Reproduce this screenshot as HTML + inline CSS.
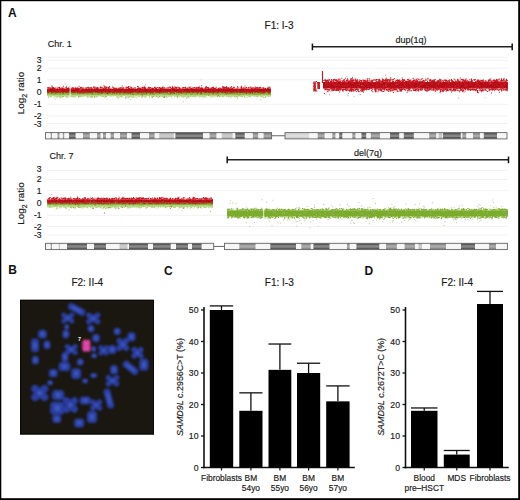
<!DOCTYPE html>
<html><head><meta charset="utf-8"><style>
html,body{margin:0;padding:0;background:#fff;width:520px;height:500px;overflow:hidden;}
svg{display:block;font-family:"Liberation Sans",sans-serif;}
text{stroke:#1a1a1a;stroke-width:0.16px;}
</style></head><body>
<svg width="520" height="500" viewBox="0 0 520 500" font-family="Liberation Sans, sans-serif">
<rect width="520" height="500" fill="#fff"/>
<text x="8" y="17.4" font-size="12" text-anchor="start" font-weight="bold" font-style="normal" fill="#111" style="stroke:none">A</text>
<text x="264.6" y="29" font-size="10" text-anchor="start" font-weight="normal" font-style="normal" fill="#1a1a1a" >F1: I-3</text>
<text x="47.8" y="47" font-size="9" text-anchor="start" font-weight="normal" font-style="normal" fill="#1a1a1a" >Chr. 1</text>
<line x1="312.4" y1="46.8" x2="512.2" y2="46.8" stroke="#222" stroke-width="1.4"/>
<line x1="312.4" y1="43.599999999999994" x2="312.4" y2="50.199999999999996" stroke="#111" stroke-width="1.5"/>
<line x1="512.2" y1="43.599999999999994" x2="512.2" y2="50.199999999999996" stroke="#111" stroke-width="1.5"/>
<text x="395.6" y="43" font-size="9" text-anchor="start" font-weight="normal" font-style="normal" fill="#1a1a1a" >dup(1q)</text>
<line x1="47" y1="57.2" x2="508" y2="57.2" stroke="#eeeeee" stroke-width="0.7"/>
<line x1="47" y1="60.2" x2="508" y2="60.2" stroke="#eeeeee" stroke-width="0.7"/>
<line x1="47" y1="68.2" x2="508" y2="68.2" stroke="#eeeeee" stroke-width="0.7"/>
<line x1="47" y1="79.8" x2="508" y2="79.8" stroke="#eeeeee" stroke-width="0.7"/>
<line x1="47" y1="104.3" x2="508" y2="104.3" stroke="#eeeeee" stroke-width="0.7"/>
<line x1="47" y1="116" x2="508" y2="116" stroke="#eeeeee" stroke-width="0.7"/>
<line x1="47" y1="123.5" x2="508" y2="123.5" stroke="#eeeeee" stroke-width="0.7"/>
<text x="41.6" y="63.25" font-size="8.6" text-anchor="end" font-weight="normal" font-style="normal" fill="#1a1a1a" >3</text>
<text x="41.6" y="71.25" font-size="8.6" text-anchor="end" font-weight="normal" font-style="normal" fill="#1a1a1a" >2</text>
<text x="41.6" y="82.85" font-size="8.6" text-anchor="end" font-weight="normal" font-style="normal" fill="#1a1a1a" >1</text>
<text x="41.6" y="95.25" font-size="8.6" text-anchor="end" font-weight="normal" font-style="normal" fill="#1a1a1a" >0</text>
<text x="41.6" y="107.35" font-size="8.6" text-anchor="end" font-weight="normal" font-style="normal" fill="#1a1a1a" >-1</text>
<text x="41.6" y="119.05" font-size="8.6" text-anchor="end" font-weight="normal" font-style="normal" fill="#1a1a1a" >-2</text>
<text x="41.6" y="126.55" font-size="8.6" text-anchor="end" font-weight="normal" font-style="normal" fill="#1a1a1a" >-3</text>
<text transform="translate(23.6,93) rotate(-90)" font-size="9.9" text-anchor="middle" fill="#1a1a1a">Log<tspan font-size="7" dy="3.0">2</tspan><tspan dy="-3.0"> ratio</tspan></text>
<rect x="47" y="92.4" width="224" height="2.799999999999997" fill="#86b034"/>
<path d="M119.2 91.9h1.0v1.0h-1.0zM166.5 91.8h1.0v1.0h-1.0zM59.9 95.7h1.0v1.0h-1.0zM62.6 91.9h1.0v1.0h-1.0zM141.7 95.2h1.0v1.0h-1.0zM186.9 95.2h1.0v1.0h-1.0zM175.7 91.8h1.0v1.0h-1.0zM238.4 91.9h1.0v1.0h-1.0zM79.2 91.8h1.0v1.0h-1.0zM87.3 96.4h1.0v1.0h-1.0zM189.5 91.8h1.0v1.0h-1.0zM60.3 91.9h1.0v1.0h-1.0zM198.7 91.8h1.0v1.0h-1.0zM148.1 91.7h1.0v1.0h-1.0zM224.1 94.7h1.0v1.0h-1.0zM164.1 96.0h1.0v1.0h-1.0zM209.7 91.8h1.0v1.0h-1.0zM140.2 94.8h1.0v1.0h-1.0zM80.9 91.6h1.0v1.0h-1.0zM217.5 95.1h1.0v1.0h-1.0zM242.2 91.8h1.0v1.0h-1.0zM176.3 91.6h1.0v1.0h-1.0zM234.3 96.2h1.0v1.0h-1.0zM60.5 94.9h1.0v1.0h-1.0zM191.3 95.1h1.0v1.0h-1.0zM133.0 95.4h1.0v1.0h-1.0zM52.0 91.9h1.0v1.0h-1.0zM60.1 95.1h1.0v1.0h-1.0zM75.8 91.6h1.0v1.0h-1.0zM65.0 91.6h1.0v1.0h-1.0zM169.5 95.5h1.0v1.0h-1.0zM109.1 91.5h1.0v1.0h-1.0zM127.0 95.3h1.0v1.0h-1.0zM86.3 91.9h1.0v1.0h-1.0zM99.0 91.8h1.0v1.0h-1.0zM47.9 91.8h1.0v1.0h-1.0zM129.3 96.2h1.0v1.0h-1.0zM162.0 95.1h1.0v1.0h-1.0zM197.8 91.6h1.0v1.0h-1.0zM242.0 95.7h1.0v1.0h-1.0zM134.5 91.7h1.0v1.0h-1.0zM60.9 91.7h1.0v1.0h-1.0zM93.6 91.9h1.0v1.0h-1.0zM47.1 91.8h1.0v1.0h-1.0zM69.6 91.5h1.0v1.0h-1.0zM183.9 91.8h1.0v1.0h-1.0zM103.3 91.8h1.0v1.0h-1.0zM236.3 95.1h1.0v1.0h-1.0zM150.9 91.8h1.0v1.0h-1.0zM123.4 91.9h1.0v1.0h-1.0zM231.8 91.4h1.0v1.0h-1.0zM164.8 91.8h1.0v1.0h-1.0zM168.1 91.4h1.0v1.0h-1.0zM239.5 95.2h1.0v1.0h-1.0zM105.2 91.7h1.0v1.0h-1.0zM165.8 96.2h1.0v1.0h-1.0zM120.5 91.7h1.0v1.0h-1.0zM237.1 97.4h1.0v1.0h-1.0zM229.5 94.9h1.0v1.0h-1.0zM126.3 91.7h1.0v1.0h-1.0zM53.2 91.9h1.0v1.0h-1.0zM260.3 91.6h1.0v1.0h-1.0zM256.0 95.6h1.0v1.0h-1.0zM96.2 91.8h1.0v1.0h-1.0zM90.9 91.6h1.0v1.0h-1.0zM234.4 91.6h1.0v1.0h-1.0zM192.6 96.0h1.0v1.0h-1.0zM249.9 95.4h1.0v1.0h-1.0zM214.3 91.7h1.0v1.0h-1.0zM121.2 96.3h1.0v1.0h-1.0zM263.7 91.5h1.0v1.0h-1.0zM208.6 91.6h1.0v1.0h-1.0zM75.3 91.6h1.0v1.0h-1.0zM79.6 95.7h1.0v1.0h-1.0zM265.6 95.4h1.0v1.0h-1.0zM76.2 91.7h1.0v1.0h-1.0zM263.5 97.0h1.0v1.0h-1.0zM143.7 95.1h1.0v1.0h-1.0zM231.2 91.9h1.0v1.0h-1.0zM100.6 95.5h1.0v1.0h-1.0zM104.8 91.6h1.0v1.0h-1.0zM125.9 91.6h1.0v1.0h-1.0zM177.1 96.7h1.0v1.0h-1.0zM158.9 95.8h1.0v1.0h-1.0zM163.7 91.8h1.0v1.0h-1.0zM47.9 94.9h1.0v1.0h-1.0zM85.4 91.9h1.0v1.0h-1.0zM119.7 96.0h1.0v1.0h-1.0zM170.9 95.7h1.0v1.0h-1.0zM102.4 91.7h1.0v1.0h-1.0zM219.2 96.3h1.0v1.0h-1.0zM250.5 91.8h1.0v1.0h-1.0zM183.6 96.2h1.0v1.0h-1.0zM147.9 94.8h1.0v1.0h-1.0zM153.6 95.3h1.0v1.0h-1.0zM257.1 91.5h1.0v1.0h-1.0zM171.8 95.0h1.0v1.0h-1.0zM74.1 91.8h1.0v1.0h-1.0zM63.2 91.6h1.0v1.0h-1.0zM221.8 95.4h1.0v1.0h-1.0zM81.4 95.0h1.0v1.0h-1.0zM243.9 95.2h1.0v1.0h-1.0zM96.0 95.6h1.0v1.0h-1.0zM267.7 95.4h1.0v1.0h-1.0zM83.0 91.7h1.0v1.0h-1.0zM90.7 91.9h1.0v1.0h-1.0zM208.0 91.7h1.0v1.0h-1.0zM51.0 91.8h1.0v1.0h-1.0zM186.1 97.4h1.0v1.0h-1.0zM222.8 95.8h1.0v1.0h-1.0zM70.4 91.6h1.0v1.0h-1.0zM107.3 91.8h1.0v1.0h-1.0zM141.2 95.0h1.0v1.0h-1.0zM80.3 95.4h1.0v1.0h-1.0zM174.2 95.0h1.0v1.0h-1.0zM200.5 91.9h1.0v1.0h-1.0zM63.1 95.9h1.0v1.0h-1.0zM65.7 96.0h1.0v1.0h-1.0zM61.9 95.6h1.0v1.0h-1.0zM170.3 95.0h1.0v1.0h-1.0zM106.7 91.8h1.0v1.0h-1.0zM71.4 91.9h1.0v1.0h-1.0zM58.2 91.8h1.0v1.0h-1.0zM216.4 91.7h1.0v1.0h-1.0zM158.5 91.9h1.0v1.0h-1.0zM102.9 91.9h1.0v1.0h-1.0zM210.5 95.1h1.0v1.0h-1.0zM255.4 91.7h1.0v1.0h-1.0zM229.6 91.5h1.0v1.0h-1.0zM134.7 94.8h1.0v1.0h-1.0zM200.4 95.7h1.0v1.0h-1.0zM204.6 96.3h1.0v1.0h-1.0zM137.2 91.8h1.0v1.0h-1.0zM62.8 94.9h1.0v1.0h-1.0zM104.0 91.6h1.0v1.0h-1.0zM241.1 95.7h1.0v1.0h-1.0zM109.9 91.8h1.0v1.0h-1.0zM82.1 91.7h1.0v1.0h-1.0zM105.7 95.9h1.0v1.0h-1.0zM101.5 94.9h1.0v1.0h-1.0zM116.0 91.7h1.0v1.0h-1.0zM152.8 94.7h1.0v1.0h-1.0zM91.8 95.5h1.0v1.0h-1.0zM67.0 91.9h1.0v1.0h-1.0zM56.3 91.9h1.0v1.0h-1.0zM177.6 95.4h1.0v1.0h-1.0zM214.4 95.1h1.0v1.0h-1.0zM133.9 91.5h1.0v1.0h-1.0zM266.6 91.9h1.0v1.0h-1.0zM56.8 96.1h1.0v1.0h-1.0zM245.9 94.9h1.0v1.0h-1.0zM78.1 96.5h1.0v1.0h-1.0zM159.5 95.3h1.0v1.0h-1.0zM177.2 96.5h1.0v1.0h-1.0zM199.3 94.7h1.0v1.0h-1.0zM76.7 91.9h1.0v1.0h-1.0zM70.4 96.0h1.0v1.0h-1.0zM186.6 95.2h1.0v1.0h-1.0zM156.1 91.8h1.0v1.0h-1.0zM159.2 96.3h1.0v1.0h-1.0zM194.0 91.9h1.0v1.0h-1.0zM63.6 91.7h1.0v1.0h-1.0zM209.6 91.9h1.0v1.0h-1.0zM157.2 91.4h1.0v1.0h-1.0zM153.8 94.8h1.0v1.0h-1.0zM190.3 91.6h1.0v1.0h-1.0zM79.9 91.9h1.0v1.0h-1.0zM173.6 91.7h1.0v1.0h-1.0zM60.5 91.8h1.0v1.0h-1.0zM197.7 91.6h1.0v1.0h-1.0zM162.2 91.8h1.0v1.0h-1.0zM246.3 91.9h1.0v1.0h-1.0zM265.1 95.8h1.0v1.0h-1.0zM229.8 94.8h1.0v1.0h-1.0zM147.2 91.8h1.0v1.0h-1.0zM94.0 97.0h1.0v1.0h-1.0zM78.6 95.2h1.0v1.0h-1.0zM229.9 94.9h1.0v1.0h-1.0zM244.8 94.9h1.0v1.0h-1.0zM155.4 91.5h1.0v1.0h-1.0zM47.8 91.7h1.0v1.0h-1.0zM78.4 91.8h1.0v1.0h-1.0zM117.5 96.4h1.0v1.0h-1.0zM234.1 91.9h1.0v1.0h-1.0zM253.6 95.4h1.0v1.0h-1.0zM130.0 91.8h1.0v1.0h-1.0zM269.7 95.4h1.0v1.0h-1.0zM108.4 91.7h1.0v1.0h-1.0zM69.7 95.2h1.0v1.0h-1.0zM102.6 91.4h1.0v1.0h-1.0zM160.9 91.6h1.0v1.0h-1.0zM244.2 96.5h1.0v1.0h-1.0zM187.7 95.9h1.0v1.0h-1.0zM207.5 91.8h1.0v1.0h-1.0zM210.3 91.9h1.0v1.0h-1.0zM110.8 91.6h1.0v1.0h-1.0zM253.7 91.7h1.0v1.0h-1.0zM113.4 94.9h1.0v1.0h-1.0zM264.7 91.8h1.0v1.0h-1.0zM171.3 91.8h1.0v1.0h-1.0zM84.3 91.8h1.0v1.0h-1.0zM157.8 91.5h1.0v1.0h-1.0zM249.1 95.2h1.0v1.0h-1.0zM89.9 91.9h1.0v1.0h-1.0zM123.3 91.9h1.0v1.0h-1.0zM174.0 95.5h1.0v1.0h-1.0zM214.2 91.7h1.0v1.0h-1.0zM131.0 91.8h1.0v1.0h-1.0zM60.8 91.8h1.0v1.0h-1.0zM159.3 94.8h1.0v1.0h-1.0zM239.4 91.9h1.0v1.0h-1.0zM136.1 91.8h1.0v1.0h-1.0zM259.7 94.8h1.0v1.0h-1.0zM54.2 94.9h1.0v1.0h-1.0zM246.7 91.9h1.0v1.0h-1.0zM134.3 94.7h1.0v1.0h-1.0zM231.1 95.4h1.0v1.0h-1.0zM71.3 91.9h1.0v1.0h-1.0zM163.5 96.2h1.0v1.0h-1.0zM191.4 95.3h1.0v1.0h-1.0zM149.0 96.4h1.0v1.0h-1.0zM98.9 95.1h1.0v1.0h-1.0zM190.9 91.8h1.0v1.0h-1.0zM188.9 95.2h1.0v1.0h-1.0zM72.0 91.6h1.0v1.0h-1.0zM133.5 91.9h1.0v1.0h-1.0zM181.0 91.8h1.0v1.0h-1.0zM260.8 95.8h1.0v1.0h-1.0zM244.1 91.9h1.0v1.0h-1.0zM261.2 95.4h1.0v1.0h-1.0zM115.5 91.6h1.0v1.0h-1.0zM140.7 91.9h1.0v1.0h-1.0zM195.8 94.7h1.0v1.0h-1.0zM122.4 91.8h1.0v1.0h-1.0zM199.2 91.8h1.0v1.0h-1.0zM159.6 91.6h1.0v1.0h-1.0zM263.3 91.8h1.0v1.0h-1.0zM96.4 95.4h1.0v1.0h-1.0zM112.8 95.3h1.0v1.0h-1.0zM96.8 91.9h1.0v1.0h-1.0zM195.4 95.3h1.0v1.0h-1.0zM94.5 95.5h1.0v1.0h-1.0zM78.6 91.7h1.0v1.0h-1.0zM247.3 95.1h1.0v1.0h-1.0zM210.4 95.5h1.0v1.0h-1.0zM88.4 95.1h1.0v1.0h-1.0zM213.4 91.8h1.0v1.0h-1.0zM130.4 91.7h1.0v1.0h-1.0zM84.7 91.9h1.0v1.0h-1.0zM260.1 91.7h1.0v1.0h-1.0zM262.0 91.7h1.0v1.0h-1.0zM230.3 91.6h1.0v1.0h-1.0zM58.0 91.6h1.0v1.0h-1.0zM90.0 91.6h1.0v1.0h-1.0zM247.0 91.6h1.0v1.0h-1.0zM218.0 91.7h1.0v1.0h-1.0zM54.8 91.8h1.0v1.0h-1.0zM213.6 95.1h1.0v1.0h-1.0zM122.6 91.6h1.0v1.0h-1.0zM105.5 95.1h1.0v1.0h-1.0zM117.6 91.6h1.0v1.0h-1.0zM251.4 94.7h1.0v1.0h-1.0zM257.3 91.9h1.0v1.0h-1.0zM260.4 95.8h1.0v1.0h-1.0zM133.2 91.7h1.0v1.0h-1.0zM254.0 91.8h1.0v1.0h-1.0zM226.0 95.5h1.0v1.0h-1.0zM182.4 91.6h1.0v1.0h-1.0zM118.3 91.9h1.0v1.0h-1.0zM91.0 95.1h1.0v1.0h-1.0zM102.1 91.7h1.0v1.0h-1.0zM119.6 95.0h1.0v1.0h-1.0zM244.0 94.7h1.0v1.0h-1.0zM68.5 91.8h1.0v1.0h-1.0zM205.3 91.9h1.0v1.0h-1.0zM185.3 95.7h1.0v1.0h-1.0zM213.8 95.0h1.0v1.0h-1.0zM234.5 91.8h1.0v1.0h-1.0zM173.4 91.9h1.0v1.0h-1.0zM102.2 91.8h1.0v1.0h-1.0zM81.2 95.5h1.0v1.0h-1.0zM135.3 95.1h1.0v1.0h-1.0zM160.1 91.8h1.0v1.0h-1.0zM268.0 91.6h1.0v1.0h-1.0zM152.9 95.9h1.0v1.0h-1.0zM56.0 91.5h1.0v1.0h-1.0zM73.6 91.6h1.0v1.0h-1.0zM254.4 91.9h1.0v1.0h-1.0zM240.1 91.9h1.0v1.0h-1.0zM257.9 91.6h1.0v1.0h-1.0zM179.9 94.9h1.0v1.0h-1.0zM78.5 91.7h1.0v1.0h-1.0zM103.8 95.1h1.0v1.0h-1.0zM49.5 91.8h1.0v1.0h-1.0zM198.3 91.8h1.0v1.0h-1.0zM224.3 95.3h1.0v1.0h-1.0zM61.1 91.7h1.0v1.0h-1.0zM189.5 91.7h1.0v1.0h-1.0zM83.5 95.4h1.0v1.0h-1.0zM115.6 95.1h1.0v1.0h-1.0zM116.7 95.3h1.0v1.0h-1.0zM239.7 95.5h1.0v1.0h-1.0zM128.1 91.9h1.0v1.0h-1.0zM48.3 95.4h1.0v1.0h-1.0zM141.5 96.4h1.0v1.0h-1.0zM149.8 91.7h1.0v1.0h-1.0zM50.3 96.1h1.0v1.0h-1.0zM66.9 96.4h1.0v1.0h-1.0zM129.7 95.2h1.0v1.0h-1.0zM163.2 95.3h1.0v1.0h-1.0zM71.3 91.7h1.0v1.0h-1.0zM91.0 91.4h1.0v1.0h-1.0zM257.3 95.0h1.0v1.0h-1.0zM253.5 91.9h1.0v1.0h-1.0zM248.6 95.0h1.0v1.0h-1.0zM222.2 91.8h1.0v1.0h-1.0zM137.2 95.0h1.0v1.0h-1.0zM95.6 91.8h1.0v1.0h-1.0zM162.5 91.8h1.0v1.0h-1.0zM208.6 95.2h1.0v1.0h-1.0zM56.2 94.7h1.0v1.0h-1.0zM233.9 91.8h1.0v1.0h-1.0zM180.7 95.3h1.0v1.0h-1.0zM140.7 95.3h1.0v1.0h-1.0zM141.9 95.7h1.0v1.0h-1.0zM52.2 95.1h1.0v1.0h-1.0zM156.2 91.9h1.0v1.0h-1.0zM149.2 91.6h1.0v1.0h-1.0zM152.5 91.8h1.0v1.0h-1.0zM67.5 91.7h1.0v1.0h-1.0zM160.8 91.8h1.0v1.0h-1.0zM210.6 95.0h1.0v1.0h-1.0zM161.1 91.7h1.0v1.0h-1.0zM259.0 91.9h1.0v1.0h-1.0zM238.1 94.9h1.0v1.0h-1.0zM90.2 96.5h1.0v1.0h-1.0zM156.7 95.2h1.0v1.0h-1.0zM222.8 95.0h1.0v1.0h-1.0zM61.6 91.9h1.0v1.0h-1.0zM246.9 91.8h1.0v1.0h-1.0zM228.9 91.5h1.0v1.0h-1.0zM93.5 91.9h1.0v1.0h-1.0zM159.8 91.8h1.0v1.0h-1.0zM83.0 94.8h1.0v1.0h-1.0zM198.6 95.6h1.0v1.0h-1.0zM72.7 96.2h1.0v1.0h-1.0zM188.9 91.7h1.0v1.0h-1.0zM176.3 95.6h1.0v1.0h-1.0zM70.3 95.4h1.0v1.0h-1.0zM224.9 91.8h1.0v1.0h-1.0zM267.9 95.8h1.0v1.0h-1.0zM145.6 91.6h1.0v1.0h-1.0zM212.8 91.8h1.0v1.0h-1.0zM189.6 95.4h1.0v1.0h-1.0zM177.6 94.7h1.0v1.0h-1.0zM54.5 91.9h1.0v1.0h-1.0zM184.4 91.5h1.0v1.0h-1.0zM76.4 91.9h1.0v1.0h-1.0zM192.6 91.7h1.0v1.0h-1.0zM70.7 91.9h1.0v1.0h-1.0zM97.0 95.3h1.0v1.0h-1.0zM186.1 91.8h1.0v1.0h-1.0zM77.0 94.7h1.0v1.0h-1.0zM68.4 95.3h1.0v1.0h-1.0zM241.3 95.3h1.0v1.0h-1.0zM49.6 95.2h1.0v1.0h-1.0zM172.4 91.8h1.0v1.0h-1.0zM256.0 95.6h1.0v1.0h-1.0zM102.4 95.9h1.0v1.0h-1.0zM137.5 91.8h1.0v1.0h-1.0zM60.0 96.0h1.0v1.0h-1.0zM256.8 91.9h1.0v1.0h-1.0zM91.5 96.1h1.0v1.0h-1.0zM228.4 91.9h1.0v1.0h-1.0zM116.0 91.5h1.0v1.0h-1.0zM221.6 95.3h1.0v1.0h-1.0zM48.4 94.7h1.0v1.0h-1.0zM212.4 91.7h1.0v1.0h-1.0zM97.4 91.9h1.0v1.0h-1.0zM121.8 95.0h1.0v1.0h-1.0zM202.0 94.9h1.0v1.0h-1.0zM170.5 91.7h1.0v1.0h-1.0zM222.8 94.8h1.0v1.0h-1.0zM262.2 91.6h1.0v1.0h-1.0zM243.3 91.9h1.0v1.0h-1.0zM212.9 95.4h1.0v1.0h-1.0zM213.4 91.8h1.0v1.0h-1.0zM100.3 95.3h1.0v1.0h-1.0zM187.6 96.1h1.0v1.0h-1.0zM151.7 97.1h1.0v1.0h-1.0zM202.6 96.2h1.0v1.0h-1.0zM174.2 91.8h1.0v1.0h-1.0zM94.3 96.6h1.0v1.0h-1.0zM79.2 91.7h1.0v1.0h-1.0zM70.8 95.0h1.0v1.0h-1.0zM53.4 91.8h1.0v1.0h-1.0zM201.5 95.2h1.0v1.0h-1.0zM61.7 96.2h1.0v1.0h-1.0zM128.0 95.6h1.0v1.0h-1.0zM61.7 96.6h1.0v1.0h-1.0zM250.9 95.2h1.0v1.0h-1.0zM72.0 91.8h1.0v1.0h-1.0zM236.0 95.9h1.0v1.0h-1.0zM187.8 91.6h1.0v1.0h-1.0zM69.3 91.9h1.0v1.0h-1.0zM118.2 91.8h1.0v1.0h-1.0zM51.7 91.8h1.0v1.0h-1.0zM129.1 91.6h1.0v1.0h-1.0zM262.0 95.5h1.0v1.0h-1.0zM53.9 91.7h1.0v1.0h-1.0zM144.3 95.6h1.0v1.0h-1.0zM166.9 91.6h1.0v1.0h-1.0zM239.3 91.8h1.0v1.0h-1.0zM47.3 91.8h1.0v1.0h-1.0zM217.0 95.9h1.0v1.0h-1.0zM156.6 94.7h1.0v1.0h-1.0zM88.1 91.7h1.0v1.0h-1.0zM105.1 96.2h1.0v1.0h-1.0zM110.3 91.8h1.0v1.0h-1.0zM71.5 95.8h1.0v1.0h-1.0zM65.0 95.3h1.0v1.0h-1.0zM187.0 91.6h1.0v1.0h-1.0zM136.5 91.8h1.0v1.0h-1.0zM245.1 91.8h1.0v1.0h-1.0zM93.0 91.7h1.0v1.0h-1.0zM131.6 95.4h1.0v1.0h-1.0zM99.1 91.6h1.0v1.0h-1.0zM214.9 95.0h1.0v1.0h-1.0zM124.7 91.7h1.0v1.0h-1.0zM194.6 96.3h1.0v1.0h-1.0zM84.8 91.9h1.0v1.0h-1.0zM75.1 91.6h1.0v1.0h-1.0zM244.4 91.8h1.0v1.0h-1.0zM203.8 95.5h1.0v1.0h-1.0zM81.5 91.9h1.0v1.0h-1.0zM163.4 91.7h1.0v1.0h-1.0zM120.2 91.6h1.0v1.0h-1.0zM69.7 95.0h1.0v1.0h-1.0zM69.7 91.5h1.0v1.0h-1.0zM210.5 91.9h1.0v1.0h-1.0zM90.8 95.2h1.0v1.0h-1.0zM133.6 91.8h1.0v1.0h-1.0zM136.0 95.1h1.0v1.0h-1.0zM188.0 91.7h1.0v1.0h-1.0zM78.6 96.1h1.0v1.0h-1.0zM249.5 91.7h1.0v1.0h-1.0zM175.0 95.3h1.0v1.0h-1.0zM208.1 95.0h1.0v1.0h-1.0zM219.6 95.6h1.0v1.0h-1.0zM190.1 91.7h1.0v1.0h-1.0zM116.8 95.6h1.0v1.0h-1.0zM221.5 95.3h1.0v1.0h-1.0zM187.4 91.7h1.0v1.0h-1.0zM185.6 91.8h1.0v1.0h-1.0zM197.6 95.3h1.0v1.0h-1.0zM220.5 91.6h1.0v1.0h-1.0zM156.2 95.9h1.0v1.0h-1.0zM82.9 95.0h1.0v1.0h-1.0zM256.8 95.8h1.0v1.0h-1.0zM167.7 95.5h1.0v1.0h-1.0zM161.2 95.3h1.0v1.0h-1.0zM138.5 95.8h1.0v1.0h-1.0zM93.8 96.0h1.0v1.0h-1.0zM74.3 95.8h1.0v1.0h-1.0zM126.3 91.9h1.0v1.0h-1.0zM50.0 91.7h1.0v1.0h-1.0zM140.8 95.2h1.0v1.0h-1.0zM97.0 95.3h1.0v1.0h-1.0zM256.6 95.0h1.0v1.0h-1.0zM134.4 91.5h1.0v1.0h-1.0zM75.8 95.2h1.0v1.0h-1.0zM151.6 96.0h1.0v1.0h-1.0zM97.4 95.6h1.0v1.0h-1.0zM229.6 95.8h1.0v1.0h-1.0zM151.4 91.8h1.0v1.0h-1.0zM232.9 91.9h1.0v1.0h-1.0zM236.7 91.8h1.0v1.0h-1.0zM142.0 91.8h1.0v1.0h-1.0zM47.6 94.8h1.0v1.0h-1.0zM114.3 91.8h1.0v1.0h-1.0zM142.6 95.2h1.0v1.0h-1.0zM254.1 95.5h1.0v1.0h-1.0zM59.7 96.2h1.0v1.0h-1.0zM78.3 95.7h1.0v1.0h-1.0zM188.2 91.4h1.0v1.0h-1.0zM193.3 91.9h1.0v1.0h-1.0zM69.6 91.9h1.0v1.0h-1.0zM124.3 91.6h1.0v1.0h-1.0zM248.6 95.7h1.0v1.0h-1.0zM182.7 96.5h1.0v1.0h-1.0zM196.1 95.2h1.0v1.0h-1.0zM91.0 96.6h1.0v1.0h-1.0zM165.4 96.6h1.0v1.0h-1.0zM170.8 91.7h1.0v1.0h-1.0zM99.2 91.8h1.0v1.0h-1.0zM151.2 91.9h1.0v1.0h-1.0zM156.6 91.5h1.0v1.0h-1.0zM48.5 95.2h1.0v1.0h-1.0zM151.4 95.7h1.0v1.0h-1.0zM130.6 91.6h1.0v1.0h-1.0z" fill="#86b034" opacity="1.0"/>
<rect x="47" y="95.0" width="224" height="1.2000000000000028" fill="#b8d888"/>
<path d="M261.2 94.4h1.0v1.0h-1.0zM53.4 96.6h1.0v1.0h-1.0zM199.2 96.8h1.0v1.0h-1.0zM160.9 94.3h1.0v1.0h-1.0zM247.2 94.5h1.0v1.0h-1.0zM122.5 96.8h1.0v1.0h-1.0zM128.7 94.3h1.0v1.0h-1.0zM94.0 94.5h1.0v1.0h-1.0zM141.2 96.0h1.0v1.0h-1.0zM231.6 94.4h1.0v1.0h-1.0zM159.3 94.2h1.0v1.0h-1.0zM193.0 95.8h1.0v1.0h-1.0zM120.8 94.5h1.0v1.0h-1.0zM188.6 96.7h1.0v1.0h-1.0zM55.9 96.5h1.0v1.0h-1.0zM58.1 94.4h1.0v1.0h-1.0zM48.4 94.4h1.0v1.0h-1.0zM193.7 96.2h1.0v1.0h-1.0zM249.9 96.5h1.0v1.0h-1.0zM202.3 96.5h1.0v1.0h-1.0zM198.9 94.4h1.0v1.0h-1.0zM217.1 94.4h1.0v1.0h-1.0zM87.4 94.5h1.0v1.0h-1.0zM193.2 94.3h1.0v1.0h-1.0zM230.4 96.3h1.0v1.0h-1.0zM114.4 94.5h1.0v1.0h-1.0zM118.0 94.4h1.0v1.0h-1.0zM59.2 97.1h1.0v1.0h-1.0zM55.8 94.5h1.0v1.0h-1.0zM251.9 94.4h1.0v1.0h-1.0zM50.2 94.3h1.0v1.0h-1.0zM265.7 94.4h1.0v1.0h-1.0zM139.0 94.5h1.0v1.0h-1.0zM80.8 94.4h1.0v1.0h-1.0zM48.1 97.2h1.0v1.0h-1.0zM66.7 97.1h1.0v1.0h-1.0zM75.8 94.5h1.0v1.0h-1.0zM210.6 94.4h1.0v1.0h-1.0zM58.2 96.1h1.0v1.0h-1.0zM209.7 94.3h1.0v1.0h-1.0zM187.2 97.5h1.0v1.0h-1.0zM103.7 96.2h1.0v1.0h-1.0zM206.9 94.4h1.0v1.0h-1.0zM229.3 94.5h1.0v1.0h-1.0zM116.4 96.5h1.0v1.0h-1.0zM155.5 94.3h1.0v1.0h-1.0zM129.0 96.8h1.0v1.0h-1.0zM79.3 96.2h1.0v1.0h-1.0zM128.0 96.3h1.0v1.0h-1.0zM133.0 96.3h1.0v1.0h-1.0zM257.7 96.3h1.0v1.0h-1.0zM60.5 96.0h1.0v1.0h-1.0zM203.8 96.2h1.0v1.0h-1.0zM265.0 96.6h1.0v1.0h-1.0zM181.1 94.3h1.0v1.0h-1.0zM131.0 96.4h1.0v1.0h-1.0zM181.2 95.9h1.0v1.0h-1.0zM47.4 94.4h1.0v1.0h-1.0zM141.2 96.4h1.0v1.0h-1.0zM56.4 97.2h1.0v1.0h-1.0zM228.0 96.3h1.0v1.0h-1.0zM236.8 96.0h1.0v1.0h-1.0zM199.7 95.9h1.0v1.0h-1.0zM170.5 96.0h1.0v1.0h-1.0zM91.7 96.2h1.0v1.0h-1.0zM182.3 95.9h1.0v1.0h-1.0zM150.8 94.5h1.0v1.0h-1.0zM223.5 94.3h1.0v1.0h-1.0zM66.6 95.8h1.0v1.0h-1.0zM176.2 96.3h1.0v1.0h-1.0zM244.4 96.8h1.0v1.0h-1.0zM89.2 94.5h1.0v1.0h-1.0zM87.3 96.4h1.0v1.0h-1.0zM136.8 96.5h1.0v1.0h-1.0zM80.2 94.4h1.0v1.0h-1.0zM70.7 95.7h1.0v1.0h-1.0zM222.6 94.4h1.0v1.0h-1.0zM162.8 94.4h1.0v1.0h-1.0zM54.5 96.3h1.0v1.0h-1.0zM173.5 94.4h1.0v1.0h-1.0zM220.8 94.3h1.0v1.0h-1.0zM229.6 96.2h1.0v1.0h-1.0zM103.6 94.5h1.0v1.0h-1.0zM65.7 94.4h1.0v1.0h-1.0zM171.3 97.6h1.0v1.0h-1.0zM249.9 94.4h1.0v1.0h-1.0zM180.4 94.3h1.0v1.0h-1.0zM104.4 97.1h1.0v1.0h-1.0zM189.9 96.1h1.0v1.0h-1.0zM147.0 94.4h1.0v1.0h-1.0zM262.4 95.7h1.0v1.0h-1.0zM104.1 94.5h1.0v1.0h-1.0zM248.3 95.8h1.0v1.0h-1.0zM222.4 95.9h1.0v1.0h-1.0zM191.2 96.1h1.0v1.0h-1.0zM215.4 95.9h1.0v1.0h-1.0zM197.9 94.4h1.0v1.0h-1.0zM70.5 94.4h1.0v1.0h-1.0zM104.3 94.4h1.0v1.0h-1.0zM100.2 94.5h1.0v1.0h-1.0zM198.1 94.5h1.0v1.0h-1.0zM55.0 96.2h1.0v1.0h-1.0zM96.2 96.8h1.0v1.0h-1.0zM78.2 94.3h1.0v1.0h-1.0zM68.6 96.3h1.0v1.0h-1.0zM147.9 94.4h1.0v1.0h-1.0zM230.5 94.5h1.0v1.0h-1.0zM96.4 94.5h1.0v1.0h-1.0zM206.2 96.7h1.0v1.0h-1.0zM106.4 94.3h1.0v1.0h-1.0zM81.7 94.5h1.0v1.0h-1.0zM84.4 94.4h1.0v1.0h-1.0zM117.9 97.4h1.0v1.0h-1.0zM59.7 97.2h1.0v1.0h-1.0zM196.0 94.4h1.0v1.0h-1.0zM104.5 94.5h1.0v1.0h-1.0zM128.2 97.5h1.0v1.0h-1.0zM68.8 94.5h1.0v1.0h-1.0zM246.9 94.5h1.0v1.0h-1.0zM265.2 94.4h1.0v1.0h-1.0zM227.0 94.5h1.0v1.0h-1.0zM232.6 95.7h1.0v1.0h-1.0zM88.4 94.4h1.0v1.0h-1.0zM174.4 94.5h1.0v1.0h-1.0zM87.2 95.8h1.0v1.0h-1.0zM64.7 94.4h1.0v1.0h-1.0zM182.7 94.5h1.0v1.0h-1.0zM183.6 96.2h1.0v1.0h-1.0zM228.0 95.8h1.0v1.0h-1.0zM210.4 94.5h1.0v1.0h-1.0zM207.9 94.5h1.0v1.0h-1.0zM234.7 96.4h1.0v1.0h-1.0zM156.9 94.4h1.0v1.0h-1.0zM241.5 94.4h1.0v1.0h-1.0zM88.5 96.0h1.0v1.0h-1.0zM129.8 96.1h1.0v1.0h-1.0zM48.0 96.6h1.0v1.0h-1.0zM73.9 96.0h1.0v1.0h-1.0zM229.1 96.2h1.0v1.0h-1.0zM132.0 96.8h1.0v1.0h-1.0zM60.6 96.6h1.0v1.0h-1.0zM161.5 96.0h1.0v1.0h-1.0zM166.8 94.4h1.0v1.0h-1.0zM87.7 94.5h1.0v1.0h-1.0zM102.9 96.1h1.0v1.0h-1.0zM202.9 94.5h1.0v1.0h-1.0zM50.9 96.6h1.0v1.0h-1.0zM203.7 94.4h1.0v1.0h-1.0zM240.9 96.1h1.0v1.0h-1.0zM157.1 95.8h1.0v1.0h-1.0zM109.4 94.5h1.0v1.0h-1.0zM179.0 95.9h1.0v1.0h-1.0zM79.8 95.7h1.0v1.0h-1.0zM231.2 96.2h1.0v1.0h-1.0zM133.7 94.4h1.0v1.0h-1.0zM135.2 96.5h1.0v1.0h-1.0zM220.3 94.5h1.0v1.0h-1.0zM144.1 96.4h1.0v1.0h-1.0zM226.4 96.3h1.0v1.0h-1.0zM58.9 97.1h1.0v1.0h-1.0zM260.6 95.7h1.0v1.0h-1.0zM188.1 94.4h1.0v1.0h-1.0zM165.4 94.4h1.0v1.0h-1.0zM51.6 94.5h1.0v1.0h-1.0zM263.2 96.7h1.0v1.0h-1.0zM227.5 96.1h1.0v1.0h-1.0zM244.3 94.5h1.0v1.0h-1.0zM198.3 94.4h1.0v1.0h-1.0zM167.9 96.1h1.0v1.0h-1.0zM163.0 94.4h1.0v1.0h-1.0zM259.0 94.5h1.0v1.0h-1.0zM73.8 96.8h1.0v1.0h-1.0zM260.2 95.8h1.0v1.0h-1.0zM166.0 94.4h1.0v1.0h-1.0zM74.6 94.5h1.0v1.0h-1.0zM111.3 94.4h1.0v1.0h-1.0zM66.6 96.3h1.0v1.0h-1.0zM174.1 96.6h1.0v1.0h-1.0zM91.9 96.7h1.0v1.0h-1.0zM183.7 94.5h1.0v1.0h-1.0zM116.2 94.5h1.0v1.0h-1.0zM132.4 96.6h1.0v1.0h-1.0zM49.6 94.5h1.0v1.0h-1.0zM171.1 94.4h1.0v1.0h-1.0zM110.5 96.1h1.0v1.0h-1.0zM82.4 94.3h1.0v1.0h-1.0zM241.3 94.4h1.0v1.0h-1.0zM145.1 96.0h1.0v1.0h-1.0zM71.4 94.3h1.0v1.0h-1.0zM81.5 94.5h1.0v1.0h-1.0zM125.6 96.9h1.0v1.0h-1.0zM230.1 96.7h1.0v1.0h-1.0zM211.7 95.8h1.0v1.0h-1.0zM222.0 96.6h1.0v1.0h-1.0zM251.0 94.5h1.0v1.0h-1.0zM217.7 95.8h1.0v1.0h-1.0zM158.0 96.4h1.0v1.0h-1.0zM221.8 96.1h1.0v1.0h-1.0zM182.4 94.4h1.0v1.0h-1.0zM208.2 94.5h1.0v1.0h-1.0zM134.1 96.2h1.0v1.0h-1.0zM222.5 96.2h1.0v1.0h-1.0zM158.4 94.5h1.0v1.0h-1.0zM79.3 96.3h1.0v1.0h-1.0zM176.7 94.4h1.0v1.0h-1.0zM235.1 96.0h1.0v1.0h-1.0zM260.8 94.3h1.0v1.0h-1.0zM49.4 94.4h1.0v1.0h-1.0zM173.0 94.3h1.0v1.0h-1.0zM167.1 96.4h1.0v1.0h-1.0zM162.4 96.0h1.0v1.0h-1.0zM126.8 96.4h1.0v1.0h-1.0zM125.3 96.1h1.0v1.0h-1.0zM69.1 94.4h1.0v1.0h-1.0zM136.4 97.2h1.0v1.0h-1.0zM262.1 94.4h1.0v1.0h-1.0zM145.2 96.4h1.0v1.0h-1.0zM165.2 95.7h1.0v1.0h-1.0zM85.1 94.3h1.0v1.0h-1.0zM161.3 94.5h1.0v1.0h-1.0zM246.5 96.7h1.0v1.0h-1.0zM245.1 94.2h1.0v1.0h-1.0zM81.9 94.4h1.0v1.0h-1.0zM88.9 94.5h1.0v1.0h-1.0zM187.5 97.2h1.0v1.0h-1.0zM188.9 94.2h1.0v1.0h-1.0zM138.7 96.1h1.0v1.0h-1.0zM47.9 94.4h1.0v1.0h-1.0zM234.8 96.0h1.0v1.0h-1.0zM158.0 96.2h1.0v1.0h-1.0zM106.3 98.4h1.0v1.0h-1.0zM175.1 94.4h1.0v1.0h-1.0zM74.1 94.5h1.0v1.0h-1.0zM69.3 94.5h1.0v1.0h-1.0zM163.5 96.8h1.0v1.0h-1.0zM60.9 94.4h1.0v1.0h-1.0zM218.8 94.5h1.0v1.0h-1.0zM84.8 94.4h1.0v1.0h-1.0zM69.2 96.3h1.0v1.0h-1.0zM147.3 94.5h1.0v1.0h-1.0zM59.2 97.5h1.0v1.0h-1.0zM145.0 96.7h1.0v1.0h-1.0zM102.6 94.3h1.0v1.0h-1.0zM117.2 96.4h1.0v1.0h-1.0zM228.9 94.3h1.0v1.0h-1.0zM157.5 96.9h1.0v1.0h-1.0zM101.2 94.5h1.0v1.0h-1.0zM115.9 96.3h1.0v1.0h-1.0zM155.0 95.7h1.0v1.0h-1.0zM126.9 94.4h1.0v1.0h-1.0zM263.7 94.5h1.0v1.0h-1.0zM166.0 94.5h1.0v1.0h-1.0zM136.9 94.4h1.0v1.0h-1.0zM125.3 94.4h1.0v1.0h-1.0zM89.6 94.5h1.0v1.0h-1.0zM195.1 94.5h1.0v1.0h-1.0zM81.8 96.2h1.0v1.0h-1.0zM233.2 94.5h1.0v1.0h-1.0zM145.9 95.9h1.0v1.0h-1.0zM125.7 96.1h1.0v1.0h-1.0zM131.0 96.2h1.0v1.0h-1.0zM159.6 94.3h1.0v1.0h-1.0zM148.0 94.5h1.0v1.0h-1.0zM247.6 96.3h1.0v1.0h-1.0zM129.1 94.4h1.0v1.0h-1.0zM241.5 94.5h1.0v1.0h-1.0zM161.4 95.9h1.0v1.0h-1.0zM132.8 97.1h1.0v1.0h-1.0zM173.6 94.5h1.0v1.0h-1.0zM86.5 95.9h1.0v1.0h-1.0zM118.6 96.5h1.0v1.0h-1.0zM127.6 96.4h1.0v1.0h-1.0zM113.2 94.5h1.0v1.0h-1.0zM75.1 96.2h1.0v1.0h-1.0zM110.0 94.4h1.0v1.0h-1.0zM243.9 96.4h1.0v1.0h-1.0zM76.5 94.4h1.0v1.0h-1.0zM195.0 94.5h1.0v1.0h-1.0zM139.0 95.9h1.0v1.0h-1.0zM235.8 94.4h1.0v1.0h-1.0zM187.2 94.3h1.0v1.0h-1.0zM210.7 96.9h1.0v1.0h-1.0zM56.0 94.5h1.0v1.0h-1.0zM114.6 94.4h1.0v1.0h-1.0zM55.7 94.5h1.0v1.0h-1.0zM234.2 96.1h1.0v1.0h-1.0zM206.8 94.4h1.0v1.0h-1.0zM124.8 94.4h1.0v1.0h-1.0zM233.0 95.8h1.0v1.0h-1.0zM237.5 95.9h1.0v1.0h-1.0zM57.6 94.4h1.0v1.0h-1.0zM93.9 96.6h1.0v1.0h-1.0zM214.1 94.5h1.0v1.0h-1.0zM213.7 96.5h1.0v1.0h-1.0zM109.7 94.4h1.0v1.0h-1.0zM254.4 96.0h1.0v1.0h-1.0zM211.7 96.3h1.0v1.0h-1.0zM59.1 96.3h1.0v1.0h-1.0zM142.5 96.1h1.0v1.0h-1.0zM216.9 94.5h1.0v1.0h-1.0z" fill="#b8d888" opacity="1.0"/>
<rect x="47" y="88.6" width="224" height="3.4000000000000057" fill="#cc1420"/>
<path d="M203.7 91.5h1.0v1.0h-1.0zM263.2 92.1h1.0v1.0h-1.0zM168.3 87.3h1.0v1.0h-1.0zM138.8 87.8h1.0v1.0h-1.0zM116.3 87.7h1.0v1.0h-1.0zM100.0 86.8h1.0v1.0h-1.0zM161.9 87.3h1.0v1.0h-1.0zM113.8 91.7h1.0v1.0h-1.0zM78.6 92.0h1.0v1.0h-1.0zM169.3 92.3h1.0v1.0h-1.0zM84.7 92.0h1.0v1.0h-1.0zM217.9 91.8h1.0v1.0h-1.0zM72.5 87.7h1.0v1.0h-1.0zM60.5 87.6h1.0v1.0h-1.0zM91.0 91.7h1.0v1.0h-1.0zM119.4 88.0h1.0v1.0h-1.0zM127.9 88.0h1.0v1.0h-1.0zM268.2 91.5h1.0v1.0h-1.0zM65.7 92.1h1.0v1.0h-1.0zM71.3 88.0h1.0v1.0h-1.0zM143.8 88.0h1.0v1.0h-1.0zM252.1 91.5h1.0v1.0h-1.0zM187.0 91.7h1.0v1.0h-1.0zM101.9 87.5h1.0v1.0h-1.0zM53.2 91.7h1.0v1.0h-1.0zM88.4 91.9h1.0v1.0h-1.0zM235.6 91.9h1.0v1.0h-1.0zM232.2 92.3h1.0v1.0h-1.0zM119.8 87.7h1.0v1.0h-1.0zM129.2 91.9h1.0v1.0h-1.0zM129.3 91.5h1.0v1.0h-1.0zM173.4 91.6h1.0v1.0h-1.0zM229.8 92.5h1.0v1.0h-1.0zM157.2 86.9h1.0v1.0h-1.0zM82.1 87.8h1.0v1.0h-1.0zM200.4 87.9h1.0v1.0h-1.0zM145.8 91.6h1.0v1.0h-1.0zM145.0 88.0h1.0v1.0h-1.0zM208.2 87.1h1.0v1.0h-1.0zM222.5 86.6h1.0v1.0h-1.0zM110.2 92.0h1.0v1.0h-1.0zM122.5 88.0h1.0v1.0h-1.0zM195.5 91.7h1.0v1.0h-1.0zM113.0 87.8h1.0v1.0h-1.0zM172.6 88.0h1.0v1.0h-1.0zM119.2 87.7h1.0v1.0h-1.0zM263.6 92.4h1.0v1.0h-1.0zM261.5 92.5h1.0v1.0h-1.0zM227.9 87.5h1.0v1.0h-1.0zM113.2 92.1h1.0v1.0h-1.0zM259.5 87.6h1.0v1.0h-1.0zM123.6 91.8h1.0v1.0h-1.0zM53.2 87.7h1.0v1.0h-1.0zM66.0 92.0h1.0v1.0h-1.0zM130.0 92.0h1.0v1.0h-1.0zM173.0 87.5h1.0v1.0h-1.0zM72.5 87.2h1.0v1.0h-1.0zM72.0 91.9h1.0v1.0h-1.0zM103.5 87.4h1.0v1.0h-1.0zM156.1 91.6h1.0v1.0h-1.0zM97.5 92.0h1.0v1.0h-1.0zM178.2 87.4h1.0v1.0h-1.0zM138.0 86.4h1.0v1.0h-1.0zM169.8 91.9h1.0v1.0h-1.0zM215.8 86.7h1.0v1.0h-1.0zM232.1 88.0h1.0v1.0h-1.0zM85.2 92.3h1.0v1.0h-1.0zM77.5 91.8h1.0v1.0h-1.0zM59.8 88.0h1.0v1.0h-1.0zM179.5 88.0h1.0v1.0h-1.0zM113.9 92.4h1.0v1.0h-1.0zM185.5 92.0h1.0v1.0h-1.0zM172.5 91.7h1.0v1.0h-1.0zM213.2 87.7h1.0v1.0h-1.0zM217.3 91.6h1.0v1.0h-1.0zM130.2 91.7h1.0v1.0h-1.0zM258.4 92.2h1.0v1.0h-1.0zM69.2 91.7h1.0v1.0h-1.0zM226.1 86.9h1.0v1.0h-1.0zM103.8 87.5h1.0v1.0h-1.0zM146.6 91.7h1.0v1.0h-1.0zM51.7 87.9h1.0v1.0h-1.0zM225.6 87.4h1.0v1.0h-1.0zM200.2 87.9h1.0v1.0h-1.0zM79.2 92.2h1.0v1.0h-1.0zM227.2 91.7h1.0v1.0h-1.0zM50.1 87.5h1.0v1.0h-1.0zM241.7 92.0h1.0v1.0h-1.0zM54.9 87.5h1.0v1.0h-1.0zM134.5 86.9h1.0v1.0h-1.0zM82.3 92.3h1.0v1.0h-1.0zM183.2 87.0h1.0v1.0h-1.0zM120.4 87.2h1.0v1.0h-1.0zM56.7 87.4h1.0v1.0h-1.0zM127.5 87.3h1.0v1.0h-1.0zM125.9 87.7h1.0v1.0h-1.0zM176.2 87.1h1.0v1.0h-1.0zM267.0 88.0h1.0v1.0h-1.0zM79.5 91.6h1.0v1.0h-1.0zM158.5 87.4h1.0v1.0h-1.0zM173.9 93.0h1.0v1.0h-1.0zM54.6 91.9h1.0v1.0h-1.0zM218.9 91.6h1.0v1.0h-1.0zM188.5 86.8h1.0v1.0h-1.0zM109.8 92.3h1.0v1.0h-1.0zM198.9 86.6h1.0v1.0h-1.0zM217.2 92.2h1.0v1.0h-1.0zM125.1 91.5h1.0v1.0h-1.0zM137.5 87.7h1.0v1.0h-1.0zM267.4 87.4h1.0v1.0h-1.0zM128.9 88.0h1.0v1.0h-1.0zM77.2 87.3h1.0v1.0h-1.0zM241.2 87.0h1.0v1.0h-1.0zM114.4 87.7h1.0v1.0h-1.0zM61.8 87.6h1.0v1.0h-1.0zM169.9 92.3h1.0v1.0h-1.0zM122.9 91.7h1.0v1.0h-1.0zM86.9 91.6h1.0v1.0h-1.0zM267.2 88.0h1.0v1.0h-1.0zM240.6 87.2h1.0v1.0h-1.0zM155.0 91.6h1.0v1.0h-1.0zM52.1 87.4h1.0v1.0h-1.0zM106.8 91.6h1.0v1.0h-1.0zM91.7 92.0h1.0v1.0h-1.0zM239.7 91.8h1.0v1.0h-1.0zM261.8 92.3h1.0v1.0h-1.0zM64.7 91.8h1.0v1.0h-1.0zM77.5 87.5h1.0v1.0h-1.0zM166.7 92.2h1.0v1.0h-1.0zM94.3 86.5h1.0v1.0h-1.0zM214.1 92.1h1.0v1.0h-1.0zM122.3 87.3h1.0v1.0h-1.0zM139.4 87.5h1.0v1.0h-1.0zM157.2 91.8h1.0v1.0h-1.0zM104.3 86.1h1.0v1.0h-1.0zM172.8 91.6h1.0v1.0h-1.0zM59.5 91.6h1.0v1.0h-1.0zM67.8 87.3h1.0v1.0h-1.0zM78.8 92.3h1.0v1.0h-1.0zM141.4 92.0h1.0v1.0h-1.0zM178.2 91.9h1.0v1.0h-1.0zM120.8 92.1h1.0v1.0h-1.0zM104.5 91.6h1.0v1.0h-1.0zM116.0 92.4h1.0v1.0h-1.0zM265.0 87.9h1.0v1.0h-1.0zM256.8 87.0h1.0v1.0h-1.0zM49.0 87.2h1.0v1.0h-1.0zM127.8 92.2h1.0v1.0h-1.0zM97.9 91.6h1.0v1.0h-1.0zM76.9 88.0h1.0v1.0h-1.0zM158.9 92.0h1.0v1.0h-1.0zM128.5 86.2h1.0v1.0h-1.0zM86.6 91.8h1.0v1.0h-1.0zM53.5 91.6h1.0v1.0h-1.0zM101.1 92.2h1.0v1.0h-1.0zM123.8 91.5h1.0v1.0h-1.0zM149.6 87.7h1.0v1.0h-1.0zM210.5 87.9h1.0v1.0h-1.0zM190.9 87.9h1.0v1.0h-1.0zM172.8 87.9h1.0v1.0h-1.0zM252.0 91.7h1.0v1.0h-1.0zM103.2 87.6h1.0v1.0h-1.0zM143.7 87.7h1.0v1.0h-1.0zM190.3 86.6h1.0v1.0h-1.0zM268.7 87.6h1.0v1.0h-1.0zM239.5 91.6h1.0v1.0h-1.0zM106.6 91.7h1.0v1.0h-1.0zM120.9 87.4h1.0v1.0h-1.0zM245.7 87.6h1.0v1.0h-1.0zM148.0 92.1h1.0v1.0h-1.0zM243.9 87.5h1.0v1.0h-1.0zM220.9 91.8h1.0v1.0h-1.0zM87.7 91.9h1.0v1.0h-1.0zM52.4 88.1h1.0v1.0h-1.0zM264.3 87.7h1.0v1.0h-1.0zM211.1 87.8h1.0v1.0h-1.0zM84.6 91.9h1.0v1.0h-1.0zM251.8 91.7h1.0v1.0h-1.0zM243.7 91.9h1.0v1.0h-1.0zM223.6 91.6h1.0v1.0h-1.0zM55.4 91.6h1.0v1.0h-1.0zM51.4 92.0h1.0v1.0h-1.0zM117.6 91.9h1.0v1.0h-1.0zM77.3 87.4h1.0v1.0h-1.0zM86.9 92.0h1.0v1.0h-1.0zM158.7 86.9h1.0v1.0h-1.0zM125.8 87.4h1.0v1.0h-1.0zM95.0 91.7h1.0v1.0h-1.0zM243.9 91.5h1.0v1.0h-1.0zM106.0 87.5h1.0v1.0h-1.0zM56.6 92.0h1.0v1.0h-1.0zM127.9 87.5h1.0v1.0h-1.0zM200.5 92.1h1.0v1.0h-1.0zM200.9 91.7h1.0v1.0h-1.0zM241.9 91.9h1.0v1.0h-1.0zM140.5 91.8h1.0v1.0h-1.0zM133.3 87.7h1.0v1.0h-1.0zM269.6 87.8h1.0v1.0h-1.0zM182.5 91.5h1.0v1.0h-1.0zM131.1 86.9h1.0v1.0h-1.0zM91.2 87.2h1.0v1.0h-1.0zM249.6 86.8h1.0v1.0h-1.0zM201.8 87.4h1.0v1.0h-1.0zM117.4 92.0h1.0v1.0h-1.0zM47.2 91.9h1.0v1.0h-1.0zM179.1 92.0h1.0v1.0h-1.0zM99.3 91.5h1.0v1.0h-1.0zM205.8 87.2h1.0v1.0h-1.0zM164.4 91.7h1.0v1.0h-1.0zM187.2 91.9h1.0v1.0h-1.0zM96.8 91.6h1.0v1.0h-1.0zM152.5 92.6h1.0v1.0h-1.0zM163.4 88.0h1.0v1.0h-1.0zM253.8 91.8h1.0v1.0h-1.0zM163.8 91.6h1.0v1.0h-1.0zM85.4 91.8h1.0v1.0h-1.0zM149.6 92.0h1.0v1.0h-1.0zM240.5 86.4h1.0v1.0h-1.0zM132.0 91.6h1.0v1.0h-1.0zM81.3 87.7h1.0v1.0h-1.0zM126.5 92.0h1.0v1.0h-1.0zM66.6 88.0h1.0v1.0h-1.0zM269.3 92.0h1.0v1.0h-1.0zM225.0 91.7h1.0v1.0h-1.0zM80.4 91.9h1.0v1.0h-1.0zM100.0 87.3h1.0v1.0h-1.0zM122.8 87.5h1.0v1.0h-1.0zM174.2 88.0h1.0v1.0h-1.0zM86.8 91.6h1.0v1.0h-1.0zM100.9 91.9h1.0v1.0h-1.0zM67.4 91.7h1.0v1.0h-1.0zM141.4 91.8h1.0v1.0h-1.0zM184.8 87.2h1.0v1.0h-1.0zM128.9 91.6h1.0v1.0h-1.0zM112.8 87.1h1.0v1.0h-1.0zM125.6 86.8h1.0v1.0h-1.0zM176.1 92.0h1.0v1.0h-1.0zM205.8 85.9h1.0v1.0h-1.0zM195.4 86.7h1.0v1.0h-1.0zM131.6 91.9h1.0v1.0h-1.0zM157.7 91.5h1.0v1.0h-1.0zM179.2 87.9h1.0v1.0h-1.0zM150.1 92.0h1.0v1.0h-1.0zM245.5 87.6h1.0v1.0h-1.0zM156.6 91.8h1.0v1.0h-1.0zM212.1 86.9h1.0v1.0h-1.0zM56.1 92.3h1.0v1.0h-1.0zM218.7 87.6h1.0v1.0h-1.0zM96.2 87.9h1.0v1.0h-1.0zM66.7 91.7h1.0v1.0h-1.0zM172.9 87.5h1.0v1.0h-1.0zM154.7 86.8h1.0v1.0h-1.0zM201.1 85.3h1.0v1.0h-1.0zM229.2 92.4h1.0v1.0h-1.0zM79.5 88.0h1.0v1.0h-1.0zM267.5 88.1h1.0v1.0h-1.0zM105.5 88.0h1.0v1.0h-1.0zM170.9 92.5h1.0v1.0h-1.0zM140.7 87.5h1.0v1.0h-1.0zM225.8 92.4h1.0v1.0h-1.0zM104.3 87.0h1.0v1.0h-1.0zM130.4 87.7h1.0v1.0h-1.0zM156.0 92.1h1.0v1.0h-1.0zM91.7 92.2h1.0v1.0h-1.0zM171.0 87.7h1.0v1.0h-1.0zM138.2 92.1h1.0v1.0h-1.0zM119.2 87.9h1.0v1.0h-1.0zM205.5 91.9h1.0v1.0h-1.0zM179.0 87.2h1.0v1.0h-1.0zM242.8 87.7h1.0v1.0h-1.0zM143.7 92.4h1.0v1.0h-1.0zM63.0 91.8h1.0v1.0h-1.0zM87.2 92.3h1.0v1.0h-1.0zM158.1 91.8h1.0v1.0h-1.0zM197.5 87.7h1.0v1.0h-1.0zM79.5 92.4h1.0v1.0h-1.0zM93.1 86.8h1.0v1.0h-1.0zM259.0 87.2h1.0v1.0h-1.0zM193.9 87.0h1.0v1.0h-1.0zM81.5 87.3h1.0v1.0h-1.0zM202.1 87.7h1.0v1.0h-1.0zM98.9 91.9h1.0v1.0h-1.0zM118.1 92.1h1.0v1.0h-1.0zM119.3 92.4h1.0v1.0h-1.0zM80.9 92.0h1.0v1.0h-1.0zM54.3 88.0h1.0v1.0h-1.0zM189.9 87.7h1.0v1.0h-1.0zM150.6 91.6h1.0v1.0h-1.0zM142.9 92.2h1.0v1.0h-1.0zM74.2 92.1h1.0v1.0h-1.0zM269.1 91.9h1.0v1.0h-1.0zM124.6 91.6h1.0v1.0h-1.0zM157.7 92.0h1.0v1.0h-1.0zM239.7 91.8h1.0v1.0h-1.0zM167.6 87.6h1.0v1.0h-1.0zM246.2 91.8h1.0v1.0h-1.0zM97.7 92.2h1.0v1.0h-1.0zM262.7 87.9h1.0v1.0h-1.0zM257.6 91.9h1.0v1.0h-1.0zM147.3 87.8h1.0v1.0h-1.0zM212.5 87.9h1.0v1.0h-1.0zM62.5 91.9h1.0v1.0h-1.0zM68.3 91.7h1.0v1.0h-1.0zM149.9 86.9h1.0v1.0h-1.0zM161.5 87.8h1.0v1.0h-1.0zM175.9 87.7h1.0v1.0h-1.0zM130.6 91.7h1.0v1.0h-1.0zM257.0 87.6h1.0v1.0h-1.0zM234.8 91.8h1.0v1.0h-1.0zM68.0 91.5h1.0v1.0h-1.0zM73.1 87.7h1.0v1.0h-1.0zM151.3 88.0h1.0v1.0h-1.0zM166.4 91.7h1.0v1.0h-1.0zM137.0 87.7h1.0v1.0h-1.0zM75.3 87.4h1.0v1.0h-1.0zM245.6 87.3h1.0v1.0h-1.0zM257.4 87.8h1.0v1.0h-1.0zM200.6 87.0h1.0v1.0h-1.0zM214.3 88.1h1.0v1.0h-1.0zM134.7 91.6h1.0v1.0h-1.0zM112.1 92.1h1.0v1.0h-1.0zM99.2 91.8h1.0v1.0h-1.0zM221.8 91.8h1.0v1.0h-1.0zM180.6 91.6h1.0v1.0h-1.0zM56.2 91.8h1.0v1.0h-1.0zM123.3 92.4h1.0v1.0h-1.0zM150.0 92.7h1.0v1.0h-1.0zM138.9 88.0h1.0v1.0h-1.0zM66.6 88.0h1.0v1.0h-1.0zM80.7 86.8h1.0v1.0h-1.0zM78.3 87.9h1.0v1.0h-1.0zM264.6 91.9h1.0v1.0h-1.0zM223.5 86.5h1.0v1.0h-1.0zM249.5 91.5h1.0v1.0h-1.0zM188.9 86.9h1.0v1.0h-1.0zM222.4 86.9h1.0v1.0h-1.0zM207.0 86.9h1.0v1.0h-1.0zM197.0 92.6h1.0v1.0h-1.0zM77.1 92.5h1.0v1.0h-1.0zM213.1 91.9h1.0v1.0h-1.0zM225.9 92.4h1.0v1.0h-1.0zM221.9 91.9h1.0v1.0h-1.0zM113.7 92.7h1.0v1.0h-1.0zM72.8 91.7h1.0v1.0h-1.0zM222.6 87.8h1.0v1.0h-1.0zM91.2 87.5h1.0v1.0h-1.0zM99.8 87.0h1.0v1.0h-1.0zM205.4 87.4h1.0v1.0h-1.0zM221.8 92.0h1.0v1.0h-1.0zM231.1 86.1h1.0v1.0h-1.0zM66.4 91.7h1.0v1.0h-1.0zM179.7 91.9h1.0v1.0h-1.0zM223.8 87.9h1.0v1.0h-1.0zM71.7 91.5h1.0v1.0h-1.0zM140.4 91.9h1.0v1.0h-1.0zM94.6 87.9h1.0v1.0h-1.0zM235.3 91.6h1.0v1.0h-1.0zM107.4 91.7h1.0v1.0h-1.0zM145.6 91.6h1.0v1.0h-1.0zM199.3 87.7h1.0v1.0h-1.0zM230.5 87.8h1.0v1.0h-1.0zM127.8 85.9h1.0v1.0h-1.0zM245.4 91.9h1.0v1.0h-1.0zM158.4 91.8h1.0v1.0h-1.0zM160.0 91.8h1.0v1.0h-1.0zM83.2 92.4h1.0v1.0h-1.0zM47.1 87.2h1.0v1.0h-1.0zM227.5 87.8h1.0v1.0h-1.0zM125.6 86.4h1.0v1.0h-1.0zM161.6 87.5h1.0v1.0h-1.0zM254.1 91.6h1.0v1.0h-1.0zM186.2 87.8h1.0v1.0h-1.0zM260.6 87.4h1.0v1.0h-1.0zM130.8 92.1h1.0v1.0h-1.0zM197.9 92.0h1.0v1.0h-1.0zM264.7 88.1h1.0v1.0h-1.0zM233.2 92.0h1.0v1.0h-1.0zM214.5 91.7h1.0v1.0h-1.0zM209.5 91.9h1.0v1.0h-1.0zM77.5 91.6h1.0v1.0h-1.0zM245.8 87.1h1.0v1.0h-1.0zM57.4 87.5h1.0v1.0h-1.0zM213.7 91.7h1.0v1.0h-1.0zM111.9 92.3h1.0v1.0h-1.0zM140.8 92.0h1.0v1.0h-1.0zM197.9 86.8h1.0v1.0h-1.0zM261.8 91.6h1.0v1.0h-1.0zM83.1 91.9h1.0v1.0h-1.0zM231.2 91.7h1.0v1.0h-1.0zM162.1 91.7h1.0v1.0h-1.0zM83.2 91.7h1.0v1.0h-1.0zM58.9 87.4h1.0v1.0h-1.0zM132.4 91.8h1.0v1.0h-1.0zM116.0 91.6h1.0v1.0h-1.0zM91.0 87.7h1.0v1.0h-1.0zM105.0 87.9h1.0v1.0h-1.0zM133.0 91.5h1.0v1.0h-1.0zM249.7 87.5h1.0v1.0h-1.0zM233.7 91.6h1.0v1.0h-1.0zM80.9 91.9h1.0v1.0h-1.0zM151.9 91.9h1.0v1.0h-1.0zM108.4 86.8h1.0v1.0h-1.0zM251.6 91.7h1.0v1.0h-1.0zM104.9 92.2h1.0v1.0h-1.0zM56.2 91.9h1.0v1.0h-1.0zM256.6 87.8h1.0v1.0h-1.0zM101.3 86.7h1.0v1.0h-1.0zM198.2 87.6h1.0v1.0h-1.0zM227.1 87.6h1.0v1.0h-1.0zM262.7 92.2h1.0v1.0h-1.0zM201.3 92.4h1.0v1.0h-1.0zM212.6 86.8h1.0v1.0h-1.0zM134.5 91.7h1.0v1.0h-1.0zM241.4 91.8h1.0v1.0h-1.0zM163.2 91.7h1.0v1.0h-1.0zM122.5 87.8h1.0v1.0h-1.0zM139.1 91.9h1.0v1.0h-1.0zM175.9 87.0h1.0v1.0h-1.0zM174.9 87.2h1.0v1.0h-1.0zM234.0 86.8h1.0v1.0h-1.0zM196.8 92.6h1.0v1.0h-1.0zM247.4 91.5h1.0v1.0h-1.0zM230.1 91.7h1.0v1.0h-1.0zM204.0 91.7h1.0v1.0h-1.0zM183.6 87.0h1.0v1.0h-1.0zM230.8 87.6h1.0v1.0h-1.0zM94.5 87.0h1.0v1.0h-1.0zM264.4 91.9h1.0v1.0h-1.0zM127.2 92.4h1.0v1.0h-1.0zM119.5 87.3h1.0v1.0h-1.0zM187.3 88.1h1.0v1.0h-1.0zM146.4 91.7h1.0v1.0h-1.0zM227.0 87.9h1.0v1.0h-1.0zM97.1 91.7h1.0v1.0h-1.0zM122.8 87.5h1.0v1.0h-1.0zM223.9 87.8h1.0v1.0h-1.0zM234.2 91.6h1.0v1.0h-1.0zM220.5 88.0h1.0v1.0h-1.0zM159.5 86.9h1.0v1.0h-1.0zM208.6 91.8h1.0v1.0h-1.0zM136.2 91.8h1.0v1.0h-1.0zM240.5 91.7h1.0v1.0h-1.0zM226.3 92.2h1.0v1.0h-1.0zM62.9 85.8h1.0v1.0h-1.0zM76.8 87.5h1.0v1.0h-1.0zM148.4 86.8h1.0v1.0h-1.0zM89.4 88.0h1.0v1.0h-1.0zM211.1 91.8h1.0v1.0h-1.0zM144.8 87.9h1.0v1.0h-1.0zM106.2 91.8h1.0v1.0h-1.0zM203.4 91.5h1.0v1.0h-1.0zM252.1 92.7h1.0v1.0h-1.0zM207.5 88.1h1.0v1.0h-1.0zM239.6 91.6h1.0v1.0h-1.0zM187.5 87.8h1.0v1.0h-1.0zM188.0 91.7h1.0v1.0h-1.0zM115.2 87.7h1.0v1.0h-1.0zM247.5 91.9h1.0v1.0h-1.0zM148.5 87.7h1.0v1.0h-1.0zM220.4 87.8h1.0v1.0h-1.0zM267.9 91.7h1.0v1.0h-1.0zM230.3 87.1h1.0v1.0h-1.0zM71.3 91.8h1.0v1.0h-1.0zM103.2 88.1h1.0v1.0h-1.0zM249.7 92.8h1.0v1.0h-1.0zM144.4 92.0h1.0v1.0h-1.0zM132.7 91.6h1.0v1.0h-1.0zM49.9 87.7h1.0v1.0h-1.0zM177.5 86.4h1.0v1.0h-1.0zM222.3 88.0h1.0v1.0h-1.0zM56.6 91.7h1.0v1.0h-1.0zM119.1 91.5h1.0v1.0h-1.0zM244.4 87.7h1.0v1.0h-1.0zM101.3 91.8h1.0v1.0h-1.0zM132.3 87.7h1.0v1.0h-1.0zM91.6 87.8h1.0v1.0h-1.0zM177.6 91.6h1.0v1.0h-1.0zM62.1 92.0h1.0v1.0h-1.0zM59.0 87.0h1.0v1.0h-1.0zM206.2 87.3h1.0v1.0h-1.0zM191.8 91.8h1.0v1.0h-1.0zM249.7 91.5h1.0v1.0h-1.0zM61.0 87.5h1.0v1.0h-1.0zM134.5 91.5h1.0v1.0h-1.0zM230.7 91.5h1.0v1.0h-1.0zM67.9 91.6h1.0v1.0h-1.0zM226.0 87.5h1.0v1.0h-1.0zM254.5 87.9h1.0v1.0h-1.0zM196.8 92.2h1.0v1.0h-1.0zM105.6 86.6h1.0v1.0h-1.0zM51.1 92.6h1.0v1.0h-1.0zM205.3 86.6h1.0v1.0h-1.0zM227.0 87.7h1.0v1.0h-1.0zM222.5 91.5h1.0v1.0h-1.0zM251.3 87.4h1.0v1.0h-1.0zM230.2 92.0h1.0v1.0h-1.0zM185.2 91.6h1.0v1.0h-1.0zM59.1 91.7h1.0v1.0h-1.0zM111.9 86.6h1.0v1.0h-1.0zM52.4 91.5h1.0v1.0h-1.0zM228.0 87.2h1.0v1.0h-1.0zM93.2 87.2h1.0v1.0h-1.0zM71.6 91.9h1.0v1.0h-1.0zM68.0 91.6h1.0v1.0h-1.0zM236.5 91.9h1.0v1.0h-1.0zM114.5 91.8h1.0v1.0h-1.0zM80.0 92.3h1.0v1.0h-1.0zM48.5 87.9h1.0v1.0h-1.0zM72.3 92.0h1.0v1.0h-1.0zM148.6 87.5h1.0v1.0h-1.0zM183.3 92.2h1.0v1.0h-1.0zM224.6 91.9h1.0v1.0h-1.0zM233.7 92.2h1.0v1.0h-1.0zM236.5 87.8h1.0v1.0h-1.0zM242.8 87.2h1.0v1.0h-1.0zM204.5 87.8h1.0v1.0h-1.0zM114.0 87.9h1.0v1.0h-1.0zM145.8 91.7h1.0v1.0h-1.0zM192.8 91.6h1.0v1.0h-1.0zM268.7 92.4h1.0v1.0h-1.0zM108.1 87.9h1.0v1.0h-1.0zM98.5 91.6h1.0v1.0h-1.0zM252.4 87.9h1.0v1.0h-1.0zM245.4 92.4h1.0v1.0h-1.0zM165.6 87.7h1.0v1.0h-1.0zM186.8 87.4h1.0v1.0h-1.0zM166.8 91.8h1.0v1.0h-1.0zM191.9 92.0h1.0v1.0h-1.0zM256.2 86.9h1.0v1.0h-1.0zM262.7 87.4h1.0v1.0h-1.0zM94.4 88.0h1.0v1.0h-1.0zM105.0 91.5h1.0v1.0h-1.0zM267.7 86.8h1.0v1.0h-1.0zM201.0 91.8h1.0v1.0h-1.0zM214.9 88.1h1.0v1.0h-1.0zM201.1 87.9h1.0v1.0h-1.0zM104.9 91.9h1.0v1.0h-1.0zM193.3 92.0h1.0v1.0h-1.0zM202.0 87.8h1.0v1.0h-1.0zM50.2 88.0h1.0v1.0h-1.0zM78.7 85.7h1.0v1.0h-1.0zM200.3 88.0h1.0v1.0h-1.0zM218.6 87.5h1.0v1.0h-1.0zM138.2 91.7h1.0v1.0h-1.0zM146.2 92.5h1.0v1.0h-1.0zM123.3 92.2h1.0v1.0h-1.0zM53.8 91.6h1.0v1.0h-1.0zM226.0 92.5h1.0v1.0h-1.0zM108.9 87.4h1.0v1.0h-1.0zM82.2 92.5h1.0v1.0h-1.0zM177.9 91.6h1.0v1.0h-1.0zM68.7 91.8h1.0v1.0h-1.0zM132.4 91.8h1.0v1.0h-1.0zM61.5 87.8h1.0v1.0h-1.0zM237.1 87.3h1.0v1.0h-1.0zM208.1 87.9h1.0v1.0h-1.0zM222.7 87.4h1.0v1.0h-1.0zM71.9 87.3h1.0v1.0h-1.0zM224.5 87.0h1.0v1.0h-1.0zM96.9 87.1h1.0v1.0h-1.0zM95.8 87.2h1.0v1.0h-1.0zM152.2 92.0h1.0v1.0h-1.0zM58.3 91.7h1.0v1.0h-1.0zM53.6 87.5h1.0v1.0h-1.0zM72.8 88.0h1.0v1.0h-1.0zM73.3 87.7h1.0v1.0h-1.0zM85.8 87.7h1.0v1.0h-1.0zM62.1 87.9h1.0v1.0h-1.0zM151.6 91.7h1.0v1.0h-1.0zM96.6 91.6h1.0v1.0h-1.0zM172.5 92.5h1.0v1.0h-1.0zM71.5 91.7h1.0v1.0h-1.0zM164.0 87.2h1.0v1.0h-1.0zM94.4 86.5h1.0v1.0h-1.0zM106.2 92.3h1.0v1.0h-1.0zM63.6 87.7h1.0v1.0h-1.0zM117.9 87.7h1.0v1.0h-1.0zM73.7 91.9h1.0v1.0h-1.0zM154.4 86.8h1.0v1.0h-1.0zM161.8 88.0h1.0v1.0h-1.0zM151.9 91.9h1.0v1.0h-1.0zM158.3 91.6h1.0v1.0h-1.0zM192.2 87.4h1.0v1.0h-1.0zM212.1 92.6h1.0v1.0h-1.0zM129.0 91.6h1.0v1.0h-1.0zM180.3 91.8h1.0v1.0h-1.0zM65.3 87.2h1.0v1.0h-1.0zM78.3 87.9h1.0v1.0h-1.0zM214.0 92.0h1.0v1.0h-1.0zM198.4 87.8h1.0v1.0h-1.0zM258.5 87.0h1.0v1.0h-1.0zM258.5 87.9h1.0v1.0h-1.0zM268.2 91.7h1.0v1.0h-1.0zM92.0 92.4h1.0v1.0h-1.0zM148.8 87.3h1.0v1.0h-1.0zM137.8 87.9h1.0v1.0h-1.0zM196.1 87.7h1.0v1.0h-1.0zM231.7 87.7h1.0v1.0h-1.0zM182.5 87.0h1.0v1.0h-1.0zM205.7 87.8h1.0v1.0h-1.0zM100.6 87.6h1.0v1.0h-1.0zM77.6 91.6h1.0v1.0h-1.0zM176.7 91.8h1.0v1.0h-1.0zM84.4 91.6h1.0v1.0h-1.0zM147.9 87.1h1.0v1.0h-1.0zM238.8 92.0h1.0v1.0h-1.0zM107.0 91.6h1.0v1.0h-1.0zM251.0 87.9h1.0v1.0h-1.0zM50.9 87.5h1.0v1.0h-1.0zM241.1 85.8h1.0v1.0h-1.0zM165.1 91.8h1.0v1.0h-1.0zM161.4 86.9h1.0v1.0h-1.0zM101.4 92.3h1.0v1.0h-1.0zM247.4 92.0h1.0v1.0h-1.0zM90.0 87.2h1.0v1.0h-1.0zM87.5 91.9h1.0v1.0h-1.0zM104.0 87.4h1.0v1.0h-1.0zM198.1 87.3h1.0v1.0h-1.0zM212.3 92.2h1.0v1.0h-1.0zM225.3 87.9h1.0v1.0h-1.0zM153.0 91.7h1.0v1.0h-1.0zM87.2 92.2h1.0v1.0h-1.0zM222.2 86.0h1.0v1.0h-1.0zM93.2 87.1h1.0v1.0h-1.0zM261.4 91.6h1.0v1.0h-1.0zM127.2 92.3h1.0v1.0h-1.0zM218.0 88.0h1.0v1.0h-1.0zM106.3 87.5h1.0v1.0h-1.0zM77.3 87.8h1.0v1.0h-1.0zM176.9 91.6h1.0v1.0h-1.0zM175.7 87.8h1.0v1.0h-1.0zM86.1 87.2h1.0v1.0h-1.0zM50.9 91.8h1.0v1.0h-1.0zM261.6 91.9h1.0v1.0h-1.0zM233.3 92.0h1.0v1.0h-1.0zM262.5 87.0h1.0v1.0h-1.0zM217.9 88.0h1.0v1.0h-1.0zM181.1 92.4h1.0v1.0h-1.0zM242.2 91.5h1.0v1.0h-1.0zM166.3 91.6h1.0v1.0h-1.0zM107.8 87.5h1.0v1.0h-1.0zM202.2 88.1h1.0v1.0h-1.0zM98.3 87.5h1.0v1.0h-1.0zM51.3 85.5h1.0v1.0h-1.0zM255.4 91.8h1.0v1.0h-1.0zM163.5 87.4h1.0v1.0h-1.0zM140.1 88.1h1.0v1.0h-1.0zM65.7 87.8h1.0v1.0h-1.0zM67.4 91.6h1.0v1.0h-1.0zM223.6 91.9h1.0v1.0h-1.0zM123.2 87.3h1.0v1.0h-1.0zM172.0 86.2h1.0v1.0h-1.0zM81.3 92.1h1.0v1.0h-1.0zM98.2 92.0h1.0v1.0h-1.0zM225.8 87.6h1.0v1.0h-1.0zM204.8 91.7h1.0v1.0h-1.0zM223.5 87.0h1.0v1.0h-1.0zM173.0 87.4h1.0v1.0h-1.0zM90.0 92.1h1.0v1.0h-1.0zM100.7 87.3h1.0v1.0h-1.0zM141.4 91.5h1.0v1.0h-1.0zM208.5 87.9h1.0v1.0h-1.0zM111.8 91.7h1.0v1.0h-1.0zM248.1 86.9h1.0v1.0h-1.0zM116.4 91.5h1.0v1.0h-1.0zM97.5 91.8h1.0v1.0h-1.0zM231.4 92.4h1.0v1.0h-1.0zM116.1 87.7h1.0v1.0h-1.0zM207.8 87.8h1.0v1.0h-1.0zM57.9 91.6h1.0v1.0h-1.0zM80.7 91.9h1.0v1.0h-1.0zM91.1 87.4h1.0v1.0h-1.0zM160.0 92.0h1.0v1.0h-1.0zM165.0 92.1h1.0v1.0h-1.0zM62.6 87.4h1.0v1.0h-1.0zM196.1 88.0h1.0v1.0h-1.0zM118.0 87.7h1.0v1.0h-1.0zM129.9 86.6h1.0v1.0h-1.0zM253.8 91.7h1.0v1.0h-1.0zM148.6 91.7h1.0v1.0h-1.0zM109.1 86.1h1.0v1.0h-1.0zM75.8 87.9h1.0v1.0h-1.0zM185.1 86.7h1.0v1.0h-1.0zM218.9 87.5h1.0v1.0h-1.0zM66.1 86.2h1.0v1.0h-1.0zM58.4 86.8h1.0v1.0h-1.0zM218.2 87.8h1.0v1.0h-1.0zM83.6 91.6h1.0v1.0h-1.0zM232.8 87.4h1.0v1.0h-1.0zM141.9 86.7h1.0v1.0h-1.0zM74.5 87.7h1.0v1.0h-1.0zM104.9 91.5h1.0v1.0h-1.0zM245.9 92.7h1.0v1.0h-1.0zM181.7 87.7h1.0v1.0h-1.0zM150.7 91.5h1.0v1.0h-1.0zM90.2 91.8h1.0v1.0h-1.0zM228.4 88.1h1.0v1.0h-1.0zM151.6 91.9h1.0v1.0h-1.0zM80.1 91.6h1.0v1.0h-1.0zM213.1 87.6h1.0v1.0h-1.0zM88.8 87.3h1.0v1.0h-1.0zM175.2 86.5h1.0v1.0h-1.0zM217.2 92.5h1.0v1.0h-1.0zM119.9 92.2h1.0v1.0h-1.0zM229.6 87.5h1.0v1.0h-1.0zM125.7 87.4h1.0v1.0h-1.0zM71.6 87.3h1.0v1.0h-1.0zM188.8 91.8h1.0v1.0h-1.0zM215.5 86.7h1.0v1.0h-1.0zM267.9 91.9h1.0v1.0h-1.0zM215.3 91.5h1.0v1.0h-1.0zM131.9 92.2h1.0v1.0h-1.0zM76.8 92.0h1.0v1.0h-1.0zM124.0 92.3h1.0v1.0h-1.0zM236.1 92.3h1.0v1.0h-1.0zM213.0 92.4h1.0v1.0h-1.0zM192.5 87.3h1.0v1.0h-1.0zM148.6 87.3h1.0v1.0h-1.0zM221.6 91.7h1.0v1.0h-1.0zM122.9 87.6h1.0v1.0h-1.0zM69.4 86.5h1.0v1.0h-1.0zM97.6 87.8h1.0v1.0h-1.0zM62.1 91.7h1.0v1.0h-1.0zM136.6 92.0h1.0v1.0h-1.0zM259.8 86.8h1.0v1.0h-1.0zM151.9 92.3h1.0v1.0h-1.0zM210.6 87.3h1.0v1.0h-1.0zM178.0 92.0h1.0v1.0h-1.0zM162.6 86.5h1.0v1.0h-1.0zM195.4 87.2h1.0v1.0h-1.0zM127.8 86.8h1.0v1.0h-1.0zM74.8 91.7h1.0v1.0h-1.0zM54.8 92.2h1.0v1.0h-1.0zM142.7 87.5h1.0v1.0h-1.0zM163.8 91.6h1.0v1.0h-1.0zM96.6 92.0h1.0v1.0h-1.0zM225.8 86.0h1.0v1.0h-1.0zM143.7 86.2h1.0v1.0h-1.0zM205.3 91.6h1.0v1.0h-1.0zM120.4 91.9h1.0v1.0h-1.0zM88.7 92.2h1.0v1.0h-1.0zM78.9 91.5h1.0v1.0h-1.0zM270.0 91.6h1.0v1.0h-1.0zM250.0 91.8h1.0v1.0h-1.0zM216.4 92.2h1.0v1.0h-1.0zM93.2 86.5h1.0v1.0h-1.0zM159.0 92.5h1.0v1.0h-1.0zM160.9 92.2h1.0v1.0h-1.0zM171.9 87.0h1.0v1.0h-1.0zM141.5 92.2h1.0v1.0h-1.0zM104.8 87.2h1.0v1.0h-1.0zM151.4 87.6h1.0v1.0h-1.0zM48.3 87.8h1.0v1.0h-1.0zM99.9 86.6h1.0v1.0h-1.0zM162.2 86.5h1.0v1.0h-1.0zM92.0 92.2h1.0v1.0h-1.0zM207.7 91.7h1.0v1.0h-1.0zM107.8 92.3h1.0v1.0h-1.0zM253.3 87.2h1.0v1.0h-1.0zM66.3 87.8h1.0v1.0h-1.0zM224.7 91.8h1.0v1.0h-1.0zM189.4 91.9h1.0v1.0h-1.0zM121.9 91.5h1.0v1.0h-1.0zM83.0 87.5h1.0v1.0h-1.0zM184.9 87.8h1.0v1.0h-1.0zM66.0 87.6h1.0v1.0h-1.0zM117.4 91.7h1.0v1.0h-1.0zM145.1 92.0h1.0v1.0h-1.0zM155.4 91.8h1.0v1.0h-1.0zM179.0 88.0h1.0v1.0h-1.0zM84.7 87.4h1.0v1.0h-1.0zM137.0 85.9h1.0v1.0h-1.0zM141.8 87.8h1.0v1.0h-1.0zM81.0 92.0h1.0v1.0h-1.0zM174.7 87.2h1.0v1.0h-1.0zM126.0 92.2h1.0v1.0h-1.0zM252.2 87.4h1.0v1.0h-1.0zM170.6 91.7h1.0v1.0h-1.0zM210.9 91.8h1.0v1.0h-1.0zM236.9 91.9h1.0v1.0h-1.0zM178.6 92.1h1.0v1.0h-1.0zM169.5 86.3h1.0v1.0h-1.0zM87.7 86.8h1.0v1.0h-1.0zM53.0 87.1h1.0v1.0h-1.0zM154.0 86.9h1.0v1.0h-1.0zM125.0 92.3h1.0v1.0h-1.0zM254.3 91.9h1.0v1.0h-1.0zM133.3 91.6h1.0v1.0h-1.0zM222.3 87.5h1.0v1.0h-1.0zM127.9 91.9h1.0v1.0h-1.0zM167.2 87.3h1.0v1.0h-1.0zM82.7 92.3h1.0v1.0h-1.0zM51.9 86.6h1.0v1.0h-1.0zM79.8 87.5h1.0v1.0h-1.0zM59.8 88.0h1.0v1.0h-1.0zM250.0 92.3h1.0v1.0h-1.0zM169.8 92.5h1.0v1.0h-1.0zM143.8 87.0h1.0v1.0h-1.0zM213.8 91.7h1.0v1.0h-1.0zM241.7 91.6h1.0v1.0h-1.0zM180.1 91.7h1.0v1.0h-1.0zM74.7 88.0h1.0v1.0h-1.0zM204.9 91.7h1.0v1.0h-1.0zM87.3 91.7h1.0v1.0h-1.0zM197.0 92.4h1.0v1.0h-1.0zM143.9 86.2h1.0v1.0h-1.0zM103.5 85.2h1.0v1.0h-1.0zM204.4 87.6h1.0v1.0h-1.0zM87.1 87.2h1.0v1.0h-1.0zM60.1 92.2h1.0v1.0h-1.0zM198.8 86.6h1.0v1.0h-1.0zM175.4 87.5h1.0v1.0h-1.0zM243.5 91.8h1.0v1.0h-1.0zM257.4 91.9h1.0v1.0h-1.0zM251.0 91.7h1.0v1.0h-1.0zM132.5 91.7h1.0v1.0h-1.0zM48.0 91.6h1.0v1.0h-1.0zM48.3 92.1h1.0v1.0h-1.0zM139.3 92.2h1.0v1.0h-1.0zM138.2 91.8h1.0v1.0h-1.0zM260.1 91.8h1.0v1.0h-1.0zM131.0 87.6h1.0v1.0h-1.0zM248.5 91.7h1.0v1.0h-1.0zM267.9 92.4h1.0v1.0h-1.0zM118.0 91.6h1.0v1.0h-1.0zM82.3 92.2h1.0v1.0h-1.0zM156.0 87.8h1.0v1.0h-1.0zM254.4 91.6h1.0v1.0h-1.0zM80.2 92.5h1.0v1.0h-1.0zM177.8 87.2h1.0v1.0h-1.0zM255.1 88.0h1.0v1.0h-1.0zM108.7 87.7h1.0v1.0h-1.0zM241.3 88.0h1.0v1.0h-1.0zM209.9 91.9h1.0v1.0h-1.0zM68.8 88.0h1.0v1.0h-1.0zM192.9 87.5h1.0v1.0h-1.0zM129.6 93.1h1.0v1.0h-1.0zM142.2 92.1h1.0v1.0h-1.0zM227.3 92.5h1.0v1.0h-1.0zM136.5 91.8h1.0v1.0h-1.0zM152.4 88.1h1.0v1.0h-1.0zM198.5 87.6h1.0v1.0h-1.0zM267.4 91.5h1.0v1.0h-1.0zM189.0 87.6h1.0v1.0h-1.0zM102.5 92.1h1.0v1.0h-1.0zM66.4 91.6h1.0v1.0h-1.0zM246.2 87.1h1.0v1.0h-1.0zM207.3 91.6h1.0v1.0h-1.0zM123.5 91.6h1.0v1.0h-1.0zM228.7 87.7h1.0v1.0h-1.0zM88.5 91.7h1.0v1.0h-1.0zM254.4 87.6h1.0v1.0h-1.0zM222.2 87.6h1.0v1.0h-1.0zM249.1 91.7h1.0v1.0h-1.0zM263.5 91.9h1.0v1.0h-1.0zM237.6 87.3h1.0v1.0h-1.0zM68.9 91.8h1.0v1.0h-1.0zM213.1 86.8h1.0v1.0h-1.0zM150.3 92.6h1.0v1.0h-1.0zM82.8 91.8h1.0v1.0h-1.0zM170.6 87.9h1.0v1.0h-1.0zM151.9 87.7h1.0v1.0h-1.0zM106.7 86.7h1.0v1.0h-1.0zM178.4 87.6h1.0v1.0h-1.0zM244.6 85.6h1.0v1.0h-1.0zM78.3 91.9h1.0v1.0h-1.0zM262.6 87.4h1.0v1.0h-1.0zM53.4 87.9h1.0v1.0h-1.0zM74.7 87.3h1.0v1.0h-1.0zM258.5 92.0h1.0v1.0h-1.0zM127.8 91.9h1.0v1.0h-1.0zM239.4 92.0h1.0v1.0h-1.0zM127.4 91.9h1.0v1.0h-1.0zM101.5 92.8h1.0v1.0h-1.0zM61.4 87.5h1.0v1.0h-1.0zM160.2 87.9h1.0v1.0h-1.0zM233.6 92.0h1.0v1.0h-1.0zM268.2 92.5h1.0v1.0h-1.0zM206.0 87.2h1.0v1.0h-1.0zM263.1 87.8h1.0v1.0h-1.0zM173.8 86.4h1.0v1.0h-1.0zM178.5 92.0h1.0v1.0h-1.0zM49.9 87.4h1.0v1.0h-1.0zM254.9 86.6h1.0v1.0h-1.0zM243.3 92.1h1.0v1.0h-1.0zM137.3 92.7h1.0v1.0h-1.0zM62.0 91.7h1.0v1.0h-1.0zM213.4 88.0h1.0v1.0h-1.0zM80.0 86.9h1.0v1.0h-1.0zM268.6 92.6h1.0v1.0h-1.0zM186.0 91.9h1.0v1.0h-1.0zM169.9 86.9h1.0v1.0h-1.0zM247.7 87.8h1.0v1.0h-1.0zM80.3 91.7h1.0v1.0h-1.0zM225.6 86.9h1.0v1.0h-1.0zM172.0 88.1h1.0v1.0h-1.0zM168.2 87.2h1.0v1.0h-1.0zM99.8 91.7h1.0v1.0h-1.0zM100.9 91.5h1.0v1.0h-1.0zM153.5 87.7h1.0v1.0h-1.0zM121.8 91.6h1.0v1.0h-1.0zM233.1 86.8h1.0v1.0h-1.0zM159.2 91.8h1.0v1.0h-1.0zM62.5 87.8h1.0v1.0h-1.0zM121.0 87.5h1.0v1.0h-1.0zM115.8 91.9h1.0v1.0h-1.0zM255.9 87.7h1.0v1.0h-1.0zM119.3 91.9h1.0v1.0h-1.0zM204.5 88.0h1.0v1.0h-1.0zM74.3 91.6h1.0v1.0h-1.0zM191.5 87.9h1.0v1.0h-1.0zM160.0 87.9h1.0v1.0h-1.0zM212.6 91.8h1.0v1.0h-1.0zM196.3 88.1h1.0v1.0h-1.0zM194.5 88.0h1.0v1.0h-1.0zM96.7 88.1h1.0v1.0h-1.0zM91.2 87.0h1.0v1.0h-1.0zM121.7 85.4h1.0v1.0h-1.0zM196.6 87.0h1.0v1.0h-1.0zM143.0 87.3h1.0v1.0h-1.0zM62.7 92.6h1.0v1.0h-1.0zM69.3 91.6h1.0v1.0h-1.0zM155.9 87.6h1.0v1.0h-1.0zM227.4 87.2h1.0v1.0h-1.0zM255.3 91.8h1.0v1.0h-1.0zM154.9 88.0h1.0v1.0h-1.0zM199.9 92.7h1.0v1.0h-1.0zM57.1 92.1h1.0v1.0h-1.0zM225.6 88.0h1.0v1.0h-1.0zM177.0 91.6h1.0v1.0h-1.0zM124.6 92.0h1.0v1.0h-1.0zM108.8 92.1h1.0v1.0h-1.0zM144.7 86.9h1.0v1.0h-1.0zM239.8 91.9h1.0v1.0h-1.0zM81.6 91.6h1.0v1.0h-1.0zM131.9 91.7h1.0v1.0h-1.0zM47.8 87.0h1.0v1.0h-1.0zM269.2 86.6h1.0v1.0h-1.0zM249.7 91.9h1.0v1.0h-1.0zM263.2 92.0h1.0v1.0h-1.0zM258.4 91.7h1.0v1.0h-1.0zM154.7 87.1h1.0v1.0h-1.0zM130.3 91.8h1.0v1.0h-1.0zM108.9 91.7h1.0v1.0h-1.0zM159.4 87.8h1.0v1.0h-1.0zM165.6 87.6h1.0v1.0h-1.0zM218.7 91.6h1.0v1.0h-1.0zM102.5 92.1h1.0v1.0h-1.0zM160.9 87.9h1.0v1.0h-1.0zM205.0 92.0h1.0v1.0h-1.0zM154.6 91.6h1.0v1.0h-1.0zM126.8 87.1h1.0v1.0h-1.0zM127.2 91.5h1.0v1.0h-1.0zM99.1 91.8h1.0v1.0h-1.0zM193.0 92.0h1.0v1.0h-1.0zM107.8 87.1h1.0v1.0h-1.0zM127.4 87.0h1.0v1.0h-1.0zM196.5 91.6h1.0v1.0h-1.0zM226.4 87.9h1.0v1.0h-1.0zM224.4 91.7h1.0v1.0h-1.0zM155.7 88.0h1.0v1.0h-1.0zM205.8 92.1h1.0v1.0h-1.0zM236.3 92.0h1.0v1.0h-1.0zM117.0 91.7h1.0v1.0h-1.0zM87.9 87.7h1.0v1.0h-1.0zM237.2 86.1h1.0v1.0h-1.0zM236.9 91.8h1.0v1.0h-1.0zM219.3 87.8h1.0v1.0h-1.0zM73.6 92.0h1.0v1.0h-1.0zM179.7 87.8h1.0v1.0h-1.0zM51.5 88.0h1.0v1.0h-1.0zM129.9 91.6h1.0v1.0h-1.0zM121.2 91.7h1.0v1.0h-1.0zM51.5 91.7h1.0v1.0h-1.0zM183.3 87.6h1.0v1.0h-1.0zM249.8 86.4h1.0v1.0h-1.0zM177.7 91.6h1.0v1.0h-1.0zM119.5 91.6h1.0v1.0h-1.0zM181.2 91.7h1.0v1.0h-1.0zM116.4 87.7h1.0v1.0h-1.0zM128.0 92.6h1.0v1.0h-1.0zM100.6 92.5h1.0v1.0h-1.0zM101.3 91.6h1.0v1.0h-1.0zM224.6 91.6h1.0v1.0h-1.0zM107.0 93.0h1.0v1.0h-1.0zM59.1 87.8h1.0v1.0h-1.0zM97.8 91.7h1.0v1.0h-1.0zM169.3 86.4h1.0v1.0h-1.0zM225.3 88.0h1.0v1.0h-1.0zM145.2 92.3h1.0v1.0h-1.0zM67.3 88.1h1.0v1.0h-1.0zM67.9 88.0h1.0v1.0h-1.0z" fill="#cc1420" opacity="1.0"/>
<path d="M129.3 89.6h1.0v1.0h-1.0zM160.2 89.3h1.0v1.0h-1.0zM203.5 89.8h1.0v1.0h-1.0zM265.9 89.0h1.0v1.0h-1.0zM160.9 89.8h1.0v1.0h-1.0zM129.9 90.7h1.0v1.0h-1.0zM93.7 90.7h1.0v1.0h-1.0zM126.8 89.4h1.0v1.0h-1.0zM184.1 90.0h1.0v1.0h-1.0zM110.3 88.8h1.0v1.0h-1.0zM260.0 89.5h1.0v1.0h-1.0zM72.5 90.2h1.0v1.0h-1.0zM165.6 89.4h1.0v1.0h-1.0zM120.2 90.6h1.0v1.0h-1.0zM122.5 89.6h1.0v1.0h-1.0zM260.4 89.5h1.0v1.0h-1.0zM136.7 89.0h1.0v1.0h-1.0zM194.7 90.2h1.0v1.0h-1.0zM146.5 89.6h1.0v1.0h-1.0zM98.9 90.5h1.0v1.0h-1.0zM149.0 90.6h1.0v1.0h-1.0zM130.6 90.4h1.0v1.0h-1.0zM53.4 89.1h1.0v1.0h-1.0zM261.2 90.2h1.0v1.0h-1.0zM197.7 89.8h1.0v1.0h-1.0zM152.3 89.1h1.0v1.0h-1.0zM85.6 90.1h1.0v1.0h-1.0zM201.7 89.2h1.0v1.0h-1.0zM190.7 88.9h1.0v1.0h-1.0zM183.7 89.0h1.0v1.0h-1.0zM160.6 89.4h1.0v1.0h-1.0zM169.8 88.9h1.0v1.0h-1.0zM154.8 90.1h1.0v1.0h-1.0zM77.1 89.3h1.0v1.0h-1.0zM198.3 89.9h1.0v1.0h-1.0zM184.5 90.5h1.0v1.0h-1.0zM174.4 89.1h1.0v1.0h-1.0zM145.7 90.6h1.0v1.0h-1.0zM173.4 90.4h1.0v1.0h-1.0zM128.2 89.7h1.0v1.0h-1.0zM263.3 90.6h1.0v1.0h-1.0zM192.6 88.9h1.0v1.0h-1.0zM183.4 88.7h1.0v1.0h-1.0zM255.3 90.9h1.0v1.0h-1.0zM209.4 89.2h1.0v1.0h-1.0zM235.6 89.0h1.0v1.0h-1.0zM231.6 89.8h1.0v1.0h-1.0zM50.5 90.7h1.0v1.0h-1.0zM145.1 90.6h1.0v1.0h-1.0zM200.5 89.9h1.0v1.0h-1.0zM239.3 89.1h1.0v1.0h-1.0zM247.4 89.4h1.0v1.0h-1.0zM52.8 89.4h1.0v1.0h-1.0zM61.7 88.8h1.0v1.0h-1.0zM186.2 88.9h1.0v1.0h-1.0zM82.6 89.3h1.0v1.0h-1.0zM109.2 90.8h1.0v1.0h-1.0zM248.9 90.7h1.0v1.0h-1.0zM267.7 89.7h1.0v1.0h-1.0zM224.5 89.3h1.0v1.0h-1.0zM253.6 90.5h1.0v1.0h-1.0zM210.3 89.1h1.0v1.0h-1.0zM67.4 90.8h1.0v1.0h-1.0zM170.1 90.1h1.0v1.0h-1.0zM239.2 88.9h1.0v1.0h-1.0zM202.9 89.7h1.0v1.0h-1.0zM222.3 89.7h1.0v1.0h-1.0zM90.9 90.9h1.0v1.0h-1.0zM109.7 90.4h1.0v1.0h-1.0zM232.4 89.2h1.0v1.0h-1.0zM202.0 89.6h1.0v1.0h-1.0zM97.0 89.1h1.0v1.0h-1.0zM259.8 89.5h1.0v1.0h-1.0zM160.7 89.8h1.0v1.0h-1.0zM52.9 90.4h1.0v1.0h-1.0zM213.2 90.7h1.0v1.0h-1.0zM126.6 89.1h1.0v1.0h-1.0zM124.5 90.4h1.0v1.0h-1.0zM193.7 89.6h1.0v1.0h-1.0zM164.0 89.0h1.0v1.0h-1.0zM251.8 89.7h1.0v1.0h-1.0zM160.0 90.5h1.0v1.0h-1.0zM91.1 90.3h1.0v1.0h-1.0zM125.8 90.5h1.0v1.0h-1.0zM68.0 89.3h1.0v1.0h-1.0zM188.7 89.8h1.0v1.0h-1.0zM131.0 90.0h1.0v1.0h-1.0zM95.6 89.6h1.0v1.0h-1.0zM47.4 90.5h1.0v1.0h-1.0zM103.6 90.6h1.0v1.0h-1.0zM170.1 90.0h1.0v1.0h-1.0zM186.6 88.9h1.0v1.0h-1.0zM220.3 89.3h1.0v1.0h-1.0zM239.4 90.5h1.0v1.0h-1.0zM198.2 90.6h1.0v1.0h-1.0zM144.4 90.2h1.0v1.0h-1.0zM259.5 89.1h1.0v1.0h-1.0zM69.5 89.6h1.0v1.0h-1.0zM160.6 89.0h1.0v1.0h-1.0zM96.3 90.7h1.0v1.0h-1.0zM133.5 89.0h1.0v1.0h-1.0zM87.8 90.0h1.0v1.0h-1.0zM89.4 89.7h1.0v1.0h-1.0zM166.9 89.7h1.0v1.0h-1.0zM159.3 90.6h1.0v1.0h-1.0zM50.7 90.8h1.0v1.0h-1.0zM91.4 88.7h1.0v1.0h-1.0zM218.2 90.0h1.0v1.0h-1.0zM167.0 89.1h1.0v1.0h-1.0zM221.2 89.3h1.0v1.0h-1.0zM209.1 89.1h1.0v1.0h-1.0zM174.7 90.2h1.0v1.0h-1.0zM129.9 89.8h1.0v1.0h-1.0zM61.5 90.1h1.0v1.0h-1.0zM201.2 89.0h1.0v1.0h-1.0zM169.8 90.4h1.0v1.0h-1.0zM69.5 90.6h1.0v1.0h-1.0zM241.1 88.7h1.0v1.0h-1.0zM102.4 88.8h1.0v1.0h-1.0zM103.3 88.8h1.0v1.0h-1.0zM156.1 89.2h1.0v1.0h-1.0zM113.9 89.7h1.0v1.0h-1.0zM129.9 90.5h1.0v1.0h-1.0zM208.2 88.9h1.0v1.0h-1.0zM96.8 88.6h1.0v1.0h-1.0zM120.4 88.9h1.0v1.0h-1.0zM202.5 90.5h1.0v1.0h-1.0zM269.1 89.1h1.0v1.0h-1.0zM55.2 90.4h1.0v1.0h-1.0zM138.8 90.8h1.0v1.0h-1.0zM134.5 89.3h1.0v1.0h-1.0zM63.2 90.9h1.0v1.0h-1.0zM161.2 89.7h1.0v1.0h-1.0zM144.5 90.4h1.0v1.0h-1.0zM232.3 89.7h1.0v1.0h-1.0zM86.7 89.6h1.0v1.0h-1.0zM245.8 89.6h1.0v1.0h-1.0zM194.4 89.9h1.0v1.0h-1.0zM149.9 90.0h1.0v1.0h-1.0zM101.7 89.9h1.0v1.0h-1.0zM239.8 88.8h1.0v1.0h-1.0zM129.3 90.7h1.0v1.0h-1.0zM265.1 88.6h1.0v1.0h-1.0zM186.8 90.1h1.0v1.0h-1.0zM235.0 89.7h1.0v1.0h-1.0zM76.2 89.3h1.0v1.0h-1.0zM205.9 90.3h1.0v1.0h-1.0zM92.6 90.1h1.0v1.0h-1.0zM193.5 90.2h1.0v1.0h-1.0zM51.9 89.7h1.0v1.0h-1.0zM119.5 90.0h1.0v1.0h-1.0zM122.1 88.9h1.0v1.0h-1.0zM196.5 89.3h1.0v1.0h-1.0zM223.3 89.3h1.0v1.0h-1.0zM168.7 90.5h1.0v1.0h-1.0zM72.8 90.4h1.0v1.0h-1.0zM62.2 90.8h1.0v1.0h-1.0zM52.6 90.3h1.0v1.0h-1.0zM129.2 89.0h1.0v1.0h-1.0zM135.1 89.8h1.0v1.0h-1.0zM139.5 88.9h1.0v1.0h-1.0zM163.6 89.3h1.0v1.0h-1.0zM262.7 89.5h1.0v1.0h-1.0zM144.1 89.1h1.0v1.0h-1.0zM263.0 89.4h1.0v1.0h-1.0zM191.1 90.6h1.0v1.0h-1.0zM134.7 90.4h1.0v1.0h-1.0zM109.2 88.9h1.0v1.0h-1.0zM56.4 89.7h1.0v1.0h-1.0zM241.9 89.1h1.0v1.0h-1.0zM145.2 90.4h1.0v1.0h-1.0zM108.6 89.0h1.0v1.0h-1.0zM162.8 89.6h1.0v1.0h-1.0zM256.3 90.8h1.0v1.0h-1.0zM100.1 89.9h1.0v1.0h-1.0zM139.8 88.7h1.0v1.0h-1.0zM146.1 90.8h1.0v1.0h-1.0zM114.5 90.0h1.0v1.0h-1.0zM205.4 88.8h1.0v1.0h-1.0zM253.1 88.9h1.0v1.0h-1.0zM114.2 90.3h1.0v1.0h-1.0zM51.3 89.5h1.0v1.0h-1.0zM75.2 89.7h1.0v1.0h-1.0zM50.5 89.0h1.0v1.0h-1.0zM96.6 88.8h1.0v1.0h-1.0zM67.2 89.1h1.0v1.0h-1.0zM162.4 88.9h1.0v1.0h-1.0zM230.1 89.6h1.0v1.0h-1.0zM103.2 89.2h1.0v1.0h-1.0zM234.2 88.7h1.0v1.0h-1.0zM212.5 88.8h1.0v1.0h-1.0zM257.6 89.6h1.0v1.0h-1.0zM180.3 90.7h1.0v1.0h-1.0zM69.4 88.8h1.0v1.0h-1.0zM201.7 90.0h1.0v1.0h-1.0zM207.8 89.3h1.0v1.0h-1.0zM157.8 89.0h1.0v1.0h-1.0zM144.5 89.3h1.0v1.0h-1.0zM177.6 89.3h1.0v1.0h-1.0zM108.3 90.1h1.0v1.0h-1.0zM66.1 90.5h1.0v1.0h-1.0zM157.6 89.1h1.0v1.0h-1.0zM72.6 89.8h1.0v1.0h-1.0zM159.4 90.3h1.0v1.0h-1.0zM130.4 89.6h1.0v1.0h-1.0zM246.0 89.3h1.0v1.0h-1.0zM265.8 90.7h1.0v1.0h-1.0zM267.8 90.9h1.0v1.0h-1.0zM104.4 90.6h1.0v1.0h-1.0zM183.5 89.1h1.0v1.0h-1.0zM269.4 90.2h1.0v1.0h-1.0zM227.6 89.9h1.0v1.0h-1.0zM64.7 90.7h1.0v1.0h-1.0zM86.1 89.2h1.0v1.0h-1.0zM184.4 89.1h1.0v1.0h-1.0zM150.1 90.3h1.0v1.0h-1.0zM68.4 90.2h1.0v1.0h-1.0zM70.3 89.7h1.0v1.0h-1.0zM191.8 90.2h1.0v1.0h-1.0zM56.6 89.1h1.0v1.0h-1.0zM261.1 89.5h1.0v1.0h-1.0zM141.7 89.5h1.0v1.0h-1.0zM202.2 90.4h1.0v1.0h-1.0zM192.0 89.6h1.0v1.0h-1.0zM174.0 89.8h1.0v1.0h-1.0zM88.9 90.9h1.0v1.0h-1.0zM262.2 90.5h1.0v1.0h-1.0zM268.3 89.7h1.0v1.0h-1.0zM234.1 89.2h1.0v1.0h-1.0zM212.6 90.3h1.0v1.0h-1.0zM256.3 90.6h1.0v1.0h-1.0zM243.1 89.2h1.0v1.0h-1.0zM222.6 89.7h1.0v1.0h-1.0zM116.7 89.5h1.0v1.0h-1.0zM225.2 90.6h1.0v1.0h-1.0zM235.4 90.2h1.0v1.0h-1.0zM85.0 89.0h1.0v1.0h-1.0zM173.7 89.1h1.0v1.0h-1.0zM122.1 88.8h1.0v1.0h-1.0zM81.5 90.3h1.0v1.0h-1.0zM96.9 90.6h1.0v1.0h-1.0zM120.4 90.6h1.0v1.0h-1.0zM114.5 89.2h1.0v1.0h-1.0zM135.0 88.6h1.0v1.0h-1.0zM144.1 89.5h1.0v1.0h-1.0zM49.8 90.7h1.0v1.0h-1.0zM130.7 88.6h1.0v1.0h-1.0zM261.2 89.1h1.0v1.0h-1.0zM103.4 88.7h1.0v1.0h-1.0zM69.2 90.3h1.0v1.0h-1.0zM176.8 89.8h1.0v1.0h-1.0zM101.9 89.3h1.0v1.0h-1.0zM263.3 89.5h1.0v1.0h-1.0zM267.6 90.7h1.0v1.0h-1.0zM74.8 90.6h1.0v1.0h-1.0zM51.7 90.3h1.0v1.0h-1.0zM227.5 90.3h1.0v1.0h-1.0zM169.6 90.6h1.0v1.0h-1.0zM81.4 89.9h1.0v1.0h-1.0zM106.3 89.6h1.0v1.0h-1.0zM89.7 90.3h1.0v1.0h-1.0zM174.8 90.5h1.0v1.0h-1.0zM187.1 90.0h1.0v1.0h-1.0zM252.6 90.5h1.0v1.0h-1.0zM173.4 89.4h1.0v1.0h-1.0zM253.9 89.5h1.0v1.0h-1.0zM69.8 89.4h1.0v1.0h-1.0zM204.5 90.8h1.0v1.0h-1.0zM191.0 90.2h1.0v1.0h-1.0zM256.0 90.5h1.0v1.0h-1.0zM146.3 89.7h1.0v1.0h-1.0zM216.4 89.4h1.0v1.0h-1.0zM71.5 90.1h1.0v1.0h-1.0zM227.4 89.2h1.0v1.0h-1.0zM199.5 90.7h1.0v1.0h-1.0zM75.5 88.9h1.0v1.0h-1.0zM156.9 89.4h1.0v1.0h-1.0zM258.7 91.0h1.0v1.0h-1.0zM146.4 90.5h1.0v1.0h-1.0zM187.9 89.0h1.0v1.0h-1.0zM263.7 89.0h1.0v1.0h-1.0zM63.9 89.7h1.0v1.0h-1.0zM51.0 89.8h1.0v1.0h-1.0zM138.9 90.9h1.0v1.0h-1.0zM139.2 90.6h1.0v1.0h-1.0zM220.9 90.0h1.0v1.0h-1.0zM100.0 89.3h1.0v1.0h-1.0zM156.6 89.5h1.0v1.0h-1.0zM191.0 89.8h1.0v1.0h-1.0zM119.0 90.1h1.0v1.0h-1.0zM269.2 89.1h1.0v1.0h-1.0zM121.9 88.6h1.0v1.0h-1.0zM67.9 88.7h1.0v1.0h-1.0zM141.3 90.6h1.0v1.0h-1.0zM202.6 90.9h1.0v1.0h-1.0zM233.6 90.0h1.0v1.0h-1.0zM176.4 88.6h1.0v1.0h-1.0zM132.5 89.2h1.0v1.0h-1.0zM185.4 88.8h1.0v1.0h-1.0zM167.9 89.5h1.0v1.0h-1.0zM156.7 89.6h1.0v1.0h-1.0zM69.8 90.4h1.0v1.0h-1.0zM225.5 90.0h1.0v1.0h-1.0zM72.8 90.0h1.0v1.0h-1.0zM241.2 91.0h1.0v1.0h-1.0zM216.1 88.7h1.0v1.0h-1.0zM242.9 90.2h1.0v1.0h-1.0zM108.7 90.8h1.0v1.0h-1.0zM231.2 90.7h1.0v1.0h-1.0zM102.2 90.0h1.0v1.0h-1.0zM131.5 89.3h1.0v1.0h-1.0zM216.8 90.1h1.0v1.0h-1.0zM121.0 89.9h1.0v1.0h-1.0zM254.0 90.0h1.0v1.0h-1.0zM250.7 90.0h1.0v1.0h-1.0zM268.3 88.7h1.0v1.0h-1.0zM149.6 89.9h1.0v1.0h-1.0zM209.1 90.9h1.0v1.0h-1.0zM186.0 89.7h1.0v1.0h-1.0zM188.4 89.9h1.0v1.0h-1.0zM204.2 90.9h1.0v1.0h-1.0zM50.1 89.4h1.0v1.0h-1.0zM242.4 88.7h1.0v1.0h-1.0zM223.2 88.7h1.0v1.0h-1.0zM191.5 90.5h1.0v1.0h-1.0zM100.1 89.5h1.0v1.0h-1.0zM97.5 90.3h1.0v1.0h-1.0zM164.9 90.1h1.0v1.0h-1.0zM119.6 90.0h1.0v1.0h-1.0zM259.8 90.5h1.0v1.0h-1.0zM259.2 89.2h1.0v1.0h-1.0zM162.1 89.5h1.0v1.0h-1.0zM124.2 90.5h1.0v1.0h-1.0zM86.0 89.9h1.0v1.0h-1.0zM219.6 90.8h1.0v1.0h-1.0zM51.2 89.2h1.0v1.0h-1.0zM157.0 90.8h1.0v1.0h-1.0zM83.4 90.6h1.0v1.0h-1.0zM135.6 89.9h1.0v1.0h-1.0zM253.9 88.8h1.0v1.0h-1.0zM120.5 89.0h1.0v1.0h-1.0zM76.8 89.3h1.0v1.0h-1.0zM203.3 90.0h1.0v1.0h-1.0zM74.2 90.5h1.0v1.0h-1.0zM160.1 88.9h1.0v1.0h-1.0zM230.0 90.6h1.0v1.0h-1.0zM95.3 90.9h1.0v1.0h-1.0zM227.7 89.1h1.0v1.0h-1.0zM47.2 90.7h1.0v1.0h-1.0zM231.2 88.8h1.0v1.0h-1.0zM217.9 90.5h1.0v1.0h-1.0zM188.3 90.6h1.0v1.0h-1.0zM266.6 89.4h1.0v1.0h-1.0zM233.0 90.8h1.0v1.0h-1.0zM116.9 90.2h1.0v1.0h-1.0zM199.6 90.6h1.0v1.0h-1.0zM173.4 89.3h1.0v1.0h-1.0zM103.1 89.9h1.0v1.0h-1.0zM77.2 90.7h1.0v1.0h-1.0zM245.3 89.2h1.0v1.0h-1.0zM202.5 90.2h1.0v1.0h-1.0zM74.2 90.5h1.0v1.0h-1.0zM217.9 89.3h1.0v1.0h-1.0zM68.9 89.3h1.0v1.0h-1.0zM219.1 89.7h1.0v1.0h-1.0zM228.8 89.0h1.0v1.0h-1.0zM70.8 89.4h1.0v1.0h-1.0zM243.2 89.0h1.0v1.0h-1.0zM63.4 90.4h1.0v1.0h-1.0zM67.4 90.2h1.0v1.0h-1.0zM65.6 89.2h1.0v1.0h-1.0zM195.0 90.7h1.0v1.0h-1.0zM138.3 89.7h1.0v1.0h-1.0zM53.9 89.4h1.0v1.0h-1.0zM101.0 90.5h1.0v1.0h-1.0zM206.3 90.5h1.0v1.0h-1.0zM165.6 90.3h1.0v1.0h-1.0zM75.4 89.5h1.0v1.0h-1.0zM112.3 89.3h1.0v1.0h-1.0zM211.8 89.1h1.0v1.0h-1.0zM119.6 89.3h1.0v1.0h-1.0zM239.7 90.1h1.0v1.0h-1.0zM154.2 89.5h1.0v1.0h-1.0zM252.5 90.9h1.0v1.0h-1.0zM147.3 90.0h1.0v1.0h-1.0zM239.3 89.2h1.0v1.0h-1.0zM104.7 88.8h1.0v1.0h-1.0zM158.9 90.4h1.0v1.0h-1.0zM81.9 89.6h1.0v1.0h-1.0zM267.9 89.8h1.0v1.0h-1.0zM132.3 90.6h1.0v1.0h-1.0zM245.9 89.5h1.0v1.0h-1.0zM74.5 90.1h1.0v1.0h-1.0zM212.1 90.8h1.0v1.0h-1.0zM194.2 89.3h1.0v1.0h-1.0zM161.8 89.3h1.0v1.0h-1.0zM146.5 89.7h1.0v1.0h-1.0zM250.4 90.8h1.0v1.0h-1.0zM253.6 89.7h1.0v1.0h-1.0zM262.1 88.9h1.0v1.0h-1.0zM252.4 90.1h1.0v1.0h-1.0zM241.6 89.6h1.0v1.0h-1.0zM268.0 88.7h1.0v1.0h-1.0zM236.1 90.6h1.0v1.0h-1.0zM130.5 90.6h1.0v1.0h-1.0zM94.6 90.4h1.0v1.0h-1.0zM151.5 89.6h1.0v1.0h-1.0zM90.8 90.5h1.0v1.0h-1.0zM210.0 88.8h1.0v1.0h-1.0zM265.1 89.1h1.0v1.0h-1.0zM130.7 89.6h1.0v1.0h-1.0zM175.6 90.7h1.0v1.0h-1.0zM257.8 90.1h1.0v1.0h-1.0zM128.5 88.9h1.0v1.0h-1.0zM62.3 89.8h1.0v1.0h-1.0zM177.1 89.7h1.0v1.0h-1.0zM266.1 89.6h1.0v1.0h-1.0zM125.3 89.6h1.0v1.0h-1.0zM85.3 90.9h1.0v1.0h-1.0zM178.8 89.9h1.0v1.0h-1.0zM142.0 89.2h1.0v1.0h-1.0zM117.3 89.8h1.0v1.0h-1.0zM146.5 91.0h1.0v1.0h-1.0zM172.6 89.1h1.0v1.0h-1.0zM59.0 89.0h1.0v1.0h-1.0zM124.1 90.5h1.0v1.0h-1.0zM245.3 89.2h1.0v1.0h-1.0zM221.0 89.7h1.0v1.0h-1.0zM166.9 89.9h1.0v1.0h-1.0zM56.5 88.8h1.0v1.0h-1.0zM195.9 90.3h1.0v1.0h-1.0zM131.8 90.8h1.0v1.0h-1.0zM229.9 89.3h1.0v1.0h-1.0zM61.9 89.9h1.0v1.0h-1.0zM192.9 89.1h1.0v1.0h-1.0zM56.8 89.8h1.0v1.0h-1.0zM54.6 90.4h1.0v1.0h-1.0zM186.5 89.3h1.0v1.0h-1.0zM146.4 89.2h1.0v1.0h-1.0zM88.5 89.0h1.0v1.0h-1.0zM228.9 89.7h1.0v1.0h-1.0zM206.6 89.4h1.0v1.0h-1.0zM226.9 90.0h1.0v1.0h-1.0zM192.9 89.5h1.0v1.0h-1.0zM172.3 89.1h1.0v1.0h-1.0zM264.1 90.2h1.0v1.0h-1.0zM165.7 90.1h1.0v1.0h-1.0zM69.3 89.4h1.0v1.0h-1.0zM98.4 90.6h1.0v1.0h-1.0zM49.9 89.7h1.0v1.0h-1.0zM240.7 90.5h1.0v1.0h-1.0zM207.3 89.3h1.0v1.0h-1.0zM98.8 90.3h1.0v1.0h-1.0zM113.6 90.3h1.0v1.0h-1.0zM125.0 90.4h1.0v1.0h-1.0zM174.8 90.6h1.0v1.0h-1.0zM266.8 89.5h1.0v1.0h-1.0zM267.0 88.6h1.0v1.0h-1.0zM242.6 88.7h1.0v1.0h-1.0zM168.6 89.5h1.0v1.0h-1.0zM218.7 89.4h1.0v1.0h-1.0zM93.4 90.5h1.0v1.0h-1.0zM169.7 90.4h1.0v1.0h-1.0zM156.1 88.7h1.0v1.0h-1.0zM219.0 89.1h1.0v1.0h-1.0zM152.2 88.6h1.0v1.0h-1.0zM104.8 90.2h1.0v1.0h-1.0zM217.4 90.1h1.0v1.0h-1.0zM145.8 90.4h1.0v1.0h-1.0zM196.2 89.1h1.0v1.0h-1.0zM166.3 90.0h1.0v1.0h-1.0zM209.5 89.1h1.0v1.0h-1.0zM116.3 89.4h1.0v1.0h-1.0zM68.4 89.4h1.0v1.0h-1.0zM209.7 90.0h1.0v1.0h-1.0zM85.6 90.4h1.0v1.0h-1.0zM73.0 90.4h1.0v1.0h-1.0zM79.9 88.8h1.0v1.0h-1.0zM103.1 89.8h1.0v1.0h-1.0zM107.2 90.7h1.0v1.0h-1.0zM256.3 89.3h1.0v1.0h-1.0zM214.2 90.3h1.0v1.0h-1.0zM172.1 89.2h1.0v1.0h-1.0zM258.8 90.9h1.0v1.0h-1.0zM49.9 89.4h1.0v1.0h-1.0zM118.6 89.1h1.0v1.0h-1.0zM142.9 90.8h1.0v1.0h-1.0zM52.3 90.6h1.0v1.0h-1.0zM115.9 88.6h1.0v1.0h-1.0zM247.6 89.3h1.0v1.0h-1.0zM94.3 88.9h1.0v1.0h-1.0zM128.9 88.9h1.0v1.0h-1.0zM87.1 89.2h1.0v1.0h-1.0zM176.0 89.7h1.0v1.0h-1.0zM115.0 89.9h1.0v1.0h-1.0zM219.6 90.3h1.0v1.0h-1.0zM123.6 90.8h1.0v1.0h-1.0zM223.5 89.9h1.0v1.0h-1.0zM153.0 89.4h1.0v1.0h-1.0zM76.9 90.7h1.0v1.0h-1.0z" fill="#9a0c12" opacity="0.8"/>
<rect x="47" y="91.8" width="224" height="1" fill="#7c5a1c" opacity="0.55"/>
<rect x="69.6" y="84" width="1" height="16" fill="#fff" opacity="0.85"/>
<path d="M182.7 101.3h1.0v1.0h-1.0zM130.3 98.9h1.0v1.0h-1.0zM64.6 83.3h1.0v1.0h-1.0zM51.5 86.2h1.0v1.0h-1.0zM168.7 92.3h1.0v1.0h-1.0zM200.7 79.4h1.0v1.0h-1.0zM181.0 95.2h1.0v1.0h-1.0zM232.3 93.2h1.0v1.0h-1.0zM176.7 95.1h1.0v1.0h-1.0zM260.3 99.5h1.0v1.0h-1.0zM164.9 92.8h1.0v1.0h-1.0zM252.9 91.8h1.0v1.0h-1.0zM149.9 93.4h1.0v1.0h-1.0zM107.1 87.3h1.0v1.0h-1.0z" fill="#a0a0a0" opacity="0.7"/>
<path d="M163.7 97.1h1.0v1.0h-1.0zM125.2 97.5h1.0v1.0h-1.0zM141.8 94.6h1.0v1.0h-1.0zM88.9 91.6h1.0v1.0h-1.0zM124.9 90.6h1.0v1.0h-1.0zM217.6 95.0h1.0v1.0h-1.0zM260.5 93.2h1.0v1.0h-1.0zM208.3 94.6h1.0v1.0h-1.0zM132.7 93.9h1.0v1.0h-1.0zM50.5 90.8h1.0v1.0h-1.0zM144.8 84.4h1.0v1.0h-1.0zM251.3 86.8h1.0v1.0h-1.0z" fill="#cc1420" opacity="0.7"/>
<path d="M54.5 98.6h1.0v1.0h-1.0zM80.2 89.0h1.0v1.0h-1.0zM68.5 91.5h1.0v1.0h-1.0zM80.1 89.0h1.0v1.0h-1.0zM122.2 93.9h1.0v1.0h-1.0zM127.7 94.1h1.0v1.0h-1.0zM56.7 93.1h1.0v1.0h-1.0zM114.2 86.7h1.0v1.0h-1.0zM238.6 94.9h1.0v1.0h-1.0zM212.0 92.7h1.0v1.0h-1.0zM195.3 94.7h1.0v1.0h-1.0zM143.9 92.4h1.0v1.0h-1.0zM59.7 94.3h1.0v1.0h-1.0zM234.6 92.0h1.0v1.0h-1.0z" fill="#86b034" opacity="0.7"/>
<rect x="313.5" y="82.5" width="2.3" height="8.5" fill="#cc1420"/>
<rect x="317.4" y="82" width="2.5" height="7" fill="#cc1420"/>
<path d="M319.0 85.0h1.0v1.0h-1.0zM313.5 89.0h1.0v1.0h-1.0zM313.8 89.1h1.0v1.0h-1.0zM315.5 90.1h1.0v1.0h-1.0zM316.3 90.7h1.0v1.0h-1.0zM314.6 81.4h1.0v1.0h-1.0zM313.4 90.7h1.0v1.0h-1.0zM315.2 81.6h1.0v1.0h-1.0zM318.9 86.4h1.0v1.0h-1.0zM313.9 86.2h1.0v1.0h-1.0zM313.5 81.5h1.0v1.0h-1.0zM314.2 83.0h1.0v1.0h-1.0zM312.9 82.5h1.0v1.0h-1.0zM313.2 85.8h1.0v1.0h-1.0zM319.0 87.7h1.0v1.0h-1.0zM319.1 82.8h1.0v1.0h-1.0zM315.6 88.8h1.0v1.0h-1.0zM317.2 82.1h1.0v1.0h-1.0zM317.6 85.6h1.0v1.0h-1.0zM316.0 81.0h1.0v1.0h-1.0zM316.7 82.8h1.0v1.0h-1.0zM315.0 90.5h1.0v1.0h-1.0zM318.0 85.3h1.0v1.0h-1.0zM313.4 88.7h1.0v1.0h-1.0zM315.0 86.2h1.0v1.0h-1.0z" fill="#cc1420" opacity="1.0"/>
<rect x="323" y="82" width="185" height="6.5" fill="#cc1420"/>
<path d="M496.7 89.3h1.0v1.0h-1.0zM331.8 79.7h1.0v1.0h-1.0zM324.3 88.4h1.0v1.0h-1.0zM383.7 88.2h1.0v1.0h-1.0zM335.3 79.7h1.0v1.0h-1.0zM350.1 81.3h1.0v1.0h-1.0zM377.7 89.2h1.0v1.0h-1.0zM344.0 81.0h1.0v1.0h-1.0zM355.2 79.6h1.0v1.0h-1.0zM350.8 81.1h1.0v1.0h-1.0zM453.6 89.4h1.0v1.0h-1.0zM490.2 78.6h1.0v1.0h-1.0zM446.1 80.1h1.0v1.0h-1.0zM489.2 78.8h1.0v1.0h-1.0zM344.5 80.6h1.0v1.0h-1.0zM390.2 79.0h1.0v1.0h-1.0zM473.4 88.7h1.0v1.0h-1.0zM501.1 78.3h1.0v1.0h-1.0zM362.7 89.7h1.0v1.0h-1.0zM468.0 88.6h1.0v1.0h-1.0zM463.7 81.4h1.0v1.0h-1.0zM398.2 88.2h1.0v1.0h-1.0zM455.1 89.3h1.0v1.0h-1.0zM363.0 88.8h1.0v1.0h-1.0zM339.6 89.3h1.0v1.0h-1.0zM418.3 89.9h1.0v1.0h-1.0zM456.7 81.3h1.0v1.0h-1.0zM369.1 88.2h1.0v1.0h-1.0zM355.2 88.8h1.0v1.0h-1.0zM382.3 80.1h1.0v1.0h-1.0zM481.9 90.3h1.0v1.0h-1.0zM372.2 91.2h1.0v1.0h-1.0zM448.8 81.3h1.0v1.0h-1.0zM452.0 80.3h1.0v1.0h-1.0zM434.9 90.7h1.0v1.0h-1.0zM456.4 80.4h1.0v1.0h-1.0zM473.6 79.0h1.0v1.0h-1.0zM351.5 78.1h1.0v1.0h-1.0zM331.9 88.5h1.0v1.0h-1.0zM491.6 80.8h1.0v1.0h-1.0zM361.1 88.3h1.0v1.0h-1.0zM491.1 88.7h1.0v1.0h-1.0zM473.7 88.6h1.0v1.0h-1.0zM441.5 88.4h1.0v1.0h-1.0zM464.7 80.4h1.0v1.0h-1.0zM357.3 90.1h1.0v1.0h-1.0zM339.8 81.0h1.0v1.0h-1.0zM433.1 89.6h1.0v1.0h-1.0zM474.8 89.0h1.0v1.0h-1.0zM333.0 89.9h1.0v1.0h-1.0zM427.1 88.3h1.0v1.0h-1.0zM427.2 88.1h1.0v1.0h-1.0zM337.4 88.6h1.0v1.0h-1.0zM412.9 88.7h1.0v1.0h-1.0zM471.4 80.8h1.0v1.0h-1.0zM505.4 89.0h1.0v1.0h-1.0zM396.2 88.4h1.0v1.0h-1.0zM453.5 89.7h1.0v1.0h-1.0zM498.2 89.7h1.0v1.0h-1.0zM382.6 80.0h1.0v1.0h-1.0zM435.3 81.4h1.0v1.0h-1.0zM393.3 88.6h1.0v1.0h-1.0zM443.4 81.2h1.0v1.0h-1.0zM482.3 89.9h1.0v1.0h-1.0zM418.0 78.7h1.0v1.0h-1.0zM424.7 80.0h1.0v1.0h-1.0zM390.7 90.3h1.0v1.0h-1.0zM400.2 90.6h1.0v1.0h-1.0zM353.4 79.6h1.0v1.0h-1.0zM476.9 80.4h1.0v1.0h-1.0zM334.0 80.6h1.0v1.0h-1.0zM482.6 90.4h1.0v1.0h-1.0zM416.2 79.8h1.0v1.0h-1.0zM422.8 80.1h1.0v1.0h-1.0zM355.3 80.6h1.0v1.0h-1.0zM378.8 81.2h1.0v1.0h-1.0zM382.6 79.7h1.0v1.0h-1.0zM420.4 89.8h1.0v1.0h-1.0zM407.1 89.9h1.0v1.0h-1.0zM424.9 89.3h1.0v1.0h-1.0zM482.7 88.6h1.0v1.0h-1.0zM383.4 88.5h1.0v1.0h-1.0zM326.5 80.0h1.0v1.0h-1.0zM400.6 91.0h1.0v1.0h-1.0zM370.8 81.5h1.0v1.0h-1.0zM346.0 80.3h1.0v1.0h-1.0zM442.9 90.0h1.0v1.0h-1.0zM331.0 80.9h1.0v1.0h-1.0zM453.5 81.3h1.0v1.0h-1.0zM453.9 88.4h1.0v1.0h-1.0zM448.8 79.6h1.0v1.0h-1.0zM405.7 80.8h1.0v1.0h-1.0zM335.9 89.5h1.0v1.0h-1.0zM443.9 79.8h1.0v1.0h-1.0zM330.4 88.6h1.0v1.0h-1.0zM356.2 91.1h1.0v1.0h-1.0zM422.1 81.5h1.0v1.0h-1.0zM498.5 79.2h1.0v1.0h-1.0zM437.7 89.0h1.0v1.0h-1.0zM364.5 88.0h1.0v1.0h-1.0zM461.8 90.1h1.0v1.0h-1.0zM350.4 90.0h1.0v1.0h-1.0zM480.9 91.3h1.0v1.0h-1.0zM471.8 79.7h1.0v1.0h-1.0zM476.9 80.7h1.0v1.0h-1.0zM467.2 89.6h1.0v1.0h-1.0zM329.4 80.0h1.0v1.0h-1.0zM346.8 89.4h1.0v1.0h-1.0zM444.6 80.1h1.0v1.0h-1.0zM501.5 89.8h1.0v1.0h-1.0zM424.5 89.6h1.0v1.0h-1.0zM475.4 81.4h1.0v1.0h-1.0zM427.3 78.2h1.0v1.0h-1.0zM409.3 81.4h1.0v1.0h-1.0zM396.6 80.3h1.0v1.0h-1.0zM404.8 89.7h1.0v1.0h-1.0zM478.5 89.5h1.0v1.0h-1.0zM422.2 80.6h1.0v1.0h-1.0zM479.1 88.3h1.0v1.0h-1.0zM399.1 89.5h1.0v1.0h-1.0zM454.1 89.8h1.0v1.0h-1.0zM361.4 80.4h1.0v1.0h-1.0zM367.2 80.5h1.0v1.0h-1.0zM325.8 80.8h1.0v1.0h-1.0zM492.2 89.7h1.0v1.0h-1.0zM462.9 89.4h1.0v1.0h-1.0zM439.1 78.7h1.0v1.0h-1.0zM396.8 80.7h1.0v1.0h-1.0zM497.3 80.3h1.0v1.0h-1.0zM328.1 89.3h1.0v1.0h-1.0zM494.7 88.2h1.0v1.0h-1.0zM435.5 89.3h1.0v1.0h-1.0zM383.5 89.2h1.0v1.0h-1.0zM461.3 88.7h1.0v1.0h-1.0zM485.7 80.9h1.0v1.0h-1.0zM349.2 90.5h1.0v1.0h-1.0zM327.3 89.0h1.0v1.0h-1.0zM503.9 80.2h1.0v1.0h-1.0zM363.4 89.0h1.0v1.0h-1.0zM398.3 81.5h1.0v1.0h-1.0zM384.0 89.5h1.0v1.0h-1.0zM451.1 88.8h1.0v1.0h-1.0zM336.4 88.3h1.0v1.0h-1.0zM428.9 89.3h1.0v1.0h-1.0zM462.4 80.3h1.0v1.0h-1.0zM326.0 81.3h1.0v1.0h-1.0zM333.8 89.5h1.0v1.0h-1.0zM432.4 81.2h1.0v1.0h-1.0zM421.0 78.4h1.0v1.0h-1.0zM459.6 90.0h1.0v1.0h-1.0zM479.1 81.4h1.0v1.0h-1.0zM454.6 88.9h1.0v1.0h-1.0zM495.1 80.8h1.0v1.0h-1.0zM466.6 80.0h1.0v1.0h-1.0zM436.9 88.2h1.0v1.0h-1.0zM503.2 88.5h1.0v1.0h-1.0zM480.7 80.7h1.0v1.0h-1.0zM386.2 78.8h1.0v1.0h-1.0zM478.8 80.7h1.0v1.0h-1.0zM474.7 90.0h1.0v1.0h-1.0zM346.6 79.6h1.0v1.0h-1.0zM454.7 89.2h1.0v1.0h-1.0zM504.1 80.8h1.0v1.0h-1.0zM334.1 80.4h1.0v1.0h-1.0zM367.5 78.2h1.0v1.0h-1.0zM440.7 80.4h1.0v1.0h-1.0zM365.4 80.9h1.0v1.0h-1.0zM403.0 88.3h1.0v1.0h-1.0zM494.9 88.8h1.0v1.0h-1.0zM393.0 81.3h1.0v1.0h-1.0zM421.5 89.5h1.0v1.0h-1.0zM413.9 80.4h1.0v1.0h-1.0zM367.2 88.4h1.0v1.0h-1.0zM447.4 81.0h1.0v1.0h-1.0zM502.7 79.5h1.0v1.0h-1.0zM414.3 90.1h1.0v1.0h-1.0zM376.0 78.9h1.0v1.0h-1.0zM352.4 79.6h1.0v1.0h-1.0zM432.7 88.1h1.0v1.0h-1.0zM473.4 89.5h1.0v1.0h-1.0zM415.7 78.9h1.0v1.0h-1.0zM349.3 80.9h1.0v1.0h-1.0zM476.5 80.8h1.0v1.0h-1.0zM356.2 81.2h1.0v1.0h-1.0zM501.0 89.4h1.0v1.0h-1.0zM429.7 88.3h1.0v1.0h-1.0zM357.6 88.7h1.0v1.0h-1.0zM462.0 81.2h1.0v1.0h-1.0zM382.9 80.9h1.0v1.0h-1.0zM494.5 80.7h1.0v1.0h-1.0zM489.1 90.2h1.0v1.0h-1.0zM478.6 80.8h1.0v1.0h-1.0zM445.5 80.5h1.0v1.0h-1.0zM327.5 91.3h1.0v1.0h-1.0zM502.2 88.0h1.0v1.0h-1.0zM477.3 80.1h1.0v1.0h-1.0zM439.8 89.8h1.0v1.0h-1.0zM352.0 88.6h1.0v1.0h-1.0zM454.4 79.2h1.0v1.0h-1.0zM482.0 80.4h1.0v1.0h-1.0zM375.9 90.4h1.0v1.0h-1.0zM336.4 81.2h1.0v1.0h-1.0zM467.6 89.5h1.0v1.0h-1.0zM411.2 89.9h1.0v1.0h-1.0zM339.8 88.2h1.0v1.0h-1.0zM484.5 89.4h1.0v1.0h-1.0zM438.7 88.8h1.0v1.0h-1.0zM449.3 88.6h1.0v1.0h-1.0zM449.7 89.3h1.0v1.0h-1.0zM427.5 77.8h1.0v1.0h-1.0zM420.4 88.1h1.0v1.0h-1.0zM355.4 81.4h1.0v1.0h-1.0zM355.1 90.2h1.0v1.0h-1.0zM386.6 89.8h1.0v1.0h-1.0zM415.1 88.4h1.0v1.0h-1.0zM324.3 80.3h1.0v1.0h-1.0zM503.5 78.1h1.0v1.0h-1.0zM365.7 80.4h1.0v1.0h-1.0zM385.3 81.1h1.0v1.0h-1.0zM393.8 78.0h1.0v1.0h-1.0zM342.5 90.8h1.0v1.0h-1.0zM339.1 88.2h1.0v1.0h-1.0zM328.9 79.3h1.0v1.0h-1.0zM420.4 90.1h1.0v1.0h-1.0zM400.4 80.3h1.0v1.0h-1.0zM385.5 79.7h1.0v1.0h-1.0zM506.8 79.9h1.0v1.0h-1.0zM480.5 81.1h1.0v1.0h-1.0zM364.8 79.7h1.0v1.0h-1.0zM429.7 89.2h1.0v1.0h-1.0zM424.7 88.2h1.0v1.0h-1.0zM457.4 79.6h1.0v1.0h-1.0zM505.6 89.7h1.0v1.0h-1.0zM352.6 79.3h1.0v1.0h-1.0zM422.8 80.8h1.0v1.0h-1.0zM472.9 89.5h1.0v1.0h-1.0zM480.6 81.4h1.0v1.0h-1.0zM350.0 89.2h1.0v1.0h-1.0zM379.8 89.1h1.0v1.0h-1.0zM337.8 79.6h1.0v1.0h-1.0zM443.9 88.8h1.0v1.0h-1.0zM496.5 81.4h1.0v1.0h-1.0zM504.9 80.7h1.0v1.0h-1.0zM357.9 89.6h1.0v1.0h-1.0zM471.8 88.5h1.0v1.0h-1.0zM428.6 88.8h1.0v1.0h-1.0zM377.7 89.1h1.0v1.0h-1.0zM344.4 89.0h1.0v1.0h-1.0zM501.4 89.1h1.0v1.0h-1.0zM359.3 81.3h1.0v1.0h-1.0zM344.3 81.5h1.0v1.0h-1.0zM401.1 89.4h1.0v1.0h-1.0zM353.0 89.2h1.0v1.0h-1.0zM349.1 89.7h1.0v1.0h-1.0zM451.0 91.5h1.0v1.0h-1.0zM361.1 81.4h1.0v1.0h-1.0zM394.9 81.0h1.0v1.0h-1.0zM444.7 89.2h1.0v1.0h-1.0zM334.7 90.1h1.0v1.0h-1.0zM428.7 88.2h1.0v1.0h-1.0zM461.9 79.1h1.0v1.0h-1.0zM400.5 90.4h1.0v1.0h-1.0zM391.8 89.6h1.0v1.0h-1.0zM506.5 88.7h1.0v1.0h-1.0zM352.9 90.1h1.0v1.0h-1.0zM493.4 80.1h1.0v1.0h-1.0zM378.0 80.7h1.0v1.0h-1.0zM490.2 80.2h1.0v1.0h-1.0zM409.4 90.2h1.0v1.0h-1.0zM399.0 80.3h1.0v1.0h-1.0zM378.5 90.1h1.0v1.0h-1.0zM453.7 88.9h1.0v1.0h-1.0zM451.1 79.7h1.0v1.0h-1.0zM443.2 81.5h1.0v1.0h-1.0zM476.5 80.9h1.0v1.0h-1.0zM485.2 81.5h1.0v1.0h-1.0zM501.5 81.3h1.0v1.0h-1.0zM436.9 80.2h1.0v1.0h-1.0zM438.2 80.9h1.0v1.0h-1.0zM466.3 80.9h1.0v1.0h-1.0zM398.8 88.3h1.0v1.0h-1.0zM500.8 88.7h1.0v1.0h-1.0zM364.4 80.2h1.0v1.0h-1.0zM430.5 89.3h1.0v1.0h-1.0zM330.5 88.5h1.0v1.0h-1.0zM450.0 88.9h1.0v1.0h-1.0zM349.3 90.8h1.0v1.0h-1.0zM379.7 80.2h1.0v1.0h-1.0zM413.2 80.5h1.0v1.0h-1.0zM418.0 81.5h1.0v1.0h-1.0zM412.1 81.4h1.0v1.0h-1.0zM497.3 79.6h1.0v1.0h-1.0zM482.3 90.1h1.0v1.0h-1.0zM370.0 81.4h1.0v1.0h-1.0zM464.0 80.4h1.0v1.0h-1.0zM337.4 88.0h1.0v1.0h-1.0zM390.8 88.6h1.0v1.0h-1.0zM475.8 88.4h1.0v1.0h-1.0zM360.1 80.6h1.0v1.0h-1.0zM372.0 80.9h1.0v1.0h-1.0zM396.2 88.2h1.0v1.0h-1.0zM479.1 80.4h1.0v1.0h-1.0zM342.6 80.8h1.0v1.0h-1.0zM440.1 88.8h1.0v1.0h-1.0zM441.6 91.0h1.0v1.0h-1.0zM347.6 79.6h1.0v1.0h-1.0zM361.5 88.6h1.0v1.0h-1.0zM494.2 80.5h1.0v1.0h-1.0zM381.4 81.4h1.0v1.0h-1.0zM351.7 89.1h1.0v1.0h-1.0zM483.7 81.4h1.0v1.0h-1.0zM362.9 91.8h1.0v1.0h-1.0zM353.7 80.8h1.0v1.0h-1.0zM356.4 80.2h1.0v1.0h-1.0zM498.6 81.3h1.0v1.0h-1.0zM335.0 79.8h1.0v1.0h-1.0zM506.2 81.5h1.0v1.0h-1.0zM366.3 80.8h1.0v1.0h-1.0zM443.1 89.7h1.0v1.0h-1.0zM341.0 88.4h1.0v1.0h-1.0zM473.9 79.8h1.0v1.0h-1.0zM460.3 88.1h1.0v1.0h-1.0zM340.2 80.2h1.0v1.0h-1.0zM385.1 80.7h1.0v1.0h-1.0zM432.5 89.2h1.0v1.0h-1.0zM388.0 88.4h1.0v1.0h-1.0zM470.7 89.0h1.0v1.0h-1.0zM413.0 81.2h1.0v1.0h-1.0zM450.4 79.8h1.0v1.0h-1.0zM450.0 89.8h1.0v1.0h-1.0zM337.2 80.6h1.0v1.0h-1.0zM491.7 81.0h1.0v1.0h-1.0zM384.9 78.7h1.0v1.0h-1.0zM356.4 81.2h1.0v1.0h-1.0zM400.5 88.6h1.0v1.0h-1.0zM355.8 81.3h1.0v1.0h-1.0zM459.2 81.3h1.0v1.0h-1.0zM396.4 80.0h1.0v1.0h-1.0zM329.0 89.4h1.0v1.0h-1.0zM333.6 88.7h1.0v1.0h-1.0zM408.3 80.2h1.0v1.0h-1.0zM332.6 88.9h1.0v1.0h-1.0zM430.2 79.7h1.0v1.0h-1.0zM371.0 90.3h1.0v1.0h-1.0zM414.7 88.5h1.0v1.0h-1.0zM344.1 81.2h1.0v1.0h-1.0zM328.4 89.9h1.0v1.0h-1.0zM367.1 79.7h1.0v1.0h-1.0zM348.1 80.9h1.0v1.0h-1.0zM379.9 89.2h1.0v1.0h-1.0zM437.5 80.6h1.0v1.0h-1.0zM436.5 80.7h1.0v1.0h-1.0zM377.8 81.4h1.0v1.0h-1.0zM407.7 88.6h1.0v1.0h-1.0zM344.5 88.7h1.0v1.0h-1.0zM441.9 80.5h1.0v1.0h-1.0zM412.2 88.2h1.0v1.0h-1.0zM387.7 81.4h1.0v1.0h-1.0zM332.9 89.0h1.0v1.0h-1.0zM499.7 80.7h1.0v1.0h-1.0zM326.6 88.7h1.0v1.0h-1.0zM352.5 80.6h1.0v1.0h-1.0zM391.7 79.8h1.0v1.0h-1.0zM331.0 80.3h1.0v1.0h-1.0zM418.8 80.7h1.0v1.0h-1.0zM447.9 80.4h1.0v1.0h-1.0zM465.7 78.4h1.0v1.0h-1.0zM491.0 92.5h1.0v1.0h-1.0zM502.2 80.0h1.0v1.0h-1.0zM447.1 81.1h1.0v1.0h-1.0zM429.8 78.9h1.0v1.0h-1.0zM478.7 90.2h1.0v1.0h-1.0zM404.0 89.0h1.0v1.0h-1.0zM461.6 88.8h1.0v1.0h-1.0zM488.4 90.2h1.0v1.0h-1.0zM362.8 79.7h1.0v1.0h-1.0zM342.4 89.2h1.0v1.0h-1.0zM389.3 88.7h1.0v1.0h-1.0zM382.1 88.6h1.0v1.0h-1.0zM457.4 78.7h1.0v1.0h-1.0zM422.4 81.2h1.0v1.0h-1.0zM426.7 88.9h1.0v1.0h-1.0zM379.5 88.6h1.0v1.0h-1.0zM389.9 80.4h1.0v1.0h-1.0zM463.3 78.7h1.0v1.0h-1.0zM440.1 80.4h1.0v1.0h-1.0zM340.5 80.2h1.0v1.0h-1.0zM506.9 88.0h1.0v1.0h-1.0zM401.8 88.5h1.0v1.0h-1.0zM336.5 79.6h1.0v1.0h-1.0zM445.0 79.4h1.0v1.0h-1.0zM476.6 79.7h1.0v1.0h-1.0zM346.7 89.2h1.0v1.0h-1.0zM393.4 79.6h1.0v1.0h-1.0zM416.6 80.3h1.0v1.0h-1.0zM367.6 80.2h1.0v1.0h-1.0zM343.9 79.3h1.0v1.0h-1.0zM377.3 88.2h1.0v1.0h-1.0zM476.5 88.0h1.0v1.0h-1.0zM391.0 88.2h1.0v1.0h-1.0zM463.5 88.2h1.0v1.0h-1.0zM416.9 79.9h1.0v1.0h-1.0zM332.7 81.2h1.0v1.0h-1.0zM446.4 88.4h1.0v1.0h-1.0zM470.7 79.4h1.0v1.0h-1.0zM451.5 81.2h1.0v1.0h-1.0zM434.1 80.5h1.0v1.0h-1.0zM422.4 80.8h1.0v1.0h-1.0zM408.3 78.7h1.0v1.0h-1.0zM482.3 88.8h1.0v1.0h-1.0zM433.6 80.5h1.0v1.0h-1.0zM362.3 90.0h1.0v1.0h-1.0zM380.1 81.2h1.0v1.0h-1.0zM423.3 80.1h1.0v1.0h-1.0zM467.8 88.2h1.0v1.0h-1.0zM413.6 79.5h1.0v1.0h-1.0zM455.5 88.2h1.0v1.0h-1.0zM429.1 81.5h1.0v1.0h-1.0zM381.6 88.7h1.0v1.0h-1.0zM482.4 81.4h1.0v1.0h-1.0zM493.7 80.9h1.0v1.0h-1.0zM408.9 88.7h1.0v1.0h-1.0zM501.2 90.6h1.0v1.0h-1.0zM335.7 80.4h1.0v1.0h-1.0zM459.7 79.6h1.0v1.0h-1.0zM332.7 81.3h1.0v1.0h-1.0zM457.1 90.0h1.0v1.0h-1.0zM390.2 77.3h1.0v1.0h-1.0zM361.8 90.5h1.0v1.0h-1.0zM424.7 88.8h1.0v1.0h-1.0zM450.0 88.5h1.0v1.0h-1.0zM338.7 79.7h1.0v1.0h-1.0zM330.9 79.0h1.0v1.0h-1.0zM452.6 89.5h1.0v1.0h-1.0zM424.2 88.7h1.0v1.0h-1.0zM408.2 88.0h1.0v1.0h-1.0zM383.1 88.3h1.0v1.0h-1.0zM417.5 88.4h1.0v1.0h-1.0zM466.7 88.5h1.0v1.0h-1.0zM386.8 89.2h1.0v1.0h-1.0zM356.4 88.8h1.0v1.0h-1.0zM421.7 81.0h1.0v1.0h-1.0zM487.8 80.6h1.0v1.0h-1.0zM364.2 88.9h1.0v1.0h-1.0zM388.1 89.4h1.0v1.0h-1.0zM377.4 81.2h1.0v1.0h-1.0zM387.3 89.8h1.0v1.0h-1.0zM366.0 89.5h1.0v1.0h-1.0zM470.1 90.1h1.0v1.0h-1.0zM460.3 88.5h1.0v1.0h-1.0zM338.4 78.5h1.0v1.0h-1.0zM463.9 88.1h1.0v1.0h-1.0zM459.1 91.2h1.0v1.0h-1.0zM344.5 81.0h1.0v1.0h-1.0zM396.5 80.4h1.0v1.0h-1.0zM505.7 88.7h1.0v1.0h-1.0zM326.8 90.7h1.0v1.0h-1.0zM366.8 80.3h1.0v1.0h-1.0zM501.1 80.7h1.0v1.0h-1.0zM480.6 80.1h1.0v1.0h-1.0zM392.0 81.3h1.0v1.0h-1.0zM348.4 89.2h1.0v1.0h-1.0zM445.8 81.1h1.0v1.0h-1.0zM401.9 89.1h1.0v1.0h-1.0zM464.2 88.2h1.0v1.0h-1.0zM336.7 88.3h1.0v1.0h-1.0zM351.7 88.8h1.0v1.0h-1.0zM494.8 88.3h1.0v1.0h-1.0zM443.0 80.5h1.0v1.0h-1.0zM331.9 81.4h1.0v1.0h-1.0zM348.5 89.7h1.0v1.0h-1.0zM389.0 88.2h1.0v1.0h-1.0zM381.9 88.1h1.0v1.0h-1.0zM450.3 88.4h1.0v1.0h-1.0zM394.1 88.3h1.0v1.0h-1.0zM495.9 88.3h1.0v1.0h-1.0zM444.0 88.4h1.0v1.0h-1.0zM445.8 88.2h1.0v1.0h-1.0zM347.7 89.7h1.0v1.0h-1.0zM394.5 88.1h1.0v1.0h-1.0zM364.0 89.4h1.0v1.0h-1.0zM403.2 80.2h1.0v1.0h-1.0zM398.4 90.7h1.0v1.0h-1.0zM362.4 90.9h1.0v1.0h-1.0zM338.2 81.0h1.0v1.0h-1.0zM408.3 79.6h1.0v1.0h-1.0zM406.8 80.9h1.0v1.0h-1.0zM401.5 88.1h1.0v1.0h-1.0zM409.2 80.3h1.0v1.0h-1.0zM430.9 89.2h1.0v1.0h-1.0zM366.9 80.8h1.0v1.0h-1.0zM349.9 88.3h1.0v1.0h-1.0zM325.8 80.1h1.0v1.0h-1.0zM494.4 80.1h1.0v1.0h-1.0zM402.5 88.7h1.0v1.0h-1.0zM502.9 80.8h1.0v1.0h-1.0zM434.4 88.3h1.0v1.0h-1.0zM431.5 81.2h1.0v1.0h-1.0zM391.8 90.2h1.0v1.0h-1.0zM327.7 80.3h1.0v1.0h-1.0zM458.0 80.7h1.0v1.0h-1.0zM356.8 88.4h1.0v1.0h-1.0zM466.4 81.0h1.0v1.0h-1.0zM412.1 81.0h1.0v1.0h-1.0zM435.3 88.1h1.0v1.0h-1.0zM433.5 79.2h1.0v1.0h-1.0zM408.9 80.5h1.0v1.0h-1.0zM361.1 89.2h1.0v1.0h-1.0zM503.2 79.1h1.0v1.0h-1.0zM414.6 80.1h1.0v1.0h-1.0zM396.4 89.4h1.0v1.0h-1.0zM480.8 88.6h1.0v1.0h-1.0zM464.9 80.0h1.0v1.0h-1.0zM376.2 79.4h1.0v1.0h-1.0zM494.2 79.4h1.0v1.0h-1.0zM339.6 78.8h1.0v1.0h-1.0zM445.5 88.9h1.0v1.0h-1.0zM357.6 89.8h1.0v1.0h-1.0zM425.8 89.6h1.0v1.0h-1.0zM324.9 89.3h1.0v1.0h-1.0zM471.0 78.5h1.0v1.0h-1.0zM356.3 88.9h1.0v1.0h-1.0zM420.2 79.4h1.0v1.0h-1.0zM350.7 89.2h1.0v1.0h-1.0zM330.0 88.2h1.0v1.0h-1.0zM487.9 79.7h1.0v1.0h-1.0zM420.2 81.1h1.0v1.0h-1.0zM336.8 89.0h1.0v1.0h-1.0zM350.9 81.4h1.0v1.0h-1.0zM457.2 88.2h1.0v1.0h-1.0zM439.7 90.4h1.0v1.0h-1.0zM346.7 80.5h1.0v1.0h-1.0zM451.2 81.1h1.0v1.0h-1.0zM451.2 80.4h1.0v1.0h-1.0zM380.7 89.0h1.0v1.0h-1.0zM343.5 89.1h1.0v1.0h-1.0zM417.1 81.0h1.0v1.0h-1.0zM366.2 88.0h1.0v1.0h-1.0zM351.9 79.8h1.0v1.0h-1.0zM384.5 79.8h1.0v1.0h-1.0zM335.5 80.2h1.0v1.0h-1.0zM389.3 80.9h1.0v1.0h-1.0zM387.8 91.0h1.0v1.0h-1.0zM432.0 89.5h1.0v1.0h-1.0zM371.2 80.4h1.0v1.0h-1.0zM350.5 90.4h1.0v1.0h-1.0zM372.1 79.7h1.0v1.0h-1.0zM425.7 88.1h1.0v1.0h-1.0zM506.1 79.5h1.0v1.0h-1.0zM412.8 80.3h1.0v1.0h-1.0zM408.8 88.0h1.0v1.0h-1.0zM501.0 81.4h1.0v1.0h-1.0zM461.6 88.3h1.0v1.0h-1.0zM452.4 90.6h1.0v1.0h-1.0zM409.5 89.8h1.0v1.0h-1.0zM405.0 81.4h1.0v1.0h-1.0zM414.6 81.4h1.0v1.0h-1.0zM396.4 80.8h1.0v1.0h-1.0zM471.1 79.7h1.0v1.0h-1.0zM358.9 81.1h1.0v1.0h-1.0zM496.9 89.2h1.0v1.0h-1.0zM353.8 88.3h1.0v1.0h-1.0zM501.1 89.7h1.0v1.0h-1.0zM498.2 81.3h1.0v1.0h-1.0zM352.1 81.4h1.0v1.0h-1.0zM440.4 80.9h1.0v1.0h-1.0zM418.4 88.4h1.0v1.0h-1.0zM387.4 80.0h1.0v1.0h-1.0zM375.5 80.8h1.0v1.0h-1.0zM432.8 80.5h1.0v1.0h-1.0zM346.5 89.6h1.0v1.0h-1.0zM445.4 88.7h1.0v1.0h-1.0zM386.6 79.4h1.0v1.0h-1.0zM399.1 80.2h1.0v1.0h-1.0zM471.7 89.6h1.0v1.0h-1.0zM461.7 89.9h1.0v1.0h-1.0zM476.5 88.1h1.0v1.0h-1.0zM338.7 81.1h1.0v1.0h-1.0zM480.5 79.7h1.0v1.0h-1.0zM403.7 79.5h1.0v1.0h-1.0zM340.0 89.6h1.0v1.0h-1.0zM344.5 88.9h1.0v1.0h-1.0zM372.0 89.3h1.0v1.0h-1.0zM480.2 89.9h1.0v1.0h-1.0zM428.9 79.7h1.0v1.0h-1.0zM433.8 81.1h1.0v1.0h-1.0zM506.9 90.3h1.0v1.0h-1.0zM486.9 91.0h1.0v1.0h-1.0zM345.1 89.7h1.0v1.0h-1.0zM499.9 88.8h1.0v1.0h-1.0zM376.1 81.3h1.0v1.0h-1.0zM464.7 80.1h1.0v1.0h-1.0zM485.0 89.2h1.0v1.0h-1.0zM347.2 88.3h1.0v1.0h-1.0zM449.0 80.8h1.0v1.0h-1.0zM440.1 90.9h1.0v1.0h-1.0zM328.1 81.4h1.0v1.0h-1.0zM479.4 88.2h1.0v1.0h-1.0zM381.9 78.6h1.0v1.0h-1.0zM362.9 88.0h1.0v1.0h-1.0zM433.5 90.2h1.0v1.0h-1.0zM474.4 88.9h1.0v1.0h-1.0zM492.9 80.5h1.0v1.0h-1.0zM486.7 90.7h1.0v1.0h-1.0zM433.0 81.3h1.0v1.0h-1.0zM343.3 79.4h1.0v1.0h-1.0zM409.8 81.0h1.0v1.0h-1.0zM472.1 88.5h1.0v1.0h-1.0zM430.6 80.8h1.0v1.0h-1.0zM377.4 79.1h1.0v1.0h-1.0zM396.6 91.2h1.0v1.0h-1.0zM443.1 90.8h1.0v1.0h-1.0zM354.7 78.5h1.0v1.0h-1.0zM361.2 90.6h1.0v1.0h-1.0zM459.6 88.1h1.0v1.0h-1.0zM471.2 80.5h1.0v1.0h-1.0zM395.0 88.3h1.0v1.0h-1.0zM420.2 88.7h1.0v1.0h-1.0zM453.5 78.4h1.0v1.0h-1.0zM407.1 79.4h1.0v1.0h-1.0zM324.6 79.3h1.0v1.0h-1.0zM398.5 80.4h1.0v1.0h-1.0zM362.6 89.0h1.0v1.0h-1.0zM380.2 88.2h1.0v1.0h-1.0zM415.1 81.3h1.0v1.0h-1.0zM476.0 89.2h1.0v1.0h-1.0zM343.2 88.5h1.0v1.0h-1.0zM433.5 79.9h1.0v1.0h-1.0zM389.6 89.2h1.0v1.0h-1.0zM415.5 80.7h1.0v1.0h-1.0zM488.5 80.3h1.0v1.0h-1.0zM491.2 88.4h1.0v1.0h-1.0zM413.7 88.5h1.0v1.0h-1.0zM381.6 80.6h1.0v1.0h-1.0zM373.9 88.6h1.0v1.0h-1.0zM461.8 90.2h1.0v1.0h-1.0zM369.0 78.4h1.0v1.0h-1.0zM326.7 81.5h1.0v1.0h-1.0zM337.9 89.5h1.0v1.0h-1.0zM436.8 89.7h1.0v1.0h-1.0zM464.8 80.5h1.0v1.0h-1.0zM352.0 77.3h1.0v1.0h-1.0zM336.6 88.2h1.0v1.0h-1.0zM479.8 80.5h1.0v1.0h-1.0zM505.4 81.2h1.0v1.0h-1.0zM445.4 81.0h1.0v1.0h-1.0zM437.4 81.5h1.0v1.0h-1.0zM375.8 88.1h1.0v1.0h-1.0zM460.8 80.8h1.0v1.0h-1.0zM458.5 88.2h1.0v1.0h-1.0zM392.3 88.7h1.0v1.0h-1.0zM344.0 79.3h1.0v1.0h-1.0zM465.6 88.1h1.0v1.0h-1.0zM422.1 88.8h1.0v1.0h-1.0zM327.4 80.1h1.0v1.0h-1.0zM406.4 81.3h1.0v1.0h-1.0zM469.9 88.5h1.0v1.0h-1.0zM399.8 88.5h1.0v1.0h-1.0zM459.8 77.6h1.0v1.0h-1.0zM357.6 81.3h1.0v1.0h-1.0zM361.2 90.7h1.0v1.0h-1.0zM469.8 81.0h1.0v1.0h-1.0zM447.9 80.9h1.0v1.0h-1.0zM362.8 81.4h1.0v1.0h-1.0zM488.6 79.5h1.0v1.0h-1.0zM414.6 80.3h1.0v1.0h-1.0zM478.3 80.3h1.0v1.0h-1.0zM379.0 78.9h1.0v1.0h-1.0zM424.6 90.1h1.0v1.0h-1.0zM349.6 89.5h1.0v1.0h-1.0zM347.4 88.2h1.0v1.0h-1.0zM464.7 90.4h1.0v1.0h-1.0zM494.7 88.5h1.0v1.0h-1.0zM500.4 80.1h1.0v1.0h-1.0zM333.2 89.2h1.0v1.0h-1.0zM374.9 90.8h1.0v1.0h-1.0zM338.3 89.5h1.0v1.0h-1.0zM489.9 89.1h1.0v1.0h-1.0zM461.9 90.5h1.0v1.0h-1.0zM355.6 88.4h1.0v1.0h-1.0zM349.3 80.6h1.0v1.0h-1.0zM393.2 88.1h1.0v1.0h-1.0zM467.3 80.8h1.0v1.0h-1.0zM494.7 81.2h1.0v1.0h-1.0zM505.5 88.5h1.0v1.0h-1.0zM418.7 80.5h1.0v1.0h-1.0zM358.6 79.4h1.0v1.0h-1.0zM469.7 89.1h1.0v1.0h-1.0zM433.9 79.9h1.0v1.0h-1.0zM327.9 80.5h1.0v1.0h-1.0zM367.3 89.0h1.0v1.0h-1.0zM327.5 81.0h1.0v1.0h-1.0zM453.0 81.0h1.0v1.0h-1.0zM395.5 88.2h1.0v1.0h-1.0zM347.1 80.7h1.0v1.0h-1.0zM374.5 79.7h1.0v1.0h-1.0zM325.1 81.4h1.0v1.0h-1.0zM365.5 89.0h1.0v1.0h-1.0zM500.0 80.8h1.0v1.0h-1.0zM484.5 88.3h1.0v1.0h-1.0zM341.3 77.7h1.0v1.0h-1.0zM335.4 89.1h1.0v1.0h-1.0zM477.9 80.7h1.0v1.0h-1.0zM383.2 79.5h1.0v1.0h-1.0zM324.8 80.0h1.0v1.0h-1.0zM399.9 89.0h1.0v1.0h-1.0zM387.2 81.0h1.0v1.0h-1.0zM461.6 89.2h1.0v1.0h-1.0zM497.2 88.7h1.0v1.0h-1.0zM427.9 88.7h1.0v1.0h-1.0zM493.5 79.9h1.0v1.0h-1.0zM453.6 88.5h1.0v1.0h-1.0zM490.7 88.1h1.0v1.0h-1.0zM487.6 81.5h1.0v1.0h-1.0zM480.5 80.4h1.0v1.0h-1.0zM458.3 81.1h1.0v1.0h-1.0zM483.5 89.5h1.0v1.0h-1.0zM349.9 88.8h1.0v1.0h-1.0zM389.0 88.3h1.0v1.0h-1.0zM461.9 80.2h1.0v1.0h-1.0zM385.5 81.0h1.0v1.0h-1.0zM445.4 79.6h1.0v1.0h-1.0zM493.6 88.6h1.0v1.0h-1.0zM389.6 90.7h1.0v1.0h-1.0zM370.4 88.1h1.0v1.0h-1.0zM469.1 89.2h1.0v1.0h-1.0zM470.2 81.4h1.0v1.0h-1.0zM451.6 80.2h1.0v1.0h-1.0zM413.1 79.8h1.0v1.0h-1.0zM356.3 79.9h1.0v1.0h-1.0zM382.0 78.4h1.0v1.0h-1.0zM400.0 88.4h1.0v1.0h-1.0zM448.1 80.2h1.0v1.0h-1.0zM460.7 89.4h1.0v1.0h-1.0zM336.3 89.2h1.0v1.0h-1.0zM436.2 89.5h1.0v1.0h-1.0zM403.2 80.9h1.0v1.0h-1.0zM468.6 88.6h1.0v1.0h-1.0zM381.2 89.9h1.0v1.0h-1.0zM339.2 91.6h1.0v1.0h-1.0zM383.1 79.2h1.0v1.0h-1.0zM368.4 89.0h1.0v1.0h-1.0zM463.0 80.8h1.0v1.0h-1.0zM400.2 89.4h1.0v1.0h-1.0zM430.3 79.9h1.0v1.0h-1.0zM498.6 89.7h1.0v1.0h-1.0zM327.5 79.3h1.0v1.0h-1.0zM502.9 80.8h1.0v1.0h-1.0zM408.8 88.6h1.0v1.0h-1.0zM332.3 88.7h1.0v1.0h-1.0zM497.2 81.0h1.0v1.0h-1.0zM436.7 81.0h1.0v1.0h-1.0zM327.4 81.5h1.0v1.0h-1.0zM495.1 80.5h1.0v1.0h-1.0zM506.8 88.6h1.0v1.0h-1.0zM385.8 88.9h1.0v1.0h-1.0zM453.4 81.0h1.0v1.0h-1.0zM366.8 79.8h1.0v1.0h-1.0zM388.8 80.4h1.0v1.0h-1.0zM409.3 81.0h1.0v1.0h-1.0zM343.7 80.7h1.0v1.0h-1.0zM446.8 89.1h1.0v1.0h-1.0zM424.1 81.2h1.0v1.0h-1.0zM384.8 80.4h1.0v1.0h-1.0zM394.3 88.5h1.0v1.0h-1.0zM355.0 80.6h1.0v1.0h-1.0zM351.4 79.3h1.0v1.0h-1.0zM442.4 88.8h1.0v1.0h-1.0zM498.7 78.7h1.0v1.0h-1.0zM442.8 90.8h1.0v1.0h-1.0zM350.8 89.9h1.0v1.0h-1.0zM425.8 89.4h1.0v1.0h-1.0zM340.1 88.7h1.0v1.0h-1.0zM496.7 81.2h1.0v1.0h-1.0zM372.9 79.8h1.0v1.0h-1.0zM412.7 81.2h1.0v1.0h-1.0zM435.0 89.4h1.0v1.0h-1.0zM384.5 80.4h1.0v1.0h-1.0zM470.0 89.5h1.0v1.0h-1.0zM402.6 79.4h1.0v1.0h-1.0zM344.8 77.7h1.0v1.0h-1.0zM451.3 90.1h1.0v1.0h-1.0zM333.1 80.6h1.0v1.0h-1.0zM456.9 80.5h1.0v1.0h-1.0zM481.3 88.3h1.0v1.0h-1.0zM378.2 89.2h1.0v1.0h-1.0zM325.8 80.5h1.0v1.0h-1.0zM464.8 89.0h1.0v1.0h-1.0zM395.6 89.3h1.0v1.0h-1.0zM365.4 81.3h1.0v1.0h-1.0zM350.9 88.2h1.0v1.0h-1.0zM473.5 79.4h1.0v1.0h-1.0zM360.8 88.2h1.0v1.0h-1.0zM449.6 88.5h1.0v1.0h-1.0zM350.3 79.3h1.0v1.0h-1.0zM382.3 79.0h1.0v1.0h-1.0zM348.9 80.7h1.0v1.0h-1.0zM453.1 89.3h1.0v1.0h-1.0zM380.1 81.3h1.0v1.0h-1.0zM413.4 88.2h1.0v1.0h-1.0zM414.3 79.5h1.0v1.0h-1.0zM505.7 80.2h1.0v1.0h-1.0zM408.1 80.9h1.0v1.0h-1.0zM394.9 89.0h1.0v1.0h-1.0zM410.3 79.6h1.0v1.0h-1.0zM352.0 80.9h1.0v1.0h-1.0zM390.3 78.6h1.0v1.0h-1.0zM430.6 88.1h1.0v1.0h-1.0zM506.1 89.5h1.0v1.0h-1.0zM412.0 81.3h1.0v1.0h-1.0zM365.6 80.9h1.0v1.0h-1.0zM336.0 90.0h1.0v1.0h-1.0zM495.3 81.3h1.0v1.0h-1.0zM374.8 88.2h1.0v1.0h-1.0zM350.9 90.7h1.0v1.0h-1.0zM459.2 80.7h1.0v1.0h-1.0zM342.8 80.2h1.0v1.0h-1.0zM376.8 81.3h1.0v1.0h-1.0zM452.0 80.6h1.0v1.0h-1.0zM471.8 80.9h1.0v1.0h-1.0zM468.6 81.1h1.0v1.0h-1.0zM409.6 89.8h1.0v1.0h-1.0zM350.7 88.1h1.0v1.0h-1.0zM371.4 88.6h1.0v1.0h-1.0zM477.1 79.5h1.0v1.0h-1.0zM349.0 89.9h1.0v1.0h-1.0zM457.1 88.5h1.0v1.0h-1.0zM380.1 89.2h1.0v1.0h-1.0zM351.6 80.3h1.0v1.0h-1.0zM453.0 88.3h1.0v1.0h-1.0zM324.6 89.3h1.0v1.0h-1.0zM351.6 90.1h1.0v1.0h-1.0zM449.7 88.8h1.0v1.0h-1.0zM380.7 89.2h1.0v1.0h-1.0zM448.0 89.8h1.0v1.0h-1.0zM361.7 88.2h1.0v1.0h-1.0zM474.9 80.7h1.0v1.0h-1.0zM342.7 90.2h1.0v1.0h-1.0zM481.1 90.1h1.0v1.0h-1.0zM375.2 89.0h1.0v1.0h-1.0zM493.4 88.3h1.0v1.0h-1.0zM397.4 80.1h1.0v1.0h-1.0zM405.5 88.6h1.0v1.0h-1.0zM351.7 89.7h1.0v1.0h-1.0zM434.7 78.9h1.0v1.0h-1.0zM471.1 81.1h1.0v1.0h-1.0zM412.5 80.9h1.0v1.0h-1.0zM366.8 78.5h1.0v1.0h-1.0zM436.3 88.7h1.0v1.0h-1.0zM433.2 80.4h1.0v1.0h-1.0zM477.0 90.0h1.0v1.0h-1.0zM342.3 80.2h1.0v1.0h-1.0zM380.1 80.6h1.0v1.0h-1.0zM464.1 88.5h1.0v1.0h-1.0zM412.7 78.1h1.0v1.0h-1.0zM368.0 89.1h1.0v1.0h-1.0zM376.1 88.5h1.0v1.0h-1.0zM445.7 80.7h1.0v1.0h-1.0zM337.7 89.8h1.0v1.0h-1.0zM496.0 81.4h1.0v1.0h-1.0zM471.9 88.6h1.0v1.0h-1.0zM345.9 90.3h1.0v1.0h-1.0zM415.1 90.1h1.0v1.0h-1.0zM462.4 91.2h1.0v1.0h-1.0zM374.7 79.2h1.0v1.0h-1.0zM433.7 88.7h1.0v1.0h-1.0zM496.4 80.9h1.0v1.0h-1.0zM430.8 80.7h1.0v1.0h-1.0zM451.3 81.2h1.0v1.0h-1.0zM401.0 90.1h1.0v1.0h-1.0zM400.2 88.6h1.0v1.0h-1.0zM398.1 80.6h1.0v1.0h-1.0zM474.8 78.9h1.0v1.0h-1.0zM478.3 81.4h1.0v1.0h-1.0zM362.4 79.4h1.0v1.0h-1.0zM378.8 79.8h1.0v1.0h-1.0zM482.3 88.5h1.0v1.0h-1.0zM336.8 81.3h1.0v1.0h-1.0zM467.8 88.4h1.0v1.0h-1.0zM414.6 80.0h1.0v1.0h-1.0zM478.6 80.9h1.0v1.0h-1.0zM351.7 80.5h1.0v1.0h-1.0zM397.1 90.6h1.0v1.0h-1.0zM484.5 80.2h1.0v1.0h-1.0zM495.2 89.2h1.0v1.0h-1.0zM415.9 88.4h1.0v1.0h-1.0zM505.3 88.8h1.0v1.0h-1.0zM426.6 90.8h1.0v1.0h-1.0zM386.5 79.3h1.0v1.0h-1.0zM338.3 90.2h1.0v1.0h-1.0zM456.4 88.1h1.0v1.0h-1.0zM432.7 80.8h1.0v1.0h-1.0zM437.6 88.1h1.0v1.0h-1.0zM478.2 79.4h1.0v1.0h-1.0zM426.1 90.6h1.0v1.0h-1.0zM496.7 80.7h1.0v1.0h-1.0zM494.3 88.3h1.0v1.0h-1.0zM413.2 89.9h1.0v1.0h-1.0zM420.1 88.6h1.0v1.0h-1.0zM429.6 79.8h1.0v1.0h-1.0zM439.8 79.8h1.0v1.0h-1.0zM487.3 81.3h1.0v1.0h-1.0zM375.3 91.4h1.0v1.0h-1.0zM368.9 88.6h1.0v1.0h-1.0zM491.4 88.4h1.0v1.0h-1.0zM432.7 88.4h1.0v1.0h-1.0zM498.8 91.8h1.0v1.0h-1.0zM341.7 89.1h1.0v1.0h-1.0zM360.9 90.4h1.0v1.0h-1.0zM494.1 79.9h1.0v1.0h-1.0zM443.9 79.4h1.0v1.0h-1.0zM479.7 80.8h1.0v1.0h-1.0zM357.7 88.6h1.0v1.0h-1.0zM433.7 81.1h1.0v1.0h-1.0zM362.4 88.5h1.0v1.0h-1.0zM492.1 88.3h1.0v1.0h-1.0zM393.4 90.2h1.0v1.0h-1.0zM502.6 79.8h1.0v1.0h-1.0zM385.6 89.5h1.0v1.0h-1.0zM390.2 89.8h1.0v1.0h-1.0zM323.9 92.9h1.0v1.0h-1.0zM471.5 79.9h1.0v1.0h-1.0zM417.7 90.3h1.0v1.0h-1.0zM498.5 79.1h1.0v1.0h-1.0zM477.0 91.9h1.0v1.0h-1.0zM433.4 89.0h1.0v1.0h-1.0zM344.3 81.3h1.0v1.0h-1.0zM413.0 81.2h1.0v1.0h-1.0zM332.3 81.4h1.0v1.0h-1.0zM495.7 79.7h1.0v1.0h-1.0zM361.6 88.1h1.0v1.0h-1.0zM418.3 88.6h1.0v1.0h-1.0zM375.2 90.0h1.0v1.0h-1.0zM415.6 90.5h1.0v1.0h-1.0zM438.8 81.2h1.0v1.0h-1.0zM332.9 80.8h1.0v1.0h-1.0zM464.7 81.0h1.0v1.0h-1.0zM342.5 89.0h1.0v1.0h-1.0zM425.2 78.4h1.0v1.0h-1.0zM478.6 80.4h1.0v1.0h-1.0zM355.3 89.0h1.0v1.0h-1.0zM477.6 80.7h1.0v1.0h-1.0zM393.2 81.1h1.0v1.0h-1.0zM326.8 90.8h1.0v1.0h-1.0zM493.1 89.1h1.0v1.0h-1.0zM331.5 89.6h1.0v1.0h-1.0zM378.2 79.4h1.0v1.0h-1.0zM351.5 90.8h1.0v1.0h-1.0zM374.2 88.8h1.0v1.0h-1.0zM380.9 90.4h1.0v1.0h-1.0zM339.8 89.0h1.0v1.0h-1.0zM432.4 80.4h1.0v1.0h-1.0zM333.0 89.1h1.0v1.0h-1.0zM490.4 80.2h1.0v1.0h-1.0zM360.2 90.1h1.0v1.0h-1.0zM328.9 78.9h1.0v1.0h-1.0zM350.7 88.1h1.0v1.0h-1.0zM396.4 88.2h1.0v1.0h-1.0zM337.2 89.6h1.0v1.0h-1.0zM503.0 89.4h1.0v1.0h-1.0zM426.9 88.2h1.0v1.0h-1.0zM389.5 90.2h1.0v1.0h-1.0zM407.1 79.1h1.0v1.0h-1.0zM445.6 90.7h1.0v1.0h-1.0zM478.5 80.8h1.0v1.0h-1.0zM401.3 89.6h1.0v1.0h-1.0zM416.2 81.1h1.0v1.0h-1.0zM443.8 88.4h1.0v1.0h-1.0zM424.1 88.2h1.0v1.0h-1.0zM403.3 88.3h1.0v1.0h-1.0zM350.2 88.8h1.0v1.0h-1.0zM418.5 79.1h1.0v1.0h-1.0zM463.0 90.2h1.0v1.0h-1.0zM448.1 89.7h1.0v1.0h-1.0zM394.7 89.4h1.0v1.0h-1.0zM489.0 88.9h1.0v1.0h-1.0zM494.2 88.4h1.0v1.0h-1.0zM397.1 79.2h1.0v1.0h-1.0zM400.8 89.0h1.0v1.0h-1.0zM468.3 80.7h1.0v1.0h-1.0zM370.7 79.7h1.0v1.0h-1.0zM358.8 81.5h1.0v1.0h-1.0zM455.6 89.8h1.0v1.0h-1.0zM412.8 80.3h1.0v1.0h-1.0zM461.8 88.1h1.0v1.0h-1.0zM357.5 89.1h1.0v1.0h-1.0zM378.9 80.1h1.0v1.0h-1.0zM385.3 80.8h1.0v1.0h-1.0zM340.3 88.3h1.0v1.0h-1.0zM349.7 89.0h1.0v1.0h-1.0zM492.1 89.3h1.0v1.0h-1.0zM345.4 89.4h1.0v1.0h-1.0zM504.1 89.3h1.0v1.0h-1.0zM429.5 80.8h1.0v1.0h-1.0zM482.0 89.8h1.0v1.0h-1.0zM352.2 89.1h1.0v1.0h-1.0zM332.3 89.7h1.0v1.0h-1.0zM458.3 90.3h1.0v1.0h-1.0zM447.0 90.0h1.0v1.0h-1.0zM441.1 89.2h1.0v1.0h-1.0zM370.7 81.3h1.0v1.0h-1.0zM347.1 78.2h1.0v1.0h-1.0zM400.7 88.9h1.0v1.0h-1.0zM325.5 88.0h1.0v1.0h-1.0zM477.1 80.1h1.0v1.0h-1.0zM448.9 89.6h1.0v1.0h-1.0zM410.1 88.3h1.0v1.0h-1.0zM389.0 79.6h1.0v1.0h-1.0zM350.3 78.3h1.0v1.0h-1.0zM338.0 88.3h1.0v1.0h-1.0zM359.7 80.0h1.0v1.0h-1.0zM465.3 88.1h1.0v1.0h-1.0zM422.0 81.5h1.0v1.0h-1.0zM343.0 79.5h1.0v1.0h-1.0zM447.0 89.5h1.0v1.0h-1.0zM341.2 88.4h1.0v1.0h-1.0zM428.9 88.6h1.0v1.0h-1.0zM349.5 80.4h1.0v1.0h-1.0zM337.8 88.1h1.0v1.0h-1.0zM503.9 80.5h1.0v1.0h-1.0zM428.8 79.4h1.0v1.0h-1.0zM409.0 80.0h1.0v1.0h-1.0zM431.4 80.5h1.0v1.0h-1.0zM454.0 89.2h1.0v1.0h-1.0zM371.4 88.4h1.0v1.0h-1.0zM491.3 80.6h1.0v1.0h-1.0zM479.2 80.8h1.0v1.0h-1.0zM452.7 81.3h1.0v1.0h-1.0zM371.9 80.2h1.0v1.0h-1.0zM358.8 91.3h1.0v1.0h-1.0zM360.1 88.4h1.0v1.0h-1.0zM336.6 89.1h1.0v1.0h-1.0zM444.0 79.6h1.0v1.0h-1.0zM456.8 81.1h1.0v1.0h-1.0zM378.9 80.4h1.0v1.0h-1.0zM443.6 90.0h1.0v1.0h-1.0zM406.4 88.1h1.0v1.0h-1.0zM336.0 79.8h1.0v1.0h-1.0zM400.4 89.3h1.0v1.0h-1.0zM401.7 88.9h1.0v1.0h-1.0zM386.1 80.7h1.0v1.0h-1.0zM404.6 89.3h1.0v1.0h-1.0zM496.1 80.4h1.0v1.0h-1.0zM506.7 88.7h1.0v1.0h-1.0zM416.0 88.6h1.0v1.0h-1.0zM403.8 79.7h1.0v1.0h-1.0zM351.3 80.1h1.0v1.0h-1.0zM460.4 89.1h1.0v1.0h-1.0zM404.0 80.3h1.0v1.0h-1.0zM325.3 79.3h1.0v1.0h-1.0zM496.0 79.0h1.0v1.0h-1.0zM488.7 81.4h1.0v1.0h-1.0zM341.9 80.7h1.0v1.0h-1.0zM335.4 79.8h1.0v1.0h-1.0zM458.1 81.4h1.0v1.0h-1.0zM363.3 80.5h1.0v1.0h-1.0zM461.6 90.1h1.0v1.0h-1.0zM346.5 89.6h1.0v1.0h-1.0zM361.8 88.2h1.0v1.0h-1.0zM386.5 88.4h1.0v1.0h-1.0zM398.4 81.3h1.0v1.0h-1.0zM483.0 79.4h1.0v1.0h-1.0zM354.1 90.2h1.0v1.0h-1.0zM447.0 88.3h1.0v1.0h-1.0zM402.0 78.9h1.0v1.0h-1.0zM416.6 81.4h1.0v1.0h-1.0zM392.5 79.1h1.0v1.0h-1.0zM364.0 80.0h1.0v1.0h-1.0zM395.7 79.7h1.0v1.0h-1.0zM442.1 80.3h1.0v1.0h-1.0zM402.9 81.1h1.0v1.0h-1.0zM415.9 89.3h1.0v1.0h-1.0zM345.4 89.2h1.0v1.0h-1.0zM325.8 81.1h1.0v1.0h-1.0zM447.6 88.4h1.0v1.0h-1.0zM360.9 80.1h1.0v1.0h-1.0zM439.3 80.4h1.0v1.0h-1.0zM502.5 80.2h1.0v1.0h-1.0zM436.6 80.8h1.0v1.0h-1.0zM323.4 80.1h1.0v1.0h-1.0zM404.9 80.6h1.0v1.0h-1.0zM493.7 88.8h1.0v1.0h-1.0zM411.2 90.2h1.0v1.0h-1.0zM333.9 88.1h1.0v1.0h-1.0zM459.8 81.4h1.0v1.0h-1.0zM506.5 89.5h1.0v1.0h-1.0zM403.1 80.4h1.0v1.0h-1.0zM374.7 89.8h1.0v1.0h-1.0zM409.4 81.4h1.0v1.0h-1.0zM332.9 79.3h1.0v1.0h-1.0zM495.5 88.5h1.0v1.0h-1.0zM336.8 81.1h1.0v1.0h-1.0zM465.2 88.5h1.0v1.0h-1.0zM409.0 81.1h1.0v1.0h-1.0zM355.4 78.7h1.0v1.0h-1.0zM407.9 88.6h1.0v1.0h-1.0zM401.9 80.9h1.0v1.0h-1.0zM485.1 80.7h1.0v1.0h-1.0zM376.3 88.4h1.0v1.0h-1.0zM384.1 88.0h1.0v1.0h-1.0zM481.2 88.3h1.0v1.0h-1.0zM365.0 88.5h1.0v1.0h-1.0zM469.2 79.3h1.0v1.0h-1.0zM457.7 79.8h1.0v1.0h-1.0zM455.1 81.2h1.0v1.0h-1.0zM403.7 78.9h1.0v1.0h-1.0zM343.3 88.8h1.0v1.0h-1.0zM335.5 79.1h1.0v1.0h-1.0zM345.5 88.7h1.0v1.0h-1.0zM402.0 80.6h1.0v1.0h-1.0zM393.9 88.9h1.0v1.0h-1.0zM427.0 81.0h1.0v1.0h-1.0zM462.2 88.3h1.0v1.0h-1.0zM386.4 88.6h1.0v1.0h-1.0zM331.3 90.2h1.0v1.0h-1.0zM378.5 88.3h1.0v1.0h-1.0zM417.9 89.1h1.0v1.0h-1.0zM496.2 79.1h1.0v1.0h-1.0zM402.9 88.4h1.0v1.0h-1.0zM438.2 80.0h1.0v1.0h-1.0zM493.9 90.3h1.0v1.0h-1.0zM382.3 90.9h1.0v1.0h-1.0zM391.4 79.4h1.0v1.0h-1.0zM419.4 88.8h1.0v1.0h-1.0zM472.0 88.1h1.0v1.0h-1.0zM422.2 78.3h1.0v1.0h-1.0zM493.4 79.5h1.0v1.0h-1.0zM505.9 78.7h1.0v1.0h-1.0zM499.2 88.9h1.0v1.0h-1.0zM351.5 88.7h1.0v1.0h-1.0zM418.2 90.5h1.0v1.0h-1.0zM503.5 78.7h1.0v1.0h-1.0zM419.1 81.5h1.0v1.0h-1.0zM388.8 80.7h1.0v1.0h-1.0zM455.6 81.4h1.0v1.0h-1.0zM482.6 79.5h1.0v1.0h-1.0zM381.1 81.1h1.0v1.0h-1.0zM408.3 89.5h1.0v1.0h-1.0zM359.6 79.7h1.0v1.0h-1.0zM421.4 88.6h1.0v1.0h-1.0zM405.3 81.1h1.0v1.0h-1.0zM400.4 88.8h1.0v1.0h-1.0zM390.0 80.2h1.0v1.0h-1.0zM327.4 80.2h1.0v1.0h-1.0zM388.7 89.0h1.0v1.0h-1.0zM406.8 88.3h1.0v1.0h-1.0zM475.5 90.2h1.0v1.0h-1.0zM447.5 88.3h1.0v1.0h-1.0zM463.2 79.8h1.0v1.0h-1.0zM374.5 90.4h1.0v1.0h-1.0zM462.2 81.4h1.0v1.0h-1.0zM380.1 89.9h1.0v1.0h-1.0zM356.7 88.7h1.0v1.0h-1.0zM477.6 81.0h1.0v1.0h-1.0zM339.2 81.5h1.0v1.0h-1.0zM356.9 79.2h1.0v1.0h-1.0zM365.4 81.4h1.0v1.0h-1.0zM325.5 89.0h1.0v1.0h-1.0zM352.2 89.0h1.0v1.0h-1.0zM361.8 88.1h1.0v1.0h-1.0zM342.1 89.9h1.0v1.0h-1.0zM454.5 88.7h1.0v1.0h-1.0zM382.4 81.3h1.0v1.0h-1.0zM413.5 89.7h1.0v1.0h-1.0zM356.2 81.4h1.0v1.0h-1.0zM451.8 81.1h1.0v1.0h-1.0zM362.2 89.2h1.0v1.0h-1.0zM411.8 80.6h1.0v1.0h-1.0zM341.8 81.1h1.0v1.0h-1.0zM401.7 77.6h1.0v1.0h-1.0zM363.7 80.7h1.0v1.0h-1.0zM373.6 79.3h1.0v1.0h-1.0zM495.1 81.3h1.0v1.0h-1.0zM460.0 89.4h1.0v1.0h-1.0zM364.7 79.9h1.0v1.0h-1.0zM333.0 88.3h1.0v1.0h-1.0zM354.3 88.8h1.0v1.0h-1.0zM492.6 79.8h1.0v1.0h-1.0zM432.7 81.1h1.0v1.0h-1.0zM330.9 88.1h1.0v1.0h-1.0zM398.8 79.6h1.0v1.0h-1.0zM328.7 89.0h1.0v1.0h-1.0zM386.6 80.6h1.0v1.0h-1.0zM346.1 80.1h1.0v1.0h-1.0zM454.7 90.1h1.0v1.0h-1.0zM384.2 80.5h1.0v1.0h-1.0zM440.5 81.4h1.0v1.0h-1.0zM439.8 88.5h1.0v1.0h-1.0zM482.2 81.4h1.0v1.0h-1.0zM415.0 89.1h1.0v1.0h-1.0zM457.0 79.2h1.0v1.0h-1.0zM369.4 80.2h1.0v1.0h-1.0zM409.4 81.1h1.0v1.0h-1.0zM452.4 89.6h1.0v1.0h-1.0zM338.3 89.2h1.0v1.0h-1.0zM442.3 80.5h1.0v1.0h-1.0zM337.2 90.0h1.0v1.0h-1.0zM498.6 78.4h1.0v1.0h-1.0zM448.3 80.6h1.0v1.0h-1.0zM392.9 92.0h1.0v1.0h-1.0zM455.0 80.5h1.0v1.0h-1.0zM382.4 88.6h1.0v1.0h-1.0zM398.4 79.7h1.0v1.0h-1.0zM395.5 80.5h1.0v1.0h-1.0zM379.1 88.5h1.0v1.0h-1.0zM493.6 81.1h1.0v1.0h-1.0zM430.4 89.3h1.0v1.0h-1.0zM427.1 89.7h1.0v1.0h-1.0zM399.3 89.5h1.0v1.0h-1.0zM435.9 88.0h1.0v1.0h-1.0zM356.7 80.7h1.0v1.0h-1.0zM506.4 89.6h1.0v1.0h-1.0zM398.9 81.4h1.0v1.0h-1.0zM392.8 79.0h1.0v1.0h-1.0zM467.9 89.4h1.0v1.0h-1.0zM441.8 90.0h1.0v1.0h-1.0zM496.2 79.7h1.0v1.0h-1.0zM389.1 88.9h1.0v1.0h-1.0zM413.3 79.9h1.0v1.0h-1.0zM490.5 81.2h1.0v1.0h-1.0zM440.4 79.1h1.0v1.0h-1.0zM332.9 88.4h1.0v1.0h-1.0zM343.8 81.2h1.0v1.0h-1.0zM453.9 89.6h1.0v1.0h-1.0zM410.4 80.5h1.0v1.0h-1.0zM489.3 80.2h1.0v1.0h-1.0zM490.6 89.6h1.0v1.0h-1.0zM391.8 80.9h1.0v1.0h-1.0zM432.2 80.1h1.0v1.0h-1.0zM497.9 89.4h1.0v1.0h-1.0zM407.6 90.4h1.0v1.0h-1.0zM385.7 77.5h1.0v1.0h-1.0zM391.3 88.1h1.0v1.0h-1.0zM478.0 80.6h1.0v1.0h-1.0zM402.7 79.5h1.0v1.0h-1.0zM405.8 81.0h1.0v1.0h-1.0zM326.7 89.2h1.0v1.0h-1.0zM447.4 80.2h1.0v1.0h-1.0zM462.0 81.1h1.0v1.0h-1.0zM341.7 89.2h1.0v1.0h-1.0zM498.6 78.5h1.0v1.0h-1.0zM480.2 89.3h1.0v1.0h-1.0zM471.0 88.7h1.0v1.0h-1.0zM400.2 80.9h1.0v1.0h-1.0zM383.0 79.8h1.0v1.0h-1.0zM407.1 81.2h1.0v1.0h-1.0zM330.7 88.6h1.0v1.0h-1.0zM363.8 88.1h1.0v1.0h-1.0zM338.5 89.3h1.0v1.0h-1.0zM358.1 90.9h1.0v1.0h-1.0zM384.2 88.6h1.0v1.0h-1.0zM465.2 79.3h1.0v1.0h-1.0zM494.5 80.1h1.0v1.0h-1.0zM349.8 88.3h1.0v1.0h-1.0zM399.5 88.6h1.0v1.0h-1.0zM401.5 80.2h1.0v1.0h-1.0zM335.9 80.3h1.0v1.0h-1.0zM336.2 80.2h1.0v1.0h-1.0zM383.6 79.8h1.0v1.0h-1.0zM465.3 80.8h1.0v1.0h-1.0zM503.4 89.6h1.0v1.0h-1.0zM444.5 88.1h1.0v1.0h-1.0zM434.5 81.2h1.0v1.0h-1.0zM335.6 80.7h1.0v1.0h-1.0zM423.4 80.5h1.0v1.0h-1.0zM415.5 81.0h1.0v1.0h-1.0zM327.1 88.7h1.0v1.0h-1.0zM485.6 89.8h1.0v1.0h-1.0zM348.6 80.3h1.0v1.0h-1.0zM445.3 80.7h1.0v1.0h-1.0zM461.8 90.1h1.0v1.0h-1.0zM379.1 79.6h1.0v1.0h-1.0zM451.0 79.0h1.0v1.0h-1.0zM364.5 81.2h1.0v1.0h-1.0zM420.2 88.5h1.0v1.0h-1.0zM368.8 80.8h1.0v1.0h-1.0zM471.0 80.7h1.0v1.0h-1.0zM456.1 88.3h1.0v1.0h-1.0zM431.5 89.6h1.0v1.0h-1.0zM375.5 80.4h1.0v1.0h-1.0zM431.0 81.3h1.0v1.0h-1.0zM363.1 79.8h1.0v1.0h-1.0zM369.2 88.5h1.0v1.0h-1.0zM411.2 81.3h1.0v1.0h-1.0zM506.4 88.3h1.0v1.0h-1.0zM485.5 80.4h1.0v1.0h-1.0zM442.8 88.4h1.0v1.0h-1.0zM377.6 91.3h1.0v1.0h-1.0zM493.7 79.6h1.0v1.0h-1.0zM426.3 79.6h1.0v1.0h-1.0zM506.1 88.2h1.0v1.0h-1.0zM333.5 79.0h1.0v1.0h-1.0zM330.0 88.5h1.0v1.0h-1.0zM496.7 81.4h1.0v1.0h-1.0zM471.2 89.1h1.0v1.0h-1.0zM451.5 79.9h1.0v1.0h-1.0zM419.8 89.0h1.0v1.0h-1.0zM384.1 80.7h1.0v1.0h-1.0zM400.6 81.4h1.0v1.0h-1.0zM353.7 80.3h1.0v1.0h-1.0zM394.6 88.2h1.0v1.0h-1.0zM473.1 89.4h1.0v1.0h-1.0zM386.2 80.8h1.0v1.0h-1.0zM356.9 80.2h1.0v1.0h-1.0zM442.6 88.1h1.0v1.0h-1.0zM417.0 89.7h1.0v1.0h-1.0zM356.0 80.9h1.0v1.0h-1.0zM388.1 79.5h1.0v1.0h-1.0zM384.5 88.0h1.0v1.0h-1.0zM501.1 79.2h1.0v1.0h-1.0zM345.4 88.1h1.0v1.0h-1.0zM380.5 88.7h1.0v1.0h-1.0zM359.7 80.0h1.0v1.0h-1.0zM487.7 88.5h1.0v1.0h-1.0zM425.8 90.5h1.0v1.0h-1.0zM345.8 81.5h1.0v1.0h-1.0zM477.9 92.2h1.0v1.0h-1.0zM362.8 90.0h1.0v1.0h-1.0zM335.8 88.5h1.0v1.0h-1.0zM381.8 79.8h1.0v1.0h-1.0zM440.2 89.7h1.0v1.0h-1.0zM389.9 88.1h1.0v1.0h-1.0zM347.4 88.3h1.0v1.0h-1.0zM401.6 88.8h1.0v1.0h-1.0zM336.1 80.5h1.0v1.0h-1.0zM480.8 81.4h1.0v1.0h-1.0zM334.5 88.4h1.0v1.0h-1.0zM416.6 78.3h1.0v1.0h-1.0zM438.9 88.1h1.0v1.0h-1.0zM490.2 80.6h1.0v1.0h-1.0zM330.0 80.9h1.0v1.0h-1.0zM346.2 79.8h1.0v1.0h-1.0zM381.8 80.7h1.0v1.0h-1.0zM472.3 88.6h1.0v1.0h-1.0zM428.2 89.9h1.0v1.0h-1.0zM461.0 78.9h1.0v1.0h-1.0zM367.4 81.4h1.0v1.0h-1.0zM388.8 79.2h1.0v1.0h-1.0zM472.0 88.7h1.0v1.0h-1.0zM378.1 81.3h1.0v1.0h-1.0zM406.6 91.8h1.0v1.0h-1.0zM481.6 79.9h1.0v1.0h-1.0zM460.2 89.0h1.0v1.0h-1.0zM420.6 80.9h1.0v1.0h-1.0zM467.2 88.0h1.0v1.0h-1.0zM374.6 88.1h1.0v1.0h-1.0zM488.0 88.2h1.0v1.0h-1.0zM351.4 88.3h1.0v1.0h-1.0zM495.0 80.4h1.0v1.0h-1.0zM483.1 80.8h1.0v1.0h-1.0zM352.7 80.2h1.0v1.0h-1.0zM466.4 80.2h1.0v1.0h-1.0zM361.2 80.9h1.0v1.0h-1.0zM399.4 81.1h1.0v1.0h-1.0zM477.0 90.9h1.0v1.0h-1.0zM439.6 92.2h1.0v1.0h-1.0zM463.5 80.1h1.0v1.0h-1.0zM430.3 79.9h1.0v1.0h-1.0zM375.7 81.3h1.0v1.0h-1.0zM449.0 79.5h1.0v1.0h-1.0zM396.3 88.8h1.0v1.0h-1.0zM385.4 89.3h1.0v1.0h-1.0zM363.9 89.0h1.0v1.0h-1.0zM416.9 88.2h1.0v1.0h-1.0zM343.3 89.1h1.0v1.0h-1.0zM339.0 88.0h1.0v1.0h-1.0zM383.4 91.0h1.0v1.0h-1.0zM386.0 89.0h1.0v1.0h-1.0zM431.9 80.0h1.0v1.0h-1.0zM444.9 88.5h1.0v1.0h-1.0zM446.1 89.9h1.0v1.0h-1.0zM397.4 81.0h1.0v1.0h-1.0zM325.3 80.9h1.0v1.0h-1.0zM446.0 88.2h1.0v1.0h-1.0zM505.5 79.5h1.0v1.0h-1.0zM501.2 79.8h1.0v1.0h-1.0zM455.4 89.3h1.0v1.0h-1.0zM408.6 81.2h1.0v1.0h-1.0zM335.0 80.0h1.0v1.0h-1.0zM403.1 81.1h1.0v1.0h-1.0zM421.8 88.2h1.0v1.0h-1.0zM392.5 89.2h1.0v1.0h-1.0zM386.3 79.2h1.0v1.0h-1.0zM424.8 80.1h1.0v1.0h-1.0zM377.7 89.0h1.0v1.0h-1.0zM361.8 88.7h1.0v1.0h-1.0zM468.0 88.5h1.0v1.0h-1.0zM339.5 88.5h1.0v1.0h-1.0zM463.4 79.5h1.0v1.0h-1.0zM379.0 78.7h1.0v1.0h-1.0zM439.4 79.7h1.0v1.0h-1.0zM499.1 88.9h1.0v1.0h-1.0zM437.2 80.8h1.0v1.0h-1.0zM456.9 80.9h1.0v1.0h-1.0zM440.5 80.3h1.0v1.0h-1.0zM334.1 79.1h1.0v1.0h-1.0zM387.6 78.9h1.0v1.0h-1.0zM350.3 79.9h1.0v1.0h-1.0zM505.1 89.5h1.0v1.0h-1.0zM402.3 81.4h1.0v1.0h-1.0z" fill="#cc1420" opacity="1.0"/>
<path d="M429.1 87.3h1.0v1.0h-1.0zM397.7 86.0h1.0v1.0h-1.0zM366.0 87.2h1.0v1.0h-1.0zM348.4 83.6h1.0v1.0h-1.0zM434.5 85.6h1.0v1.0h-1.0zM405.8 83.7h1.0v1.0h-1.0zM421.5 85.6h1.0v1.0h-1.0zM481.1 86.0h1.0v1.0h-1.0zM399.5 87.4h1.0v1.0h-1.0zM415.1 85.6h1.0v1.0h-1.0zM375.5 82.9h1.0v1.0h-1.0zM368.1 86.7h1.0v1.0h-1.0zM427.7 83.5h1.0v1.0h-1.0zM376.5 86.5h1.0v1.0h-1.0zM382.5 83.1h1.0v1.0h-1.0zM401.0 86.9h1.0v1.0h-1.0zM494.9 86.4h1.0v1.0h-1.0zM482.5 84.1h1.0v1.0h-1.0zM371.0 84.8h1.0v1.0h-1.0zM323.9 87.1h1.0v1.0h-1.0zM365.4 82.7h1.0v1.0h-1.0zM428.1 82.7h1.0v1.0h-1.0zM474.6 84.4h1.0v1.0h-1.0zM417.3 86.9h1.0v1.0h-1.0zM399.1 87.2h1.0v1.0h-1.0zM418.0 84.1h1.0v1.0h-1.0zM346.1 84.5h1.0v1.0h-1.0zM454.1 82.4h1.0v1.0h-1.0zM502.7 83.3h1.0v1.0h-1.0zM443.1 86.7h1.0v1.0h-1.0zM338.8 83.3h1.0v1.0h-1.0zM484.7 87.1h1.0v1.0h-1.0zM333.0 85.3h1.0v1.0h-1.0zM455.6 83.9h1.0v1.0h-1.0zM471.7 85.3h1.0v1.0h-1.0zM401.4 82.9h1.0v1.0h-1.0zM488.9 87.4h1.0v1.0h-1.0zM381.4 85.9h1.0v1.0h-1.0zM431.2 85.9h1.0v1.0h-1.0zM355.0 83.3h1.0v1.0h-1.0zM467.0 82.3h1.0v1.0h-1.0zM338.8 87.0h1.0v1.0h-1.0zM341.0 83.9h1.0v1.0h-1.0zM446.7 82.7h1.0v1.0h-1.0zM487.8 85.8h1.0v1.0h-1.0zM454.8 83.5h1.0v1.0h-1.0zM408.9 87.2h1.0v1.0h-1.0zM342.2 84.2h1.0v1.0h-1.0zM425.2 85.7h1.0v1.0h-1.0zM440.5 85.6h1.0v1.0h-1.0zM352.9 85.2h1.0v1.0h-1.0zM469.0 86.2h1.0v1.0h-1.0zM332.6 86.0h1.0v1.0h-1.0zM409.2 83.2h1.0v1.0h-1.0zM369.8 83.9h1.0v1.0h-1.0zM338.9 82.8h1.0v1.0h-1.0zM389.8 82.8h1.0v1.0h-1.0zM385.8 85.6h1.0v1.0h-1.0zM379.1 82.7h1.0v1.0h-1.0zM402.8 83.4h1.0v1.0h-1.0zM365.3 87.1h1.0v1.0h-1.0zM366.3 84.3h1.0v1.0h-1.0zM437.3 85.4h1.0v1.0h-1.0zM362.6 83.0h1.0v1.0h-1.0zM392.0 83.2h1.0v1.0h-1.0zM420.4 86.0h1.0v1.0h-1.0zM365.9 85.3h1.0v1.0h-1.0zM377.2 83.0h1.0v1.0h-1.0zM456.1 86.2h1.0v1.0h-1.0zM345.0 82.2h1.0v1.0h-1.0zM482.7 85.2h1.0v1.0h-1.0zM429.1 85.2h1.0v1.0h-1.0zM356.9 82.1h1.0v1.0h-1.0zM391.1 86.8h1.0v1.0h-1.0zM441.2 87.3h1.0v1.0h-1.0zM337.7 86.3h1.0v1.0h-1.0zM486.2 87.4h1.0v1.0h-1.0zM489.6 85.8h1.0v1.0h-1.0zM499.7 83.6h1.0v1.0h-1.0zM422.4 87.3h1.0v1.0h-1.0zM488.3 84.7h1.0v1.0h-1.0zM379.1 84.6h1.0v1.0h-1.0zM359.7 84.6h1.0v1.0h-1.0zM478.8 82.7h1.0v1.0h-1.0zM459.7 84.5h1.0v1.0h-1.0zM438.9 86.6h1.0v1.0h-1.0zM422.5 86.4h1.0v1.0h-1.0zM366.6 85.5h1.0v1.0h-1.0zM334.5 86.3h1.0v1.0h-1.0zM413.2 84.2h1.0v1.0h-1.0zM363.5 82.1h1.0v1.0h-1.0zM368.3 84.4h1.0v1.0h-1.0zM503.4 86.9h1.0v1.0h-1.0zM452.0 83.4h1.0v1.0h-1.0zM462.1 87.5h1.0v1.0h-1.0zM437.0 84.0h1.0v1.0h-1.0zM403.6 85.8h1.0v1.0h-1.0zM411.0 83.8h1.0v1.0h-1.0zM363.0 84.5h1.0v1.0h-1.0zM415.9 85.5h1.0v1.0h-1.0zM353.8 84.6h1.0v1.0h-1.0zM379.6 83.8h1.0v1.0h-1.0zM429.1 83.2h1.0v1.0h-1.0zM323.7 84.1h1.0v1.0h-1.0zM392.7 85.8h1.0v1.0h-1.0zM433.8 84.7h1.0v1.0h-1.0zM338.4 87.1h1.0v1.0h-1.0zM379.8 84.3h1.0v1.0h-1.0zM388.2 85.5h1.0v1.0h-1.0zM497.5 83.1h1.0v1.0h-1.0zM363.0 82.9h1.0v1.0h-1.0zM490.9 83.3h1.0v1.0h-1.0zM335.1 82.6h1.0v1.0h-1.0zM386.8 86.1h1.0v1.0h-1.0zM339.2 85.6h1.0v1.0h-1.0zM486.7 83.8h1.0v1.0h-1.0zM460.7 84.9h1.0v1.0h-1.0zM441.8 86.5h1.0v1.0h-1.0zM339.7 82.3h1.0v1.0h-1.0zM497.3 83.5h1.0v1.0h-1.0zM498.1 84.2h1.0v1.0h-1.0zM351.2 86.5h1.0v1.0h-1.0zM357.7 82.6h1.0v1.0h-1.0zM414.1 86.0h1.0v1.0h-1.0zM359.5 85.7h1.0v1.0h-1.0zM499.0 84.8h1.0v1.0h-1.0zM503.8 85.9h1.0v1.0h-1.0zM493.8 82.0h1.0v1.0h-1.0zM420.5 85.0h1.0v1.0h-1.0zM416.2 86.2h1.0v1.0h-1.0zM464.4 87.4h1.0v1.0h-1.0zM346.2 82.9h1.0v1.0h-1.0zM436.9 82.2h1.0v1.0h-1.0zM326.4 83.7h1.0v1.0h-1.0zM497.1 87.2h1.0v1.0h-1.0zM329.4 86.4h1.0v1.0h-1.0zM343.2 87.0h1.0v1.0h-1.0zM339.6 85.0h1.0v1.0h-1.0zM494.7 82.2h1.0v1.0h-1.0zM500.1 83.3h1.0v1.0h-1.0zM391.6 83.5h1.0v1.0h-1.0zM338.2 85.5h1.0v1.0h-1.0zM404.5 84.5h1.0v1.0h-1.0zM480.8 82.7h1.0v1.0h-1.0zM388.6 85.2h1.0v1.0h-1.0zM402.3 84.3h1.0v1.0h-1.0zM431.9 85.1h1.0v1.0h-1.0zM344.3 84.5h1.0v1.0h-1.0zM487.1 85.2h1.0v1.0h-1.0zM457.3 83.5h1.0v1.0h-1.0zM325.3 86.4h1.0v1.0h-1.0zM363.8 84.9h1.0v1.0h-1.0zM350.9 86.1h1.0v1.0h-1.0zM479.3 82.1h1.0v1.0h-1.0zM485.2 85.3h1.0v1.0h-1.0zM456.5 83.1h1.0v1.0h-1.0zM480.9 83.1h1.0v1.0h-1.0zM463.0 84.7h1.0v1.0h-1.0zM415.5 83.9h1.0v1.0h-1.0zM493.9 82.9h1.0v1.0h-1.0zM393.7 85.0h1.0v1.0h-1.0zM349.3 83.0h1.0v1.0h-1.0zM440.7 83.8h1.0v1.0h-1.0zM342.3 82.3h1.0v1.0h-1.0zM492.0 86.6h1.0v1.0h-1.0zM468.3 86.2h1.0v1.0h-1.0zM383.5 83.4h1.0v1.0h-1.0zM388.0 84.0h1.0v1.0h-1.0zM334.2 85.9h1.0v1.0h-1.0zM487.3 84.6h1.0v1.0h-1.0zM396.5 85.8h1.0v1.0h-1.0zM463.2 83.8h1.0v1.0h-1.0zM460.7 86.9h1.0v1.0h-1.0zM366.1 84.4h1.0v1.0h-1.0zM365.6 87.0h1.0v1.0h-1.0zM495.1 87.1h1.0v1.0h-1.0zM424.5 86.3h1.0v1.0h-1.0zM366.2 85.1h1.0v1.0h-1.0zM374.6 86.8h1.0v1.0h-1.0zM444.3 84.8h1.0v1.0h-1.0zM404.7 85.8h1.0v1.0h-1.0zM328.1 87.0h1.0v1.0h-1.0zM323.9 83.0h1.0v1.0h-1.0zM487.3 84.3h1.0v1.0h-1.0zM481.9 83.6h1.0v1.0h-1.0zM500.5 82.7h1.0v1.0h-1.0zM425.8 82.9h1.0v1.0h-1.0zM369.4 83.9h1.0v1.0h-1.0zM444.6 82.9h1.0v1.0h-1.0zM414.1 84.0h1.0v1.0h-1.0zM480.5 84.9h1.0v1.0h-1.0zM427.7 85.3h1.0v1.0h-1.0zM369.7 83.3h1.0v1.0h-1.0zM459.2 82.2h1.0v1.0h-1.0zM426.0 87.0h1.0v1.0h-1.0zM504.5 86.0h1.0v1.0h-1.0zM455.2 83.9h1.0v1.0h-1.0zM408.5 84.3h1.0v1.0h-1.0zM395.3 85.8h1.0v1.0h-1.0zM402.3 84.7h1.0v1.0h-1.0zM341.4 86.8h1.0v1.0h-1.0zM332.2 87.2h1.0v1.0h-1.0zM424.1 83.8h1.0v1.0h-1.0zM503.8 87.0h1.0v1.0h-1.0zM330.4 85.9h1.0v1.0h-1.0zM398.2 84.7h1.0v1.0h-1.0zM492.7 85.6h1.0v1.0h-1.0zM346.7 86.7h1.0v1.0h-1.0zM422.9 86.4h1.0v1.0h-1.0zM333.4 87.4h1.0v1.0h-1.0zM425.0 82.9h1.0v1.0h-1.0zM504.7 84.6h1.0v1.0h-1.0zM351.2 86.9h1.0v1.0h-1.0zM336.2 86.1h1.0v1.0h-1.0zM355.8 82.1h1.0v1.0h-1.0zM348.2 86.3h1.0v1.0h-1.0zM434.3 82.6h1.0v1.0h-1.0zM482.3 85.9h1.0v1.0h-1.0zM490.3 85.2h1.0v1.0h-1.0zM432.5 85.2h1.0v1.0h-1.0zM480.8 82.5h1.0v1.0h-1.0zM489.7 86.1h1.0v1.0h-1.0zM457.0 85.1h1.0v1.0h-1.0zM490.9 85.7h1.0v1.0h-1.0zM384.3 84.4h1.0v1.0h-1.0zM378.5 82.0h1.0v1.0h-1.0zM436.3 85.2h1.0v1.0h-1.0zM470.7 86.3h1.0v1.0h-1.0zM348.9 82.6h1.0v1.0h-1.0zM344.9 86.2h1.0v1.0h-1.0zM336.2 87.4h1.0v1.0h-1.0zM374.8 85.3h1.0v1.0h-1.0zM479.6 87.2h1.0v1.0h-1.0zM382.7 85.3h1.0v1.0h-1.0zM425.7 85.1h1.0v1.0h-1.0zM427.6 87.4h1.0v1.0h-1.0zM402.3 83.7h1.0v1.0h-1.0zM473.4 85.5h1.0v1.0h-1.0zM374.5 86.9h1.0v1.0h-1.0zM324.8 84.6h1.0v1.0h-1.0zM373.7 86.5h1.0v1.0h-1.0zM442.9 84.7h1.0v1.0h-1.0zM430.0 84.0h1.0v1.0h-1.0zM462.0 85.5h1.0v1.0h-1.0zM334.2 82.2h1.0v1.0h-1.0zM361.1 86.2h1.0v1.0h-1.0zM337.5 83.2h1.0v1.0h-1.0zM339.6 82.2h1.0v1.0h-1.0zM380.1 87.4h1.0v1.0h-1.0zM368.3 87.2h1.0v1.0h-1.0zM355.8 85.4h1.0v1.0h-1.0zM383.4 82.3h1.0v1.0h-1.0zM383.0 84.5h1.0v1.0h-1.0zM444.1 85.8h1.0v1.0h-1.0zM356.3 87.4h1.0v1.0h-1.0zM423.7 84.9h1.0v1.0h-1.0zM488.9 86.0h1.0v1.0h-1.0zM331.2 83.6h1.0v1.0h-1.0zM416.3 83.4h1.0v1.0h-1.0zM489.0 84.8h1.0v1.0h-1.0zM420.5 83.7h1.0v1.0h-1.0zM433.4 86.7h1.0v1.0h-1.0zM364.3 84.8h1.0v1.0h-1.0zM407.2 84.4h1.0v1.0h-1.0zM495.7 85.9h1.0v1.0h-1.0zM451.7 84.2h1.0v1.0h-1.0zM378.8 84.1h1.0v1.0h-1.0zM498.2 83.0h1.0v1.0h-1.0zM445.2 82.7h1.0v1.0h-1.0zM419.1 82.8h1.0v1.0h-1.0zM502.1 86.3h1.0v1.0h-1.0zM328.4 86.5h1.0v1.0h-1.0zM428.9 84.9h1.0v1.0h-1.0zM474.0 83.7h1.0v1.0h-1.0zM334.2 87.2h1.0v1.0h-1.0zM359.7 85.3h1.0v1.0h-1.0zM364.7 86.0h1.0v1.0h-1.0zM345.6 87.3h1.0v1.0h-1.0zM354.2 82.5h1.0v1.0h-1.0zM323.1 86.6h1.0v1.0h-1.0zM367.7 82.1h1.0v1.0h-1.0zM383.4 86.9h1.0v1.0h-1.0zM453.6 87.4h1.0v1.0h-1.0zM405.8 82.8h1.0v1.0h-1.0zM484.7 83.4h1.0v1.0h-1.0zM353.0 86.7h1.0v1.0h-1.0zM457.4 83.4h1.0v1.0h-1.0zM368.6 82.1h1.0v1.0h-1.0zM382.9 85.4h1.0v1.0h-1.0zM397.6 82.5h1.0v1.0h-1.0zM325.5 86.6h1.0v1.0h-1.0zM348.1 83.0h1.0v1.0h-1.0zM389.8 83.6h1.0v1.0h-1.0zM361.1 87.1h1.0v1.0h-1.0zM454.9 83.5h1.0v1.0h-1.0zM382.9 83.4h1.0v1.0h-1.0zM434.4 83.4h1.0v1.0h-1.0zM482.1 84.6h1.0v1.0h-1.0zM356.4 87.0h1.0v1.0h-1.0zM493.3 87.0h1.0v1.0h-1.0zM485.5 85.0h1.0v1.0h-1.0zM497.2 82.2h1.0v1.0h-1.0zM477.6 85.6h1.0v1.0h-1.0zM426.4 82.6h1.0v1.0h-1.0zM345.9 87.5h1.0v1.0h-1.0zM491.8 84.4h1.0v1.0h-1.0zM353.6 86.9h1.0v1.0h-1.0zM425.7 84.4h1.0v1.0h-1.0zM323.4 85.9h1.0v1.0h-1.0zM323.7 82.0h1.0v1.0h-1.0zM408.6 82.2h1.0v1.0h-1.0zM462.7 84.1h1.0v1.0h-1.0zM340.1 86.9h1.0v1.0h-1.0zM323.4 85.5h1.0v1.0h-1.0zM489.2 84.9h1.0v1.0h-1.0zM454.1 82.7h1.0v1.0h-1.0zM457.6 85.2h1.0v1.0h-1.0zM495.4 82.5h1.0v1.0h-1.0zM396.4 83.3h1.0v1.0h-1.0zM444.7 82.2h1.0v1.0h-1.0zM481.6 84.6h1.0v1.0h-1.0zM382.4 87.4h1.0v1.0h-1.0zM338.5 83.4h1.0v1.0h-1.0zM463.0 86.6h1.0v1.0h-1.0zM349.3 83.4h1.0v1.0h-1.0zM370.1 84.3h1.0v1.0h-1.0zM424.5 86.5h1.0v1.0h-1.0zM497.2 86.5h1.0v1.0h-1.0zM381.6 82.7h1.0v1.0h-1.0zM404.2 85.7h1.0v1.0h-1.0zM403.7 87.1h1.0v1.0h-1.0zM494.2 84.6h1.0v1.0h-1.0zM433.0 87.5h1.0v1.0h-1.0zM448.4 84.0h1.0v1.0h-1.0zM468.0 83.6h1.0v1.0h-1.0zM406.2 85.8h1.0v1.0h-1.0zM369.3 86.3h1.0v1.0h-1.0zM434.6 82.9h1.0v1.0h-1.0zM442.9 82.3h1.0v1.0h-1.0zM417.5 84.7h1.0v1.0h-1.0zM466.1 86.7h1.0v1.0h-1.0zM469.0 86.9h1.0v1.0h-1.0zM373.0 84.5h1.0v1.0h-1.0zM465.2 82.5h1.0v1.0h-1.0zM348.9 84.9h1.0v1.0h-1.0zM427.1 82.5h1.0v1.0h-1.0zM482.4 86.5h1.0v1.0h-1.0zM493.3 87.4h1.0v1.0h-1.0zM382.0 85.6h1.0v1.0h-1.0zM328.0 83.9h1.0v1.0h-1.0zM448.8 86.4h1.0v1.0h-1.0zM344.5 86.9h1.0v1.0h-1.0zM420.6 86.4h1.0v1.0h-1.0zM360.5 84.2h1.0v1.0h-1.0zM389.4 86.3h1.0v1.0h-1.0zM368.9 86.9h1.0v1.0h-1.0zM362.0 87.3h1.0v1.0h-1.0zM450.3 84.9h1.0v1.0h-1.0zM506.5 87.3h1.0v1.0h-1.0zM423.2 85.5h1.0v1.0h-1.0zM367.1 87.0h1.0v1.0h-1.0zM329.6 84.4h1.0v1.0h-1.0zM351.6 84.6h1.0v1.0h-1.0zM402.3 83.2h1.0v1.0h-1.0zM387.0 83.8h1.0v1.0h-1.0zM410.4 83.2h1.0v1.0h-1.0zM370.3 83.7h1.0v1.0h-1.0zM359.7 86.2h1.0v1.0h-1.0zM459.4 86.4h1.0v1.0h-1.0zM422.9 85.3h1.0v1.0h-1.0zM419.5 83.9h1.0v1.0h-1.0zM356.4 84.9h1.0v1.0h-1.0zM399.0 84.1h1.0v1.0h-1.0zM505.9 82.9h1.0v1.0h-1.0zM339.9 84.6h1.0v1.0h-1.0zM461.5 85.7h1.0v1.0h-1.0zM430.5 83.5h1.0v1.0h-1.0zM382.1 83.5h1.0v1.0h-1.0zM352.4 84.0h1.0v1.0h-1.0zM453.6 83.4h1.0v1.0h-1.0zM359.6 85.3h1.0v1.0h-1.0zM369.1 83.3h1.0v1.0h-1.0zM330.8 84.4h1.0v1.0h-1.0zM355.7 82.9h1.0v1.0h-1.0zM467.9 82.2h1.0v1.0h-1.0zM469.4 87.1h1.0v1.0h-1.0zM373.1 82.5h1.0v1.0h-1.0zM400.3 87.1h1.0v1.0h-1.0zM443.4 83.5h1.0v1.0h-1.0zM450.0 84.1h1.0v1.0h-1.0zM361.1 85.0h1.0v1.0h-1.0zM435.8 82.8h1.0v1.0h-1.0zM469.4 85.7h1.0v1.0h-1.0zM397.7 86.4h1.0v1.0h-1.0zM433.2 83.3h1.0v1.0h-1.0zM459.5 87.3h1.0v1.0h-1.0zM475.4 84.4h1.0v1.0h-1.0zM357.2 84.7h1.0v1.0h-1.0zM423.0 86.2h1.0v1.0h-1.0zM459.8 85.0h1.0v1.0h-1.0zM355.6 84.5h1.0v1.0h-1.0zM457.6 86.0h1.0v1.0h-1.0zM363.2 83.2h1.0v1.0h-1.0zM388.8 84.1h1.0v1.0h-1.0zM378.6 86.0h1.0v1.0h-1.0zM393.3 84.7h1.0v1.0h-1.0zM415.9 85.4h1.0v1.0h-1.0zM453.2 84.1h1.0v1.0h-1.0zM369.2 85.9h1.0v1.0h-1.0zM474.4 87.0h1.0v1.0h-1.0zM450.1 84.1h1.0v1.0h-1.0zM392.3 83.1h1.0v1.0h-1.0zM373.5 85.0h1.0v1.0h-1.0zM370.9 86.2h1.0v1.0h-1.0zM473.6 83.4h1.0v1.0h-1.0zM490.8 83.2h1.0v1.0h-1.0zM392.5 84.2h1.0v1.0h-1.0zM336.4 84.4h1.0v1.0h-1.0zM486.6 83.7h1.0v1.0h-1.0zM457.2 85.7h1.0v1.0h-1.0zM396.6 85.1h1.0v1.0h-1.0zM495.5 83.6h1.0v1.0h-1.0zM504.9 82.0h1.0v1.0h-1.0zM406.4 85.1h1.0v1.0h-1.0zM462.3 83.6h1.0v1.0h-1.0zM349.7 82.1h1.0v1.0h-1.0zM497.7 87.1h1.0v1.0h-1.0zM412.9 85.1h1.0v1.0h-1.0zM505.6 86.6h1.0v1.0h-1.0zM495.6 82.2h1.0v1.0h-1.0zM467.8 87.4h1.0v1.0h-1.0zM445.9 85.7h1.0v1.0h-1.0zM478.6 87.5h1.0v1.0h-1.0zM392.6 87.2h1.0v1.0h-1.0zM341.8 83.8h1.0v1.0h-1.0zM370.3 83.6h1.0v1.0h-1.0zM484.3 83.2h1.0v1.0h-1.0zM452.1 86.0h1.0v1.0h-1.0zM327.5 87.1h1.0v1.0h-1.0zM431.7 86.4h1.0v1.0h-1.0zM374.3 86.9h1.0v1.0h-1.0zM396.9 85.7h1.0v1.0h-1.0zM460.0 85.1h1.0v1.0h-1.0zM422.5 84.9h1.0v1.0h-1.0zM461.8 83.0h1.0v1.0h-1.0zM438.0 86.4h1.0v1.0h-1.0zM367.6 82.6h1.0v1.0h-1.0zM499.3 85.0h1.0v1.0h-1.0zM362.7 83.7h1.0v1.0h-1.0zM327.3 86.1h1.0v1.0h-1.0zM355.7 82.5h1.0v1.0h-1.0zM434.9 83.1h1.0v1.0h-1.0zM492.7 84.9h1.0v1.0h-1.0zM379.1 86.2h1.0v1.0h-1.0zM385.1 87.2h1.0v1.0h-1.0zM491.5 86.9h1.0v1.0h-1.0zM430.3 85.3h1.0v1.0h-1.0zM353.6 83.6h1.0v1.0h-1.0zM339.6 82.2h1.0v1.0h-1.0zM483.1 85.3h1.0v1.0h-1.0zM425.4 87.1h1.0v1.0h-1.0zM358.8 87.2h1.0v1.0h-1.0zM355.1 86.5h1.0v1.0h-1.0zM495.3 85.1h1.0v1.0h-1.0zM368.7 85.0h1.0v1.0h-1.0zM479.2 83.7h1.0v1.0h-1.0zM502.8 83.1h1.0v1.0h-1.0zM359.3 86.7h1.0v1.0h-1.0zM350.1 84.6h1.0v1.0h-1.0zM424.5 85.3h1.0v1.0h-1.0zM410.6 85.9h1.0v1.0h-1.0zM417.8 83.9h1.0v1.0h-1.0zM353.7 84.1h1.0v1.0h-1.0zM377.4 85.2h1.0v1.0h-1.0zM377.8 86.8h1.0v1.0h-1.0zM407.5 82.7h1.0v1.0h-1.0zM448.6 84.5h1.0v1.0h-1.0zM494.8 86.7h1.0v1.0h-1.0zM467.6 85.0h1.0v1.0h-1.0zM463.1 83.8h1.0v1.0h-1.0zM505.5 86.1h1.0v1.0h-1.0zM340.9 85.9h1.0v1.0h-1.0zM329.6 83.9h1.0v1.0h-1.0zM432.3 84.9h1.0v1.0h-1.0zM342.8 86.6h1.0v1.0h-1.0zM381.7 82.1h1.0v1.0h-1.0zM441.6 85.2h1.0v1.0h-1.0zM360.2 83.7h1.0v1.0h-1.0zM341.5 86.5h1.0v1.0h-1.0zM496.9 83.9h1.0v1.0h-1.0zM359.3 86.8h1.0v1.0h-1.0zM503.5 87.0h1.0v1.0h-1.0zM358.4 84.8h1.0v1.0h-1.0zM480.8 86.0h1.0v1.0h-1.0zM478.0 84.8h1.0v1.0h-1.0zM341.6 86.4h1.0v1.0h-1.0zM343.5 83.3h1.0v1.0h-1.0zM381.7 84.6h1.0v1.0h-1.0zM358.8 86.4h1.0v1.0h-1.0zM349.8 83.4h1.0v1.0h-1.0zM480.9 86.5h1.0v1.0h-1.0zM368.5 84.1h1.0v1.0h-1.0zM458.8 83.6h1.0v1.0h-1.0zM449.3 82.5h1.0v1.0h-1.0zM323.3 86.1h1.0v1.0h-1.0zM453.3 85.1h1.0v1.0h-1.0zM484.2 85.7h1.0v1.0h-1.0zM393.2 83.0h1.0v1.0h-1.0zM398.0 87.0h1.0v1.0h-1.0zM330.6 85.2h1.0v1.0h-1.0zM505.5 84.2h1.0v1.0h-1.0zM478.6 84.0h1.0v1.0h-1.0zM434.5 87.1h1.0v1.0h-1.0zM414.4 85.1h1.0v1.0h-1.0zM421.8 85.5h1.0v1.0h-1.0zM479.9 83.2h1.0v1.0h-1.0zM352.6 86.2h1.0v1.0h-1.0zM443.5 82.2h1.0v1.0h-1.0zM474.7 82.5h1.0v1.0h-1.0zM484.7 82.7h1.0v1.0h-1.0zM346.4 83.1h1.0v1.0h-1.0zM373.2 82.4h1.0v1.0h-1.0zM473.3 84.0h1.0v1.0h-1.0zM486.9 84.2h1.0v1.0h-1.0zM473.9 83.3h1.0v1.0h-1.0zM498.4 85.4h1.0v1.0h-1.0zM408.8 83.4h1.0v1.0h-1.0zM472.5 86.4h1.0v1.0h-1.0zM471.7 83.2h1.0v1.0h-1.0zM447.7 86.8h1.0v1.0h-1.0zM425.9 86.8h1.0v1.0h-1.0zM331.7 85.5h1.0v1.0h-1.0zM339.9 85.2h1.0v1.0h-1.0zM405.9 85.3h1.0v1.0h-1.0zM486.4 86.9h1.0v1.0h-1.0zM467.3 83.5h1.0v1.0h-1.0zM414.9 82.7h1.0v1.0h-1.0zM478.0 85.9h1.0v1.0h-1.0zM394.6 86.7h1.0v1.0h-1.0zM447.1 84.8h1.0v1.0h-1.0zM460.9 85.4h1.0v1.0h-1.0zM363.2 84.5h1.0v1.0h-1.0zM331.6 87.4h1.0v1.0h-1.0zM382.3 85.2h1.0v1.0h-1.0zM470.1 83.3h1.0v1.0h-1.0zM389.8 85.2h1.0v1.0h-1.0zM414.5 86.9h1.0v1.0h-1.0zM468.2 84.3h1.0v1.0h-1.0zM387.4 84.7h1.0v1.0h-1.0zM467.9 85.6h1.0v1.0h-1.0zM496.4 86.4h1.0v1.0h-1.0zM506.0 84.8h1.0v1.0h-1.0zM432.8 83.4h1.0v1.0h-1.0zM496.1 86.0h1.0v1.0h-1.0zM389.9 84.0h1.0v1.0h-1.0zM326.9 86.6h1.0v1.0h-1.0zM401.3 82.7h1.0v1.0h-1.0zM482.4 86.2h1.0v1.0h-1.0zM370.8 84.2h1.0v1.0h-1.0zM323.5 84.8h1.0v1.0h-1.0zM397.3 83.8h1.0v1.0h-1.0zM339.4 83.2h1.0v1.0h-1.0zM450.0 87.3h1.0v1.0h-1.0zM384.4 82.4h1.0v1.0h-1.0zM491.3 85.7h1.0v1.0h-1.0zM470.9 83.4h1.0v1.0h-1.0zM383.8 83.8h1.0v1.0h-1.0zM506.5 84.2h1.0v1.0h-1.0zM407.6 87.2h1.0v1.0h-1.0zM446.0 83.6h1.0v1.0h-1.0zM410.1 86.2h1.0v1.0h-1.0zM395.7 86.3h1.0v1.0h-1.0zM486.9 82.2h1.0v1.0h-1.0zM432.6 85.2h1.0v1.0h-1.0zM408.6 86.3h1.0v1.0h-1.0zM440.0 83.2h1.0v1.0h-1.0zM363.5 86.7h1.0v1.0h-1.0zM433.4 86.5h1.0v1.0h-1.0zM383.5 85.0h1.0v1.0h-1.0zM486.9 86.2h1.0v1.0h-1.0zM452.7 86.3h1.0v1.0h-1.0zM371.1 86.9h1.0v1.0h-1.0zM323.8 87.2h1.0v1.0h-1.0zM354.3 86.7h1.0v1.0h-1.0zM352.5 84.8h1.0v1.0h-1.0zM400.1 83.5h1.0v1.0h-1.0zM462.4 82.8h1.0v1.0h-1.0zM336.2 86.0h1.0v1.0h-1.0zM430.3 82.1h1.0v1.0h-1.0zM344.0 86.8h1.0v1.0h-1.0zM348.0 86.0h1.0v1.0h-1.0zM359.9 83.1h1.0v1.0h-1.0zM426.3 87.0h1.0v1.0h-1.0zM506.0 85.8h1.0v1.0h-1.0zM343.9 83.3h1.0v1.0h-1.0zM500.6 87.4h1.0v1.0h-1.0zM428.3 85.3h1.0v1.0h-1.0zM468.5 85.6h1.0v1.0h-1.0zM490.0 84.5h1.0v1.0h-1.0zM383.6 84.4h1.0v1.0h-1.0zM419.6 82.9h1.0v1.0h-1.0zM441.9 84.2h1.0v1.0h-1.0zM399.0 84.9h1.0v1.0h-1.0zM414.1 83.4h1.0v1.0h-1.0zM492.7 82.3h1.0v1.0h-1.0zM445.4 83.1h1.0v1.0h-1.0zM429.0 83.4h1.0v1.0h-1.0zM418.9 82.6h1.0v1.0h-1.0zM336.3 84.5h1.0v1.0h-1.0zM393.6 85.3h1.0v1.0h-1.0zM350.9 84.0h1.0v1.0h-1.0zM395.3 82.7h1.0v1.0h-1.0zM416.4 83.7h1.0v1.0h-1.0zM485.3 84.4h1.0v1.0h-1.0zM333.0 87.1h1.0v1.0h-1.0zM375.5 84.2h1.0v1.0h-1.0zM325.3 84.5h1.0v1.0h-1.0zM350.4 83.2h1.0v1.0h-1.0zM460.6 85.5h1.0v1.0h-1.0zM440.9 87.2h1.0v1.0h-1.0zM364.8 85.6h1.0v1.0h-1.0zM481.8 86.0h1.0v1.0h-1.0zM505.5 84.3h1.0v1.0h-1.0zM422.3 86.6h1.0v1.0h-1.0zM403.6 87.3h1.0v1.0h-1.0zM378.0 85.7h1.0v1.0h-1.0zM391.2 83.6h1.0v1.0h-1.0zM433.1 87.2h1.0v1.0h-1.0zM333.5 82.6h1.0v1.0h-1.0zM419.6 82.7h1.0v1.0h-1.0zM375.2 82.7h1.0v1.0h-1.0zM483.5 82.4h1.0v1.0h-1.0zM489.0 86.0h1.0v1.0h-1.0zM370.9 87.2h1.0v1.0h-1.0zM421.2 82.2h1.0v1.0h-1.0zM411.9 82.6h1.0v1.0h-1.0zM368.5 86.8h1.0v1.0h-1.0zM433.4 83.3h1.0v1.0h-1.0zM402.5 84.1h1.0v1.0h-1.0zM437.1 84.8h1.0v1.0h-1.0zM497.2 86.3h1.0v1.0h-1.0zM391.1 86.0h1.0v1.0h-1.0zM408.0 85.3h1.0v1.0h-1.0zM398.8 87.4h1.0v1.0h-1.0zM368.9 84.4h1.0v1.0h-1.0zM352.9 86.2h1.0v1.0h-1.0zM380.9 82.1h1.0v1.0h-1.0zM438.9 84.8h1.0v1.0h-1.0zM338.0 82.2h1.0v1.0h-1.0zM346.7 87.5h1.0v1.0h-1.0zM489.5 83.1h1.0v1.0h-1.0zM482.0 83.9h1.0v1.0h-1.0zM490.8 85.5h1.0v1.0h-1.0zM327.7 82.1h1.0v1.0h-1.0zM396.5 85.5h1.0v1.0h-1.0zM503.2 84.6h1.0v1.0h-1.0zM405.6 82.0h1.0v1.0h-1.0zM353.0 85.8h1.0v1.0h-1.0zM475.3 84.8h1.0v1.0h-1.0zM331.2 86.5h1.0v1.0h-1.0zM470.7 85.5h1.0v1.0h-1.0zM505.0 84.3h1.0v1.0h-1.0zM373.7 86.1h1.0v1.0h-1.0zM365.1 86.4h1.0v1.0h-1.0zM438.0 86.1h1.0v1.0h-1.0zM440.2 85.9h1.0v1.0h-1.0zM372.1 84.9h1.0v1.0h-1.0zM454.5 82.1h1.0v1.0h-1.0zM480.3 82.4h1.0v1.0h-1.0zM343.6 84.8h1.0v1.0h-1.0zM348.5 85.9h1.0v1.0h-1.0zM426.1 85.0h1.0v1.0h-1.0zM463.6 87.0h1.0v1.0h-1.0zM505.9 84.9h1.0v1.0h-1.0zM325.3 86.2h1.0v1.0h-1.0zM502.5 84.3h1.0v1.0h-1.0zM432.9 82.5h1.0v1.0h-1.0zM469.5 87.0h1.0v1.0h-1.0zM401.2 85.0h1.0v1.0h-1.0zM464.9 82.1h1.0v1.0h-1.0zM486.1 86.3h1.0v1.0h-1.0zM358.5 83.3h1.0v1.0h-1.0zM430.6 85.6h1.0v1.0h-1.0zM373.8 83.6h1.0v1.0h-1.0zM432.9 83.4h1.0v1.0h-1.0zM415.5 83.2h1.0v1.0h-1.0zM486.4 86.1h1.0v1.0h-1.0zM384.0 86.2h1.0v1.0h-1.0zM351.3 87.1h1.0v1.0h-1.0zM376.4 86.6h1.0v1.0h-1.0zM401.4 86.6h1.0v1.0h-1.0zM405.8 86.5h1.0v1.0h-1.0zM401.1 82.4h1.0v1.0h-1.0zM481.2 84.3h1.0v1.0h-1.0zM466.9 82.7h1.0v1.0h-1.0zM450.9 83.0h1.0v1.0h-1.0zM461.3 85.9h1.0v1.0h-1.0zM494.3 87.3h1.0v1.0h-1.0zM484.2 82.7h1.0v1.0h-1.0zM332.4 85.3h1.0v1.0h-1.0z" fill="#9a0c12" opacity="0.8"/>
<path d="M489.9 82.7h1.0v1.0h-1.0zM484.6 97.3h1.0v1.0h-1.0zM448.4 81.3h1.0v1.0h-1.0zM416.6 87.2h1.0v1.0h-1.0zM461.5 81.1h1.0v1.0h-1.0zM420.4 83.7h1.0v1.0h-1.0zM324.3 79.0h1.0v1.0h-1.0zM361.2 84.9h1.0v1.0h-1.0zM380.4 82.0h1.0v1.0h-1.0zM396.4 83.7h1.0v1.0h-1.0zM385.4 85.0h1.0v1.0h-1.0zM358.4 87.8h1.0v1.0h-1.0zM325.7 94.2h1.0v1.0h-1.0zM359.8 91.0h1.0v1.0h-1.0zM471.5 87.7h1.0v1.0h-1.0zM425.3 79.4h1.0v1.0h-1.0zM353.4 95.9h1.0v1.0h-1.0zM461.3 87.9h1.0v1.0h-1.0zM346.4 76.2h1.0v1.0h-1.0zM323.5 80.1h1.0v1.0h-1.0zM329.9 91.0h1.0v1.0h-1.0z" fill="#a0a0a0" opacity="0.7"/>
<path d="M445.0 88.6h1.0v1.0h-1.0zM346.8 83.8h1.0v1.0h-1.0zM364.8 87.4h1.0v1.0h-1.0zM347.8 93.1h1.0v1.0h-1.0zM424.5 83.6h1.0v1.0h-1.0zM485.1 86.7h1.0v1.0h-1.0zM454.4 91.0h1.0v1.0h-1.0zM366.2 88.4h1.0v1.0h-1.0zM380.8 82.7h1.0v1.0h-1.0zM452.4 82.5h1.0v1.0h-1.0zM431.5 79.6h1.0v1.0h-1.0zM359.7 93.9h1.0v1.0h-1.0zM365.9 87.5h1.0v1.0h-1.0zM458.4 84.1h1.0v1.0h-1.0zM333.2 80.3h1.0v1.0h-1.0zM504.6 87.2h1.0v1.0h-1.0z" fill="#cc1420" opacity="0.7"/>
<path d="M345.5 81.7h1.0v1.0h-1.0zM438.8 79.0h1.0v1.0h-1.0zM363.5 85.5h1.0v1.0h-1.0zM413.1 77.7h1.0v1.0h-1.0zM390.4 89.6h1.0v1.0h-1.0zM359.0 83.8h1.0v1.0h-1.0zM502.5 86.7h1.0v1.0h-1.0zM404.0 84.4h1.0v1.0h-1.0zM457.4 85.3h1.0v1.0h-1.0zM347.5 95.2h1.0v1.0h-1.0zM381.7 82.3h1.0v1.0h-1.0zM475.7 87.5h1.0v1.0h-1.0zM383.0 84.9h1.0v1.0h-1.0zM353.1 91.0h1.0v1.0h-1.0zM339.1 84.6h1.0v1.0h-1.0zM383.2 86.5h1.0v1.0h-1.0zM405.6 87.8h1.0v1.0h-1.0zM458.2 97.6h1.0v1.0h-1.0zM495.4 87.7h1.0v1.0h-1.0zM367.5 88.1h1.0v1.0h-1.0zM478.3 84.4h1.0v1.0h-1.0zM489.3 83.6h1.0v1.0h-1.0zM385.0 74.8h1.0v1.0h-1.0zM409.3 82.7h1.0v1.0h-1.0zM496.9 88.7h1.0v1.0h-1.0zM399.4 79.3h1.0v1.0h-1.0zM463.7 91.4h1.0v1.0h-1.0zM425.9 86.1h1.0v1.0h-1.0zM344.3 85.6h1.0v1.0h-1.0zM426.5 79.8h1.0v1.0h-1.0zM437.7 83.2h1.0v1.0h-1.0zM469.7 88.9h1.0v1.0h-1.0zM329.1 94.2h1.0v1.0h-1.0z" fill="#d04040" opacity="0.7"/>
<rect x="321.9" y="71" width="1.2" height="12" fill="#a82828"/>
<rect x="45.5" y="132.6" width="226.10000000000002" height="6.300000000000011" fill="#f4f4f4"/>
<rect x="50.7" y="132.6" width="1.2999999999999972" height="6.300000000000011" fill="#8a8a8a"/>
<rect x="57.5" y="132.6" width="2.0" height="6.300000000000011" fill="#8a8a8a"/>
<rect x="62.8" y="132.6" width="1.4000000000000057" height="6.300000000000011" fill="#8a8a8a"/>
<rect x="69" y="132.6" width="6.599999999999994" height="6.300000000000011" fill="#5a5a5a"/>
<rect x="83" y="132.6" width="6.799999999999997" height="6.300000000000011" fill="#8a8a8a"/>
<rect x="97" y="132.6" width="3.5" height="6.300000000000011" fill="#8a8a8a"/>
<rect x="103" y="132.6" width="3" height="6.300000000000011" fill="#8a8a8a"/>
<rect x="110.6" y="132.6" width="3.4000000000000057" height="6.300000000000011" fill="#8a8a8a"/>
<rect x="120" y="132.6" width="7" height="6.300000000000011" fill="#8a8a8a"/>
<rect x="131.5" y="132.6" width="8.5" height="6.300000000000011" fill="#5a5a5a"/>
<rect x="149" y="132.6" width="5.599999999999994" height="6.300000000000011" fill="#8a8a8a"/>
<rect x="159.2" y="132.6" width="14.600000000000023" height="6.300000000000011" fill="#b8b8b8"/>
<rect x="175.4" y="132.6" width="27.599999999999994" height="6.300000000000011" fill="#5a5a5a"/>
<rect x="209.6" y="132.6" width="6.800000000000011" height="6.300000000000011" fill="#8a8a8a"/>
<rect x="221.8" y="132.6" width="10.799999999999983" height="6.300000000000011" fill="#b8b8b8"/>
<rect x="235.3" y="132.6" width="9.399999999999977" height="6.300000000000011" fill="#5a5a5a"/>
<rect x="252.8" y="132.6" width="5.399999999999977" height="6.300000000000011" fill="#8a8a8a"/>
<rect x="263.6" y="132.6" width="8.0" height="6.300000000000011" fill="#8a8a8a"/>
<rect x="285" y="132.6" width="24.399999999999977" height="6.300000000000011" fill="#d0d0d0"/>
<rect x="309.4" y="132.6" width="197.60000000000002" height="6.300000000000011" fill="#f4f4f4"/>
<rect x="317.7" y="132.6" width="6.900000000000034" height="6.300000000000011" fill="#8a8a8a"/>
<rect x="332.3" y="132.6" width="3.099999999999966" height="6.300000000000011" fill="#8a8a8a"/>
<rect x="339.2" y="132.6" width="3.1000000000000227" height="6.300000000000011" fill="#5a5a5a"/>
<rect x="352.3" y="132.6" width="3.099999999999966" height="6.300000000000011" fill="#8a8a8a"/>
<rect x="361.5" y="132.6" width="4.699999999999989" height="6.300000000000011" fill="#5a5a5a"/>
<rect x="370.8" y="132.6" width="9.199999999999989" height="6.300000000000011" fill="#8a8a8a"/>
<rect x="390" y="132.6" width="9.199999999999989" height="6.300000000000011" fill="#5a5a5a"/>
<rect x="403.8" y="132.6" width="10.0" height="6.300000000000011" fill="#5a5a5a"/>
<rect x="429.2" y="132.6" width="7.0" height="6.300000000000011" fill="#8a8a8a"/>
<rect x="438.5" y="132.6" width="3.8000000000000114" height="6.300000000000011" fill="#b8b8b8"/>
<rect x="443" y="132.6" width="17.80000000000001" height="6.300000000000011" fill="#5a5a5a"/>
<rect x="462.3" y="132.6" width="3.8999999999999773" height="6.300000000000011" fill="#8a8a8a"/>
<rect x="473" y="132.6" width="7" height="6.300000000000011" fill="#8a8a8a"/>
<rect x="483.8" y="132.6" width="13.199999999999989" height="6.300000000000011" fill="#5a5a5a"/>
<rect x="45.5" y="134.49" width="226.10000000000002" height="2.52" fill="#fff" opacity="0.28"/>
<rect x="285" y="134.49" width="222" height="2.52" fill="#fff" opacity="0.28"/>
<rect x="45.5" y="132.6" width="226.10000000000002" height="6.300000000000011" fill="none" stroke="#666" stroke-width="0.9"/>
<rect x="285" y="132.6" width="222" height="6.300000000000011" fill="none" stroke="#666" stroke-width="0.9"/>
<line x1="271.6" y1="135.75" x2="285" y2="135.75" stroke="#666" stroke-width="1"/>
<text x="49.6" y="159.3" font-size="9" text-anchor="start" font-weight="normal" font-style="normal" fill="#1a1a1a" >Chr. 7</text>
<line x1="227.2" y1="159.8" x2="508.5" y2="159.8" stroke="#222" stroke-width="1.4"/>
<line x1="227.2" y1="156.60000000000002" x2="227.2" y2="163.20000000000002" stroke="#111" stroke-width="1.5"/>
<line x1="508.5" y1="156.60000000000002" x2="508.5" y2="163.20000000000002" stroke="#111" stroke-width="1.5"/>
<text x="354" y="156" font-size="9" text-anchor="start" font-weight="normal" font-style="normal" fill="#1a1a1a" >del(7q)</text>
<line x1="47" y1="170.5" x2="508" y2="170.5" stroke="#eeeeee" stroke-width="0.7"/>
<line x1="47" y1="179.5" x2="508" y2="179.5" stroke="#eeeeee" stroke-width="0.7"/>
<line x1="47" y1="190.6" x2="508" y2="190.6" stroke="#eeeeee" stroke-width="0.7"/>
<line x1="47" y1="215.3" x2="508" y2="215.3" stroke="#eeeeee" stroke-width="0.7"/>
<line x1="47" y1="226.5" x2="508" y2="226.5" stroke="#eeeeee" stroke-width="0.7"/>
<line x1="47" y1="235" x2="508" y2="235" stroke="#eeeeee" stroke-width="0.7"/>
<text x="41.6" y="172.05" font-size="8.6" text-anchor="end" font-weight="normal" font-style="normal" fill="#1a1a1a" >3</text>
<text x="41.6" y="182.25" font-size="8.6" text-anchor="end" font-weight="normal" font-style="normal" fill="#1a1a1a" >2</text>
<text x="41.6" y="193.65" font-size="8.6" text-anchor="end" font-weight="normal" font-style="normal" fill="#1a1a1a" >1</text>
<text x="41.6" y="206.35000000000002" font-size="8.6" text-anchor="end" font-weight="normal" font-style="normal" fill="#1a1a1a" >0</text>
<text x="41.6" y="218.35000000000002" font-size="8.6" text-anchor="end" font-weight="normal" font-style="normal" fill="#1a1a1a" >-1</text>
<text x="41.6" y="230.05" font-size="8.6" text-anchor="end" font-weight="normal" font-style="normal" fill="#1a1a1a" >-2</text>
<text x="41.6" y="237.75" font-size="8.6" text-anchor="end" font-weight="normal" font-style="normal" fill="#1a1a1a" >-3</text>
<text transform="translate(23.6,203.5) rotate(-90)" font-size="9.9" text-anchor="middle" fill="#1a1a1a">Log<tspan font-size="7" dy="3.0">2</tspan><tspan dy="-3.0"> ratio</tspan></text>
<rect x="47" y="202.8" width="166" height="3.0" fill="#86b034"/>
<path d="M66.7 201.9h1.0v1.0h-1.0zM204.0 202.2h1.0v1.0h-1.0zM129.4 202.1h1.0v1.0h-1.0zM210.9 202.2h1.0v1.0h-1.0zM155.4 202.2h1.0v1.0h-1.0zM161.5 205.4h1.0v1.0h-1.0zM80.9 202.2h1.0v1.0h-1.0zM112.4 202.2h1.0v1.0h-1.0zM163.8 206.3h1.0v1.0h-1.0zM131.8 202.2h1.0v1.0h-1.0zM168.9 206.1h1.0v1.0h-1.0zM67.2 205.9h1.0v1.0h-1.0zM49.5 207.0h1.0v1.0h-1.0zM78.7 206.1h1.0v1.0h-1.0zM164.4 205.7h1.0v1.0h-1.0zM165.1 202.2h1.0v1.0h-1.0zM74.6 202.3h1.0v1.0h-1.0zM162.3 205.4h1.0v1.0h-1.0zM192.6 202.3h1.0v1.0h-1.0zM64.9 207.3h1.0v1.0h-1.0zM95.5 202.1h1.0v1.0h-1.0zM72.9 207.0h1.0v1.0h-1.0zM71.3 206.7h1.0v1.0h-1.0zM135.1 205.8h1.0v1.0h-1.0zM199.7 202.0h1.0v1.0h-1.0zM180.5 202.3h1.0v1.0h-1.0zM211.5 206.0h1.0v1.0h-1.0zM192.0 205.4h1.0v1.0h-1.0zM210.3 205.3h1.0v1.0h-1.0zM74.7 206.9h1.0v1.0h-1.0zM164.9 202.2h1.0v1.0h-1.0zM83.1 205.5h1.0v1.0h-1.0zM173.6 206.9h1.0v1.0h-1.0zM72.0 202.0h1.0v1.0h-1.0zM119.8 202.3h1.0v1.0h-1.0zM169.7 201.9h1.0v1.0h-1.0zM142.7 202.1h1.0v1.0h-1.0zM72.2 205.7h1.0v1.0h-1.0zM181.1 205.9h1.0v1.0h-1.0zM170.6 205.7h1.0v1.0h-1.0zM148.9 205.9h1.0v1.0h-1.0zM125.3 202.2h1.0v1.0h-1.0zM109.8 206.0h1.0v1.0h-1.0zM144.9 202.0h1.0v1.0h-1.0zM131.2 206.5h1.0v1.0h-1.0zM152.4 206.9h1.0v1.0h-1.0zM53.4 202.2h1.0v1.0h-1.0zM95.5 206.9h1.0v1.0h-1.0zM155.1 202.2h1.0v1.0h-1.0zM88.7 205.9h1.0v1.0h-1.0zM151.3 202.3h1.0v1.0h-1.0zM56.1 205.7h1.0v1.0h-1.0zM200.2 206.9h1.0v1.0h-1.0zM140.9 205.4h1.0v1.0h-1.0zM135.3 206.3h1.0v1.0h-1.0zM80.3 205.5h1.0v1.0h-1.0zM116.8 206.5h1.0v1.0h-1.0zM60.5 206.0h1.0v1.0h-1.0zM68.2 205.9h1.0v1.0h-1.0zM124.2 202.0h1.0v1.0h-1.0zM200.6 205.6h1.0v1.0h-1.0zM158.6 202.3h1.0v1.0h-1.0zM112.6 202.3h1.0v1.0h-1.0zM154.3 205.8h1.0v1.0h-1.0zM118.1 205.9h1.0v1.0h-1.0zM91.2 205.3h1.0v1.0h-1.0zM156.9 205.3h1.0v1.0h-1.0zM173.5 206.2h1.0v1.0h-1.0zM89.0 202.0h1.0v1.0h-1.0zM203.9 206.7h1.0v1.0h-1.0zM182.8 205.3h1.0v1.0h-1.0zM189.2 202.1h1.0v1.0h-1.0zM126.9 205.8h1.0v1.0h-1.0zM80.0 205.4h1.0v1.0h-1.0zM176.6 202.0h1.0v1.0h-1.0zM74.4 207.8h1.0v1.0h-1.0zM143.8 205.3h1.0v1.0h-1.0zM173.9 205.8h1.0v1.0h-1.0zM53.9 205.6h1.0v1.0h-1.0zM133.6 206.4h1.0v1.0h-1.0zM141.1 202.2h1.0v1.0h-1.0zM63.2 206.3h1.0v1.0h-1.0zM78.2 202.2h1.0v1.0h-1.0zM73.7 202.0h1.0v1.0h-1.0zM206.8 205.8h1.0v1.0h-1.0zM87.9 202.0h1.0v1.0h-1.0zM155.6 202.1h1.0v1.0h-1.0zM206.5 202.1h1.0v1.0h-1.0zM170.6 202.3h1.0v1.0h-1.0zM50.3 205.4h1.0v1.0h-1.0zM196.7 202.3h1.0v1.0h-1.0zM114.2 202.2h1.0v1.0h-1.0zM78.7 206.4h1.0v1.0h-1.0zM70.7 206.2h1.0v1.0h-1.0zM68.3 202.1h1.0v1.0h-1.0zM121.4 205.4h1.0v1.0h-1.0zM211.8 206.4h1.0v1.0h-1.0zM159.8 206.3h1.0v1.0h-1.0zM110.5 206.5h1.0v1.0h-1.0zM136.7 205.8h1.0v1.0h-1.0zM175.6 202.1h1.0v1.0h-1.0zM109.7 202.1h1.0v1.0h-1.0zM210.8 202.2h1.0v1.0h-1.0zM49.5 205.7h1.0v1.0h-1.0zM70.1 206.9h1.0v1.0h-1.0zM144.6 202.2h1.0v1.0h-1.0zM158.2 205.5h1.0v1.0h-1.0zM114.9 206.0h1.0v1.0h-1.0zM193.8 205.5h1.0v1.0h-1.0zM71.8 202.0h1.0v1.0h-1.0zM48.6 206.3h1.0v1.0h-1.0zM138.4 202.2h1.0v1.0h-1.0zM81.7 206.3h1.0v1.0h-1.0zM197.9 202.2h1.0v1.0h-1.0zM169.8 202.2h1.0v1.0h-1.0zM79.7 202.3h1.0v1.0h-1.0zM110.4 202.1h1.0v1.0h-1.0zM97.2 202.2h1.0v1.0h-1.0zM107.9 207.3h1.0v1.0h-1.0zM148.8 205.9h1.0v1.0h-1.0zM117.5 205.8h1.0v1.0h-1.0zM84.0 205.5h1.0v1.0h-1.0zM56.5 202.1h1.0v1.0h-1.0zM123.8 206.4h1.0v1.0h-1.0zM116.3 206.3h1.0v1.0h-1.0zM207.7 205.5h1.0v1.0h-1.0zM103.2 206.4h1.0v1.0h-1.0zM115.7 205.5h1.0v1.0h-1.0zM187.4 202.2h1.0v1.0h-1.0zM105.3 206.0h1.0v1.0h-1.0zM106.8 207.3h1.0v1.0h-1.0zM68.3 202.3h1.0v1.0h-1.0zM52.6 206.2h1.0v1.0h-1.0zM123.7 206.0h1.0v1.0h-1.0zM110.8 202.0h1.0v1.0h-1.0zM179.4 207.0h1.0v1.0h-1.0zM167.4 205.5h1.0v1.0h-1.0zM154.0 205.7h1.0v1.0h-1.0zM125.4 202.2h1.0v1.0h-1.0zM84.2 205.8h1.0v1.0h-1.0zM210.9 202.2h1.0v1.0h-1.0zM53.2 202.1h1.0v1.0h-1.0zM97.3 205.9h1.0v1.0h-1.0zM149.4 206.0h1.0v1.0h-1.0zM211.3 205.8h1.0v1.0h-1.0zM147.0 206.5h1.0v1.0h-1.0zM145.5 202.3h1.0v1.0h-1.0zM191.1 206.8h1.0v1.0h-1.0zM155.6 205.3h1.0v1.0h-1.0zM183.5 206.6h1.0v1.0h-1.0zM47.2 205.6h1.0v1.0h-1.0zM112.0 205.9h1.0v1.0h-1.0zM121.9 206.9h1.0v1.0h-1.0zM122.2 206.4h1.0v1.0h-1.0zM163.3 202.2h1.0v1.0h-1.0zM55.5 202.2h1.0v1.0h-1.0zM54.6 202.0h1.0v1.0h-1.0zM79.7 201.9h1.0v1.0h-1.0zM105.3 202.1h1.0v1.0h-1.0zM73.0 206.7h1.0v1.0h-1.0zM91.9 206.2h1.0v1.0h-1.0zM186.9 202.1h1.0v1.0h-1.0zM78.9 202.1h1.0v1.0h-1.0zM87.0 206.6h1.0v1.0h-1.0zM75.5 202.3h1.0v1.0h-1.0zM57.9 202.0h1.0v1.0h-1.0zM77.4 206.0h1.0v1.0h-1.0zM54.9 205.8h1.0v1.0h-1.0zM79.7 206.8h1.0v1.0h-1.0zM175.2 206.2h1.0v1.0h-1.0zM184.3 202.3h1.0v1.0h-1.0zM161.6 202.3h1.0v1.0h-1.0zM209.4 206.8h1.0v1.0h-1.0zM143.6 205.8h1.0v1.0h-1.0zM48.3 202.3h1.0v1.0h-1.0zM198.2 206.9h1.0v1.0h-1.0zM172.1 205.8h1.0v1.0h-1.0zM143.0 205.9h1.0v1.0h-1.0zM116.2 205.7h1.0v1.0h-1.0zM74.9 202.1h1.0v1.0h-1.0zM142.7 202.3h1.0v1.0h-1.0zM167.7 202.3h1.0v1.0h-1.0zM201.7 202.0h1.0v1.0h-1.0zM109.4 205.5h1.0v1.0h-1.0zM157.0 202.1h1.0v1.0h-1.0zM101.2 202.0h1.0v1.0h-1.0zM154.8 205.9h1.0v1.0h-1.0zM118.1 202.3h1.0v1.0h-1.0zM133.6 202.2h1.0v1.0h-1.0zM168.8 202.0h1.0v1.0h-1.0zM145.5 207.6h1.0v1.0h-1.0zM85.4 201.9h1.0v1.0h-1.0zM101.0 202.2h1.0v1.0h-1.0zM129.7 205.9h1.0v1.0h-1.0zM174.5 202.3h1.0v1.0h-1.0zM90.9 202.0h1.0v1.0h-1.0zM188.9 202.3h1.0v1.0h-1.0zM178.4 206.2h1.0v1.0h-1.0zM198.1 205.9h1.0v1.0h-1.0zM56.3 202.1h1.0v1.0h-1.0zM70.2 202.2h1.0v1.0h-1.0zM55.3 202.2h1.0v1.0h-1.0zM188.2 201.9h1.0v1.0h-1.0zM49.6 205.4h1.0v1.0h-1.0zM136.6 202.0h1.0v1.0h-1.0zM63.7 206.4h1.0v1.0h-1.0zM142.2 205.4h1.0v1.0h-1.0zM163.4 205.5h1.0v1.0h-1.0zM76.9 202.1h1.0v1.0h-1.0zM103.9 205.7h1.0v1.0h-1.0zM140.3 202.2h1.0v1.0h-1.0zM140.7 206.8h1.0v1.0h-1.0zM125.5 206.1h1.0v1.0h-1.0zM96.5 202.2h1.0v1.0h-1.0zM131.3 202.3h1.0v1.0h-1.0zM88.6 205.6h1.0v1.0h-1.0zM51.0 202.2h1.0v1.0h-1.0zM109.0 202.0h1.0v1.0h-1.0zM170.8 206.2h1.0v1.0h-1.0zM137.4 205.8h1.0v1.0h-1.0zM80.5 206.7h1.0v1.0h-1.0zM203.4 206.4h1.0v1.0h-1.0zM157.6 202.3h1.0v1.0h-1.0zM180.7 206.3h1.0v1.0h-1.0zM92.9 208.1h1.0v1.0h-1.0zM154.8 205.6h1.0v1.0h-1.0zM103.9 206.8h1.0v1.0h-1.0zM113.6 205.5h1.0v1.0h-1.0zM76.1 202.0h1.0v1.0h-1.0zM73.1 202.1h1.0v1.0h-1.0zM153.2 202.3h1.0v1.0h-1.0zM120.0 205.4h1.0v1.0h-1.0zM171.6 202.1h1.0v1.0h-1.0zM47.8 202.3h1.0v1.0h-1.0zM84.7 205.6h1.0v1.0h-1.0zM139.1 206.1h1.0v1.0h-1.0zM154.0 202.3h1.0v1.0h-1.0zM178.1 202.3h1.0v1.0h-1.0zM95.1 202.2h1.0v1.0h-1.0zM100.7 202.3h1.0v1.0h-1.0zM78.4 205.5h1.0v1.0h-1.0zM190.8 202.2h1.0v1.0h-1.0zM115.1 202.1h1.0v1.0h-1.0zM119.8 205.6h1.0v1.0h-1.0zM89.8 202.1h1.0v1.0h-1.0zM120.5 202.1h1.0v1.0h-1.0zM176.6 205.4h1.0v1.0h-1.0zM108.7 201.9h1.0v1.0h-1.0zM51.2 202.3h1.0v1.0h-1.0zM183.3 206.0h1.0v1.0h-1.0zM99.6 205.7h1.0v1.0h-1.0zM79.1 206.6h1.0v1.0h-1.0zM132.0 205.6h1.0v1.0h-1.0zM127.8 206.5h1.0v1.0h-1.0zM125.3 205.5h1.0v1.0h-1.0zM83.8 205.8h1.0v1.0h-1.0zM144.4 202.2h1.0v1.0h-1.0zM131.4 206.5h1.0v1.0h-1.0zM196.0 202.1h1.0v1.0h-1.0zM170.1 208.0h1.0v1.0h-1.0zM109.9 206.0h1.0v1.0h-1.0zM165.2 206.9h1.0v1.0h-1.0zM102.7 207.4h1.0v1.0h-1.0zM100.5 206.8h1.0v1.0h-1.0zM189.0 205.5h1.0v1.0h-1.0zM72.7 202.2h1.0v1.0h-1.0zM154.6 202.2h1.0v1.0h-1.0zM78.9 202.2h1.0v1.0h-1.0zM137.5 206.0h1.0v1.0h-1.0zM61.1 205.5h1.0v1.0h-1.0zM144.3 205.4h1.0v1.0h-1.0zM106.7 202.2h1.0v1.0h-1.0zM121.3 202.0h1.0v1.0h-1.0zM78.2 206.9h1.0v1.0h-1.0zM205.8 202.0h1.0v1.0h-1.0zM168.2 202.0h1.0v1.0h-1.0zM150.9 205.9h1.0v1.0h-1.0zM61.7 202.1h1.0v1.0h-1.0zM178.3 202.2h1.0v1.0h-1.0zM164.3 202.1h1.0v1.0h-1.0zM61.3 205.3h1.0v1.0h-1.0zM123.5 202.2h1.0v1.0h-1.0zM193.9 206.3h1.0v1.0h-1.0zM146.0 202.2h1.0v1.0h-1.0zM96.2 206.6h1.0v1.0h-1.0zM81.6 205.8h1.0v1.0h-1.0zM178.4 202.3h1.0v1.0h-1.0zM172.7 202.3h1.0v1.0h-1.0zM183.4 205.5h1.0v1.0h-1.0zM87.1 202.0h1.0v1.0h-1.0zM145.1 202.0h1.0v1.0h-1.0zM70.2 202.3h1.0v1.0h-1.0zM136.3 202.2h1.0v1.0h-1.0zM75.6 202.0h1.0v1.0h-1.0zM83.4 205.7h1.0v1.0h-1.0zM141.6 202.2h1.0v1.0h-1.0zM52.1 202.3h1.0v1.0h-1.0zM205.1 202.3h1.0v1.0h-1.0zM104.4 205.6h1.0v1.0h-1.0zM124.9 202.2h1.0v1.0h-1.0zM99.6 206.3h1.0v1.0h-1.0zM54.2 202.2h1.0v1.0h-1.0zM187.7 202.2h1.0v1.0h-1.0zM84.4 202.2h1.0v1.0h-1.0zM99.5 205.4h1.0v1.0h-1.0zM71.0 205.6h1.0v1.0h-1.0zM191.5 206.0h1.0v1.0h-1.0zM59.4 206.7h1.0v1.0h-1.0zM83.5 205.9h1.0v1.0h-1.0zM166.7 206.2h1.0v1.0h-1.0zM194.4 206.0h1.0v1.0h-1.0zM159.8 202.2h1.0v1.0h-1.0zM122.6 202.1h1.0v1.0h-1.0zM117.3 202.1h1.0v1.0h-1.0zM203.6 202.1h1.0v1.0h-1.0zM77.5 205.6h1.0v1.0h-1.0zM172.1 206.0h1.0v1.0h-1.0zM197.2 207.4h1.0v1.0h-1.0zM76.4 202.2h1.0v1.0h-1.0zM162.7 202.3h1.0v1.0h-1.0zM123.7 202.3h1.0v1.0h-1.0zM165.9 205.6h1.0v1.0h-1.0zM96.0 202.3h1.0v1.0h-1.0zM186.6 206.2h1.0v1.0h-1.0zM83.7 202.1h1.0v1.0h-1.0zM111.9 206.3h1.0v1.0h-1.0zM167.0 206.0h1.0v1.0h-1.0zM110.1 207.0h1.0v1.0h-1.0zM65.7 201.8h1.0v1.0h-1.0zM75.6 202.0h1.0v1.0h-1.0zM113.8 205.9h1.0v1.0h-1.0zM192.2 202.2h1.0v1.0h-1.0zM175.0 206.5h1.0v1.0h-1.0zM144.2 205.4h1.0v1.0h-1.0zM84.9 202.2h1.0v1.0h-1.0zM170.7 206.7h1.0v1.0h-1.0zM80.1 206.8h1.0v1.0h-1.0zM138.7 207.2h1.0v1.0h-1.0zM56.4 202.0h1.0v1.0h-1.0zM110.7 202.2h1.0v1.0h-1.0zM193.2 202.2h1.0v1.0h-1.0zM163.5 205.8h1.0v1.0h-1.0zM86.0 202.3h1.0v1.0h-1.0zM92.9 206.5h1.0v1.0h-1.0zM93.5 202.2h1.0v1.0h-1.0zM203.5 202.2h1.0v1.0h-1.0zM90.3 206.1h1.0v1.0h-1.0zM168.0 202.2h1.0v1.0h-1.0zM211.0 202.3h1.0v1.0h-1.0zM136.5 205.3h1.0v1.0h-1.0zM94.2 202.1h1.0v1.0h-1.0zM78.3 205.8h1.0v1.0h-1.0zM156.9 202.2h1.0v1.0h-1.0zM125.4 202.2h1.0v1.0h-1.0zM158.1 202.1h1.0v1.0h-1.0zM130.8 202.2h1.0v1.0h-1.0zM209.0 202.1h1.0v1.0h-1.0zM95.6 207.0h1.0v1.0h-1.0zM117.0 202.2h1.0v1.0h-1.0zM80.2 205.7h1.0v1.0h-1.0zM201.6 202.2h1.0v1.0h-1.0zM97.0 202.0h1.0v1.0h-1.0zM142.9 202.3h1.0v1.0h-1.0zM83.3 206.6h1.0v1.0h-1.0zM206.7 202.1h1.0v1.0h-1.0zM49.9 202.3h1.0v1.0h-1.0zM105.2 207.8h1.0v1.0h-1.0zM73.8 202.2h1.0v1.0h-1.0zM49.4 202.3h1.0v1.0h-1.0zM83.7 202.2h1.0v1.0h-1.0zM198.9 202.0h1.0v1.0h-1.0zM161.9 202.3h1.0v1.0h-1.0zM200.1 207.0h1.0v1.0h-1.0zM137.2 206.0h1.0v1.0h-1.0zM67.5 205.9h1.0v1.0h-1.0zM98.6 202.2h1.0v1.0h-1.0zM180.7 206.5h1.0v1.0h-1.0zM50.8 205.4h1.0v1.0h-1.0zM74.6 205.8h1.0v1.0h-1.0zM90.3 206.4h1.0v1.0h-1.0zM48.4 202.2h1.0v1.0h-1.0zM108.3 206.9h1.0v1.0h-1.0zM101.1 202.2h1.0v1.0h-1.0zM72.1 205.4h1.0v1.0h-1.0zM141.8 202.2h1.0v1.0h-1.0zM120.5 202.1h1.0v1.0h-1.0zM157.7 202.2h1.0v1.0h-1.0zM178.2 205.3h1.0v1.0h-1.0zM72.3 202.1h1.0v1.0h-1.0zM115.0 207.4h1.0v1.0h-1.0zM61.2 202.3h1.0v1.0h-1.0zM120.7 206.7h1.0v1.0h-1.0zM182.7 207.8h1.0v1.0h-1.0zM192.7 202.3h1.0v1.0h-1.0zM112.9 202.1h1.0v1.0h-1.0zM62.2 202.1h1.0v1.0h-1.0zM123.7 206.2h1.0v1.0h-1.0zM151.7 205.9h1.0v1.0h-1.0zM163.8 202.1h1.0v1.0h-1.0zM53.7 201.9h1.0v1.0h-1.0zM78.4 205.6h1.0v1.0h-1.0zM131.9 205.6h1.0v1.0h-1.0zM160.3 202.3h1.0v1.0h-1.0zM110.5 202.1h1.0v1.0h-1.0zM186.0 205.8h1.0v1.0h-1.0zM65.2 202.1h1.0v1.0h-1.0zM60.0 202.3h1.0v1.0h-1.0zM111.2 202.3h1.0v1.0h-1.0zM173.1 206.2h1.0v1.0h-1.0zM208.0 202.3h1.0v1.0h-1.0zM98.2 206.2h1.0v1.0h-1.0zM157.6 205.8h1.0v1.0h-1.0zM105.5 202.1h1.0v1.0h-1.0zM206.1 202.1h1.0v1.0h-1.0zM114.8 202.3h1.0v1.0h-1.0zM197.6 205.4h1.0v1.0h-1.0zM52.1 202.3h1.0v1.0h-1.0zM174.0 205.8h1.0v1.0h-1.0zM137.1 205.4h1.0v1.0h-1.0zM110.3 202.2h1.0v1.0h-1.0zM79.7 205.3h1.0v1.0h-1.0zM84.4 202.1h1.0v1.0h-1.0zM112.2 205.7h1.0v1.0h-1.0zM60.4 201.8h1.0v1.0h-1.0zM109.7 206.8h1.0v1.0h-1.0zM183.8 202.2h1.0v1.0h-1.0zM109.2 207.3h1.0v1.0h-1.0zM91.7 207.7h1.0v1.0h-1.0zM127.3 206.1h1.0v1.0h-1.0zM188.1 202.1h1.0v1.0h-1.0zM93.3 202.2h1.0v1.0h-1.0zM175.7 202.2h1.0v1.0h-1.0zM104.8 202.2h1.0v1.0h-1.0zM187.2 206.5h1.0v1.0h-1.0zM110.3 206.9h1.0v1.0h-1.0zM97.1 202.0h1.0v1.0h-1.0zM87.3 202.2h1.0v1.0h-1.0zM87.5 202.0h1.0v1.0h-1.0zM194.6 205.7h1.0v1.0h-1.0zM56.6 207.7h1.0v1.0h-1.0zM99.9 206.8h1.0v1.0h-1.0zM199.5 205.6h1.0v1.0h-1.0zM141.4 202.3h1.0v1.0h-1.0zM190.0 201.8h1.0v1.0h-1.0zM103.7 205.5h1.0v1.0h-1.0zM190.4 202.2h1.0v1.0h-1.0zM151.4 201.9h1.0v1.0h-1.0zM170.1 205.7h1.0v1.0h-1.0zM49.7 205.3h1.0v1.0h-1.0zM84.2 205.3h1.0v1.0h-1.0z" fill="#86b034" opacity="1.0"/>
<rect x="47" y="205.6" width="166" height="1.200000000000017" fill="#b8d888"/>
<path d="M190.5 206.6h1.0v1.0h-1.0zM89.9 206.5h1.0v1.0h-1.0zM178.0 205.0h1.0v1.0h-1.0zM168.9 205.1h1.0v1.0h-1.0zM99.6 206.6h1.0v1.0h-1.0zM164.8 205.0h1.0v1.0h-1.0zM129.6 205.0h1.0v1.0h-1.0zM61.6 205.0h1.0v1.0h-1.0zM105.0 204.9h1.0v1.0h-1.0zM187.2 205.1h1.0v1.0h-1.0zM69.2 205.0h1.0v1.0h-1.0zM168.9 207.2h1.0v1.0h-1.0zM113.2 205.0h1.0v1.0h-1.0zM173.7 205.0h1.0v1.0h-1.0zM119.2 205.1h1.0v1.0h-1.0zM154.3 207.3h1.0v1.0h-1.0zM99.9 205.0h1.0v1.0h-1.0zM52.8 205.1h1.0v1.0h-1.0zM66.0 208.0h1.0v1.0h-1.0zM127.1 205.0h1.0v1.0h-1.0zM71.1 207.6h1.0v1.0h-1.0zM85.7 205.1h1.0v1.0h-1.0zM119.2 205.1h1.0v1.0h-1.0zM51.4 206.8h1.0v1.0h-1.0zM207.9 207.2h1.0v1.0h-1.0zM81.1 205.0h1.0v1.0h-1.0zM47.4 205.1h1.0v1.0h-1.0zM85.6 205.0h1.0v1.0h-1.0zM136.2 204.9h1.0v1.0h-1.0zM120.9 206.9h1.0v1.0h-1.0zM166.3 205.0h1.0v1.0h-1.0zM120.1 205.0h1.0v1.0h-1.0zM155.6 205.0h1.0v1.0h-1.0zM115.2 206.4h1.0v1.0h-1.0zM145.7 207.2h1.0v1.0h-1.0zM146.4 205.0h1.0v1.0h-1.0zM82.1 207.8h1.0v1.0h-1.0zM127.6 205.0h1.0v1.0h-1.0zM143.9 204.9h1.0v1.0h-1.0zM206.6 205.1h1.0v1.0h-1.0zM80.1 204.9h1.0v1.0h-1.0zM64.7 204.9h1.0v1.0h-1.0zM127.0 207.1h1.0v1.0h-1.0zM164.3 205.1h1.0v1.0h-1.0zM76.6 205.1h1.0v1.0h-1.0zM135.8 207.3h1.0v1.0h-1.0zM172.9 205.0h1.0v1.0h-1.0zM59.5 207.6h1.0v1.0h-1.0zM123.1 206.3h1.0v1.0h-1.0zM97.1 204.9h1.0v1.0h-1.0zM56.8 206.4h1.0v1.0h-1.0zM71.4 205.1h1.0v1.0h-1.0zM51.7 205.0h1.0v1.0h-1.0zM130.0 207.3h1.0v1.0h-1.0zM97.2 205.1h1.0v1.0h-1.0zM123.9 205.0h1.0v1.0h-1.0zM128.2 207.1h1.0v1.0h-1.0zM189.3 205.0h1.0v1.0h-1.0zM128.9 206.6h1.0v1.0h-1.0zM129.8 205.0h1.0v1.0h-1.0zM129.1 205.1h1.0v1.0h-1.0zM120.7 205.1h1.0v1.0h-1.0zM136.1 205.1h1.0v1.0h-1.0zM180.1 205.1h1.0v1.0h-1.0zM204.5 205.0h1.0v1.0h-1.0zM87.2 207.2h1.0v1.0h-1.0zM125.8 205.0h1.0v1.0h-1.0zM90.7 205.1h1.0v1.0h-1.0zM86.2 205.0h1.0v1.0h-1.0zM121.1 207.0h1.0v1.0h-1.0zM137.9 207.0h1.0v1.0h-1.0zM188.0 205.0h1.0v1.0h-1.0zM92.3 204.9h1.0v1.0h-1.0zM114.3 207.2h1.0v1.0h-1.0zM139.7 206.9h1.0v1.0h-1.0zM93.0 205.0h1.0v1.0h-1.0zM204.8 205.1h1.0v1.0h-1.0zM110.5 206.4h1.0v1.0h-1.0zM116.1 207.8h1.0v1.0h-1.0zM167.9 205.0h1.0v1.0h-1.0zM96.5 206.7h1.0v1.0h-1.0zM56.2 207.5h1.0v1.0h-1.0zM160.8 205.0h1.0v1.0h-1.0zM88.8 205.0h1.0v1.0h-1.0zM72.1 204.9h1.0v1.0h-1.0zM115.8 205.1h1.0v1.0h-1.0zM88.5 205.0h1.0v1.0h-1.0zM118.0 207.0h1.0v1.0h-1.0zM141.5 206.5h1.0v1.0h-1.0zM51.0 204.9h1.0v1.0h-1.0zM66.1 207.2h1.0v1.0h-1.0zM103.6 204.9h1.0v1.0h-1.0zM162.1 205.0h1.0v1.0h-1.0zM151.6 207.0h1.0v1.0h-1.0zM156.5 207.4h1.0v1.0h-1.0zM117.4 205.1h1.0v1.0h-1.0zM104.3 207.5h1.0v1.0h-1.0zM182.1 206.7h1.0v1.0h-1.0zM193.3 205.0h1.0v1.0h-1.0zM127.5 207.9h1.0v1.0h-1.0zM93.1 205.0h1.0v1.0h-1.0zM205.7 207.1h1.0v1.0h-1.0zM89.6 205.0h1.0v1.0h-1.0zM74.3 206.7h1.0v1.0h-1.0zM165.4 207.6h1.0v1.0h-1.0zM158.4 205.0h1.0v1.0h-1.0zM199.2 205.1h1.0v1.0h-1.0zM97.7 206.6h1.0v1.0h-1.0zM159.9 206.4h1.0v1.0h-1.0zM188.2 205.1h1.0v1.0h-1.0zM87.0 205.1h1.0v1.0h-1.0zM117.7 205.1h1.0v1.0h-1.0zM102.3 205.0h1.0v1.0h-1.0zM52.0 205.0h1.0v1.0h-1.0zM194.3 205.0h1.0v1.0h-1.0zM132.6 206.5h1.0v1.0h-1.0zM113.8 207.5h1.0v1.0h-1.0zM130.7 205.0h1.0v1.0h-1.0zM186.6 207.4h1.0v1.0h-1.0zM171.4 206.4h1.0v1.0h-1.0zM113.7 206.8h1.0v1.0h-1.0zM80.0 207.1h1.0v1.0h-1.0zM176.6 205.1h1.0v1.0h-1.0zM155.0 205.0h1.0v1.0h-1.0zM174.4 206.9h1.0v1.0h-1.0zM113.4 206.3h1.0v1.0h-1.0zM89.7 206.6h1.0v1.0h-1.0zM167.1 205.1h1.0v1.0h-1.0zM92.1 205.1h1.0v1.0h-1.0zM110.3 207.4h1.0v1.0h-1.0zM180.9 205.0h1.0v1.0h-1.0zM151.9 207.0h1.0v1.0h-1.0zM82.3 205.1h1.0v1.0h-1.0zM111.6 206.4h1.0v1.0h-1.0zM121.1 206.5h1.0v1.0h-1.0zM165.8 205.1h1.0v1.0h-1.0zM60.8 205.0h1.0v1.0h-1.0zM74.8 205.0h1.0v1.0h-1.0zM69.6 206.5h1.0v1.0h-1.0zM146.7 207.1h1.0v1.0h-1.0zM68.3 206.5h1.0v1.0h-1.0zM118.0 206.5h1.0v1.0h-1.0zM106.6 206.9h1.0v1.0h-1.0zM200.9 207.7h1.0v1.0h-1.0zM57.3 205.0h1.0v1.0h-1.0zM77.6 206.5h1.0v1.0h-1.0zM66.7 204.8h1.0v1.0h-1.0zM110.3 207.6h1.0v1.0h-1.0zM158.1 207.2h1.0v1.0h-1.0zM168.9 205.0h1.0v1.0h-1.0zM178.3 208.2h1.0v1.0h-1.0zM52.3 206.3h1.0v1.0h-1.0zM59.0 206.7h1.0v1.0h-1.0zM186.1 205.1h1.0v1.0h-1.0zM195.7 205.0h1.0v1.0h-1.0zM172.7 205.1h1.0v1.0h-1.0zM131.7 205.1h1.0v1.0h-1.0zM90.1 205.1h1.0v1.0h-1.0zM160.8 204.9h1.0v1.0h-1.0zM152.9 204.9h1.0v1.0h-1.0zM189.7 207.9h1.0v1.0h-1.0zM135.1 204.9h1.0v1.0h-1.0zM48.9 205.0h1.0v1.0h-1.0zM184.6 205.1h1.0v1.0h-1.0zM58.7 204.9h1.0v1.0h-1.0zM175.8 204.9h1.0v1.0h-1.0zM144.5 205.1h1.0v1.0h-1.0zM87.7 205.0h1.0v1.0h-1.0zM84.0 205.0h1.0v1.0h-1.0zM167.3 205.0h1.0v1.0h-1.0zM51.5 206.5h1.0v1.0h-1.0zM114.5 206.8h1.0v1.0h-1.0zM145.8 207.3h1.0v1.0h-1.0zM162.5 206.6h1.0v1.0h-1.0zM172.5 205.1h1.0v1.0h-1.0zM174.1 205.1h1.0v1.0h-1.0zM200.2 206.3h1.0v1.0h-1.0zM153.7 205.1h1.0v1.0h-1.0zM117.1 205.1h1.0v1.0h-1.0zM136.0 205.1h1.0v1.0h-1.0zM87.2 206.6h1.0v1.0h-1.0zM189.7 207.3h1.0v1.0h-1.0zM182.1 206.3h1.0v1.0h-1.0zM211.1 206.8h1.0v1.0h-1.0zM100.1 206.8h1.0v1.0h-1.0zM189.5 205.1h1.0v1.0h-1.0zM189.2 205.1h1.0v1.0h-1.0zM129.6 206.7h1.0v1.0h-1.0zM139.1 207.5h1.0v1.0h-1.0zM187.7 206.6h1.0v1.0h-1.0zM85.9 206.9h1.0v1.0h-1.0zM174.6 206.6h1.0v1.0h-1.0zM183.0 205.1h1.0v1.0h-1.0zM138.1 205.1h1.0v1.0h-1.0zM149.6 205.1h1.0v1.0h-1.0zM160.9 205.1h1.0v1.0h-1.0zM211.9 204.9h1.0v1.0h-1.0zM93.8 206.5h1.0v1.0h-1.0zM95.7 205.1h1.0v1.0h-1.0zM145.5 205.0h1.0v1.0h-1.0zM196.3 206.4h1.0v1.0h-1.0zM55.6 208.7h1.0v1.0h-1.0zM188.2 205.0h1.0v1.0h-1.0zM199.7 205.1h1.0v1.0h-1.0zM184.0 205.0h1.0v1.0h-1.0zM103.4 205.0h1.0v1.0h-1.0zM61.0 206.8h1.0v1.0h-1.0zM99.9 205.1h1.0v1.0h-1.0zM67.6 206.6h1.0v1.0h-1.0zM106.6 206.8h1.0v1.0h-1.0zM164.0 205.0h1.0v1.0h-1.0zM101.5 207.9h1.0v1.0h-1.0zM150.9 207.3h1.0v1.0h-1.0zM153.9 207.0h1.0v1.0h-1.0zM122.2 204.9h1.0v1.0h-1.0zM124.5 206.4h1.0v1.0h-1.0zM207.4 205.1h1.0v1.0h-1.0zM50.5 205.0h1.0v1.0h-1.0zM59.2 205.0h1.0v1.0h-1.0zM160.4 206.5h1.0v1.0h-1.0zM184.4 206.3h1.0v1.0h-1.0zM167.2 204.9h1.0v1.0h-1.0zM141.9 206.3h1.0v1.0h-1.0zM48.8 207.1h1.0v1.0h-1.0zM65.9 205.1h1.0v1.0h-1.0zM193.5 205.1h1.0v1.0h-1.0zM205.1 207.1h1.0v1.0h-1.0zM154.1 206.8h1.0v1.0h-1.0zM78.4 206.4h1.0v1.0h-1.0zM83.0 206.8h1.0v1.0h-1.0zM201.0 205.1h1.0v1.0h-1.0zM97.6 205.0h1.0v1.0h-1.0zM192.8 207.4h1.0v1.0h-1.0zM76.2 205.1h1.0v1.0h-1.0zM119.6 205.1h1.0v1.0h-1.0zM146.5 205.0h1.0v1.0h-1.0zM59.0 206.3h1.0v1.0h-1.0zM206.0 206.4h1.0v1.0h-1.0zM201.6 205.1h1.0v1.0h-1.0zM150.7 204.9h1.0v1.0h-1.0zM92.3 205.0h1.0v1.0h-1.0zM77.6 205.1h1.0v1.0h-1.0zM50.7 205.0h1.0v1.0h-1.0zM50.1 206.7h1.0v1.0h-1.0zM84.5 206.5h1.0v1.0h-1.0zM137.1 206.4h1.0v1.0h-1.0zM86.4 206.5h1.0v1.0h-1.0zM106.0 207.3h1.0v1.0h-1.0zM157.1 205.1h1.0v1.0h-1.0zM171.0 204.9h1.0v1.0h-1.0z" fill="#b8d888" opacity="1.0"/>
<rect x="47" y="199.4" width="166" height="3.1999999999999886" fill="#cc1420"/>
<path d="M71.1 198.6h1.0v1.0h-1.0zM56.8 197.8h1.0v1.0h-1.0zM71.3 202.4h1.0v1.0h-1.0zM57.4 197.3h1.0v1.0h-1.0zM170.3 203.0h1.0v1.0h-1.0zM192.0 202.9h1.0v1.0h-1.0zM101.5 198.8h1.0v1.0h-1.0zM154.1 198.6h1.0v1.0h-1.0zM77.9 202.2h1.0v1.0h-1.0zM71.5 202.2h1.0v1.0h-1.0zM111.1 202.1h1.0v1.0h-1.0zM103.5 202.1h1.0v1.0h-1.0zM87.3 198.1h1.0v1.0h-1.0zM155.7 198.9h1.0v1.0h-1.0zM210.1 197.6h1.0v1.0h-1.0zM161.4 202.2h1.0v1.0h-1.0zM65.2 198.2h1.0v1.0h-1.0zM68.3 198.8h1.0v1.0h-1.0zM54.2 198.8h1.0v1.0h-1.0zM62.7 202.2h1.0v1.0h-1.0zM153.6 198.8h1.0v1.0h-1.0zM116.0 202.2h1.0v1.0h-1.0zM55.8 198.1h1.0v1.0h-1.0zM58.2 202.2h1.0v1.0h-1.0zM177.5 202.7h1.0v1.0h-1.0zM129.5 202.4h1.0v1.0h-1.0zM99.9 202.5h1.0v1.0h-1.0zM143.5 202.1h1.0v1.0h-1.0zM129.2 197.6h1.0v1.0h-1.0zM77.1 202.3h1.0v1.0h-1.0zM114.6 197.4h1.0v1.0h-1.0zM75.2 198.7h1.0v1.0h-1.0zM127.6 198.5h1.0v1.0h-1.0zM79.8 198.7h1.0v1.0h-1.0zM194.8 202.2h1.0v1.0h-1.0zM131.1 197.6h1.0v1.0h-1.0zM119.5 202.6h1.0v1.0h-1.0zM49.8 203.3h1.0v1.0h-1.0zM109.8 198.5h1.0v1.0h-1.0zM136.6 202.6h1.0v1.0h-1.0zM190.4 202.3h1.0v1.0h-1.0zM109.1 198.8h1.0v1.0h-1.0zM174.5 202.5h1.0v1.0h-1.0zM191.2 202.6h1.0v1.0h-1.0zM109.1 198.0h1.0v1.0h-1.0zM207.8 202.2h1.0v1.0h-1.0zM194.4 203.1h1.0v1.0h-1.0zM106.6 197.6h1.0v1.0h-1.0zM146.1 198.3h1.0v1.0h-1.0zM77.2 196.5h1.0v1.0h-1.0zM111.8 202.3h1.0v1.0h-1.0zM113.7 198.0h1.0v1.0h-1.0zM178.6 202.2h1.0v1.0h-1.0zM194.3 197.6h1.0v1.0h-1.0zM85.2 202.5h1.0v1.0h-1.0zM47.7 198.3h1.0v1.0h-1.0zM163.2 197.4h1.0v1.0h-1.0zM104.4 198.7h1.0v1.0h-1.0zM158.5 202.9h1.0v1.0h-1.0zM108.3 202.8h1.0v1.0h-1.0zM121.6 202.3h1.0v1.0h-1.0zM107.8 202.4h1.0v1.0h-1.0zM169.6 197.8h1.0v1.0h-1.0zM102.6 203.4h1.0v1.0h-1.0zM161.4 202.1h1.0v1.0h-1.0zM190.3 198.9h1.0v1.0h-1.0zM182.8 202.6h1.0v1.0h-1.0zM166.8 202.7h1.0v1.0h-1.0zM202.4 202.4h1.0v1.0h-1.0zM198.9 198.4h1.0v1.0h-1.0zM77.4 203.3h1.0v1.0h-1.0zM101.6 198.3h1.0v1.0h-1.0zM71.7 202.3h1.0v1.0h-1.0zM154.9 198.0h1.0v1.0h-1.0zM201.6 198.6h1.0v1.0h-1.0zM125.9 197.9h1.0v1.0h-1.0zM165.6 198.7h1.0v1.0h-1.0zM112.9 202.5h1.0v1.0h-1.0zM169.0 202.2h1.0v1.0h-1.0zM104.2 202.6h1.0v1.0h-1.0zM186.9 198.6h1.0v1.0h-1.0zM202.8 202.6h1.0v1.0h-1.0zM199.2 198.2h1.0v1.0h-1.0zM81.3 198.7h1.0v1.0h-1.0zM82.2 202.8h1.0v1.0h-1.0zM170.9 202.4h1.0v1.0h-1.0zM134.1 202.7h1.0v1.0h-1.0zM103.2 198.7h1.0v1.0h-1.0zM101.8 202.7h1.0v1.0h-1.0zM157.4 202.3h1.0v1.0h-1.0zM143.2 202.4h1.0v1.0h-1.0zM143.0 197.8h1.0v1.0h-1.0zM122.8 198.5h1.0v1.0h-1.0zM180.1 198.9h1.0v1.0h-1.0zM104.1 198.1h1.0v1.0h-1.0zM142.4 198.6h1.0v1.0h-1.0zM156.2 202.3h1.0v1.0h-1.0zM51.3 202.1h1.0v1.0h-1.0zM47.3 202.3h1.0v1.0h-1.0zM100.6 197.4h1.0v1.0h-1.0zM73.2 198.0h1.0v1.0h-1.0zM184.3 202.7h1.0v1.0h-1.0zM138.9 198.5h1.0v1.0h-1.0zM147.0 198.2h1.0v1.0h-1.0zM112.5 197.9h1.0v1.0h-1.0zM107.7 203.2h1.0v1.0h-1.0zM152.0 202.3h1.0v1.0h-1.0zM155.0 198.3h1.0v1.0h-1.0zM129.0 203.4h1.0v1.0h-1.0zM104.5 198.1h1.0v1.0h-1.0zM114.1 202.2h1.0v1.0h-1.0zM75.6 198.7h1.0v1.0h-1.0zM175.6 202.5h1.0v1.0h-1.0zM189.7 202.9h1.0v1.0h-1.0zM104.4 202.2h1.0v1.0h-1.0zM70.3 196.8h1.0v1.0h-1.0zM97.2 202.2h1.0v1.0h-1.0zM135.7 197.8h1.0v1.0h-1.0zM143.9 198.5h1.0v1.0h-1.0zM122.4 196.7h1.0v1.0h-1.0zM143.6 198.3h1.0v1.0h-1.0zM127.4 202.3h1.0v1.0h-1.0zM170.2 197.9h1.0v1.0h-1.0zM67.7 202.6h1.0v1.0h-1.0zM50.2 202.3h1.0v1.0h-1.0zM193.9 202.6h1.0v1.0h-1.0zM157.9 198.5h1.0v1.0h-1.0zM62.8 202.2h1.0v1.0h-1.0zM162.8 202.5h1.0v1.0h-1.0zM189.0 202.4h1.0v1.0h-1.0zM208.6 198.0h1.0v1.0h-1.0zM178.7 198.6h1.0v1.0h-1.0zM136.4 202.2h1.0v1.0h-1.0zM61.7 202.9h1.0v1.0h-1.0zM56.0 202.7h1.0v1.0h-1.0zM83.7 202.4h1.0v1.0h-1.0zM172.4 198.1h1.0v1.0h-1.0zM188.9 198.5h1.0v1.0h-1.0zM108.6 198.4h1.0v1.0h-1.0zM72.3 202.2h1.0v1.0h-1.0zM126.6 197.8h1.0v1.0h-1.0zM132.5 198.3h1.0v1.0h-1.0zM115.9 202.6h1.0v1.0h-1.0zM199.2 198.4h1.0v1.0h-1.0zM187.8 198.8h1.0v1.0h-1.0zM92.1 198.5h1.0v1.0h-1.0zM192.4 202.3h1.0v1.0h-1.0zM65.4 202.7h1.0v1.0h-1.0zM195.3 203.6h1.0v1.0h-1.0zM203.5 202.1h1.0v1.0h-1.0zM50.6 202.1h1.0v1.0h-1.0zM120.3 198.8h1.0v1.0h-1.0zM57.2 202.1h1.0v1.0h-1.0zM72.8 198.1h1.0v1.0h-1.0zM84.6 202.3h1.0v1.0h-1.0zM49.6 196.9h1.0v1.0h-1.0zM150.0 198.1h1.0v1.0h-1.0zM93.3 202.3h1.0v1.0h-1.0zM86.5 202.3h1.0v1.0h-1.0zM54.5 202.6h1.0v1.0h-1.0zM64.9 198.4h1.0v1.0h-1.0zM205.0 198.6h1.0v1.0h-1.0zM52.2 197.9h1.0v1.0h-1.0zM91.9 197.3h1.0v1.0h-1.0zM103.3 202.3h1.0v1.0h-1.0zM154.6 197.9h1.0v1.0h-1.0zM69.2 202.1h1.0v1.0h-1.0zM118.4 202.1h1.0v1.0h-1.0zM145.0 202.4h1.0v1.0h-1.0zM112.2 198.8h1.0v1.0h-1.0zM195.2 202.6h1.0v1.0h-1.0zM103.1 202.6h1.0v1.0h-1.0zM91.7 202.7h1.0v1.0h-1.0zM87.5 202.7h1.0v1.0h-1.0zM136.6 202.6h1.0v1.0h-1.0zM62.3 202.4h1.0v1.0h-1.0zM177.7 197.7h1.0v1.0h-1.0zM139.2 202.4h1.0v1.0h-1.0zM186.0 202.2h1.0v1.0h-1.0zM158.7 198.7h1.0v1.0h-1.0zM163.2 202.2h1.0v1.0h-1.0zM126.5 198.7h1.0v1.0h-1.0zM103.4 198.4h1.0v1.0h-1.0zM137.8 198.0h1.0v1.0h-1.0zM138.8 202.4h1.0v1.0h-1.0zM91.0 202.4h1.0v1.0h-1.0zM60.1 203.0h1.0v1.0h-1.0zM52.7 202.8h1.0v1.0h-1.0zM195.4 198.0h1.0v1.0h-1.0zM97.4 198.0h1.0v1.0h-1.0zM197.8 202.7h1.0v1.0h-1.0zM178.3 202.1h1.0v1.0h-1.0zM93.4 198.6h1.0v1.0h-1.0zM116.2 198.7h1.0v1.0h-1.0zM156.9 198.6h1.0v1.0h-1.0zM88.3 198.3h1.0v1.0h-1.0zM193.2 198.1h1.0v1.0h-1.0zM204.3 202.2h1.0v1.0h-1.0zM75.1 203.7h1.0v1.0h-1.0zM169.2 198.9h1.0v1.0h-1.0zM117.8 202.2h1.0v1.0h-1.0zM142.7 197.3h1.0v1.0h-1.0zM154.5 202.2h1.0v1.0h-1.0zM133.8 202.2h1.0v1.0h-1.0zM101.1 202.9h1.0v1.0h-1.0zM193.4 197.8h1.0v1.0h-1.0zM165.6 203.0h1.0v1.0h-1.0zM54.7 198.1h1.0v1.0h-1.0zM66.3 202.1h1.0v1.0h-1.0zM155.8 202.5h1.0v1.0h-1.0zM140.7 197.8h1.0v1.0h-1.0zM99.7 198.4h1.0v1.0h-1.0zM73.9 202.3h1.0v1.0h-1.0zM144.1 198.3h1.0v1.0h-1.0zM76.9 197.5h1.0v1.0h-1.0zM69.1 198.6h1.0v1.0h-1.0zM131.2 198.0h1.0v1.0h-1.0zM83.8 202.4h1.0v1.0h-1.0zM152.6 202.5h1.0v1.0h-1.0zM149.9 202.8h1.0v1.0h-1.0zM53.0 198.7h1.0v1.0h-1.0zM63.4 202.2h1.0v1.0h-1.0zM65.3 202.1h1.0v1.0h-1.0zM111.6 197.8h1.0v1.0h-1.0zM122.4 198.0h1.0v1.0h-1.0zM67.9 202.3h1.0v1.0h-1.0zM74.1 202.3h1.0v1.0h-1.0zM132.6 203.2h1.0v1.0h-1.0zM177.6 202.9h1.0v1.0h-1.0zM169.9 197.7h1.0v1.0h-1.0zM107.9 202.5h1.0v1.0h-1.0zM199.3 202.3h1.0v1.0h-1.0zM161.8 198.8h1.0v1.0h-1.0zM160.2 198.2h1.0v1.0h-1.0zM83.8 198.7h1.0v1.0h-1.0zM75.2 202.4h1.0v1.0h-1.0zM56.0 198.4h1.0v1.0h-1.0zM138.4 197.2h1.0v1.0h-1.0zM124.3 197.7h1.0v1.0h-1.0zM48.3 203.1h1.0v1.0h-1.0zM176.8 203.1h1.0v1.0h-1.0zM193.1 198.4h1.0v1.0h-1.0zM211.1 202.7h1.0v1.0h-1.0zM90.1 197.4h1.0v1.0h-1.0zM65.0 197.5h1.0v1.0h-1.0zM122.8 198.8h1.0v1.0h-1.0zM82.0 198.7h1.0v1.0h-1.0zM141.3 197.9h1.0v1.0h-1.0zM144.9 197.9h1.0v1.0h-1.0zM186.1 202.1h1.0v1.0h-1.0zM143.5 202.2h1.0v1.0h-1.0zM98.9 198.4h1.0v1.0h-1.0zM173.3 202.3h1.0v1.0h-1.0zM68.6 202.4h1.0v1.0h-1.0zM141.7 197.4h1.0v1.0h-1.0zM205.8 202.1h1.0v1.0h-1.0zM176.3 202.4h1.0v1.0h-1.0zM104.2 202.2h1.0v1.0h-1.0zM152.3 198.7h1.0v1.0h-1.0zM206.5 197.4h1.0v1.0h-1.0zM200.9 202.4h1.0v1.0h-1.0zM110.4 202.3h1.0v1.0h-1.0zM181.1 202.6h1.0v1.0h-1.0zM51.2 198.0h1.0v1.0h-1.0zM55.6 202.6h1.0v1.0h-1.0zM114.3 202.6h1.0v1.0h-1.0zM100.4 202.3h1.0v1.0h-1.0zM129.5 202.2h1.0v1.0h-1.0zM186.4 198.6h1.0v1.0h-1.0zM118.6 202.4h1.0v1.0h-1.0zM156.5 197.7h1.0v1.0h-1.0zM138.8 197.9h1.0v1.0h-1.0zM106.5 198.3h1.0v1.0h-1.0zM96.7 198.7h1.0v1.0h-1.0zM189.7 198.5h1.0v1.0h-1.0zM117.6 198.6h1.0v1.0h-1.0zM200.6 202.1h1.0v1.0h-1.0zM137.4 202.4h1.0v1.0h-1.0zM84.1 202.9h1.0v1.0h-1.0zM204.7 197.2h1.0v1.0h-1.0zM180.0 202.6h1.0v1.0h-1.0zM196.4 198.2h1.0v1.0h-1.0zM140.1 197.4h1.0v1.0h-1.0zM64.3 202.2h1.0v1.0h-1.0zM48.2 202.1h1.0v1.0h-1.0zM150.2 202.9h1.0v1.0h-1.0zM182.2 202.4h1.0v1.0h-1.0zM127.0 202.3h1.0v1.0h-1.0zM112.4 198.1h1.0v1.0h-1.0zM60.0 202.2h1.0v1.0h-1.0zM122.2 202.5h1.0v1.0h-1.0zM66.4 202.4h1.0v1.0h-1.0zM120.7 202.6h1.0v1.0h-1.0zM111.0 202.3h1.0v1.0h-1.0zM86.0 202.4h1.0v1.0h-1.0zM124.7 198.0h1.0v1.0h-1.0zM56.4 196.7h1.0v1.0h-1.0zM148.3 197.6h1.0v1.0h-1.0zM79.0 198.1h1.0v1.0h-1.0zM93.6 198.7h1.0v1.0h-1.0zM185.2 202.5h1.0v1.0h-1.0zM58.6 202.1h1.0v1.0h-1.0zM167.1 202.7h1.0v1.0h-1.0zM63.4 202.8h1.0v1.0h-1.0zM161.3 202.5h1.0v1.0h-1.0zM117.9 198.2h1.0v1.0h-1.0zM147.3 202.4h1.0v1.0h-1.0zM111.3 197.9h1.0v1.0h-1.0zM163.3 198.7h1.0v1.0h-1.0zM74.9 202.2h1.0v1.0h-1.0zM118.6 196.8h1.0v1.0h-1.0zM153.6 198.7h1.0v1.0h-1.0zM203.5 197.7h1.0v1.0h-1.0zM179.5 202.6h1.0v1.0h-1.0zM112.5 202.2h1.0v1.0h-1.0zM202.5 202.5h1.0v1.0h-1.0zM203.0 202.2h1.0v1.0h-1.0zM112.5 202.6h1.0v1.0h-1.0zM170.0 202.4h1.0v1.0h-1.0zM198.4 202.5h1.0v1.0h-1.0zM182.1 202.2h1.0v1.0h-1.0zM64.4 197.5h1.0v1.0h-1.0zM48.9 198.6h1.0v1.0h-1.0zM157.6 202.6h1.0v1.0h-1.0zM192.5 202.3h1.0v1.0h-1.0zM116.2 198.1h1.0v1.0h-1.0zM186.2 202.5h1.0v1.0h-1.0zM95.4 197.8h1.0v1.0h-1.0zM172.5 198.4h1.0v1.0h-1.0zM81.4 202.1h1.0v1.0h-1.0zM197.4 197.9h1.0v1.0h-1.0zM67.6 202.3h1.0v1.0h-1.0zM85.2 202.8h1.0v1.0h-1.0zM198.8 202.8h1.0v1.0h-1.0zM158.3 202.7h1.0v1.0h-1.0zM128.8 202.8h1.0v1.0h-1.0zM205.6 198.6h1.0v1.0h-1.0zM137.0 197.7h1.0v1.0h-1.0zM129.2 197.9h1.0v1.0h-1.0zM171.2 202.4h1.0v1.0h-1.0zM63.9 197.4h1.0v1.0h-1.0zM92.6 202.2h1.0v1.0h-1.0zM84.8 198.5h1.0v1.0h-1.0zM185.7 202.4h1.0v1.0h-1.0zM51.2 198.5h1.0v1.0h-1.0zM108.5 198.8h1.0v1.0h-1.0zM125.1 202.9h1.0v1.0h-1.0zM95.3 202.8h1.0v1.0h-1.0zM72.6 202.1h1.0v1.0h-1.0zM55.5 203.0h1.0v1.0h-1.0zM72.4 202.4h1.0v1.0h-1.0zM74.2 203.0h1.0v1.0h-1.0zM135.7 197.5h1.0v1.0h-1.0zM166.4 198.1h1.0v1.0h-1.0zM85.2 202.6h1.0v1.0h-1.0zM164.3 197.7h1.0v1.0h-1.0zM123.3 197.6h1.0v1.0h-1.0zM146.0 198.6h1.0v1.0h-1.0zM97.7 198.3h1.0v1.0h-1.0zM78.7 198.6h1.0v1.0h-1.0zM128.0 202.4h1.0v1.0h-1.0zM156.5 203.3h1.0v1.0h-1.0zM193.0 202.4h1.0v1.0h-1.0zM151.2 198.6h1.0v1.0h-1.0zM74.6 198.6h1.0v1.0h-1.0zM64.2 202.3h1.0v1.0h-1.0zM181.5 198.9h1.0v1.0h-1.0zM134.9 202.1h1.0v1.0h-1.0zM72.1 202.9h1.0v1.0h-1.0zM144.2 202.4h1.0v1.0h-1.0zM64.5 202.2h1.0v1.0h-1.0zM48.7 202.3h1.0v1.0h-1.0zM175.0 197.8h1.0v1.0h-1.0zM131.5 198.3h1.0v1.0h-1.0zM127.0 198.1h1.0v1.0h-1.0zM187.1 198.6h1.0v1.0h-1.0zM63.0 198.3h1.0v1.0h-1.0zM104.8 202.6h1.0v1.0h-1.0zM209.4 198.4h1.0v1.0h-1.0zM65.5 202.4h1.0v1.0h-1.0zM164.4 197.9h1.0v1.0h-1.0zM211.1 197.5h1.0v1.0h-1.0zM122.8 202.7h1.0v1.0h-1.0zM122.4 198.5h1.0v1.0h-1.0zM141.6 198.6h1.0v1.0h-1.0zM175.8 198.0h1.0v1.0h-1.0zM125.0 198.8h1.0v1.0h-1.0zM104.4 202.1h1.0v1.0h-1.0zM164.3 198.8h1.0v1.0h-1.0zM62.5 197.8h1.0v1.0h-1.0zM54.3 196.9h1.0v1.0h-1.0zM193.7 202.8h1.0v1.0h-1.0zM157.1 202.3h1.0v1.0h-1.0zM154.1 198.1h1.0v1.0h-1.0zM84.5 198.3h1.0v1.0h-1.0zM145.7 198.5h1.0v1.0h-1.0zM99.1 202.3h1.0v1.0h-1.0zM118.1 202.9h1.0v1.0h-1.0zM51.2 202.5h1.0v1.0h-1.0zM64.5 197.5h1.0v1.0h-1.0zM96.3 202.1h1.0v1.0h-1.0zM206.9 198.4h1.0v1.0h-1.0zM69.1 203.2h1.0v1.0h-1.0zM54.6 202.6h1.0v1.0h-1.0zM164.7 198.1h1.0v1.0h-1.0zM52.2 197.8h1.0v1.0h-1.0zM60.6 197.2h1.0v1.0h-1.0zM137.9 202.1h1.0v1.0h-1.0zM151.2 202.7h1.0v1.0h-1.0zM202.9 196.9h1.0v1.0h-1.0zM203.6 197.9h1.0v1.0h-1.0zM54.8 202.6h1.0v1.0h-1.0zM208.4 202.1h1.0v1.0h-1.0zM55.9 197.8h1.0v1.0h-1.0zM182.8 198.4h1.0v1.0h-1.0zM105.0 198.2h1.0v1.0h-1.0zM100.4 198.2h1.0v1.0h-1.0zM147.9 198.1h1.0v1.0h-1.0zM196.1 202.6h1.0v1.0h-1.0zM187.7 198.6h1.0v1.0h-1.0zM115.8 202.6h1.0v1.0h-1.0zM60.7 202.3h1.0v1.0h-1.0zM177.5 198.6h1.0v1.0h-1.0zM136.7 197.6h1.0v1.0h-1.0zM114.2 198.7h1.0v1.0h-1.0zM58.0 198.7h1.0v1.0h-1.0zM51.4 198.6h1.0v1.0h-1.0zM144.8 202.5h1.0v1.0h-1.0zM163.3 202.9h1.0v1.0h-1.0zM151.2 198.3h1.0v1.0h-1.0zM107.5 198.6h1.0v1.0h-1.0zM118.6 198.1h1.0v1.0h-1.0zM207.0 198.3h1.0v1.0h-1.0zM99.4 198.2h1.0v1.0h-1.0zM161.9 196.7h1.0v1.0h-1.0zM67.0 202.2h1.0v1.0h-1.0zM209.8 202.1h1.0v1.0h-1.0zM80.2 202.2h1.0v1.0h-1.0zM161.6 198.9h1.0v1.0h-1.0zM177.6 202.3h1.0v1.0h-1.0zM104.7 202.5h1.0v1.0h-1.0zM135.4 198.9h1.0v1.0h-1.0zM165.5 202.4h1.0v1.0h-1.0zM144.9 202.6h1.0v1.0h-1.0zM174.5 198.9h1.0v1.0h-1.0zM175.5 202.6h1.0v1.0h-1.0zM141.6 202.4h1.0v1.0h-1.0zM104.2 198.0h1.0v1.0h-1.0zM175.5 198.7h1.0v1.0h-1.0zM175.5 202.3h1.0v1.0h-1.0zM101.2 198.2h1.0v1.0h-1.0zM53.3 198.1h1.0v1.0h-1.0zM205.1 198.5h1.0v1.0h-1.0zM123.8 202.8h1.0v1.0h-1.0zM161.8 202.2h1.0v1.0h-1.0zM84.9 198.2h1.0v1.0h-1.0zM177.0 197.9h1.0v1.0h-1.0zM194.7 198.9h1.0v1.0h-1.0zM141.4 197.4h1.0v1.0h-1.0zM101.3 198.5h1.0v1.0h-1.0zM120.9 202.5h1.0v1.0h-1.0zM83.0 198.8h1.0v1.0h-1.0zM176.7 202.4h1.0v1.0h-1.0zM134.9 202.3h1.0v1.0h-1.0zM101.8 197.9h1.0v1.0h-1.0zM206.3 202.2h1.0v1.0h-1.0zM103.2 197.5h1.0v1.0h-1.0zM141.9 198.3h1.0v1.0h-1.0zM96.8 198.0h1.0v1.0h-1.0zM124.6 198.3h1.0v1.0h-1.0zM133.7 202.8h1.0v1.0h-1.0zM97.1 197.7h1.0v1.0h-1.0zM125.9 202.1h1.0v1.0h-1.0zM187.4 198.6h1.0v1.0h-1.0zM131.3 202.2h1.0v1.0h-1.0zM97.1 202.1h1.0v1.0h-1.0zM159.0 197.9h1.0v1.0h-1.0zM74.2 198.7h1.0v1.0h-1.0zM98.4 198.1h1.0v1.0h-1.0zM194.3 198.7h1.0v1.0h-1.0zM124.1 198.2h1.0v1.0h-1.0zM161.7 202.3h1.0v1.0h-1.0zM94.5 202.4h1.0v1.0h-1.0zM160.9 197.2h1.0v1.0h-1.0zM176.1 202.6h1.0v1.0h-1.0zM67.8 202.6h1.0v1.0h-1.0zM128.4 202.4h1.0v1.0h-1.0zM50.9 202.3h1.0v1.0h-1.0zM194.0 197.2h1.0v1.0h-1.0zM148.4 202.4h1.0v1.0h-1.0zM211.5 198.5h1.0v1.0h-1.0zM205.7 202.3h1.0v1.0h-1.0zM90.2 202.6h1.0v1.0h-1.0zM203.9 198.4h1.0v1.0h-1.0zM161.0 202.2h1.0v1.0h-1.0zM183.8 202.9h1.0v1.0h-1.0zM91.1 198.1h1.0v1.0h-1.0zM189.2 198.2h1.0v1.0h-1.0zM192.3 197.6h1.0v1.0h-1.0zM180.9 202.2h1.0v1.0h-1.0zM105.8 198.8h1.0v1.0h-1.0zM177.3 197.3h1.0v1.0h-1.0zM189.5 202.5h1.0v1.0h-1.0zM166.5 198.5h1.0v1.0h-1.0zM169.1 198.8h1.0v1.0h-1.0zM106.1 197.7h1.0v1.0h-1.0zM129.9 198.8h1.0v1.0h-1.0zM79.2 202.8h1.0v1.0h-1.0zM134.2 198.6h1.0v1.0h-1.0zM112.4 198.3h1.0v1.0h-1.0zM97.9 203.1h1.0v1.0h-1.0zM203.5 202.5h1.0v1.0h-1.0zM206.3 202.4h1.0v1.0h-1.0zM154.7 202.3h1.0v1.0h-1.0zM201.8 202.8h1.0v1.0h-1.0zM212.0 202.4h1.0v1.0h-1.0zM188.2 203.1h1.0v1.0h-1.0zM105.3 202.4h1.0v1.0h-1.0zM118.6 198.2h1.0v1.0h-1.0zM151.9 197.5h1.0v1.0h-1.0zM90.3 202.5h1.0v1.0h-1.0zM182.4 197.7h1.0v1.0h-1.0zM178.2 202.2h1.0v1.0h-1.0zM189.7 198.7h1.0v1.0h-1.0zM135.2 202.3h1.0v1.0h-1.0zM56.9 202.6h1.0v1.0h-1.0zM189.0 198.8h1.0v1.0h-1.0zM180.2 202.4h1.0v1.0h-1.0zM167.4 198.5h1.0v1.0h-1.0zM184.4 197.6h1.0v1.0h-1.0zM160.3 198.3h1.0v1.0h-1.0zM80.2 202.3h1.0v1.0h-1.0zM138.3 198.7h1.0v1.0h-1.0zM132.5 198.1h1.0v1.0h-1.0zM121.4 198.2h1.0v1.0h-1.0zM54.4 202.4h1.0v1.0h-1.0zM97.0 202.6h1.0v1.0h-1.0zM104.5 202.3h1.0v1.0h-1.0zM202.6 202.2h1.0v1.0h-1.0zM98.6 198.6h1.0v1.0h-1.0zM154.8 198.8h1.0v1.0h-1.0zM87.9 203.1h1.0v1.0h-1.0zM63.6 197.4h1.0v1.0h-1.0zM78.8 202.5h1.0v1.0h-1.0zM156.0 202.7h1.0v1.0h-1.0zM70.9 202.3h1.0v1.0h-1.0zM158.9 197.0h1.0v1.0h-1.0zM111.4 198.8h1.0v1.0h-1.0zM174.7 198.4h1.0v1.0h-1.0zM187.8 198.3h1.0v1.0h-1.0zM144.2 198.7h1.0v1.0h-1.0zM106.9 198.7h1.0v1.0h-1.0zM144.5 203.3h1.0v1.0h-1.0zM72.5 202.2h1.0v1.0h-1.0zM112.5 198.5h1.0v1.0h-1.0zM127.4 198.1h1.0v1.0h-1.0zM177.7 202.8h1.0v1.0h-1.0zM145.5 198.0h1.0v1.0h-1.0zM183.6 202.5h1.0v1.0h-1.0zM197.0 202.6h1.0v1.0h-1.0zM143.0 198.3h1.0v1.0h-1.0zM124.0 202.1h1.0v1.0h-1.0zM83.4 197.5h1.0v1.0h-1.0zM133.6 202.1h1.0v1.0h-1.0zM211.7 202.4h1.0v1.0h-1.0zM142.4 198.1h1.0v1.0h-1.0zM202.1 202.6h1.0v1.0h-1.0zM129.8 202.2h1.0v1.0h-1.0zM63.9 197.8h1.0v1.0h-1.0zM57.4 197.2h1.0v1.0h-1.0zM131.1 198.9h1.0v1.0h-1.0zM98.3 198.3h1.0v1.0h-1.0zM93.4 198.0h1.0v1.0h-1.0zM128.9 198.0h1.0v1.0h-1.0zM159.0 198.0h1.0v1.0h-1.0zM85.7 202.9h1.0v1.0h-1.0zM107.0 202.1h1.0v1.0h-1.0zM83.9 202.2h1.0v1.0h-1.0zM149.3 202.9h1.0v1.0h-1.0zM117.8 202.2h1.0v1.0h-1.0zM154.4 202.8h1.0v1.0h-1.0zM183.2 198.4h1.0v1.0h-1.0zM80.6 202.6h1.0v1.0h-1.0zM87.1 202.3h1.0v1.0h-1.0zM97.0 202.8h1.0v1.0h-1.0zM204.7 197.9h1.0v1.0h-1.0zM179.9 202.2h1.0v1.0h-1.0zM67.9 197.8h1.0v1.0h-1.0zM59.2 198.1h1.0v1.0h-1.0zM189.8 198.2h1.0v1.0h-1.0zM97.8 197.3h1.0v1.0h-1.0zM52.9 197.0h1.0v1.0h-1.0zM83.2 202.3h1.0v1.0h-1.0zM147.7 202.3h1.0v1.0h-1.0zM137.1 198.2h1.0v1.0h-1.0zM54.1 198.9h1.0v1.0h-1.0zM110.1 203.0h1.0v1.0h-1.0zM66.5 197.9h1.0v1.0h-1.0zM76.1 202.4h1.0v1.0h-1.0zM130.4 202.7h1.0v1.0h-1.0zM133.7 197.9h1.0v1.0h-1.0zM74.0 202.3h1.0v1.0h-1.0zM131.8 197.9h1.0v1.0h-1.0zM165.3 198.6h1.0v1.0h-1.0zM153.2 198.7h1.0v1.0h-1.0zM135.1 203.0h1.0v1.0h-1.0zM114.4 198.0h1.0v1.0h-1.0zM173.1 202.1h1.0v1.0h-1.0zM118.0 198.7h1.0v1.0h-1.0zM133.1 202.2h1.0v1.0h-1.0zM67.9 197.7h1.0v1.0h-1.0zM109.4 198.9h1.0v1.0h-1.0zM201.3 202.4h1.0v1.0h-1.0zM99.8 198.8h1.0v1.0h-1.0zM196.7 202.3h1.0v1.0h-1.0zM178.3 202.2h1.0v1.0h-1.0zM84.8 197.2h1.0v1.0h-1.0zM85.9 198.8h1.0v1.0h-1.0zM190.7 202.4h1.0v1.0h-1.0zM204.8 198.7h1.0v1.0h-1.0zM168.8 203.1h1.0v1.0h-1.0zM115.6 197.3h1.0v1.0h-1.0zM84.4 196.9h1.0v1.0h-1.0zM167.3 198.3h1.0v1.0h-1.0zM96.9 202.3h1.0v1.0h-1.0zM88.3 198.2h1.0v1.0h-1.0zM181.0 198.3h1.0v1.0h-1.0zM178.9 202.8h1.0v1.0h-1.0zM51.1 202.2h1.0v1.0h-1.0zM143.4 203.1h1.0v1.0h-1.0zM160.3 202.6h1.0v1.0h-1.0zM183.2 197.1h1.0v1.0h-1.0zM170.0 198.9h1.0v1.0h-1.0zM141.7 197.8h1.0v1.0h-1.0zM77.1 197.4h1.0v1.0h-1.0zM197.1 197.9h1.0v1.0h-1.0zM122.1 202.2h1.0v1.0h-1.0zM207.4 198.5h1.0v1.0h-1.0zM65.8 202.4h1.0v1.0h-1.0zM139.2 197.8h1.0v1.0h-1.0zM132.4 202.8h1.0v1.0h-1.0zM144.1 202.6h1.0v1.0h-1.0zM64.5 198.7h1.0v1.0h-1.0zM136.6 198.9h1.0v1.0h-1.0zM77.2 198.3h1.0v1.0h-1.0zM139.6 197.1h1.0v1.0h-1.0zM140.8 198.5h1.0v1.0h-1.0zM209.3 202.1h1.0v1.0h-1.0zM166.5 202.2h1.0v1.0h-1.0zM83.9 198.7h1.0v1.0h-1.0zM79.2 198.3h1.0v1.0h-1.0zM166.0 197.8h1.0v1.0h-1.0zM199.6 202.6h1.0v1.0h-1.0zM204.0 202.6h1.0v1.0h-1.0zM138.0 198.3h1.0v1.0h-1.0zM62.0 198.5h1.0v1.0h-1.0zM175.4 202.6h1.0v1.0h-1.0zM99.6 202.7h1.0v1.0h-1.0zM85.1 198.5h1.0v1.0h-1.0zM192.9 196.7h1.0v1.0h-1.0zM200.3 198.6h1.0v1.0h-1.0zM84.5 202.6h1.0v1.0h-1.0zM84.0 202.1h1.0v1.0h-1.0zM195.8 202.6h1.0v1.0h-1.0zM77.1 198.1h1.0v1.0h-1.0zM59.4 198.8h1.0v1.0h-1.0zM67.0 198.8h1.0v1.0h-1.0zM178.5 196.8h1.0v1.0h-1.0zM135.5 197.4h1.0v1.0h-1.0zM61.4 198.3h1.0v1.0h-1.0zM86.1 198.8h1.0v1.0h-1.0zM201.0 198.3h1.0v1.0h-1.0zM154.3 197.2h1.0v1.0h-1.0zM131.1 202.5h1.0v1.0h-1.0zM166.7 202.3h1.0v1.0h-1.0zM59.5 202.1h1.0v1.0h-1.0zM205.5 197.4h1.0v1.0h-1.0zM98.9 202.8h1.0v1.0h-1.0zM175.5 202.1h1.0v1.0h-1.0zM101.8 198.6h1.0v1.0h-1.0zM133.2 198.3h1.0v1.0h-1.0zM69.7 198.4h1.0v1.0h-1.0zM157.0 197.5h1.0v1.0h-1.0zM122.8 197.8h1.0v1.0h-1.0zM154.9 202.2h1.0v1.0h-1.0zM82.2 198.3h1.0v1.0h-1.0zM202.5 197.7h1.0v1.0h-1.0zM95.0 202.6h1.0v1.0h-1.0zM49.8 197.3h1.0v1.0h-1.0zM94.2 202.3h1.0v1.0h-1.0zM171.7 198.4h1.0v1.0h-1.0zM159.9 197.4h1.0v1.0h-1.0zM68.9 198.3h1.0v1.0h-1.0zM154.8 202.6h1.0v1.0h-1.0zM161.1 202.8h1.0v1.0h-1.0zM55.5 198.7h1.0v1.0h-1.0zM136.7 198.5h1.0v1.0h-1.0zM104.4 198.4h1.0v1.0h-1.0zM154.9 202.5h1.0v1.0h-1.0zM159.3 202.4h1.0v1.0h-1.0zM174.0 198.7h1.0v1.0h-1.0zM193.3 197.9h1.0v1.0h-1.0zM185.4 202.3h1.0v1.0h-1.0zM104.2 198.6h1.0v1.0h-1.0zM192.5 198.2h1.0v1.0h-1.0zM134.7 202.3h1.0v1.0h-1.0zM52.0 198.0h1.0v1.0h-1.0zM153.8 202.4h1.0v1.0h-1.0zM166.7 198.7h1.0v1.0h-1.0zM79.1 202.1h1.0v1.0h-1.0zM153.5 198.5h1.0v1.0h-1.0zM98.7 198.0h1.0v1.0h-1.0zM117.8 198.8h1.0v1.0h-1.0zM142.6 202.4h1.0v1.0h-1.0zM181.2 202.5h1.0v1.0h-1.0zM49.1 197.4h1.0v1.0h-1.0zM92.4 202.4h1.0v1.0h-1.0zM129.3 198.8h1.0v1.0h-1.0zM166.5 198.3h1.0v1.0h-1.0zM76.4 202.3h1.0v1.0h-1.0zM167.2 202.5h1.0v1.0h-1.0zM117.9 202.5h1.0v1.0h-1.0zM128.6 198.2h1.0v1.0h-1.0zM172.8 202.5h1.0v1.0h-1.0zM177.8 198.0h1.0v1.0h-1.0zM54.6 198.6h1.0v1.0h-1.0zM48.2 202.2h1.0v1.0h-1.0zM189.8 198.4h1.0v1.0h-1.0zM160.2 202.2h1.0v1.0h-1.0zM82.7 202.2h1.0v1.0h-1.0zM111.3 198.7h1.0v1.0h-1.0zM164.3 202.1h1.0v1.0h-1.0zM206.5 198.1h1.0v1.0h-1.0zM188.9 196.9h1.0v1.0h-1.0zM204.6 202.7h1.0v1.0h-1.0zM77.8 198.4h1.0v1.0h-1.0zM130.1 202.5h1.0v1.0h-1.0zM207.2 198.6h1.0v1.0h-1.0zM76.2 197.9h1.0v1.0h-1.0zM113.1 202.2h1.0v1.0h-1.0zM85.2 202.7h1.0v1.0h-1.0zM202.0 202.4h1.0v1.0h-1.0zM87.2 198.7h1.0v1.0h-1.0zM200.5 198.2h1.0v1.0h-1.0zM63.5 202.2h1.0v1.0h-1.0zM48.7 197.6h1.0v1.0h-1.0zM127.9 202.5h1.0v1.0h-1.0zM104.9 202.4h1.0v1.0h-1.0zM121.6 197.8h1.0v1.0h-1.0zM53.7 198.8h1.0v1.0h-1.0zM88.7 198.4h1.0v1.0h-1.0zM107.5 202.4h1.0v1.0h-1.0zM85.6 202.5h1.0v1.0h-1.0zM166.8 202.3h1.0v1.0h-1.0zM97.4 198.7h1.0v1.0h-1.0zM179.9 202.6h1.0v1.0h-1.0zM72.0 202.2h1.0v1.0h-1.0zM194.7 202.7h1.0v1.0h-1.0zM191.6 198.7h1.0v1.0h-1.0zM106.4 202.7h1.0v1.0h-1.0zM88.8 198.6h1.0v1.0h-1.0zM85.0 198.6h1.0v1.0h-1.0zM160.8 198.6h1.0v1.0h-1.0zM133.0 197.1h1.0v1.0h-1.0zM101.1 202.2h1.0v1.0h-1.0zM69.7 198.1h1.0v1.0h-1.0zM162.6 198.3h1.0v1.0h-1.0zM164.8 198.6h1.0v1.0h-1.0zM93.5 202.3h1.0v1.0h-1.0zM121.1 198.3h1.0v1.0h-1.0zM60.9 202.5h1.0v1.0h-1.0zM68.0 198.4h1.0v1.0h-1.0zM77.3 197.7h1.0v1.0h-1.0zM187.3 198.5h1.0v1.0h-1.0zM179.7 202.4h1.0v1.0h-1.0zM80.3 202.2h1.0v1.0h-1.0zM170.2 198.9h1.0v1.0h-1.0zM150.6 198.4h1.0v1.0h-1.0zM202.7 202.2h1.0v1.0h-1.0zM129.8 198.2h1.0v1.0h-1.0zM178.1 198.1h1.0v1.0h-1.0zM111.9 202.6h1.0v1.0h-1.0zM104.5 203.1h1.0v1.0h-1.0zM209.2 198.5h1.0v1.0h-1.0zM174.8 202.3h1.0v1.0h-1.0zM198.8 202.6h1.0v1.0h-1.0zM97.4 202.5h1.0v1.0h-1.0zM141.6 198.3h1.0v1.0h-1.0zM48.7 202.7h1.0v1.0h-1.0zM74.4 198.0h1.0v1.0h-1.0zM54.4 202.4h1.0v1.0h-1.0zM129.3 198.8h1.0v1.0h-1.0zM160.0 198.0h1.0v1.0h-1.0zM79.3 202.2h1.0v1.0h-1.0zM200.8 202.1h1.0v1.0h-1.0zM162.0 202.2h1.0v1.0h-1.0zM104.5 198.5h1.0v1.0h-1.0zM144.6 202.7h1.0v1.0h-1.0zM133.0 202.9h1.0v1.0h-1.0zM48.8 198.4h1.0v1.0h-1.0z" fill="#cc1420" opacity="1.0"/>
<path d="M196.2 200.5h1.0v1.0h-1.0zM161.2 200.6h1.0v1.0h-1.0zM200.8 199.6h1.0v1.0h-1.0zM93.6 199.8h1.0v1.0h-1.0zM190.6 201.5h1.0v1.0h-1.0zM78.6 200.0h1.0v1.0h-1.0zM87.7 200.7h1.0v1.0h-1.0zM164.1 200.0h1.0v1.0h-1.0zM183.5 200.4h1.0v1.0h-1.0zM129.0 200.2h1.0v1.0h-1.0zM122.2 199.5h1.0v1.0h-1.0zM53.5 201.5h1.0v1.0h-1.0zM94.6 200.2h1.0v1.0h-1.0zM208.5 200.1h1.0v1.0h-1.0zM62.3 201.3h1.0v1.0h-1.0zM112.9 200.8h1.0v1.0h-1.0zM96.2 199.7h1.0v1.0h-1.0zM83.1 201.1h1.0v1.0h-1.0zM136.0 200.9h1.0v1.0h-1.0zM167.4 200.7h1.0v1.0h-1.0zM159.2 199.8h1.0v1.0h-1.0zM77.4 200.4h1.0v1.0h-1.0zM185.8 199.9h1.0v1.0h-1.0zM175.5 201.2h1.0v1.0h-1.0zM168.3 199.6h1.0v1.0h-1.0zM68.3 201.2h1.0v1.0h-1.0zM83.2 199.5h1.0v1.0h-1.0zM143.3 200.9h1.0v1.0h-1.0zM182.8 201.0h1.0v1.0h-1.0zM145.5 200.2h1.0v1.0h-1.0zM199.9 200.0h1.0v1.0h-1.0zM121.7 199.6h1.0v1.0h-1.0zM142.0 200.9h1.0v1.0h-1.0zM132.1 200.2h1.0v1.0h-1.0zM54.4 200.8h1.0v1.0h-1.0zM54.0 201.1h1.0v1.0h-1.0zM148.9 201.3h1.0v1.0h-1.0zM156.0 201.1h1.0v1.0h-1.0zM93.4 201.5h1.0v1.0h-1.0zM143.7 200.6h1.0v1.0h-1.0zM110.4 201.3h1.0v1.0h-1.0zM151.3 200.6h1.0v1.0h-1.0zM148.1 201.1h1.0v1.0h-1.0zM210.2 199.8h1.0v1.0h-1.0zM205.6 200.0h1.0v1.0h-1.0zM118.7 201.0h1.0v1.0h-1.0zM181.1 200.2h1.0v1.0h-1.0zM97.8 200.6h1.0v1.0h-1.0zM126.2 200.3h1.0v1.0h-1.0zM96.5 199.4h1.0v1.0h-1.0zM200.8 200.2h1.0v1.0h-1.0zM197.9 200.8h1.0v1.0h-1.0zM65.1 199.8h1.0v1.0h-1.0zM108.7 199.8h1.0v1.0h-1.0zM64.3 201.1h1.0v1.0h-1.0zM128.2 199.7h1.0v1.0h-1.0zM132.1 200.9h1.0v1.0h-1.0zM185.0 200.4h1.0v1.0h-1.0zM82.0 199.5h1.0v1.0h-1.0zM144.3 200.6h1.0v1.0h-1.0zM211.1 199.9h1.0v1.0h-1.0zM55.9 200.6h1.0v1.0h-1.0zM161.6 199.9h1.0v1.0h-1.0zM92.4 199.8h1.0v1.0h-1.0zM186.4 200.7h1.0v1.0h-1.0zM92.3 200.2h1.0v1.0h-1.0zM89.1 199.5h1.0v1.0h-1.0zM184.2 201.1h1.0v1.0h-1.0zM99.0 200.2h1.0v1.0h-1.0zM200.5 200.0h1.0v1.0h-1.0zM162.8 201.4h1.0v1.0h-1.0zM97.2 201.1h1.0v1.0h-1.0zM99.3 201.6h1.0v1.0h-1.0zM70.8 199.8h1.0v1.0h-1.0zM161.9 200.2h1.0v1.0h-1.0zM122.3 201.3h1.0v1.0h-1.0zM73.3 199.9h1.0v1.0h-1.0zM148.7 199.9h1.0v1.0h-1.0zM121.6 199.9h1.0v1.0h-1.0zM151.8 200.8h1.0v1.0h-1.0zM55.0 201.1h1.0v1.0h-1.0zM201.7 200.1h1.0v1.0h-1.0zM176.8 200.1h1.0v1.0h-1.0zM195.4 201.5h1.0v1.0h-1.0zM163.6 200.3h1.0v1.0h-1.0zM104.0 199.8h1.0v1.0h-1.0zM192.5 201.5h1.0v1.0h-1.0zM163.8 201.4h1.0v1.0h-1.0zM102.2 199.6h1.0v1.0h-1.0zM126.1 201.6h1.0v1.0h-1.0zM145.2 201.2h1.0v1.0h-1.0zM154.2 200.3h1.0v1.0h-1.0zM127.5 199.9h1.0v1.0h-1.0zM111.4 201.5h1.0v1.0h-1.0zM199.0 200.7h1.0v1.0h-1.0zM163.6 200.1h1.0v1.0h-1.0zM153.3 201.4h1.0v1.0h-1.0zM59.6 201.5h1.0v1.0h-1.0zM75.5 199.5h1.0v1.0h-1.0zM50.8 200.3h1.0v1.0h-1.0zM168.9 199.9h1.0v1.0h-1.0zM202.6 201.1h1.0v1.0h-1.0zM69.9 201.1h1.0v1.0h-1.0zM82.0 201.0h1.0v1.0h-1.0zM55.2 201.2h1.0v1.0h-1.0zM104.6 200.9h1.0v1.0h-1.0zM58.5 200.5h1.0v1.0h-1.0zM110.8 199.7h1.0v1.0h-1.0zM116.7 201.5h1.0v1.0h-1.0zM52.9 201.5h1.0v1.0h-1.0zM103.3 201.2h1.0v1.0h-1.0zM181.3 200.7h1.0v1.0h-1.0zM148.8 201.5h1.0v1.0h-1.0zM120.4 201.2h1.0v1.0h-1.0zM126.7 200.1h1.0v1.0h-1.0zM211.4 199.7h1.0v1.0h-1.0zM204.1 201.0h1.0v1.0h-1.0zM76.0 201.4h1.0v1.0h-1.0zM53.5 201.0h1.0v1.0h-1.0zM205.8 201.1h1.0v1.0h-1.0zM198.5 200.9h1.0v1.0h-1.0zM167.4 201.4h1.0v1.0h-1.0zM200.2 200.2h1.0v1.0h-1.0zM75.7 200.2h1.0v1.0h-1.0zM64.2 201.4h1.0v1.0h-1.0zM117.9 201.5h1.0v1.0h-1.0zM65.0 200.4h1.0v1.0h-1.0zM146.6 200.2h1.0v1.0h-1.0zM164.1 200.0h1.0v1.0h-1.0zM51.9 201.4h1.0v1.0h-1.0zM135.7 200.1h1.0v1.0h-1.0zM176.7 199.6h1.0v1.0h-1.0zM97.1 200.5h1.0v1.0h-1.0zM188.4 200.7h1.0v1.0h-1.0zM123.1 200.8h1.0v1.0h-1.0zM200.8 200.2h1.0v1.0h-1.0zM77.8 200.6h1.0v1.0h-1.0zM69.2 199.9h1.0v1.0h-1.0zM155.7 200.4h1.0v1.0h-1.0zM76.3 199.4h1.0v1.0h-1.0zM207.4 201.3h1.0v1.0h-1.0zM151.9 200.6h1.0v1.0h-1.0zM125.9 201.5h1.0v1.0h-1.0zM210.5 201.5h1.0v1.0h-1.0zM153.9 200.8h1.0v1.0h-1.0zM199.8 199.9h1.0v1.0h-1.0zM128.5 200.7h1.0v1.0h-1.0zM100.5 200.7h1.0v1.0h-1.0zM143.2 201.4h1.0v1.0h-1.0zM123.3 200.3h1.0v1.0h-1.0zM137.7 199.4h1.0v1.0h-1.0zM51.8 199.5h1.0v1.0h-1.0zM192.0 201.3h1.0v1.0h-1.0zM171.9 200.0h1.0v1.0h-1.0zM148.4 199.7h1.0v1.0h-1.0zM135.9 200.6h1.0v1.0h-1.0zM158.8 199.7h1.0v1.0h-1.0zM199.9 200.7h1.0v1.0h-1.0zM211.8 199.6h1.0v1.0h-1.0zM166.9 201.2h1.0v1.0h-1.0zM210.9 199.9h1.0v1.0h-1.0zM100.9 201.4h1.0v1.0h-1.0zM162.4 199.6h1.0v1.0h-1.0zM147.0 200.1h1.0v1.0h-1.0zM178.9 199.6h1.0v1.0h-1.0zM166.2 200.3h1.0v1.0h-1.0zM73.1 200.0h1.0v1.0h-1.0zM178.9 201.5h1.0v1.0h-1.0zM206.3 199.5h1.0v1.0h-1.0zM192.6 200.8h1.0v1.0h-1.0zM111.3 199.5h1.0v1.0h-1.0zM165.3 200.6h1.0v1.0h-1.0zM82.6 200.6h1.0v1.0h-1.0zM60.2 201.5h1.0v1.0h-1.0zM186.7 201.0h1.0v1.0h-1.0zM210.8 199.8h1.0v1.0h-1.0zM126.9 201.5h1.0v1.0h-1.0zM196.0 200.8h1.0v1.0h-1.0zM65.3 200.5h1.0v1.0h-1.0zM138.2 200.6h1.0v1.0h-1.0zM94.4 199.9h1.0v1.0h-1.0zM96.8 199.9h1.0v1.0h-1.0zM205.8 199.8h1.0v1.0h-1.0zM81.1 201.6h1.0v1.0h-1.0zM68.2 199.5h1.0v1.0h-1.0zM111.7 200.6h1.0v1.0h-1.0zM155.5 201.3h1.0v1.0h-1.0zM198.2 199.4h1.0v1.0h-1.0zM179.2 199.9h1.0v1.0h-1.0zM147.6 201.2h1.0v1.0h-1.0zM67.0 200.6h1.0v1.0h-1.0zM200.6 200.3h1.0v1.0h-1.0zM152.6 201.1h1.0v1.0h-1.0zM107.1 199.6h1.0v1.0h-1.0zM161.4 199.4h1.0v1.0h-1.0zM200.1 200.5h1.0v1.0h-1.0zM138.4 199.7h1.0v1.0h-1.0zM135.5 200.4h1.0v1.0h-1.0zM154.7 199.6h1.0v1.0h-1.0zM94.4 200.6h1.0v1.0h-1.0zM174.5 200.9h1.0v1.0h-1.0zM51.4 201.5h1.0v1.0h-1.0zM112.2 200.8h1.0v1.0h-1.0zM209.4 201.2h1.0v1.0h-1.0zM106.3 200.0h1.0v1.0h-1.0zM130.8 200.5h1.0v1.0h-1.0zM69.2 200.7h1.0v1.0h-1.0zM186.0 199.8h1.0v1.0h-1.0zM148.8 200.6h1.0v1.0h-1.0zM82.1 201.3h1.0v1.0h-1.0zM69.7 201.1h1.0v1.0h-1.0zM59.1 201.4h1.0v1.0h-1.0zM91.9 200.9h1.0v1.0h-1.0zM156.6 200.9h1.0v1.0h-1.0zM174.3 200.0h1.0v1.0h-1.0zM119.7 200.7h1.0v1.0h-1.0zM164.5 200.3h1.0v1.0h-1.0zM105.5 200.8h1.0v1.0h-1.0zM62.2 200.6h1.0v1.0h-1.0zM113.1 200.9h1.0v1.0h-1.0zM101.1 199.5h1.0v1.0h-1.0zM162.0 200.1h1.0v1.0h-1.0zM58.7 199.5h1.0v1.0h-1.0zM203.7 200.5h1.0v1.0h-1.0zM70.0 199.5h1.0v1.0h-1.0zM139.1 200.4h1.0v1.0h-1.0zM54.6 200.6h1.0v1.0h-1.0zM130.8 200.7h1.0v1.0h-1.0zM64.9 199.4h1.0v1.0h-1.0zM149.9 199.4h1.0v1.0h-1.0zM131.0 200.3h1.0v1.0h-1.0zM189.9 200.6h1.0v1.0h-1.0zM71.3 199.7h1.0v1.0h-1.0zM182.4 199.9h1.0v1.0h-1.0zM145.3 200.2h1.0v1.0h-1.0zM97.4 200.2h1.0v1.0h-1.0zM149.2 200.2h1.0v1.0h-1.0zM102.3 200.2h1.0v1.0h-1.0zM187.1 201.5h1.0v1.0h-1.0zM172.6 201.1h1.0v1.0h-1.0zM109.8 201.0h1.0v1.0h-1.0zM158.0 201.6h1.0v1.0h-1.0zM86.7 199.4h1.0v1.0h-1.0zM131.5 201.0h1.0v1.0h-1.0zM99.4 201.5h1.0v1.0h-1.0zM79.7 200.8h1.0v1.0h-1.0zM187.6 201.6h1.0v1.0h-1.0zM110.7 201.0h1.0v1.0h-1.0zM70.6 200.5h1.0v1.0h-1.0zM69.3 201.1h1.0v1.0h-1.0zM135.2 199.5h1.0v1.0h-1.0zM207.9 200.5h1.0v1.0h-1.0zM187.9 201.4h1.0v1.0h-1.0zM143.9 200.4h1.0v1.0h-1.0zM159.2 200.5h1.0v1.0h-1.0zM76.9 199.4h1.0v1.0h-1.0zM173.1 201.4h1.0v1.0h-1.0zM164.9 200.6h1.0v1.0h-1.0zM185.4 200.1h1.0v1.0h-1.0zM93.3 201.1h1.0v1.0h-1.0zM192.9 200.6h1.0v1.0h-1.0zM134.2 200.8h1.0v1.0h-1.0zM111.2 200.3h1.0v1.0h-1.0zM58.4 200.7h1.0v1.0h-1.0zM179.7 200.2h1.0v1.0h-1.0zM162.8 201.0h1.0v1.0h-1.0zM160.4 199.8h1.0v1.0h-1.0zM120.5 200.7h1.0v1.0h-1.0zM192.6 199.4h1.0v1.0h-1.0zM64.0 199.8h1.0v1.0h-1.0zM177.7 199.7h1.0v1.0h-1.0zM135.3 200.1h1.0v1.0h-1.0zM161.4 200.3h1.0v1.0h-1.0zM92.0 200.6h1.0v1.0h-1.0zM194.2 201.3h1.0v1.0h-1.0zM135.2 201.0h1.0v1.0h-1.0zM199.4 201.0h1.0v1.0h-1.0zM148.9 201.1h1.0v1.0h-1.0zM65.7 200.7h1.0v1.0h-1.0zM90.2 200.5h1.0v1.0h-1.0zM61.1 200.0h1.0v1.0h-1.0zM132.3 201.2h1.0v1.0h-1.0zM208.6 201.5h1.0v1.0h-1.0zM149.6 201.2h1.0v1.0h-1.0zM111.4 199.7h1.0v1.0h-1.0zM97.8 200.9h1.0v1.0h-1.0zM139.8 199.6h1.0v1.0h-1.0zM82.8 200.9h1.0v1.0h-1.0zM202.2 200.4h1.0v1.0h-1.0zM132.5 201.4h1.0v1.0h-1.0zM169.2 200.9h1.0v1.0h-1.0zM136.5 201.2h1.0v1.0h-1.0zM100.7 199.5h1.0v1.0h-1.0zM180.7 200.9h1.0v1.0h-1.0zM63.5 201.5h1.0v1.0h-1.0zM123.4 200.4h1.0v1.0h-1.0zM60.0 199.7h1.0v1.0h-1.0zM180.2 201.0h1.0v1.0h-1.0zM141.1 200.6h1.0v1.0h-1.0zM105.8 201.1h1.0v1.0h-1.0zM208.4 199.6h1.0v1.0h-1.0zM90.8 201.1h1.0v1.0h-1.0zM160.8 201.1h1.0v1.0h-1.0zM69.5 200.3h1.0v1.0h-1.0zM124.7 199.5h1.0v1.0h-1.0zM140.6 199.8h1.0v1.0h-1.0zM129.4 201.1h1.0v1.0h-1.0zM62.1 201.5h1.0v1.0h-1.0zM170.3 200.2h1.0v1.0h-1.0zM62.6 200.9h1.0v1.0h-1.0zM118.1 201.6h1.0v1.0h-1.0zM124.6 200.8h1.0v1.0h-1.0zM102.9 199.7h1.0v1.0h-1.0zM114.6 199.9h1.0v1.0h-1.0zM130.4 199.9h1.0v1.0h-1.0zM166.6 201.3h1.0v1.0h-1.0zM158.8 200.0h1.0v1.0h-1.0zM55.9 201.1h1.0v1.0h-1.0zM113.0 201.5h1.0v1.0h-1.0zM66.9 200.8h1.0v1.0h-1.0zM188.5 200.1h1.0v1.0h-1.0zM111.9 200.0h1.0v1.0h-1.0zM49.6 201.5h1.0v1.0h-1.0zM113.1 201.2h1.0v1.0h-1.0zM47.7 201.4h1.0v1.0h-1.0zM127.7 201.2h1.0v1.0h-1.0zM97.3 199.9h1.0v1.0h-1.0zM123.1 200.3h1.0v1.0h-1.0zM101.7 199.8h1.0v1.0h-1.0zM51.8 199.4h1.0v1.0h-1.0zM71.0 199.9h1.0v1.0h-1.0zM184.6 200.9h1.0v1.0h-1.0zM139.6 199.6h1.0v1.0h-1.0zM98.9 201.5h1.0v1.0h-1.0zM194.6 201.4h1.0v1.0h-1.0zM106.4 200.8h1.0v1.0h-1.0zM88.3 200.8h1.0v1.0h-1.0zM135.0 200.7h1.0v1.0h-1.0zM55.8 199.9h1.0v1.0h-1.0zM93.6 200.5h1.0v1.0h-1.0zM98.3 200.2h1.0v1.0h-1.0zM128.9 200.6h1.0v1.0h-1.0zM106.1 200.2h1.0v1.0h-1.0zM141.5 200.8h1.0v1.0h-1.0zM169.1 200.8h1.0v1.0h-1.0zM66.9 200.2h1.0v1.0h-1.0zM152.5 201.0h1.0v1.0h-1.0zM196.6 201.0h1.0v1.0h-1.0zM145.7 200.7h1.0v1.0h-1.0zM91.4 200.7h1.0v1.0h-1.0zM107.3 200.1h1.0v1.0h-1.0zM83.5 201.5h1.0v1.0h-1.0zM206.7 200.1h1.0v1.0h-1.0zM131.9 199.5h1.0v1.0h-1.0zM183.7 200.0h1.0v1.0h-1.0zM187.5 199.9h1.0v1.0h-1.0zM131.7 200.9h1.0v1.0h-1.0zM145.3 201.4h1.0v1.0h-1.0zM168.1 200.5h1.0v1.0h-1.0zM111.5 200.3h1.0v1.0h-1.0zM122.0 201.2h1.0v1.0h-1.0zM51.9 200.1h1.0v1.0h-1.0zM162.3 199.6h1.0v1.0h-1.0zM178.9 200.2h1.0v1.0h-1.0zM192.8 199.9h1.0v1.0h-1.0zM174.4 201.3h1.0v1.0h-1.0zM100.8 200.6h1.0v1.0h-1.0zM174.9 201.5h1.0v1.0h-1.0zM141.6 201.4h1.0v1.0h-1.0zM193.9 201.5h1.0v1.0h-1.0zM80.8 200.4h1.0v1.0h-1.0zM148.4 200.7h1.0v1.0h-1.0zM63.9 200.7h1.0v1.0h-1.0zM198.8 200.6h1.0v1.0h-1.0zM76.8 200.1h1.0v1.0h-1.0zM197.0 200.3h1.0v1.0h-1.0zM60.7 200.0h1.0v1.0h-1.0zM141.4 199.8h1.0v1.0h-1.0zM128.1 200.5h1.0v1.0h-1.0zM156.6 200.0h1.0v1.0h-1.0zM78.1 200.4h1.0v1.0h-1.0zM77.0 200.6h1.0v1.0h-1.0zM111.9 201.3h1.0v1.0h-1.0zM77.5 200.6h1.0v1.0h-1.0zM92.9 199.7h1.0v1.0h-1.0zM69.4 200.6h1.0v1.0h-1.0zM132.7 200.8h1.0v1.0h-1.0zM159.2 199.6h1.0v1.0h-1.0zM207.1 201.5h1.0v1.0h-1.0zM89.9 199.8h1.0v1.0h-1.0zM178.1 199.6h1.0v1.0h-1.0zM152.8 200.1h1.0v1.0h-1.0zM206.2 199.7h1.0v1.0h-1.0zM128.0 199.7h1.0v1.0h-1.0zM68.2 201.0h1.0v1.0h-1.0zM176.9 199.7h1.0v1.0h-1.0zM210.9 199.7h1.0v1.0h-1.0zM95.8 199.9h1.0v1.0h-1.0zM88.9 200.7h1.0v1.0h-1.0zM48.9 201.2h1.0v1.0h-1.0z" fill="#9a0c12" opacity="0.8"/>
<rect x="47" y="202.4" width="166" height="1" fill="#7c5a1c" opacity="0.55"/>
<path d="M181.6 210.0h1.0v1.0h-1.0zM100.6 198.6h1.0v1.0h-1.0zM121.0 205.7h1.0v1.0h-1.0zM89.9 200.6h1.0v1.0h-1.0zM132.5 205.1h1.0v1.0h-1.0z" fill="#a0a0a0" opacity="0.7"/>
<path d="M202.1 200.2h1.0v1.0h-1.0zM170.8 206.1h1.0v1.0h-1.0zM121.9 203.3h1.0v1.0h-1.0zM183.4 207.5h1.0v1.0h-1.0zM125.1 205.4h1.0v1.0h-1.0zM77.6 204.4h1.0v1.0h-1.0zM94.7 204.7h1.0v1.0h-1.0zM77.2 199.4h1.0v1.0h-1.0zM93.3 200.9h1.0v1.0h-1.0zM103.9 212.5h1.0v1.0h-1.0zM67.1 202.1h1.0v1.0h-1.0zM182.2 200.1h1.0v1.0h-1.0zM118.4 207.9h1.0v1.0h-1.0zM70.1 202.4h1.0v1.0h-1.0z" fill="#cc1420" opacity="0.7"/>
<path d="M162.7 201.0h1.0v1.0h-1.0zM68.5 209.2h1.0v1.0h-1.0zM145.2 202.4h1.0v1.0h-1.0zM210.0 210.9h1.0v1.0h-1.0zM77.5 205.7h1.0v1.0h-1.0zM51.3 193.9h1.0v1.0h-1.0zM93.5 200.8h1.0v1.0h-1.0zM170.6 205.2h1.0v1.0h-1.0zM115.2 201.4h1.0v1.0h-1.0zM142.3 201.7h1.0v1.0h-1.0zM77.8 206.9h1.0v1.0h-1.0z" fill="#86b034" opacity="0.7"/>
<rect x="227" y="209.2" width="281" height="8.2" fill="#d8ecb0" opacity="0.6"/>
<rect x="227" y="210.4" width="281" height="6.0" fill="#7aac2a"/>
<path d="M340.9 207.9h1.0v1.0h-1.0zM267.5 216.4h1.0v1.0h-1.0zM477.3 216.6h1.0v1.0h-1.0zM482.8 216.2h1.0v1.0h-1.0zM417.6 209.5h1.0v1.0h-1.0zM276.7 207.8h1.0v1.0h-1.0zM405.3 208.5h1.0v1.0h-1.0zM506.0 208.9h1.0v1.0h-1.0zM347.2 209.8h1.0v1.0h-1.0zM257.9 209.5h1.0v1.0h-1.0zM272.2 217.1h1.0v1.0h-1.0zM423.0 209.2h1.0v1.0h-1.0zM283.9 209.6h1.0v1.0h-1.0zM306.0 216.1h1.0v1.0h-1.0zM246.8 216.7h1.0v1.0h-1.0zM249.0 209.9h1.0v1.0h-1.0zM465.3 216.1h1.0v1.0h-1.0zM274.9 216.6h1.0v1.0h-1.0zM251.0 209.5h1.0v1.0h-1.0zM241.2 209.4h1.0v1.0h-1.0zM387.2 216.4h1.0v1.0h-1.0zM496.6 208.7h1.0v1.0h-1.0zM312.0 209.4h1.0v1.0h-1.0zM367.1 209.3h1.0v1.0h-1.0zM308.7 216.2h1.0v1.0h-1.0zM379.3 217.9h1.0v1.0h-1.0zM394.1 216.7h1.0v1.0h-1.0zM368.9 217.4h1.0v1.0h-1.0zM446.5 209.1h1.0v1.0h-1.0zM273.0 209.4h1.0v1.0h-1.0zM494.1 209.0h1.0v1.0h-1.0zM359.3 216.9h1.0v1.0h-1.0zM262.7 217.0h1.0v1.0h-1.0zM359.9 216.3h1.0v1.0h-1.0zM504.0 209.1h1.0v1.0h-1.0zM260.4 209.6h1.0v1.0h-1.0zM436.6 216.5h1.0v1.0h-1.0zM286.2 209.9h1.0v1.0h-1.0zM504.5 209.1h1.0v1.0h-1.0zM283.4 209.2h1.0v1.0h-1.0zM424.2 216.3h1.0v1.0h-1.0zM320.7 208.6h1.0v1.0h-1.0zM231.6 216.3h1.0v1.0h-1.0zM395.9 208.6h1.0v1.0h-1.0zM240.3 209.3h1.0v1.0h-1.0zM441.3 216.4h1.0v1.0h-1.0zM477.1 216.3h1.0v1.0h-1.0zM269.7 218.0h1.0v1.0h-1.0zM404.2 216.7h1.0v1.0h-1.0zM480.4 216.6h1.0v1.0h-1.0zM487.4 216.7h1.0v1.0h-1.0zM463.6 216.3h1.0v1.0h-1.0zM364.2 209.2h1.0v1.0h-1.0zM326.2 209.4h1.0v1.0h-1.0zM392.5 209.3h1.0v1.0h-1.0zM387.7 208.8h1.0v1.0h-1.0zM372.7 209.1h1.0v1.0h-1.0zM376.0 209.9h1.0v1.0h-1.0zM395.5 209.6h1.0v1.0h-1.0zM322.2 209.8h1.0v1.0h-1.0zM399.5 216.7h1.0v1.0h-1.0zM294.9 209.7h1.0v1.0h-1.0zM480.9 216.2h1.0v1.0h-1.0zM367.2 218.0h1.0v1.0h-1.0zM264.7 216.0h1.0v1.0h-1.0zM292.0 217.0h1.0v1.0h-1.0zM337.8 217.4h1.0v1.0h-1.0zM299.1 216.1h1.0v1.0h-1.0zM374.8 209.7h1.0v1.0h-1.0zM269.1 209.8h1.0v1.0h-1.0zM417.5 216.0h1.0v1.0h-1.0zM288.0 216.3h1.0v1.0h-1.0zM265.2 209.0h1.0v1.0h-1.0zM471.4 216.2h1.0v1.0h-1.0zM390.4 207.4h1.0v1.0h-1.0zM258.1 209.0h1.0v1.0h-1.0zM440.8 217.3h1.0v1.0h-1.0zM486.9 216.8h1.0v1.0h-1.0zM275.3 216.0h1.0v1.0h-1.0zM423.4 216.0h1.0v1.0h-1.0zM445.5 216.1h1.0v1.0h-1.0zM408.0 216.0h1.0v1.0h-1.0zM324.0 216.6h1.0v1.0h-1.0zM419.2 216.6h1.0v1.0h-1.0zM408.4 209.3h1.0v1.0h-1.0zM437.5 217.4h1.0v1.0h-1.0zM393.1 207.5h1.0v1.0h-1.0zM299.5 216.0h1.0v1.0h-1.0zM437.7 209.7h1.0v1.0h-1.0zM270.6 216.7h1.0v1.0h-1.0zM372.3 216.5h1.0v1.0h-1.0zM408.7 218.4h1.0v1.0h-1.0zM256.9 209.4h1.0v1.0h-1.0zM404.3 209.9h1.0v1.0h-1.0zM485.0 217.6h1.0v1.0h-1.0zM417.9 209.4h1.0v1.0h-1.0zM331.8 216.6h1.0v1.0h-1.0zM453.4 216.5h1.0v1.0h-1.0zM493.7 216.1h1.0v1.0h-1.0zM426.7 216.2h1.0v1.0h-1.0zM324.2 216.9h1.0v1.0h-1.0zM319.5 217.3h1.0v1.0h-1.0zM401.3 209.2h1.0v1.0h-1.0zM347.9 216.3h1.0v1.0h-1.0zM496.1 216.9h1.0v1.0h-1.0zM259.7 208.9h1.0v1.0h-1.0zM255.0 216.2h1.0v1.0h-1.0zM388.7 217.0h1.0v1.0h-1.0zM256.3 209.7h1.0v1.0h-1.0zM425.9 209.8h1.0v1.0h-1.0zM376.7 209.6h1.0v1.0h-1.0zM346.6 216.0h1.0v1.0h-1.0zM267.7 209.6h1.0v1.0h-1.0zM288.4 209.1h1.0v1.0h-1.0zM501.4 209.1h1.0v1.0h-1.0zM355.7 217.3h1.0v1.0h-1.0zM381.4 217.3h1.0v1.0h-1.0zM456.8 216.4h1.0v1.0h-1.0zM498.9 208.8h1.0v1.0h-1.0zM247.3 216.9h1.0v1.0h-1.0zM455.9 217.1h1.0v1.0h-1.0zM483.1 208.8h1.0v1.0h-1.0zM296.9 215.9h1.0v1.0h-1.0zM504.5 216.9h1.0v1.0h-1.0zM393.6 209.8h1.0v1.0h-1.0zM337.0 209.8h1.0v1.0h-1.0zM250.8 208.9h1.0v1.0h-1.0zM327.5 208.8h1.0v1.0h-1.0zM488.0 216.0h1.0v1.0h-1.0zM418.5 208.5h1.0v1.0h-1.0zM383.2 209.6h1.0v1.0h-1.0zM257.9 216.4h1.0v1.0h-1.0zM350.9 209.6h1.0v1.0h-1.0zM415.8 217.2h1.0v1.0h-1.0zM278.9 208.6h1.0v1.0h-1.0zM437.0 209.3h1.0v1.0h-1.0zM322.9 209.4h1.0v1.0h-1.0zM296.1 217.0h1.0v1.0h-1.0zM488.1 216.0h1.0v1.0h-1.0zM330.3 209.8h1.0v1.0h-1.0zM424.8 209.5h1.0v1.0h-1.0zM477.2 216.5h1.0v1.0h-1.0zM378.8 209.5h1.0v1.0h-1.0zM264.6 217.6h1.0v1.0h-1.0zM252.9 209.8h1.0v1.0h-1.0zM406.9 216.4h1.0v1.0h-1.0zM368.0 215.9h1.0v1.0h-1.0zM305.9 216.4h1.0v1.0h-1.0zM318.4 209.1h1.0v1.0h-1.0zM337.9 216.8h1.0v1.0h-1.0zM266.9 209.1h1.0v1.0h-1.0zM418.7 216.6h1.0v1.0h-1.0zM418.7 209.8h1.0v1.0h-1.0zM253.7 209.2h1.0v1.0h-1.0zM334.7 216.8h1.0v1.0h-1.0zM333.5 216.8h1.0v1.0h-1.0zM361.3 216.3h1.0v1.0h-1.0zM412.8 208.8h1.0v1.0h-1.0zM481.5 216.2h1.0v1.0h-1.0zM287.1 209.7h1.0v1.0h-1.0zM275.9 208.9h1.0v1.0h-1.0zM471.3 209.2h1.0v1.0h-1.0zM460.9 217.5h1.0v1.0h-1.0zM297.9 216.7h1.0v1.0h-1.0zM407.4 209.2h1.0v1.0h-1.0zM372.0 216.0h1.0v1.0h-1.0zM361.1 208.1h1.0v1.0h-1.0zM365.1 209.8h1.0v1.0h-1.0zM228.6 208.4h1.0v1.0h-1.0zM268.2 216.1h1.0v1.0h-1.0zM251.0 209.7h1.0v1.0h-1.0zM367.4 216.0h1.0v1.0h-1.0zM254.5 209.4h1.0v1.0h-1.0zM376.9 217.5h1.0v1.0h-1.0zM378.5 217.2h1.0v1.0h-1.0zM289.9 209.7h1.0v1.0h-1.0zM364.3 216.1h1.0v1.0h-1.0zM280.4 209.2h1.0v1.0h-1.0zM440.0 208.9h1.0v1.0h-1.0zM452.8 216.0h1.0v1.0h-1.0zM301.7 209.5h1.0v1.0h-1.0zM281.9 216.2h1.0v1.0h-1.0zM425.7 216.0h1.0v1.0h-1.0zM498.3 216.5h1.0v1.0h-1.0zM301.2 215.9h1.0v1.0h-1.0zM439.8 209.7h1.0v1.0h-1.0zM504.5 217.1h1.0v1.0h-1.0zM392.6 217.9h1.0v1.0h-1.0zM306.5 216.5h1.0v1.0h-1.0zM314.3 209.4h1.0v1.0h-1.0zM318.9 217.0h1.0v1.0h-1.0zM435.3 209.3h1.0v1.0h-1.0zM396.0 217.7h1.0v1.0h-1.0zM364.7 208.9h1.0v1.0h-1.0zM499.7 208.7h1.0v1.0h-1.0zM236.4 207.7h1.0v1.0h-1.0zM364.5 209.7h1.0v1.0h-1.0zM360.9 209.1h1.0v1.0h-1.0zM444.8 217.3h1.0v1.0h-1.0zM350.1 217.1h1.0v1.0h-1.0zM253.1 216.1h1.0v1.0h-1.0zM322.7 216.1h1.0v1.0h-1.0zM428.9 216.6h1.0v1.0h-1.0zM389.1 208.2h1.0v1.0h-1.0zM285.0 209.2h1.0v1.0h-1.0zM328.4 208.3h1.0v1.0h-1.0zM501.0 209.2h1.0v1.0h-1.0zM422.5 209.3h1.0v1.0h-1.0zM417.6 209.6h1.0v1.0h-1.0zM441.3 209.0h1.0v1.0h-1.0zM410.1 209.5h1.0v1.0h-1.0zM248.4 216.5h1.0v1.0h-1.0zM388.1 217.0h1.0v1.0h-1.0zM235.0 216.1h1.0v1.0h-1.0zM315.0 216.4h1.0v1.0h-1.0zM323.6 216.6h1.0v1.0h-1.0zM452.2 216.6h1.0v1.0h-1.0zM368.3 216.4h1.0v1.0h-1.0zM415.4 216.4h1.0v1.0h-1.0zM443.7 216.4h1.0v1.0h-1.0zM461.3 208.5h1.0v1.0h-1.0zM336.6 208.9h1.0v1.0h-1.0zM237.5 216.7h1.0v1.0h-1.0zM355.6 209.7h1.0v1.0h-1.0zM354.9 216.6h1.0v1.0h-1.0zM414.0 216.2h1.0v1.0h-1.0zM384.6 208.6h1.0v1.0h-1.0zM362.0 208.2h1.0v1.0h-1.0zM358.9 208.0h1.0v1.0h-1.0zM409.1 209.0h1.0v1.0h-1.0zM463.0 209.2h1.0v1.0h-1.0zM376.1 209.7h1.0v1.0h-1.0zM504.1 208.5h1.0v1.0h-1.0zM500.8 209.8h1.0v1.0h-1.0zM271.6 209.3h1.0v1.0h-1.0zM235.6 216.6h1.0v1.0h-1.0zM441.8 209.2h1.0v1.0h-1.0zM451.2 209.2h1.0v1.0h-1.0zM494.6 216.7h1.0v1.0h-1.0zM409.3 209.1h1.0v1.0h-1.0zM476.2 209.6h1.0v1.0h-1.0zM429.1 216.7h1.0v1.0h-1.0zM287.6 209.6h1.0v1.0h-1.0zM337.2 215.9h1.0v1.0h-1.0zM429.0 216.2h1.0v1.0h-1.0zM437.7 209.8h1.0v1.0h-1.0zM247.7 216.8h1.0v1.0h-1.0zM421.6 216.4h1.0v1.0h-1.0zM337.5 215.9h1.0v1.0h-1.0zM344.5 217.3h1.0v1.0h-1.0zM465.9 209.1h1.0v1.0h-1.0zM322.5 209.3h1.0v1.0h-1.0zM276.0 209.7h1.0v1.0h-1.0zM418.5 216.8h1.0v1.0h-1.0zM420.2 217.6h1.0v1.0h-1.0zM308.0 209.3h1.0v1.0h-1.0zM392.7 209.7h1.0v1.0h-1.0zM491.8 209.9h1.0v1.0h-1.0zM417.1 217.4h1.0v1.0h-1.0zM462.3 209.7h1.0v1.0h-1.0zM455.5 216.4h1.0v1.0h-1.0zM394.5 208.8h1.0v1.0h-1.0zM384.0 209.7h1.0v1.0h-1.0zM299.3 207.8h1.0v1.0h-1.0zM467.4 216.3h1.0v1.0h-1.0zM479.6 209.5h1.0v1.0h-1.0zM474.8 216.4h1.0v1.0h-1.0zM257.9 216.6h1.0v1.0h-1.0zM247.5 215.9h1.0v1.0h-1.0zM334.9 209.1h1.0v1.0h-1.0zM486.1 209.2h1.0v1.0h-1.0zM371.4 216.8h1.0v1.0h-1.0zM378.3 216.3h1.0v1.0h-1.0zM350.9 209.1h1.0v1.0h-1.0zM258.8 216.1h1.0v1.0h-1.0zM463.3 209.5h1.0v1.0h-1.0zM342.8 216.3h1.0v1.0h-1.0zM446.0 217.2h1.0v1.0h-1.0zM273.5 209.9h1.0v1.0h-1.0zM328.6 217.1h1.0v1.0h-1.0zM381.8 216.6h1.0v1.0h-1.0zM502.5 208.4h1.0v1.0h-1.0zM283.3 209.4h1.0v1.0h-1.0zM256.6 208.8h1.0v1.0h-1.0zM253.6 209.0h1.0v1.0h-1.0zM390.1 208.6h1.0v1.0h-1.0zM394.0 216.4h1.0v1.0h-1.0zM422.3 209.8h1.0v1.0h-1.0zM468.7 208.5h1.0v1.0h-1.0zM352.8 208.4h1.0v1.0h-1.0zM242.9 216.5h1.0v1.0h-1.0zM250.4 208.7h1.0v1.0h-1.0zM304.0 209.4h1.0v1.0h-1.0zM467.9 216.3h1.0v1.0h-1.0zM397.6 209.0h1.0v1.0h-1.0zM265.6 208.2h1.0v1.0h-1.0zM491.9 209.2h1.0v1.0h-1.0zM254.9 209.7h1.0v1.0h-1.0zM467.8 216.8h1.0v1.0h-1.0zM350.1 209.2h1.0v1.0h-1.0zM489.8 209.0h1.0v1.0h-1.0zM332.0 209.1h1.0v1.0h-1.0zM491.5 217.9h1.0v1.0h-1.0zM278.5 209.4h1.0v1.0h-1.0zM499.5 209.9h1.0v1.0h-1.0zM256.5 216.6h1.0v1.0h-1.0zM428.5 209.5h1.0v1.0h-1.0zM437.8 208.5h1.0v1.0h-1.0zM237.7 209.2h1.0v1.0h-1.0zM442.3 209.7h1.0v1.0h-1.0zM287.8 216.8h1.0v1.0h-1.0zM500.1 208.8h1.0v1.0h-1.0zM276.4 215.9h1.0v1.0h-1.0zM367.9 209.5h1.0v1.0h-1.0zM417.5 216.2h1.0v1.0h-1.0zM379.6 217.8h1.0v1.0h-1.0zM447.2 209.8h1.0v1.0h-1.0zM370.3 216.6h1.0v1.0h-1.0zM261.2 208.3h1.0v1.0h-1.0zM487.3 216.1h1.0v1.0h-1.0zM391.1 209.5h1.0v1.0h-1.0zM227.2 209.1h1.0v1.0h-1.0zM360.8 209.5h1.0v1.0h-1.0zM334.8 216.2h1.0v1.0h-1.0zM288.5 218.3h1.0v1.0h-1.0zM498.5 215.9h1.0v1.0h-1.0zM506.0 217.5h1.0v1.0h-1.0zM277.5 215.9h1.0v1.0h-1.0zM274.6 216.1h1.0v1.0h-1.0zM444.3 208.5h1.0v1.0h-1.0zM453.5 216.8h1.0v1.0h-1.0zM292.7 208.9h1.0v1.0h-1.0zM426.6 216.4h1.0v1.0h-1.0zM231.2 209.8h1.0v1.0h-1.0zM457.1 217.5h1.0v1.0h-1.0zM305.6 217.9h1.0v1.0h-1.0zM343.1 217.1h1.0v1.0h-1.0zM245.5 209.3h1.0v1.0h-1.0zM480.6 208.2h1.0v1.0h-1.0zM405.5 217.4h1.0v1.0h-1.0zM425.0 216.0h1.0v1.0h-1.0zM313.2 216.3h1.0v1.0h-1.0zM287.5 209.1h1.0v1.0h-1.0zM408.3 216.1h1.0v1.0h-1.0zM377.2 216.1h1.0v1.0h-1.0zM467.3 208.0h1.0v1.0h-1.0zM231.5 209.9h1.0v1.0h-1.0zM272.7 216.0h1.0v1.0h-1.0zM364.2 216.3h1.0v1.0h-1.0zM502.6 215.9h1.0v1.0h-1.0zM352.1 216.3h1.0v1.0h-1.0zM259.8 216.7h1.0v1.0h-1.0zM237.6 209.2h1.0v1.0h-1.0zM334.7 208.6h1.0v1.0h-1.0zM336.3 208.1h1.0v1.0h-1.0zM413.2 217.0h1.0v1.0h-1.0zM385.1 216.1h1.0v1.0h-1.0zM315.1 209.8h1.0v1.0h-1.0zM378.3 216.1h1.0v1.0h-1.0zM502.8 216.7h1.0v1.0h-1.0zM247.4 216.2h1.0v1.0h-1.0zM398.1 216.8h1.0v1.0h-1.0zM429.5 216.3h1.0v1.0h-1.0zM391.0 216.1h1.0v1.0h-1.0zM319.7 217.0h1.0v1.0h-1.0zM290.2 216.4h1.0v1.0h-1.0zM293.6 216.7h1.0v1.0h-1.0zM484.8 217.8h1.0v1.0h-1.0zM274.7 216.5h1.0v1.0h-1.0zM463.1 207.9h1.0v1.0h-1.0zM267.7 215.9h1.0v1.0h-1.0zM275.5 209.4h1.0v1.0h-1.0zM469.1 209.2h1.0v1.0h-1.0zM234.4 216.2h1.0v1.0h-1.0zM440.9 217.9h1.0v1.0h-1.0zM389.6 209.7h1.0v1.0h-1.0zM436.9 208.4h1.0v1.0h-1.0zM415.9 209.5h1.0v1.0h-1.0zM452.6 216.8h1.0v1.0h-1.0zM331.6 216.2h1.0v1.0h-1.0zM345.7 215.9h1.0v1.0h-1.0zM385.3 216.5h1.0v1.0h-1.0zM501.9 209.4h1.0v1.0h-1.0zM273.4 209.0h1.0v1.0h-1.0zM412.1 216.3h1.0v1.0h-1.0zM340.2 209.7h1.0v1.0h-1.0zM401.9 209.9h1.0v1.0h-1.0zM367.7 216.2h1.0v1.0h-1.0zM418.4 209.0h1.0v1.0h-1.0zM251.6 216.9h1.0v1.0h-1.0zM237.4 209.2h1.0v1.0h-1.0zM316.8 209.3h1.0v1.0h-1.0zM431.5 216.0h1.0v1.0h-1.0zM334.2 209.5h1.0v1.0h-1.0zM229.4 208.9h1.0v1.0h-1.0zM429.0 209.7h1.0v1.0h-1.0zM359.1 209.4h1.0v1.0h-1.0zM347.5 216.3h1.0v1.0h-1.0zM361.4 209.9h1.0v1.0h-1.0zM460.2 216.4h1.0v1.0h-1.0zM283.7 209.7h1.0v1.0h-1.0zM370.2 209.8h1.0v1.0h-1.0zM447.6 209.9h1.0v1.0h-1.0zM372.1 209.5h1.0v1.0h-1.0zM331.3 209.2h1.0v1.0h-1.0zM414.3 208.7h1.0v1.0h-1.0zM346.0 209.0h1.0v1.0h-1.0zM445.6 217.3h1.0v1.0h-1.0zM486.1 217.3h1.0v1.0h-1.0zM474.0 216.1h1.0v1.0h-1.0zM347.5 209.4h1.0v1.0h-1.0zM309.8 209.9h1.0v1.0h-1.0zM462.7 216.4h1.0v1.0h-1.0zM473.7 217.0h1.0v1.0h-1.0zM345.3 209.7h1.0v1.0h-1.0zM455.5 209.3h1.0v1.0h-1.0zM341.1 216.1h1.0v1.0h-1.0zM400.5 209.8h1.0v1.0h-1.0zM366.8 209.7h1.0v1.0h-1.0zM353.7 217.0h1.0v1.0h-1.0zM480.4 209.7h1.0v1.0h-1.0zM493.1 209.4h1.0v1.0h-1.0zM409.2 209.5h1.0v1.0h-1.0zM338.4 209.6h1.0v1.0h-1.0zM373.8 216.0h1.0v1.0h-1.0zM354.2 208.1h1.0v1.0h-1.0zM238.5 217.0h1.0v1.0h-1.0zM313.8 209.2h1.0v1.0h-1.0zM405.3 217.4h1.0v1.0h-1.0zM234.1 216.4h1.0v1.0h-1.0zM471.4 209.7h1.0v1.0h-1.0zM251.0 216.9h1.0v1.0h-1.0zM500.8 209.2h1.0v1.0h-1.0zM243.9 216.7h1.0v1.0h-1.0zM403.7 209.1h1.0v1.0h-1.0zM227.0 209.5h1.0v1.0h-1.0zM362.3 208.6h1.0v1.0h-1.0zM239.5 216.1h1.0v1.0h-1.0zM402.5 218.1h1.0v1.0h-1.0zM333.1 209.4h1.0v1.0h-1.0zM423.2 209.8h1.0v1.0h-1.0zM472.3 216.3h1.0v1.0h-1.0zM498.4 217.7h1.0v1.0h-1.0zM246.8 209.1h1.0v1.0h-1.0zM469.4 216.4h1.0v1.0h-1.0zM309.2 217.4h1.0v1.0h-1.0zM235.8 216.3h1.0v1.0h-1.0zM237.3 209.9h1.0v1.0h-1.0zM384.5 208.1h1.0v1.0h-1.0zM320.3 209.1h1.0v1.0h-1.0zM479.0 217.8h1.0v1.0h-1.0zM379.6 209.5h1.0v1.0h-1.0zM486.4 216.3h1.0v1.0h-1.0zM241.9 209.5h1.0v1.0h-1.0zM291.7 209.0h1.0v1.0h-1.0zM341.9 208.6h1.0v1.0h-1.0zM393.6 209.0h1.0v1.0h-1.0zM308.7 209.4h1.0v1.0h-1.0zM478.5 217.8h1.0v1.0h-1.0zM345.0 216.0h1.0v1.0h-1.0zM369.7 209.1h1.0v1.0h-1.0zM469.9 217.7h1.0v1.0h-1.0zM485.7 208.6h1.0v1.0h-1.0zM391.5 209.6h1.0v1.0h-1.0zM295.8 216.0h1.0v1.0h-1.0zM318.7 209.4h1.0v1.0h-1.0zM305.5 216.7h1.0v1.0h-1.0zM449.2 209.8h1.0v1.0h-1.0zM348.0 217.3h1.0v1.0h-1.0zM446.1 216.1h1.0v1.0h-1.0zM341.8 209.8h1.0v1.0h-1.0zM252.6 215.9h1.0v1.0h-1.0zM478.1 209.4h1.0v1.0h-1.0zM399.2 215.9h1.0v1.0h-1.0zM502.5 209.8h1.0v1.0h-1.0zM359.9 216.9h1.0v1.0h-1.0zM428.8 216.5h1.0v1.0h-1.0zM367.0 217.1h1.0v1.0h-1.0zM227.1 209.5h1.0v1.0h-1.0zM369.1 216.7h1.0v1.0h-1.0zM374.4 208.7h1.0v1.0h-1.0zM240.6 216.0h1.0v1.0h-1.0zM384.3 216.6h1.0v1.0h-1.0zM251.1 208.6h1.0v1.0h-1.0zM303.0 216.6h1.0v1.0h-1.0zM446.2 209.3h1.0v1.0h-1.0zM297.5 217.1h1.0v1.0h-1.0zM476.9 216.8h1.0v1.0h-1.0zM302.2 216.5h1.0v1.0h-1.0zM283.9 208.9h1.0v1.0h-1.0zM317.0 216.1h1.0v1.0h-1.0zM325.0 216.4h1.0v1.0h-1.0zM393.4 216.3h1.0v1.0h-1.0zM241.1 215.9h1.0v1.0h-1.0zM455.0 209.4h1.0v1.0h-1.0zM320.7 217.2h1.0v1.0h-1.0zM447.5 216.5h1.0v1.0h-1.0zM247.9 209.8h1.0v1.0h-1.0zM449.4 216.6h1.0v1.0h-1.0zM357.6 208.2h1.0v1.0h-1.0zM483.2 217.1h1.0v1.0h-1.0zM291.9 216.7h1.0v1.0h-1.0zM384.7 216.6h1.0v1.0h-1.0zM493.4 208.9h1.0v1.0h-1.0zM287.9 216.2h1.0v1.0h-1.0zM438.0 216.9h1.0v1.0h-1.0zM284.6 209.6h1.0v1.0h-1.0zM269.9 216.7h1.0v1.0h-1.0zM322.8 209.1h1.0v1.0h-1.0zM246.4 209.2h1.0v1.0h-1.0zM266.5 209.4h1.0v1.0h-1.0zM495.2 209.4h1.0v1.0h-1.0zM369.1 215.9h1.0v1.0h-1.0zM312.8 216.4h1.0v1.0h-1.0zM431.8 216.4h1.0v1.0h-1.0zM236.7 216.0h1.0v1.0h-1.0zM471.9 209.4h1.0v1.0h-1.0zM227.7 208.5h1.0v1.0h-1.0zM364.2 208.9h1.0v1.0h-1.0zM268.6 216.7h1.0v1.0h-1.0zM505.6 209.9h1.0v1.0h-1.0zM360.2 216.3h1.0v1.0h-1.0zM439.4 209.4h1.0v1.0h-1.0zM378.4 208.9h1.0v1.0h-1.0zM482.1 215.9h1.0v1.0h-1.0zM382.2 209.5h1.0v1.0h-1.0zM487.0 209.0h1.0v1.0h-1.0zM365.2 209.3h1.0v1.0h-1.0zM431.0 217.5h1.0v1.0h-1.0zM285.5 216.8h1.0v1.0h-1.0zM246.3 216.2h1.0v1.0h-1.0zM423.6 208.8h1.0v1.0h-1.0zM251.8 216.4h1.0v1.0h-1.0zM322.0 216.3h1.0v1.0h-1.0zM408.1 209.4h1.0v1.0h-1.0zM236.3 209.4h1.0v1.0h-1.0zM451.3 216.0h1.0v1.0h-1.0zM441.6 208.4h1.0v1.0h-1.0zM496.0 216.5h1.0v1.0h-1.0zM430.8 209.7h1.0v1.0h-1.0zM235.7 216.8h1.0v1.0h-1.0zM434.5 216.3h1.0v1.0h-1.0zM505.1 208.7h1.0v1.0h-1.0zM489.7 216.1h1.0v1.0h-1.0zM445.8 217.2h1.0v1.0h-1.0zM434.6 218.0h1.0v1.0h-1.0zM306.2 209.0h1.0v1.0h-1.0zM474.4 209.6h1.0v1.0h-1.0zM432.8 217.3h1.0v1.0h-1.0zM311.7 216.9h1.0v1.0h-1.0zM466.9 216.3h1.0v1.0h-1.0zM265.9 209.0h1.0v1.0h-1.0zM327.2 216.5h1.0v1.0h-1.0zM423.8 216.5h1.0v1.0h-1.0zM479.4 217.4h1.0v1.0h-1.0zM308.3 216.0h1.0v1.0h-1.0zM245.5 208.7h1.0v1.0h-1.0zM240.3 209.6h1.0v1.0h-1.0zM389.6 208.1h1.0v1.0h-1.0zM461.6 209.8h1.0v1.0h-1.0zM465.1 216.2h1.0v1.0h-1.0zM237.8 216.2h1.0v1.0h-1.0zM310.5 215.9h1.0v1.0h-1.0zM309.6 217.0h1.0v1.0h-1.0zM334.4 209.7h1.0v1.0h-1.0zM378.8 215.9h1.0v1.0h-1.0zM274.4 218.0h1.0v1.0h-1.0zM333.2 209.2h1.0v1.0h-1.0zM484.7 208.6h1.0v1.0h-1.0zM324.5 216.2h1.0v1.0h-1.0zM451.0 216.4h1.0v1.0h-1.0zM253.2 216.5h1.0v1.0h-1.0zM304.3 208.6h1.0v1.0h-1.0zM284.2 217.9h1.0v1.0h-1.0zM346.3 216.2h1.0v1.0h-1.0zM308.9 216.4h1.0v1.0h-1.0zM365.5 216.5h1.0v1.0h-1.0zM485.2 209.8h1.0v1.0h-1.0zM390.2 209.2h1.0v1.0h-1.0zM471.0 216.7h1.0v1.0h-1.0zM231.0 208.3h1.0v1.0h-1.0zM372.9 209.8h1.0v1.0h-1.0zM315.6 209.7h1.0v1.0h-1.0zM329.3 217.6h1.0v1.0h-1.0zM495.0 216.1h1.0v1.0h-1.0zM260.6 209.0h1.0v1.0h-1.0zM324.7 209.3h1.0v1.0h-1.0zM326.0 216.7h1.0v1.0h-1.0zM354.0 209.2h1.0v1.0h-1.0zM312.7 209.3h1.0v1.0h-1.0zM357.5 216.5h1.0v1.0h-1.0zM358.2 217.6h1.0v1.0h-1.0zM243.4 216.0h1.0v1.0h-1.0zM463.6 209.7h1.0v1.0h-1.0zM397.2 209.1h1.0v1.0h-1.0zM325.9 208.8h1.0v1.0h-1.0zM449.4 216.7h1.0v1.0h-1.0zM374.4 209.9h1.0v1.0h-1.0zM318.8 216.8h1.0v1.0h-1.0zM335.4 217.2h1.0v1.0h-1.0zM500.8 208.9h1.0v1.0h-1.0zM254.2 207.7h1.0v1.0h-1.0zM506.1 216.2h1.0v1.0h-1.0zM505.5 209.0h1.0v1.0h-1.0zM444.1 208.0h1.0v1.0h-1.0zM411.6 208.9h1.0v1.0h-1.0zM496.6 216.9h1.0v1.0h-1.0zM261.4 209.5h1.0v1.0h-1.0zM277.7 209.1h1.0v1.0h-1.0zM444.6 208.8h1.0v1.0h-1.0zM455.2 218.4h1.0v1.0h-1.0zM255.1 209.8h1.0v1.0h-1.0zM259.9 209.8h1.0v1.0h-1.0zM261.3 217.2h1.0v1.0h-1.0zM427.0 216.0h1.0v1.0h-1.0zM501.3 216.8h1.0v1.0h-1.0zM242.7 208.6h1.0v1.0h-1.0zM376.7 209.4h1.0v1.0h-1.0zM417.3 217.2h1.0v1.0h-1.0zM481.0 207.6h1.0v1.0h-1.0zM440.5 209.7h1.0v1.0h-1.0zM447.3 209.6h1.0v1.0h-1.0zM459.6 216.5h1.0v1.0h-1.0zM278.0 217.1h1.0v1.0h-1.0zM454.2 209.7h1.0v1.0h-1.0zM253.7 216.7h1.0v1.0h-1.0zM247.2 208.3h1.0v1.0h-1.0zM436.8 209.1h1.0v1.0h-1.0zM268.4 217.2h1.0v1.0h-1.0zM451.4 209.1h1.0v1.0h-1.0zM316.1 216.9h1.0v1.0h-1.0zM237.2 216.8h1.0v1.0h-1.0zM412.7 209.5h1.0v1.0h-1.0zM270.2 209.7h1.0v1.0h-1.0zM270.5 209.7h1.0v1.0h-1.0zM234.2 216.1h1.0v1.0h-1.0zM394.5 209.7h1.0v1.0h-1.0zM345.9 216.8h1.0v1.0h-1.0zM275.2 217.1h1.0v1.0h-1.0zM454.8 217.2h1.0v1.0h-1.0zM390.8 208.9h1.0v1.0h-1.0zM395.6 209.1h1.0v1.0h-1.0zM251.5 209.1h1.0v1.0h-1.0zM338.1 216.5h1.0v1.0h-1.0zM362.9 209.0h1.0v1.0h-1.0zM399.1 216.5h1.0v1.0h-1.0zM238.4 216.4h1.0v1.0h-1.0zM325.5 207.9h1.0v1.0h-1.0zM500.4 208.8h1.0v1.0h-1.0zM431.2 208.2h1.0v1.0h-1.0zM370.0 216.1h1.0v1.0h-1.0zM502.3 217.1h1.0v1.0h-1.0zM395.3 209.8h1.0v1.0h-1.0zM252.5 208.2h1.0v1.0h-1.0zM399.4 216.9h1.0v1.0h-1.0zM407.7 207.9h1.0v1.0h-1.0zM316.8 208.9h1.0v1.0h-1.0zM476.3 209.0h1.0v1.0h-1.0zM349.6 216.4h1.0v1.0h-1.0zM399.6 216.5h1.0v1.0h-1.0zM288.1 208.8h1.0v1.0h-1.0zM407.5 209.6h1.0v1.0h-1.0zM357.3 217.7h1.0v1.0h-1.0zM381.6 216.4h1.0v1.0h-1.0zM406.4 209.2h1.0v1.0h-1.0zM433.7 216.4h1.0v1.0h-1.0zM241.8 208.2h1.0v1.0h-1.0zM248.6 209.2h1.0v1.0h-1.0zM432.3 209.3h1.0v1.0h-1.0zM342.4 209.8h1.0v1.0h-1.0zM458.7 208.6h1.0v1.0h-1.0zM291.6 209.5h1.0v1.0h-1.0zM390.1 209.5h1.0v1.0h-1.0zM417.8 216.2h1.0v1.0h-1.0zM462.3 209.2h1.0v1.0h-1.0zM298.1 209.0h1.0v1.0h-1.0zM315.8 216.4h1.0v1.0h-1.0zM407.5 209.8h1.0v1.0h-1.0zM227.4 209.1h1.0v1.0h-1.0zM293.8 209.2h1.0v1.0h-1.0zM457.6 208.3h1.0v1.0h-1.0zM325.5 216.1h1.0v1.0h-1.0zM303.6 218.0h1.0v1.0h-1.0zM491.1 216.9h1.0v1.0h-1.0zM416.4 208.7h1.0v1.0h-1.0zM475.6 208.8h1.0v1.0h-1.0zM320.0 209.5h1.0v1.0h-1.0zM250.8 217.3h1.0v1.0h-1.0zM240.7 216.1h1.0v1.0h-1.0zM467.3 216.9h1.0v1.0h-1.0zM259.7 217.9h1.0v1.0h-1.0zM291.6 217.7h1.0v1.0h-1.0zM358.7 216.5h1.0v1.0h-1.0zM445.9 216.6h1.0v1.0h-1.0zM298.2 209.2h1.0v1.0h-1.0zM272.1 209.0h1.0v1.0h-1.0zM484.8 209.5h1.0v1.0h-1.0zM243.3 208.7h1.0v1.0h-1.0zM484.1 209.3h1.0v1.0h-1.0zM289.0 209.3h1.0v1.0h-1.0zM370.6 217.3h1.0v1.0h-1.0zM380.4 216.1h1.0v1.0h-1.0zM294.0 217.8h1.0v1.0h-1.0zM330.9 209.9h1.0v1.0h-1.0zM328.2 217.0h1.0v1.0h-1.0zM417.8 209.2h1.0v1.0h-1.0zM288.0 217.0h1.0v1.0h-1.0zM322.5 216.1h1.0v1.0h-1.0zM397.7 216.2h1.0v1.0h-1.0zM464.1 217.0h1.0v1.0h-1.0zM443.7 209.0h1.0v1.0h-1.0zM302.0 216.3h1.0v1.0h-1.0zM275.5 217.2h1.0v1.0h-1.0zM445.7 216.4h1.0v1.0h-1.0zM376.4 216.2h1.0v1.0h-1.0zM383.0 208.9h1.0v1.0h-1.0zM486.2 216.1h1.0v1.0h-1.0zM316.5 216.0h1.0v1.0h-1.0zM374.1 217.4h1.0v1.0h-1.0zM467.4 216.5h1.0v1.0h-1.0zM366.0 216.2h1.0v1.0h-1.0zM491.5 209.3h1.0v1.0h-1.0zM353.6 208.8h1.0v1.0h-1.0zM241.9 208.9h1.0v1.0h-1.0zM423.8 209.6h1.0v1.0h-1.0zM337.1 216.6h1.0v1.0h-1.0zM295.1 209.7h1.0v1.0h-1.0zM282.9 209.8h1.0v1.0h-1.0zM365.8 218.1h1.0v1.0h-1.0zM362.2 209.7h1.0v1.0h-1.0zM260.4 217.2h1.0v1.0h-1.0zM424.7 209.1h1.0v1.0h-1.0zM496.4 216.2h1.0v1.0h-1.0zM357.6 209.5h1.0v1.0h-1.0zM455.2 209.0h1.0v1.0h-1.0zM456.4 209.8h1.0v1.0h-1.0zM260.2 209.1h1.0v1.0h-1.0zM340.9 216.3h1.0v1.0h-1.0zM324.1 216.0h1.0v1.0h-1.0zM344.0 216.0h1.0v1.0h-1.0zM317.8 216.3h1.0v1.0h-1.0zM295.0 209.7h1.0v1.0h-1.0zM259.5 209.1h1.0v1.0h-1.0zM474.6 216.0h1.0v1.0h-1.0zM351.7 215.9h1.0v1.0h-1.0zM389.5 217.2h1.0v1.0h-1.0zM248.3 217.4h1.0v1.0h-1.0zM442.2 208.8h1.0v1.0h-1.0zM399.0 209.9h1.0v1.0h-1.0zM393.6 209.4h1.0v1.0h-1.0zM289.5 216.3h1.0v1.0h-1.0zM502.1 209.6h1.0v1.0h-1.0zM346.9 217.4h1.0v1.0h-1.0zM463.1 216.8h1.0v1.0h-1.0zM403.1 209.6h1.0v1.0h-1.0zM480.5 209.8h1.0v1.0h-1.0zM406.0 209.7h1.0v1.0h-1.0zM244.1 209.4h1.0v1.0h-1.0zM416.9 216.1h1.0v1.0h-1.0zM229.5 209.0h1.0v1.0h-1.0zM255.8 216.4h1.0v1.0h-1.0zM408.0 208.7h1.0v1.0h-1.0zM442.7 215.9h1.0v1.0h-1.0zM244.8 216.3h1.0v1.0h-1.0zM495.5 217.2h1.0v1.0h-1.0zM256.5 209.7h1.0v1.0h-1.0zM339.2 216.3h1.0v1.0h-1.0zM435.0 209.3h1.0v1.0h-1.0zM331.9 209.6h1.0v1.0h-1.0zM231.2 217.4h1.0v1.0h-1.0zM307.9 215.9h1.0v1.0h-1.0zM409.5 216.9h1.0v1.0h-1.0zM265.6 216.0h1.0v1.0h-1.0zM264.7 209.8h1.0v1.0h-1.0zM342.5 209.7h1.0v1.0h-1.0zM449.6 216.9h1.0v1.0h-1.0zM478.2 208.9h1.0v1.0h-1.0zM372.4 209.3h1.0v1.0h-1.0zM368.9 216.9h1.0v1.0h-1.0zM320.5 216.0h1.0v1.0h-1.0zM496.0 216.7h1.0v1.0h-1.0zM377.4 217.0h1.0v1.0h-1.0zM340.0 209.8h1.0v1.0h-1.0zM245.3 209.1h1.0v1.0h-1.0zM287.5 217.6h1.0v1.0h-1.0zM391.6 209.7h1.0v1.0h-1.0zM432.3 209.3h1.0v1.0h-1.0zM269.2 209.5h1.0v1.0h-1.0zM392.0 216.4h1.0v1.0h-1.0zM436.4 216.8h1.0v1.0h-1.0zM333.6 209.5h1.0v1.0h-1.0zM273.9 209.5h1.0v1.0h-1.0zM422.3 209.4h1.0v1.0h-1.0zM444.7 216.2h1.0v1.0h-1.0zM402.8 217.5h1.0v1.0h-1.0zM444.2 209.5h1.0v1.0h-1.0zM333.4 216.5h1.0v1.0h-1.0zM237.6 218.0h1.0v1.0h-1.0zM303.8 209.1h1.0v1.0h-1.0zM447.3 217.6h1.0v1.0h-1.0zM386.4 209.5h1.0v1.0h-1.0zM456.6 209.3h1.0v1.0h-1.0zM281.4 209.1h1.0v1.0h-1.0zM333.3 209.7h1.0v1.0h-1.0zM269.0 216.9h1.0v1.0h-1.0zM395.0 216.0h1.0v1.0h-1.0zM232.0 216.6h1.0v1.0h-1.0zM302.2 216.4h1.0v1.0h-1.0zM462.6 216.5h1.0v1.0h-1.0zM259.7 216.0h1.0v1.0h-1.0zM269.4 216.5h1.0v1.0h-1.0zM408.3 216.6h1.0v1.0h-1.0zM314.2 217.1h1.0v1.0h-1.0zM353.2 209.0h1.0v1.0h-1.0zM250.3 208.6h1.0v1.0h-1.0zM403.5 209.7h1.0v1.0h-1.0zM497.7 209.4h1.0v1.0h-1.0zM414.1 216.2h1.0v1.0h-1.0zM420.9 209.2h1.0v1.0h-1.0zM337.6 209.6h1.0v1.0h-1.0zM306.1 216.3h1.0v1.0h-1.0zM318.2 216.0h1.0v1.0h-1.0zM479.3 209.8h1.0v1.0h-1.0zM227.6 217.7h1.0v1.0h-1.0zM480.2 217.2h1.0v1.0h-1.0zM296.2 216.5h1.0v1.0h-1.0zM363.9 209.8h1.0v1.0h-1.0zM475.0 209.8h1.0v1.0h-1.0zM473.6 208.7h1.0v1.0h-1.0zM385.5 216.5h1.0v1.0h-1.0zM311.7 208.2h1.0v1.0h-1.0zM380.1 216.9h1.0v1.0h-1.0zM383.1 209.2h1.0v1.0h-1.0zM414.2 209.1h1.0v1.0h-1.0zM328.3 216.3h1.0v1.0h-1.0zM384.1 218.3h1.0v1.0h-1.0zM280.5 216.2h1.0v1.0h-1.0zM351.5 209.5h1.0v1.0h-1.0zM353.9 216.4h1.0v1.0h-1.0zM430.8 209.5h1.0v1.0h-1.0zM391.4 215.9h1.0v1.0h-1.0zM258.4 216.5h1.0v1.0h-1.0zM246.7 217.5h1.0v1.0h-1.0zM445.6 216.6h1.0v1.0h-1.0zM501.5 209.6h1.0v1.0h-1.0zM227.2 217.0h1.0v1.0h-1.0zM413.9 209.8h1.0v1.0h-1.0zM235.8 209.5h1.0v1.0h-1.0zM241.9 209.5h1.0v1.0h-1.0zM426.2 208.9h1.0v1.0h-1.0zM485.6 216.3h1.0v1.0h-1.0zM384.2 209.8h1.0v1.0h-1.0zM262.5 217.1h1.0v1.0h-1.0zM398.0 217.5h1.0v1.0h-1.0zM464.4 208.8h1.0v1.0h-1.0zM255.9 209.2h1.0v1.0h-1.0zM254.9 216.3h1.0v1.0h-1.0zM473.4 209.5h1.0v1.0h-1.0zM283.8 209.7h1.0v1.0h-1.0zM505.7 217.1h1.0v1.0h-1.0zM446.8 215.9h1.0v1.0h-1.0zM494.7 217.0h1.0v1.0h-1.0zM370.4 216.7h1.0v1.0h-1.0zM413.9 216.0h1.0v1.0h-1.0zM410.2 209.2h1.0v1.0h-1.0zM502.8 209.3h1.0v1.0h-1.0zM307.2 209.1h1.0v1.0h-1.0zM344.2 216.1h1.0v1.0h-1.0zM238.5 216.2h1.0v1.0h-1.0zM352.8 216.4h1.0v1.0h-1.0zM256.2 209.8h1.0v1.0h-1.0zM434.3 217.0h1.0v1.0h-1.0zM326.8 209.2h1.0v1.0h-1.0zM252.9 209.4h1.0v1.0h-1.0zM448.7 209.6h1.0v1.0h-1.0zM462.4 216.8h1.0v1.0h-1.0zM421.6 209.1h1.0v1.0h-1.0zM352.4 208.2h1.0v1.0h-1.0zM416.8 217.6h1.0v1.0h-1.0zM292.4 209.7h1.0v1.0h-1.0zM491.9 216.0h1.0v1.0h-1.0zM261.2 216.2h1.0v1.0h-1.0zM495.6 217.0h1.0v1.0h-1.0zM359.0 216.4h1.0v1.0h-1.0zM358.0 216.8h1.0v1.0h-1.0zM503.9 216.3h1.0v1.0h-1.0zM352.0 209.3h1.0v1.0h-1.0zM341.9 209.6h1.0v1.0h-1.0zM341.7 209.6h1.0v1.0h-1.0zM434.5 216.6h1.0v1.0h-1.0zM395.6 216.3h1.0v1.0h-1.0zM305.6 209.6h1.0v1.0h-1.0zM390.1 209.4h1.0v1.0h-1.0zM339.2 208.0h1.0v1.0h-1.0zM303.4 216.9h1.0v1.0h-1.0zM467.9 209.8h1.0v1.0h-1.0zM232.4 216.3h1.0v1.0h-1.0zM452.2 217.3h1.0v1.0h-1.0zM253.3 209.8h1.0v1.0h-1.0zM395.3 209.4h1.0v1.0h-1.0zM486.4 216.2h1.0v1.0h-1.0zM379.5 216.3h1.0v1.0h-1.0zM236.7 209.4h1.0v1.0h-1.0zM436.1 216.5h1.0v1.0h-1.0zM255.5 207.8h1.0v1.0h-1.0zM477.2 216.1h1.0v1.0h-1.0zM270.9 216.0h1.0v1.0h-1.0zM342.6 216.1h1.0v1.0h-1.0zM279.3 209.8h1.0v1.0h-1.0zM320.8 215.9h1.0v1.0h-1.0zM302.8 216.7h1.0v1.0h-1.0zM334.7 216.5h1.0v1.0h-1.0zM474.7 209.0h1.0v1.0h-1.0zM483.1 208.2h1.0v1.0h-1.0zM477.9 209.5h1.0v1.0h-1.0zM448.3 216.5h1.0v1.0h-1.0zM268.4 208.4h1.0v1.0h-1.0zM397.4 216.7h1.0v1.0h-1.0zM313.4 216.8h1.0v1.0h-1.0zM306.3 216.7h1.0v1.0h-1.0zM316.1 209.0h1.0v1.0h-1.0zM280.3 209.6h1.0v1.0h-1.0zM291.0 216.2h1.0v1.0h-1.0zM356.9 208.5h1.0v1.0h-1.0zM389.9 216.4h1.0v1.0h-1.0zM316.8 209.6h1.0v1.0h-1.0zM404.5 216.6h1.0v1.0h-1.0zM259.0 216.2h1.0v1.0h-1.0zM461.2 209.5h1.0v1.0h-1.0zM377.3 216.7h1.0v1.0h-1.0zM489.4 217.1h1.0v1.0h-1.0zM494.9 216.0h1.0v1.0h-1.0zM388.2 216.1h1.0v1.0h-1.0zM355.1 209.4h1.0v1.0h-1.0zM227.5 216.5h1.0v1.0h-1.0zM367.3 207.6h1.0v1.0h-1.0zM338.6 209.2h1.0v1.0h-1.0zM227.7 209.6h1.0v1.0h-1.0zM344.1 216.2h1.0v1.0h-1.0zM349.9 208.2h1.0v1.0h-1.0zM336.5 216.4h1.0v1.0h-1.0zM438.8 217.0h1.0v1.0h-1.0zM344.4 216.5h1.0v1.0h-1.0zM473.9 209.0h1.0v1.0h-1.0zM248.1 209.9h1.0v1.0h-1.0zM380.3 209.0h1.0v1.0h-1.0zM502.7 216.4h1.0v1.0h-1.0zM295.9 216.4h1.0v1.0h-1.0zM228.2 216.5h1.0v1.0h-1.0zM371.1 217.2h1.0v1.0h-1.0zM283.8 216.8h1.0v1.0h-1.0zM388.7 209.8h1.0v1.0h-1.0zM384.0 209.6h1.0v1.0h-1.0zM424.4 217.4h1.0v1.0h-1.0zM232.5 208.4h1.0v1.0h-1.0zM316.3 217.2h1.0v1.0h-1.0zM454.8 209.4h1.0v1.0h-1.0zM413.1 217.3h1.0v1.0h-1.0zM243.2 217.0h1.0v1.0h-1.0zM327.6 216.3h1.0v1.0h-1.0zM462.8 208.4h1.0v1.0h-1.0zM376.9 215.9h1.0v1.0h-1.0zM398.5 216.7h1.0v1.0h-1.0zM455.0 209.4h1.0v1.0h-1.0zM444.8 209.2h1.0v1.0h-1.0zM419.0 217.3h1.0v1.0h-1.0zM436.5 217.7h1.0v1.0h-1.0zM245.4 209.8h1.0v1.0h-1.0zM408.5 208.9h1.0v1.0h-1.0zM295.1 208.2h1.0v1.0h-1.0zM498.3 216.4h1.0v1.0h-1.0zM452.0 209.5h1.0v1.0h-1.0zM495.3 209.2h1.0v1.0h-1.0zM482.3 216.5h1.0v1.0h-1.0zM397.0 209.5h1.0v1.0h-1.0zM429.5 209.2h1.0v1.0h-1.0zM325.9 208.3h1.0v1.0h-1.0zM312.1 216.1h1.0v1.0h-1.0zM481.7 217.1h1.0v1.0h-1.0zM244.3 216.7h1.0v1.0h-1.0zM395.3 216.3h1.0v1.0h-1.0zM458.4 217.0h1.0v1.0h-1.0zM317.4 209.6h1.0v1.0h-1.0zM317.5 216.7h1.0v1.0h-1.0zM398.1 208.5h1.0v1.0h-1.0zM506.7 209.6h1.0v1.0h-1.0zM245.2 216.2h1.0v1.0h-1.0zM322.0 208.4h1.0v1.0h-1.0zM329.0 216.2h1.0v1.0h-1.0zM325.3 217.2h1.0v1.0h-1.0zM231.0 216.2h1.0v1.0h-1.0zM376.7 208.5h1.0v1.0h-1.0zM503.2 209.1h1.0v1.0h-1.0zM315.2 216.9h1.0v1.0h-1.0zM491.8 217.0h1.0v1.0h-1.0zM416.8 209.4h1.0v1.0h-1.0zM303.2 216.6h1.0v1.0h-1.0zM453.9 216.6h1.0v1.0h-1.0zM459.4 216.3h1.0v1.0h-1.0zM239.4 216.7h1.0v1.0h-1.0zM371.5 216.7h1.0v1.0h-1.0zM462.1 209.3h1.0v1.0h-1.0zM377.7 216.0h1.0v1.0h-1.0zM349.9 209.3h1.0v1.0h-1.0zM348.7 209.0h1.0v1.0h-1.0zM468.8 216.5h1.0v1.0h-1.0zM245.6 209.5h1.0v1.0h-1.0zM441.9 216.5h1.0v1.0h-1.0zM232.2 216.1h1.0v1.0h-1.0zM481.1 209.9h1.0v1.0h-1.0zM398.3 217.5h1.0v1.0h-1.0zM324.7 216.4h1.0v1.0h-1.0zM447.2 209.2h1.0v1.0h-1.0zM252.5 216.5h1.0v1.0h-1.0zM399.3 209.2h1.0v1.0h-1.0zM337.2 216.0h1.0v1.0h-1.0zM303.2 208.5h1.0v1.0h-1.0zM449.4 216.2h1.0v1.0h-1.0zM356.6 209.1h1.0v1.0h-1.0zM388.9 209.0h1.0v1.0h-1.0zM353.9 216.4h1.0v1.0h-1.0zM500.8 208.8h1.0v1.0h-1.0zM493.0 209.1h1.0v1.0h-1.0zM307.9 209.8h1.0v1.0h-1.0zM410.5 217.1h1.0v1.0h-1.0zM355.0 209.1h1.0v1.0h-1.0zM332.6 216.4h1.0v1.0h-1.0zM310.7 208.0h1.0v1.0h-1.0zM242.0 209.7h1.0v1.0h-1.0zM419.0 209.7h1.0v1.0h-1.0zM228.0 216.0h1.0v1.0h-1.0zM302.0 208.1h1.0v1.0h-1.0zM455.8 216.0h1.0v1.0h-1.0zM400.9 208.5h1.0v1.0h-1.0zM499.2 209.4h1.0v1.0h-1.0zM362.8 216.5h1.0v1.0h-1.0zM304.9 209.3h1.0v1.0h-1.0zM465.7 217.1h1.0v1.0h-1.0zM404.2 216.3h1.0v1.0h-1.0zM423.8 209.3h1.0v1.0h-1.0zM487.0 216.0h1.0v1.0h-1.0zM394.1 208.9h1.0v1.0h-1.0zM412.2 209.0h1.0v1.0h-1.0zM473.0 209.9h1.0v1.0h-1.0zM469.3 216.6h1.0v1.0h-1.0zM311.2 209.7h1.0v1.0h-1.0zM449.3 216.1h1.0v1.0h-1.0zM296.9 217.3h1.0v1.0h-1.0zM244.2 217.5h1.0v1.0h-1.0zM371.7 209.0h1.0v1.0h-1.0zM442.5 216.4h1.0v1.0h-1.0zM266.0 209.8h1.0v1.0h-1.0zM380.7 216.8h1.0v1.0h-1.0zM378.7 216.4h1.0v1.0h-1.0zM495.1 216.8h1.0v1.0h-1.0zM256.7 209.7h1.0v1.0h-1.0zM282.7 209.6h1.0v1.0h-1.0zM373.1 216.2h1.0v1.0h-1.0zM474.5 216.4h1.0v1.0h-1.0zM366.3 209.0h1.0v1.0h-1.0zM498.5 208.1h1.0v1.0h-1.0zM435.3 216.1h1.0v1.0h-1.0zM288.6 209.4h1.0v1.0h-1.0zM377.9 216.2h1.0v1.0h-1.0zM329.7 217.7h1.0v1.0h-1.0zM237.1 208.1h1.0v1.0h-1.0zM435.8 209.8h1.0v1.0h-1.0zM366.7 216.4h1.0v1.0h-1.0zM335.5 209.4h1.0v1.0h-1.0zM370.8 216.1h1.0v1.0h-1.0zM497.9 216.2h1.0v1.0h-1.0zM408.8 216.8h1.0v1.0h-1.0zM340.2 209.8h1.0v1.0h-1.0zM432.9 215.9h1.0v1.0h-1.0zM322.4 216.0h1.0v1.0h-1.0zM379.7 208.9h1.0v1.0h-1.0zM238.9 216.2h1.0v1.0h-1.0zM340.0 217.3h1.0v1.0h-1.0zM470.3 209.3h1.0v1.0h-1.0zM253.7 209.1h1.0v1.0h-1.0zM343.1 208.4h1.0v1.0h-1.0zM234.4 216.7h1.0v1.0h-1.0zM430.2 209.3h1.0v1.0h-1.0zM440.6 209.8h1.0v1.0h-1.0zM269.2 217.0h1.0v1.0h-1.0zM256.7 209.6h1.0v1.0h-1.0zM335.3 217.3h1.0v1.0h-1.0zM430.7 216.8h1.0v1.0h-1.0zM411.5 209.4h1.0v1.0h-1.0zM481.2 209.6h1.0v1.0h-1.0zM398.4 216.0h1.0v1.0h-1.0zM239.2 209.4h1.0v1.0h-1.0zM375.1 209.7h1.0v1.0h-1.0zM281.2 208.4h1.0v1.0h-1.0zM257.4 217.4h1.0v1.0h-1.0z" fill="#7aac2a" opacity="1.0"/>
<path d="M505.3 215.1h1.0v1.0h-1.0zM492.8 201.9h1.0v1.0h-1.0zM371.6 210.7h1.0v1.0h-1.0zM368.8 215.1h1.0v1.0h-1.0zM438.8 209.9h1.0v1.0h-1.0zM260.9 209.0h1.0v1.0h-1.0zM500.5 211.7h1.0v1.0h-1.0zM446.4 213.8h1.0v1.0h-1.0zM352.9 222.2h1.0v1.0h-1.0zM429.5 209.0h1.0v1.0h-1.0zM475.9 211.0h1.0v1.0h-1.0zM341.2 210.4h1.0v1.0h-1.0zM384.1 210.8h1.0v1.0h-1.0zM418.2 214.8h1.0v1.0h-1.0zM422.8 208.5h1.0v1.0h-1.0zM358.3 202.1h1.0v1.0h-1.0zM461.0 209.3h1.0v1.0h-1.0zM465.3 218.7h1.0v1.0h-1.0zM336.0 207.9h1.0v1.0h-1.0zM258.9 213.6h1.0v1.0h-1.0zM323.4 203.8h1.0v1.0h-1.0zM490.5 216.6h1.0v1.0h-1.0zM447.4 216.0h1.0v1.0h-1.0zM426.3 216.2h1.0v1.0h-1.0zM254.3 213.4h1.0v1.0h-1.0zM365.2 214.8h1.0v1.0h-1.0zM374.8 212.4h1.0v1.0h-1.0zM394.3 207.9h1.0v1.0h-1.0zM283.0 211.6h1.0v1.0h-1.0zM299.2 220.3h1.0v1.0h-1.0zM455.8 218.7h1.0v1.0h-1.0zM391.5 212.0h1.0v1.0h-1.0zM283.2 219.6h1.0v1.0h-1.0zM363.1 212.7h1.0v1.0h-1.0zM491.4 218.6h1.0v1.0h-1.0zM394.1 216.7h1.0v1.0h-1.0zM480.1 208.1h1.0v1.0h-1.0zM373.1 211.6h1.0v1.0h-1.0zM458.5 216.6h1.0v1.0h-1.0zM453.1 219.5h1.0v1.0h-1.0zM299.0 217.7h1.0v1.0h-1.0zM312.6 219.8h1.0v1.0h-1.0zM327.9 207.9h1.0v1.0h-1.0zM401.2 221.4h1.0v1.0h-1.0zM478.3 203.7h1.0v1.0h-1.0zM333.0 213.1h1.0v1.0h-1.0zM313.5 212.4h1.0v1.0h-1.0zM233.9 215.5h1.0v1.0h-1.0zM424.5 216.9h1.0v1.0h-1.0zM383.0 219.0h1.0v1.0h-1.0zM314.0 206.9h1.0v1.0h-1.0zM360.4 208.6h1.0v1.0h-1.0zM429.4 210.5h1.0v1.0h-1.0zM402.6 211.3h1.0v1.0h-1.0zM268.1 209.5h1.0v1.0h-1.0zM262.8 212.1h1.0v1.0h-1.0zM352.6 210.0h1.0v1.0h-1.0zM357.2 214.4h1.0v1.0h-1.0zM353.8 222.9h1.0v1.0h-1.0zM478.8 208.3h1.0v1.0h-1.0zM303.2 217.1h1.0v1.0h-1.0zM350.3 222.6h1.0v1.0h-1.0zM423.9 206.6h1.0v1.0h-1.0zM358.5 209.5h1.0v1.0h-1.0zM333.8 214.5h1.0v1.0h-1.0zM263.3 209.0h1.0v1.0h-1.0zM410.2 218.0h1.0v1.0h-1.0zM476.9 214.1h1.0v1.0h-1.0zM413.8 219.1h1.0v1.0h-1.0zM296.6 220.9h1.0v1.0h-1.0zM295.0 213.6h1.0v1.0h-1.0zM273.5 211.5h1.0v1.0h-1.0zM341.9 210.7h1.0v1.0h-1.0zM413.2 214.4h1.0v1.0h-1.0zM323.0 203.9h1.0v1.0h-1.0zM431.9 202.2h1.0v1.0h-1.0zM406.5 215.8h1.0v1.0h-1.0zM498.3 207.9h1.0v1.0h-1.0zM274.8 213.2h1.0v1.0h-1.0zM261.7 199.2h1.0v1.0h-1.0zM504.3 209.6h1.0v1.0h-1.0zM437.3 214.4h1.0v1.0h-1.0zM450.9 207.6h1.0v1.0h-1.0zM503.8 216.8h1.0v1.0h-1.0zM382.3 221.3h1.0v1.0h-1.0zM325.6 213.3h1.0v1.0h-1.0zM418.5 216.0h1.0v1.0h-1.0zM495.1 215.0h1.0v1.0h-1.0zM414.6 204.1h1.0v1.0h-1.0zM332.1 206.2h1.0v1.0h-1.0zM236.9 217.1h1.0v1.0h-1.0zM247.3 213.0h1.0v1.0h-1.0zM327.6 218.8h1.0v1.0h-1.0zM366.7 218.7h1.0v1.0h-1.0zM372.7 210.6h1.0v1.0h-1.0zM506.7 215.6h1.0v1.0h-1.0zM493.1 206.7h1.0v1.0h-1.0zM355.3 216.1h1.0v1.0h-1.0zM405.4 214.7h1.0v1.0h-1.0zM339.2 204.5h1.0v1.0h-1.0zM471.6 218.9h1.0v1.0h-1.0zM405.2 203.6h1.0v1.0h-1.0zM401.9 216.7h1.0v1.0h-1.0zM453.7 218.5h1.0v1.0h-1.0zM488.5 217.7h1.0v1.0h-1.0zM363.8 207.6h1.0v1.0h-1.0zM267.5 218.6h1.0v1.0h-1.0zM298.4 207.1h1.0v1.0h-1.0zM316.1 214.3h1.0v1.0h-1.0zM296.4 210.7h1.0v1.0h-1.0zM363.2 215.9h1.0v1.0h-1.0zM384.4 214.9h1.0v1.0h-1.0zM372.6 220.0h1.0v1.0h-1.0zM382.2 217.4h1.0v1.0h-1.0zM420.5 210.7h1.0v1.0h-1.0zM423.5 210.8h1.0v1.0h-1.0zM308.1 216.1h1.0v1.0h-1.0zM360.8 205.4h1.0v1.0h-1.0zM333.0 209.0h1.0v1.0h-1.0z" fill="#a0a0a0" opacity="0.7"/>
<path d="M351.0 219.9h1.0v1.0h-1.0zM333.0 211.1h1.0v1.0h-1.0zM324.5 211.7h1.0v1.0h-1.0zM467.3 218.9h1.0v1.0h-1.0zM289.6 214.6h1.0v1.0h-1.0zM387.9 206.9h1.0v1.0h-1.0zM317.8 225.8h1.0v1.0h-1.0zM295.6 221.2h1.0v1.0h-1.0zM320.1 214.3h1.0v1.0h-1.0zM238.7 216.6h1.0v1.0h-1.0zM315.9 218.9h1.0v1.0h-1.0zM253.9 222.1h1.0v1.0h-1.0zM360.8 213.1h1.0v1.0h-1.0zM497.4 213.7h1.0v1.0h-1.0zM406.5 209.1h1.0v1.0h-1.0zM312.7 211.7h1.0v1.0h-1.0zM505.5 212.4h1.0v1.0h-1.0zM361.4 216.2h1.0v1.0h-1.0zM433.9 215.9h1.0v1.0h-1.0zM478.6 220.7h1.0v1.0h-1.0zM506.6 214.9h1.0v1.0h-1.0zM420.8 208.1h1.0v1.0h-1.0zM333.8 217.3h1.0v1.0h-1.0zM417.4 217.9h1.0v1.0h-1.0zM303.8 220.5h1.0v1.0h-1.0zM465.1 214.6h1.0v1.0h-1.0zM361.9 217.5h1.0v1.0h-1.0zM454.6 217.7h1.0v1.0h-1.0zM227.4 216.5h1.0v1.0h-1.0zM231.7 217.0h1.0v1.0h-1.0zM331.4 213.4h1.0v1.0h-1.0zM481.6 206.9h1.0v1.0h-1.0zM359.4 211.3h1.0v1.0h-1.0zM503.2 217.7h1.0v1.0h-1.0zM389.2 212.5h1.0v1.0h-1.0zM370.3 207.3h1.0v1.0h-1.0zM387.8 212.3h1.0v1.0h-1.0zM349.2 218.2h1.0v1.0h-1.0zM391.4 203.8h1.0v1.0h-1.0zM484.4 217.2h1.0v1.0h-1.0zM418.1 212.9h1.0v1.0h-1.0zM408.6 215.8h1.0v1.0h-1.0zM275.3 209.1h1.0v1.0h-1.0zM337.0 214.3h1.0v1.0h-1.0zM242.1 208.6h1.0v1.0h-1.0zM246.8 218.3h1.0v1.0h-1.0zM406.3 210.3h1.0v1.0h-1.0zM353.2 212.0h1.0v1.0h-1.0zM330.8 213.5h1.0v1.0h-1.0zM408.1 219.8h1.0v1.0h-1.0zM260.2 210.7h1.0v1.0h-1.0zM456.1 209.4h1.0v1.0h-1.0zM432.5 216.1h1.0v1.0h-1.0zM243.3 207.9h1.0v1.0h-1.0zM488.7 208.1h1.0v1.0h-1.0zM299.1 213.8h1.0v1.0h-1.0zM284.0 212.7h1.0v1.0h-1.0zM284.3 216.4h1.0v1.0h-1.0zM315.3 211.4h1.0v1.0h-1.0zM399.8 210.1h1.0v1.0h-1.0zM504.6 210.5h1.0v1.0h-1.0zM304.9 216.0h1.0v1.0h-1.0zM392.4 220.8h1.0v1.0h-1.0zM442.9 210.6h1.0v1.0h-1.0zM434.0 209.5h1.0v1.0h-1.0zM393.9 211.4h1.0v1.0h-1.0zM475.1 211.5h1.0v1.0h-1.0zM423.1 206.0h1.0v1.0h-1.0zM304.9 212.4h1.0v1.0h-1.0zM436.0 215.4h1.0v1.0h-1.0zM505.2 217.7h1.0v1.0h-1.0zM298.1 207.7h1.0v1.0h-1.0zM229.9 200.3h1.0v1.0h-1.0zM477.2 206.0h1.0v1.0h-1.0zM253.2 209.6h1.0v1.0h-1.0zM506.8 209.0h1.0v1.0h-1.0zM439.8 208.3h1.0v1.0h-1.0zM330.6 204.6h1.0v1.0h-1.0zM296.2 225.6h1.0v1.0h-1.0zM394.2 206.0h1.0v1.0h-1.0zM299.5 214.1h1.0v1.0h-1.0zM348.5 205.7h1.0v1.0h-1.0zM333.0 213.9h1.0v1.0h-1.0zM367.2 210.7h1.0v1.0h-1.0zM231.5 213.5h1.0v1.0h-1.0zM309.4 227.3h1.0v1.0h-1.0zM366.4 217.0h1.0v1.0h-1.0zM290.0 216.1h1.0v1.0h-1.0zM337.4 218.0h1.0v1.0h-1.0zM466.7 210.7h1.0v1.0h-1.0zM417.6 207.4h1.0v1.0h-1.0zM341.6 218.3h1.0v1.0h-1.0zM430.3 213.0h1.0v1.0h-1.0zM372.9 212.6h1.0v1.0h-1.0zM458.4 207.5h1.0v1.0h-1.0zM228.8 216.4h1.0v1.0h-1.0zM272.6 211.8h1.0v1.0h-1.0zM480.2 220.0h1.0v1.0h-1.0zM479.6 205.1h1.0v1.0h-1.0zM396.3 209.6h1.0v1.0h-1.0zM415.4 220.2h1.0v1.0h-1.0zM274.4 211.9h1.0v1.0h-1.0zM261.3 207.6h1.0v1.0h-1.0zM333.5 211.0h1.0v1.0h-1.0zM277.3 222.4h1.0v1.0h-1.0zM378.9 219.0h1.0v1.0h-1.0zM396.7 208.7h1.0v1.0h-1.0zM458.8 205.6h1.0v1.0h-1.0zM365.4 221.0h1.0v1.0h-1.0zM457.2 210.3h1.0v1.0h-1.0zM298.8 209.0h1.0v1.0h-1.0zM410.3 208.9h1.0v1.0h-1.0zM242.1 210.3h1.0v1.0h-1.0zM303.4 211.8h1.0v1.0h-1.0zM487.0 212.4h1.0v1.0h-1.0zM373.5 221.8h1.0v1.0h-1.0z" fill="#b0b0a0" opacity="0.7"/>
<path d="M306.7 205.9h1.0v1.0h-1.0zM286.1 212.5h1.0v1.0h-1.0zM405.3 208.2h1.0v1.0h-1.0zM433.6 216.6h1.0v1.0h-1.0zM354.5 209.8h1.0v1.0h-1.0zM282.5 213.7h1.0v1.0h-1.0zM300.7 223.0h1.0v1.0h-1.0zM266.5 208.1h1.0v1.0h-1.0zM232.7 216.2h1.0v1.0h-1.0zM483.5 212.2h1.0v1.0h-1.0zM495.5 208.6h1.0v1.0h-1.0zM368.9 206.6h1.0v1.0h-1.0zM287.2 219.6h1.0v1.0h-1.0zM284.0 212.4h1.0v1.0h-1.0zM480.7 218.3h1.0v1.0h-1.0zM444.4 221.1h1.0v1.0h-1.0zM375.0 203.1h1.0v1.0h-1.0zM376.5 209.9h1.0v1.0h-1.0zM498.2 208.3h1.0v1.0h-1.0zM456.1 222.2h1.0v1.0h-1.0zM375.6 213.8h1.0v1.0h-1.0zM486.2 212.7h1.0v1.0h-1.0zM368.9 210.4h1.0v1.0h-1.0zM320.1 217.7h1.0v1.0h-1.0zM272.5 199.7h1.0v1.0h-1.0zM368.8 223.3h1.0v1.0h-1.0zM334.4 216.7h1.0v1.0h-1.0zM403.8 219.8h1.0v1.0h-1.0zM443.5 224.9h1.0v1.0h-1.0zM368.5 215.4h1.0v1.0h-1.0zM386.7 215.1h1.0v1.0h-1.0zM418.9 203.3h1.0v1.0h-1.0zM478.6 207.6h1.0v1.0h-1.0zM393.2 213.0h1.0v1.0h-1.0zM405.7 211.6h1.0v1.0h-1.0zM392.7 219.8h1.0v1.0h-1.0zM271.5 225.3h1.0v1.0h-1.0zM296.1 207.6h1.0v1.0h-1.0zM477.1 219.0h1.0v1.0h-1.0zM328.5 206.9h1.0v1.0h-1.0zM235.5 203.2h1.0v1.0h-1.0zM502.9 212.3h1.0v1.0h-1.0zM270.0 210.8h1.0v1.0h-1.0zM301.7 216.1h1.0v1.0h-1.0zM467.0 210.7h1.0v1.0h-1.0zM453.5 206.7h1.0v1.0h-1.0zM324.7 215.0h1.0v1.0h-1.0zM281.5 212.9h1.0v1.0h-1.0zM269.1 220.5h1.0v1.0h-1.0zM443.8 208.4h1.0v1.0h-1.0zM442.8 211.5h1.0v1.0h-1.0zM490.3 205.5h1.0v1.0h-1.0zM247.1 210.9h1.0v1.0h-1.0zM483.5 212.1h1.0v1.0h-1.0zM458.4 211.7h1.0v1.0h-1.0zM501.9 208.1h1.0v1.0h-1.0zM492.4 199.5h1.0v1.0h-1.0zM473.1 213.7h1.0v1.0h-1.0zM433.1 208.9h1.0v1.0h-1.0zM234.0 215.6h1.0v1.0h-1.0zM452.9 209.4h1.0v1.0h-1.0zM378.9 216.6h1.0v1.0h-1.0zM266.4 217.4h1.0v1.0h-1.0zM477.1 217.7h1.0v1.0h-1.0zM352.2 219.8h1.0v1.0h-1.0zM316.1 214.0h1.0v1.0h-1.0zM227.4 210.6h1.0v1.0h-1.0zM436.1 209.7h1.0v1.0h-1.0zM424.5 209.3h1.0v1.0h-1.0zM292.5 216.5h1.0v1.0h-1.0zM252.1 210.1h1.0v1.0h-1.0zM392.1 221.4h1.0v1.0h-1.0zM346.9 204.1h1.0v1.0h-1.0zM232.1 202.5h1.0v1.0h-1.0zM262.0 208.7h1.0v1.0h-1.0zM461.6 204.7h1.0v1.0h-1.0zM503.2 209.2h1.0v1.0h-1.0zM462.7 211.1h1.0v1.0h-1.0zM329.5 211.9h1.0v1.0h-1.0zM403.7 217.4h1.0v1.0h-1.0zM444.3 210.1h1.0v1.0h-1.0zM342.2 212.6h1.0v1.0h-1.0zM477.7 214.0h1.0v1.0h-1.0zM295.3 219.6h1.0v1.0h-1.0zM429.4 209.1h1.0v1.0h-1.0zM304.6 219.5h1.0v1.0h-1.0zM293.6 212.4h1.0v1.0h-1.0zM446.9 210.4h1.0v1.0h-1.0zM246.9 211.1h1.0v1.0h-1.0zM419.6 207.9h1.0v1.0h-1.0zM427.8 217.8h1.0v1.0h-1.0zM501.2 206.0h1.0v1.0h-1.0zM287.2 210.0h1.0v1.0h-1.0zM376.2 219.5h1.0v1.0h-1.0zM229.4 203.1h1.0v1.0h-1.0zM245.9 207.3h1.0v1.0h-1.0zM489.8 216.9h1.0v1.0h-1.0zM462.8 216.8h1.0v1.0h-1.0zM245.7 222.0h1.0v1.0h-1.0zM251.9 212.3h1.0v1.0h-1.0zM310.3 221.4h1.0v1.0h-1.0zM263.7 216.8h1.0v1.0h-1.0zM440.5 210.3h1.0v1.0h-1.0zM289.3 219.6h1.0v1.0h-1.0zM361.7 213.6h1.0v1.0h-1.0zM372.6 198.0h1.0v1.0h-1.0zM282.4 211.9h1.0v1.0h-1.0zM231.4 215.9h1.0v1.0h-1.0zM466.7 214.3h1.0v1.0h-1.0zM239.8 218.0h1.0v1.0h-1.0zM396.7 209.9h1.0v1.0h-1.0zM266.0 201.8h1.0v1.0h-1.0zM276.5 212.6h1.0v1.0h-1.0zM308.9 215.8h1.0v1.0h-1.0zM362.5 217.3h1.0v1.0h-1.0zM313.9 204.7h1.0v1.0h-1.0zM280.1 222.6h1.0v1.0h-1.0zM279.6 210.1h1.0v1.0h-1.0zM482.4 206.8h1.0v1.0h-1.0zM319.3 213.0h1.0v1.0h-1.0zM249.1 226.1h1.0v1.0h-1.0zM495.6 206.8h1.0v1.0h-1.0zM500.9 215.2h1.0v1.0h-1.0zM498.0 215.0h1.0v1.0h-1.0zM273.0 210.3h1.0v1.0h-1.0z" fill="#98c050" opacity="0.7"/>
<rect x="263.2" y="206" width="1" height="12" fill="#fff" opacity="0.8"/>
<rect x="45.5" y="243.3" width="168.2" height="6.299999999999983" fill="#f4f4f4"/>
<rect x="50.7" y="243.3" width="1.2999999999999972" height="6.299999999999983" fill="#8a8a8a"/>
<rect x="58.8" y="243.3" width="1.2000000000000028" height="6.299999999999983" fill="#b8b8b8"/>
<rect x="67" y="243.3" width="20" height="6.299999999999983" fill="#5a5a5a"/>
<rect x="94" y="243.3" width="12" height="6.299999999999983" fill="#5a5a5a"/>
<rect x="119.5" y="243.3" width="8.0" height="6.299999999999983" fill="#b8b8b8"/>
<rect x="129" y="243.3" width="19" height="6.299999999999983" fill="#5a5a5a"/>
<rect x="153" y="243.3" width="17.69999999999999" height="6.299999999999983" fill="#5a5a5a"/>
<rect x="176" y="243.3" width="12" height="6.299999999999983" fill="#5a5a5a"/>
<rect x="192" y="243.3" width="9.599999999999994" height="6.299999999999983" fill="#5a5a5a"/>
<rect x="224.5" y="243.3" width="282.9" height="6.299999999999983" fill="#f4f4f4"/>
<rect x="239.3" y="243.3" width="16.19999999999999" height="6.299999999999983" fill="#8a8a8a"/>
<rect x="270.3" y="243.3" width="25.69999999999999" height="6.299999999999983" fill="#5a5a5a"/>
<rect x="301.3" y="243.3" width="9.399999999999977" height="6.299999999999983" fill="#8a8a8a"/>
<rect x="313.4" y="243.3" width="16.100000000000023" height="6.299999999999983" fill="#5a5a5a"/>
<rect x="347" y="243.3" width="2.6999999999999886" height="6.299999999999983" fill="#8a8a8a"/>
<rect x="356.4" y="243.3" width="22.900000000000034" height="6.299999999999983" fill="#5a5a5a"/>
<rect x="386" y="243.3" width="10.899999999999977" height="6.299999999999983" fill="#8a8a8a"/>
<rect x="404.6" y="243.3" width="10.399999999999977" height="6.299999999999983" fill="#8a8a8a"/>
<rect x="418.5" y="243.3" width="3.5" height="6.299999999999983" fill="#b8b8b8"/>
<rect x="430" y="243.3" width="16" height="6.299999999999983" fill="#8a8a8a"/>
<rect x="461" y="243.3" width="14" height="6.299999999999983" fill="#5a5a5a"/>
<rect x="489" y="243.3" width="7" height="6.299999999999983" fill="#8a8a8a"/>
<rect x="45.5" y="245.19" width="168.2" height="2.52" fill="#fff" opacity="0.28"/>
<rect x="224.5" y="245.19" width="282.9" height="2.52" fill="#fff" opacity="0.28"/>
<rect x="45.5" y="243.3" width="168.2" height="6.299999999999983" fill="none" stroke="#666" stroke-width="0.9"/>
<rect x="224.5" y="243.3" width="282.9" height="6.299999999999983" fill="none" stroke="#666" stroke-width="0.9"/>
<line x1="213.7" y1="246.45" x2="224.5" y2="246.45" stroke="#666" stroke-width="1"/>
<text x="8.3" y="273.8" font-size="12" text-anchor="start" font-weight="bold" font-style="normal" fill="#111" style="stroke:none">B</text>
<text x="71.4" y="286" font-size="10" text-anchor="start" font-weight="normal" font-style="normal" fill="#1a1a1a" >F2: II-4</text>
<rect x="20" y="299.8" width="134" height="134.7" fill="#1a1711"/>
<rect x="20.5" y="300.3" width="133" height="133.7" fill="none" stroke="#070707" stroke-width="1"/>
<defs><filter id="bl" x="-50%" y="-50%" width="200%" height="200%"><feGaussianBlur stdDeviation="1.2"/></filter><clipPath id="cb"><rect x="21" y="300.5" width="132.5" height="133"/></clipPath></defs>
<g clip-path="url(#cb)" filter="url(#bl)">
<rect x="67.3" y="305.9" width="18.6" height="7.0" rx="3" fill="#2a3ea0" transform="rotate(28 76.6 309.4)"/>
<rect x="71.0" y="308.2" width="11.1" height="2.4" rx="1.2" fill="#3c58c0" transform="rotate(28 76.6 309.4)"/>
<rect x="85.1" y="315.8" width="16.3" height="5.3" rx="2.7" fill="#2a3ea0" transform="rotate(36 93.2 318.4)"/>
<rect x="85.1" y="315.8" width="16.3" height="5.3" rx="2.7" fill="#2a3ea0" transform="rotate(-36 93.2 318.4)"/>
<ellipse cx="93.2" cy="318.4" rx="2.2" ry="1.6" fill="#3c58c0"/>
<rect x="60.3" y="315.6" width="15.0" height="4.9" rx="2.4" fill="#2a3ea0" transform="rotate(36 67.8 318.0)"/>
<rect x="60.3" y="315.6" width="15.0" height="4.9" rx="2.4" fill="#2a3ea0" transform="rotate(-36 67.8 318.0)"/>
<ellipse cx="67.8" cy="318.0" rx="2.0" ry="1.5" fill="#3c58c0"/>
<rect x="64.2" y="324.2" width="5.0" height="5.4" rx="3.5" fill="#2a3ea0"/>
<ellipse cx="66.7" cy="326.9" rx="1.2" ry="1.4" fill="#3c58c0"/>
<rect x="62.4" y="329.7" width="6.9" height="8.9" rx="3.5" fill="#2a3ea0"/>
<ellipse cx="65.8" cy="334.2" rx="1.5" ry="2.1" fill="#3c58c0"/>
<rect x="87.5" y="325.1" width="7.0" height="7.2" rx="3.5" fill="#2a3ea0"/>
<ellipse cx="91.0" cy="328.7" rx="1.6" ry="1.8" fill="#3c58c0"/>
<rect x="92.1" y="334.1" width="7.8" height="8.2" rx="3.5" fill="#2a3ea0"/>
<ellipse cx="96.0" cy="338.1" rx="1.7" ry="2.0" fill="#3c58c0"/>
<rect x="38.0" y="329.7" width="8.9" height="8.9" rx="3.5" fill="#2a3ea0"/>
<ellipse cx="42.5" cy="334.2" rx="1.9" ry="2.1" fill="#3c58c0"/>
<rect x="30.9" y="338.6" width="8.1" height="13.6" rx="3.5" fill="#2a3ea0"/>
<ellipse cx="34.9" cy="345.4" rx="1.8" ry="3.2" fill="#3c58c0"/>
<rect x="43.5" y="340.5" width="7.0" height="8.8" rx="3.5" fill="#2a3ea0"/>
<ellipse cx="47.0" cy="344.9" rx="1.6" ry="2.1" fill="#3c58c0"/>
<rect x="113.6" y="327.7" width="7.2" height="7.2" rx="3.5" fill="#2a3ea0"/>
<ellipse cx="117.2" cy="331.3" rx="1.6" ry="1.8" fill="#3c58c0"/>
<rect x="127.4" y="332.2" width="8.2" height="9.1" rx="3.5" fill="#2a3ea0"/>
<ellipse cx="131.4" cy="336.8" rx="1.8" ry="2.2" fill="#3c58c0"/>
<rect x="114.9" y="341.5" width="15.7" height="5.9" rx="3.0" fill="#2a3ea0" transform="rotate(47 122.7 344.5)"/>
<rect x="114.9" y="341.5" width="15.7" height="5.9" rx="3.0" fill="#2a3ea0" transform="rotate(-47 122.7 344.5)"/>
<ellipse cx="122.7" cy="344.5" rx="1.8" ry="1.9" fill="#3c58c0"/>
<rect x="31.8" y="355.7" width="7.1" height="8.9" rx="3.5" fill="#2a3ea0"/>
<ellipse cx="35.4" cy="360.2" rx="1.6" ry="2.1" fill="#3c58c0"/>
<rect x="61.5" y="352.0" width="6.9" height="10.0" rx="3.5" fill="#2a3ea0"/>
<ellipse cx="65.0" cy="357.0" rx="1.5" ry="2.4" fill="#3c58c0"/>
<rect x="58.6" y="362.0" width="11.7" height="8.9" rx="3.5" fill="#2a3ea0"/>
<ellipse cx="64.5" cy="366.5" rx="2.5" ry="2.1" fill="#3c58c0"/>
<rect x="48.8" y="369.1" width="8.9" height="8.2" rx="3.5" fill="#2a3ea0"/>
<ellipse cx="53.3" cy="373.1" rx="1.9" ry="2.0" fill="#3c58c0"/>
<rect x="47.1" y="380.2" width="6.0" height="5.0" rx="3.5" fill="#2a3ea0"/>
<ellipse cx="50.1" cy="382.7" rx="1.4" ry="1.3" fill="#3c58c0"/>
<rect x="29.6" y="389.2" width="20.4" height="7.6" rx="3.8" fill="#2a3ea0" transform="rotate(42 39.8 393.0)"/>
<rect x="29.6" y="389.2" width="20.4" height="7.6" rx="3.8" fill="#2a3ea0" transform="rotate(-42 39.8 393.0)"/>
<ellipse cx="39.8" cy="393.0" rx="2.5" ry="2.3" fill="#3c58c0"/>
<rect x="63.8" y="347.1" width="15.0" height="4.9" rx="2.4" fill="#2a3ea0" transform="rotate(36 71.2 349.5)"/>
<rect x="63.8" y="347.1" width="15.0" height="4.9" rx="2.4" fill="#2a3ea0" transform="rotate(-36 71.2 349.5)"/>
<ellipse cx="71.2" cy="349.5" rx="2.0" ry="1.5" fill="#3c58c0"/>
<rect x="91.2" y="346.0" width="5.0" height="5.9" rx="3.5" fill="#2a3ea0"/>
<ellipse cx="93.7" cy="348.9" rx="1.2" ry="1.5" fill="#3c58c0"/>
<rect x="97.3" y="347.9" width="12.4" height="4.9" rx="2.4" fill="#2a3ea0" transform="rotate(45 103.5 350.3)"/>
<rect x="97.3" y="347.9" width="12.4" height="4.9" rx="2.4" fill="#2a3ea0" transform="rotate(-45 103.5 350.3)"/>
<ellipse cx="103.5" cy="350.3" rx="1.5" ry="1.5" fill="#3c58c0"/>
<rect x="108.1" y="345.0" width="8.2" height="8.9" rx="3.5" fill="#2a3ea0"/>
<ellipse cx="112.2" cy="349.5" rx="1.8" ry="2.1" fill="#3c58c0"/>
<rect x="91.1" y="353.2" width="6.0" height="5.0" rx="3.5" fill="#2a3ea0"/>
<ellipse cx="94.2" cy="355.7" rx="1.4" ry="1.3" fill="#3c58c0"/>
<rect x="76.7" y="358.5" width="7.0" height="7.0" rx="3.5" fill="#2a3ea0"/>
<ellipse cx="80.2" cy="362.0" rx="1.6" ry="1.7" fill="#3c58c0"/>
<rect x="71.2" y="368.3" width="9.9" height="10.8" rx="3.5" fill="#2a3ea0"/>
<ellipse cx="76.2" cy="373.6" rx="2.1" ry="2.5" fill="#3c58c0"/>
<rect x="90.1" y="373.0" width="7.1" height="5.0" rx="3.5" fill="#2a3ea0"/>
<ellipse cx="93.7" cy="375.5" rx="1.6" ry="1.3" fill="#3c58c0"/>
<rect x="82.1" y="378.4" width="6.0" height="5.0" rx="3.5" fill="#2a3ea0"/>
<ellipse cx="85.2" cy="380.9" rx="1.4" ry="1.3" fill="#3c58c0"/>
<rect x="104.7" y="378.2" width="15.6" height="5.1" rx="2.5" fill="#2a3ea0" transform="rotate(36 112.5 380.7)"/>
<rect x="104.7" y="378.2" width="15.6" height="5.1" rx="2.5" fill="#2a3ea0" transform="rotate(-36 112.5 380.7)"/>
<ellipse cx="112.5" cy="380.7" rx="2.1" ry="1.5" fill="#3c58c0"/>
<rect x="130.2" y="350.0" width="14.5" height="5.5" rx="2.7" fill="#2a3ea0" transform="rotate(43 137.5 352.8)"/>
<rect x="130.2" y="350.0" width="14.5" height="5.5" rx="2.7" fill="#2a3ea0" transform="rotate(-43 137.5 352.8)"/>
<ellipse cx="137.5" cy="352.8" rx="1.8" ry="1.6" fill="#3c58c0"/>
<rect x="121.5" y="364.4" width="18.0" height="7.0" rx="3" fill="#2a3ea0" transform="rotate(40 130.6 367.9)"/>
<rect x="125.1" y="366.8" width="10.8" height="2.4" rx="1.2" fill="#3c58c0" transform="rotate(40 130.6 367.9)"/>
<rect x="139.3" y="358.6" width="9.1" height="12.2" rx="3.5" fill="#2a3ea0"/>
<ellipse cx="143.9" cy="364.7" rx="2.0" ry="2.9" fill="#3c58c0"/>
<rect x="110.1" y="365.0" width="7.8" height="9.4" rx="3.5" fill="#2a3ea0"/>
<ellipse cx="114.0" cy="369.7" rx="1.7" ry="2.2" fill="#3c58c0"/>
<rect x="52.1" y="390.0" width="12.2" height="10.0" rx="3.5" fill="#2a3ea0"/>
<ellipse cx="58.2" cy="395.0" rx="2.6" ry="2.4" fill="#3c58c0"/>
<rect x="50.2" y="401.7" width="14.1" height="13.1" rx="3.5" fill="#2a3ea0"/>
<ellipse cx="57.3" cy="408.2" rx="3.0" ry="3.1" fill="#3c58c0"/>
<rect x="52.2" y="414.8" width="9.1" height="8.2" rx="3.5" fill="#2a3ea0"/>
<ellipse cx="56.8" cy="418.9" rx="2.0" ry="2.0" fill="#3c58c0"/>
<rect x="61.2" y="401.5" width="18.5" height="7.0" rx="3.5" fill="#2a3ea0" transform="rotate(47 70.5 405.0)"/>
<rect x="61.2" y="401.5" width="18.5" height="7.0" rx="3.5" fill="#2a3ea0" transform="rotate(-47 70.5 405.0)"/>
<ellipse cx="70.5" cy="405.0" rx="2.1" ry="2.3" fill="#3c58c0"/>
<rect x="79.6" y="396.4" width="11.2" height="8.2" rx="3.5" fill="#2a3ea0"/>
<ellipse cx="85.2" cy="400.5" rx="2.4" ry="2.0" fill="#3c58c0"/>
<rect x="89.0" y="402.3" width="14.4" height="5.4" rx="2.7" fill="#2a3ea0" transform="rotate(42 96.2 405.0)"/>
<rect x="89.0" y="402.3" width="14.4" height="5.4" rx="2.7" fill="#2a3ea0" transform="rotate(-42 96.2 405.0)"/>
<ellipse cx="96.2" cy="405.0" rx="1.8" ry="1.6" fill="#3c58c0"/>
<rect x="87.0" y="410.9" width="10.0" height="12.2" rx="3.5" fill="#2a3ea0"/>
<ellipse cx="92.0" cy="417.0" rx="2.2" ry="2.9" fill="#3c58c0"/>
<rect x="74.0" y="418.4" width="10.2" height="9.1" rx="3.5" fill="#2a3ea0"/>
<ellipse cx="79.1" cy="423.0" rx="2.2" ry="2.2" fill="#3c58c0"/>
<rect x="98.6" y="395.1" width="20.2" height="7.0" rx="3" fill="#2a3ea0" transform="rotate(75 108.8 398.6)"/>
<rect x="102.7" y="397.4" width="12.1" height="2.4" rx="1.2" fill="#3c58c0" transform="rotate(75 108.8 398.6)"/>
<rect x="82" y="340.5" width="8.5" height="10.5" rx="3" fill="#c8348c"/>
<rect x="84.8" y="339.2" width="3.4" height="13" rx="1.7" fill="#e048a8" transform="rotate(22 86.5 345.7)"/>
<rect x="84.8" y="339.2" width="3.4" height="13" rx="1.7" fill="#e048a8" transform="rotate(-22 86.5 345.7)"/>
</g>
<text x="78" y="340.5" font-size="5.5" text-anchor="start" font-weight="bold" font-style="normal" fill="#f0f0f0" style="stroke:none">7</text>
<text x="164" y="275" font-size="12" text-anchor="start" font-weight="bold" font-style="normal" fill="#111" style="stroke:none">C</text>
<text x="264.8" y="285.5" font-size="10" text-anchor="start" font-weight="normal" font-style="normal" fill="#1a1a1a" >F1: I-3</text>
<line x1="204" y1="307" x2="204" y2="468.3" stroke="#111" stroke-width="1.6"/>
<line x1="201" y1="467.5" x2="204" y2="467.5" stroke="#111" stroke-width="1.3"/>
<text x="198.5" y="470.6" font-size="8.7" text-anchor="end" font-weight="normal" font-style="normal" fill="#1a1a1a" >0</text>
<line x1="201" y1="436.0" x2="204" y2="436.0" stroke="#111" stroke-width="1.3"/>
<text x="198.5" y="439.1" font-size="8.7" text-anchor="end" font-weight="normal" font-style="normal" fill="#1a1a1a" >10</text>
<line x1="201" y1="404.5" x2="204" y2="404.5" stroke="#111" stroke-width="1.3"/>
<text x="198.5" y="407.6" font-size="8.7" text-anchor="end" font-weight="normal" font-style="normal" fill="#1a1a1a" >20</text>
<line x1="201" y1="373.0" x2="204" y2="373.0" stroke="#111" stroke-width="1.3"/>
<text x="198.5" y="376.1" font-size="8.7" text-anchor="end" font-weight="normal" font-style="normal" fill="#1a1a1a" >30</text>
<line x1="201" y1="341.5" x2="204" y2="341.5" stroke="#111" stroke-width="1.3"/>
<text x="198.5" y="344.6" font-size="8.7" text-anchor="end" font-weight="normal" font-style="normal" fill="#1a1a1a" >40</text>
<line x1="201" y1="310.0" x2="204" y2="310.0" stroke="#111" stroke-width="1.3"/>
<text x="198.5" y="313.1" font-size="8.7" text-anchor="end" font-weight="normal" font-style="normal" fill="#1a1a1a" >50</text>
<line x1="203.2" y1="467.5" x2="354.8" y2="467.5" stroke="#111" stroke-width="1.6"/>
<rect x="209.8" y="310.0" width="23.399999999999977" height="157.5" fill="#000"/>
<line x1="221.5" y1="310.0" x2="221.5" y2="305.905" stroke="#111" stroke-width="1.3"/>
<line x1="209.8" y1="305.905" x2="233.2" y2="305.905" stroke="#111" stroke-width="1.3"/>
<line x1="221.5" y1="467.5" x2="221.5" y2="470.5" stroke="#111" stroke-width="1.2"/>
<rect x="239.3" y="410.8" width="23.19999999999999" height="56.69999999999999" fill="#000"/>
<line x1="250.9" y1="410.8" x2="250.9" y2="392.845" stroke="#111" stroke-width="1.3"/>
<line x1="239.3" y1="392.845" x2="262.5" y2="392.845" stroke="#111" stroke-width="1.3"/>
<line x1="250.9" y1="467.5" x2="250.9" y2="470.5" stroke="#111" stroke-width="1.2"/>
<rect x="268.5" y="369.85" width="22.80000000000001" height="97.64999999999998" fill="#000"/>
<line x1="279.9" y1="369.85" x2="279.9" y2="344.02" stroke="#111" stroke-width="1.3"/>
<line x1="268.5" y1="344.02" x2="291.3" y2="344.02" stroke="#111" stroke-width="1.3"/>
<line x1="279.9" y1="467.5" x2="279.9" y2="470.5" stroke="#111" stroke-width="1.2"/>
<rect x="297" y="373.0" width="23.19999999999999" height="94.5" fill="#000"/>
<line x1="308.6" y1="373.0" x2="308.6" y2="363.235" stroke="#111" stroke-width="1.3"/>
<line x1="297" y1="363.235" x2="320.2" y2="363.235" stroke="#111" stroke-width="1.3"/>
<line x1="308.6" y1="467.5" x2="308.6" y2="470.5" stroke="#111" stroke-width="1.2"/>
<rect x="326.2" y="401.35" width="23.400000000000034" height="66.14999999999998" fill="#000"/>
<line x1="337.9" y1="401.35" x2="337.9" y2="385.915" stroke="#111" stroke-width="1.3"/>
<line x1="326.2" y1="385.915" x2="349.6" y2="385.915" stroke="#111" stroke-width="1.3"/>
<line x1="337.9" y1="467.5" x2="337.9" y2="470.5" stroke="#111" stroke-width="1.2"/>
<text x="221.5" y="480.5" font-size="8.4" text-anchor="middle" font-weight="normal" font-style="normal" fill="#1a1a1a" >Fibroblasts</text>
<text x="250.9" y="480.5" font-size="8.4" text-anchor="middle" font-weight="normal" font-style="normal" fill="#1a1a1a" >BM</text>
<text x="250.9" y="490.6" font-size="8.4" text-anchor="middle" font-weight="normal" font-style="normal" fill="#1a1a1a" >54yo</text>
<text x="279.9" y="480.5" font-size="8.4" text-anchor="middle" font-weight="normal" font-style="normal" fill="#1a1a1a" >BM</text>
<text x="279.9" y="490.6" font-size="8.4" text-anchor="middle" font-weight="normal" font-style="normal" fill="#1a1a1a" >55yo</text>
<text x="308.6" y="480.5" font-size="8.4" text-anchor="middle" font-weight="normal" font-style="normal" fill="#1a1a1a" >BM</text>
<text x="308.6" y="490.6" font-size="8.4" text-anchor="middle" font-weight="normal" font-style="normal" fill="#1a1a1a" >56yo</text>
<text x="337.9" y="480.5" font-size="8.4" text-anchor="middle" font-weight="normal" font-style="normal" fill="#1a1a1a" >BM</text>
<text x="337.9" y="490.6" font-size="8.4" text-anchor="middle" font-weight="normal" font-style="normal" fill="#1a1a1a" >57yo</text>
<text transform="translate(183.0,387) rotate(-90)" font-size="8.9" text-anchor="middle" fill="#1a1a1a"><tspan font-style="italic">SAMD9L</tspan> c.2956C&gt;T (%)</text>
<text x="364.4" y="275" font-size="12" text-anchor="start" font-weight="bold" font-style="normal" fill="#111" style="stroke:none">D</text>
<text x="441.3" y="285.5" font-size="10" text-anchor="start" font-weight="normal" font-style="normal" fill="#1a1a1a" >F2: II-4</text>
<line x1="405.5" y1="307" x2="405.5" y2="468.3" stroke="#111" stroke-width="1.6"/>
<line x1="402.5" y1="467.5" x2="405.5" y2="467.5" stroke="#111" stroke-width="1.3"/>
<text x="400.0" y="470.6" font-size="8.7" text-anchor="end" font-weight="normal" font-style="normal" fill="#1a1a1a" >0</text>
<line x1="402.5" y1="436.0" x2="405.5" y2="436.0" stroke="#111" stroke-width="1.3"/>
<text x="400.0" y="439.1" font-size="8.7" text-anchor="end" font-weight="normal" font-style="normal" fill="#1a1a1a" >10</text>
<line x1="402.5" y1="404.5" x2="405.5" y2="404.5" stroke="#111" stroke-width="1.3"/>
<text x="400.0" y="407.6" font-size="8.7" text-anchor="end" font-weight="normal" font-style="normal" fill="#1a1a1a" >20</text>
<line x1="402.5" y1="373.0" x2="405.5" y2="373.0" stroke="#111" stroke-width="1.3"/>
<text x="400.0" y="376.1" font-size="8.7" text-anchor="end" font-weight="normal" font-style="normal" fill="#1a1a1a" >30</text>
<line x1="402.5" y1="341.5" x2="405.5" y2="341.5" stroke="#111" stroke-width="1.3"/>
<text x="400.0" y="344.6" font-size="8.7" text-anchor="end" font-weight="normal" font-style="normal" fill="#1a1a1a" >40</text>
<line x1="402.5" y1="310.0" x2="405.5" y2="310.0" stroke="#111" stroke-width="1.3"/>
<text x="400.0" y="313.1" font-size="8.7" text-anchor="end" font-weight="normal" font-style="normal" fill="#1a1a1a" >50</text>
<line x1="404.7" y1="467.5" x2="508.7" y2="467.5" stroke="#111" stroke-width="1.6"/>
<rect x="411" y="410.8" width="26.5" height="56.69999999999999" fill="#000"/>
<line x1="424.25" y1="410.8" x2="424.25" y2="407.96500000000003" stroke="#111" stroke-width="1.3"/>
<line x1="411" y1="407.96500000000003" x2="437.5" y2="407.96500000000003" stroke="#111" stroke-width="1.3"/>
<line x1="424.25" y1="467.5" x2="424.25" y2="470.5" stroke="#111" stroke-width="1.2"/>
<rect x="443.8" y="454.585" width="25.899999999999977" height="12.91500000000002" fill="#000"/>
<line x1="456.75" y1="454.585" x2="456.75" y2="450.49" stroke="#111" stroke-width="1.3"/>
<line x1="443.8" y1="450.49" x2="469.7" y2="450.49" stroke="#111" stroke-width="1.3"/>
<line x1="456.75" y1="467.5" x2="456.75" y2="470.5" stroke="#111" stroke-width="1.2"/>
<rect x="477" y="304.015" width="26" height="163.485" fill="#000"/>
<line x1="490.0" y1="304.015" x2="490.0" y2="291.415" stroke="#111" stroke-width="1.3"/>
<line x1="477" y1="291.415" x2="503" y2="291.415" stroke="#111" stroke-width="1.3"/>
<line x1="490.0" y1="467.5" x2="490.0" y2="470.5" stroke="#111" stroke-width="1.2"/>
<text x="424.3" y="480.5" font-size="8.4" text-anchor="middle" font-weight="normal" font-style="normal" fill="#1a1a1a" >Blood</text>
<text x="424.3" y="490.6" font-size="8.4" text-anchor="middle" font-weight="normal" font-style="normal" fill="#1a1a1a" >pre–HSCT</text>
<text x="456.7" y="480.5" font-size="8.4" text-anchor="middle" font-weight="normal" font-style="normal" fill="#1a1a1a" >MDS</text>
<text x="490" y="480.5" font-size="8.4" text-anchor="middle" font-weight="normal" font-style="normal" fill="#1a1a1a" >Fibroblasts</text>
<text transform="translate(384.3,386.9) rotate(-90)" font-size="8.9" text-anchor="middle" fill="#1a1a1a"><tspan font-style="italic">SAMD9L</tspan> c.2672T&gt;C (%)</text>
<rect x="0" y="0" width="520" height="1.2" fill="#000"/>
<rect x="0" y="0" width="1.3" height="500" fill="#000"/>
<rect x="518.2" y="0" width="1.8" height="500" fill="#000"/>
<rect x="0" y="498.2" width="520" height="1.8" fill="#000"/>
</svg>
</body></html>
